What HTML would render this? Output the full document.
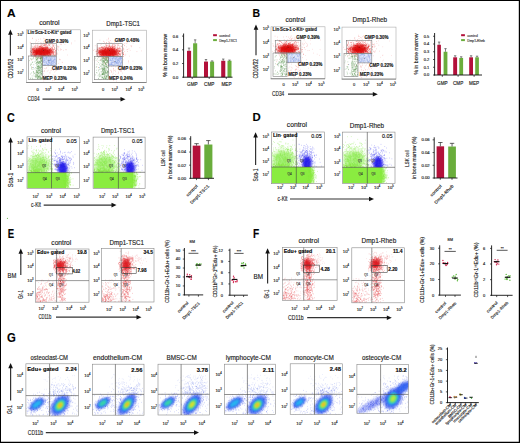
<!DOCTYPE html><html><head><meta charset="utf-8"><style>html,body{margin:0;padding:0;background:#fff;width:520px;height:443px;overflow:hidden}svg{display:block;font-family:"Liberation Sans",sans-serif}svg text{stroke:#222;stroke-width:.14px}</style></head><body><svg width="520" height="443" viewBox="0 0 520 443"><defs><filter id="b8" x="-50%" y="-50%" width="200%" height="200%"><feGaussianBlur stdDeviation="0.8"/></filter><filter id="b10" x="-50%" y="-50%" width="200%" height="200%"><feGaussianBlur stdDeviation="1.0"/></filter><filter id="b11" x="-50%" y="-50%" width="200%" height="200%"><feGaussianBlur stdDeviation="1.1"/></filter><filter id="b12" x="-50%" y="-50%" width="200%" height="200%"><feGaussianBlur stdDeviation="1.2"/></filter><filter id="b14" x="-50%" y="-50%" width="200%" height="200%"><feGaussianBlur stdDeviation="1.4"/></filter><filter id="b22" x="-50%" y="-50%" width="200%" height="200%"><feGaussianBlur stdDeviation="2.2"/></filter><clipPath id="c0"><rect x="26.5" y="29.8" width="54" height="52.7"/></clipPath><clipPath id="c1"><rect x="92.5" y="30.2" width="54" height="52.3"/></clipPath><clipPath id="c2"><rect x="271" y="26.8" width="54" height="52"/></clipPath><clipPath id="c3"><rect x="342" y="27.1" width="54" height="52"/></clipPath><clipPath id="c4"><rect x="27" y="136.8" width="52.4" height="51.6"/></clipPath><clipPath id="c5"><rect x="51.5" y="136.8" width="27.900000000000006" height="35.79999999999998"/></clipPath><clipPath id="c6"><rect x="93.1" y="137.1" width="52" height="51.5"/></clipPath><clipPath id="c7"><rect x="118.4" y="137.1" width="26.69999999999999" height="35.20000000000002"/></clipPath><clipPath id="c8"><rect x="271.3" y="132" width="53" height="51.7"/></clipPath><clipPath id="c9"><rect x="296.3" y="132" width="28.0" height="35"/></clipPath><clipPath id="c10"><rect x="342.3" y="132.1" width="52.7" height="51.5"/></clipPath><clipPath id="c11"><rect x="367.3" y="132.1" width="27.69999999999999" height="35.20000000000002"/></clipPath><clipPath id="c12"><rect x="35.5" y="249" width="53.5" height="53.2"/></clipPath><clipPath id="c13"><rect x="101.4" y="248.3" width="52.6" height="53.7"/></clipPath><clipPath id="c14"><rect x="282.3" y="247.5" width="54.8" height="52.9"/></clipPath><clipPath id="c15"><rect x="351.8" y="247.8" width="52.6" height="55"/></clipPath><clipPath id="c16"><rect x="25.9" y="363.8" width="52.5" height="52.2"/></clipPath><clipPath id="c17"><rect x="92.3" y="364.2" width="51.7" height="51"/></clipPath><clipPath id="c18"><rect x="158" y="364.2" width="51.5" height="50.8"/></clipPath><clipPath id="c19"><rect x="224.4" y="364.2" width="51.2" height="50.3"/></clipPath><clipPath id="c20"><rect x="290.2" y="363.8" width="52.3" height="50.7"/></clipPath><clipPath id="c21"><rect x="356.9" y="364.4" width="51.5" height="49"/></clipPath></defs><rect x="0" y="0" width="520" height="443" fill="#fff"/><text x="7" y="16.8" font-size="11.4" font-weight="bold" fill="#000" textLength="8.6" lengthAdjust="spacingAndGlyphs">A</text>
<text x="252.6" y="16.9" font-size="11.4" font-weight="bold" fill="#000" textLength="7.6" lengthAdjust="spacingAndGlyphs">B</text>
<text x="6.9" y="121.6" font-size="12.6" font-weight="bold" fill="#000" textLength="7.8" lengthAdjust="spacingAndGlyphs">C</text>
<text x="252.4" y="121.4" font-size="11.4" font-weight="bold" fill="#000" textLength="8.2" lengthAdjust="spacingAndGlyphs">D</text>
<text x="7.7" y="237.5" font-size="11.9" font-weight="bold" fill="#000" textLength="6.4" lengthAdjust="spacingAndGlyphs">E</text>
<text x="253.1" y="237.5" font-size="11.9" font-weight="bold" fill="#000" textLength="6.2" lengthAdjust="spacingAndGlyphs">F</text>
<text x="7" y="341.6" font-size="12.4" font-weight="bold" fill="#000" textLength="8.8" lengthAdjust="spacingAndGlyphs">G</text>
<text x="39.2" y="25.4" font-size="6.4" fill="#222" textLength="20.4" lengthAdjust="spacingAndGlyphs">control</text>
<g clip-path="url(#c0)">
<path transform="scale(.1)" d="M455 526h5M433 455h5M419 449h5M460 588h5M416 471h5M494 529h5M463 452h5M453 550h5M347 481h5M303 431h5M308 494h5M354 524h5M468 497h5M451 515h5M333 479h5M377 459h5M540 460h5M452 561h5M408 501h5M464 512h5M357 513h5M564 415h5M524 515h5M404 628h5M516 436h5M461 543h5M440 549h5M450 548h5M570 467h5M471 480h5M465 437h5M409 496h5M527 577h5M349 460h5M507 388h5M418 502h5M556 549h5M429 486h5M435 599h5M421 490h5M483 501h5M439 441h5M454 481h5M548 547h5M453 548h5M428 571h5M455 543h5M352 529h5M320 386h5M431 454h5M468 643h5M388 471h5M471 538h5M441 496h5M511 539h5M372 503h5M458 445h5M476 457h5M533 520h5M462 473h5M446 388h5M364 530h5M285 559h5M315 553h5M387 555h5M465 416h5M555 595h5M450 492h5M442 449h5M543 475h5M451 460h5M405 431h5M556 499h5M532 509h5M399 488h5M410 508h5M425 490h5M345 460h5M587 468h5M371 528h5M568 421h5M438 470h5M314 552h5M453 512h5M395 535h5M412 499h5M366 435h5M562 478h5M478 506h5M420 478h5M505 490h5M443 509h5M549 549h5M486 474h5M344 565h5M532 500h5M498 555h5M521 563h5M419 599h5M355 560h5M495 560h5M605 597h5M363 407h5M520 447h5M454 558h5M323 381h5M476 511h5M435 510h5M386 417h5M442 450h5M324 538h5M450 532h5M376 469h5M375 455h5M471 461h5M483 528h5M617 424h5M526 503h5M454 421h5M418 553h5M448 513h5M432 577h5M400 390h5M562 511h5M361 452h5M545 517h5M459 505h5M458 556h5M499 521h5M372 539h5M400 574h5M353 500h5M454 429h5M593 596h5M418 554h5M475 504h5M462 443h5M433 497h5M550 528h5M455 600h5M411 485h5M310 602h5M532 563h5M509 515h5M472 493h5M439 511h5M576 541h5M450 473h5M404 604h5M496 512h5M427 441h5M450 560h5M424 494h5M437 515h5M328 494h5M387 561h5M393 543h5M577 489h5M407 519h5M455 448h5M492 629h5M434 496h5M371 527h5M355 442h5M557 454h5M542 599h5M476 541h5M611 496h5M408 427h5M458 597h5M532 451h5M387 478h5M478 496h5M472 526h5M431 506h5M472 503h5M495 620h5M502 511h5M320 531h5M299 423h5M523 550h5M443 405h5M425 467h5M506 643h5M472 461h5M361 505h5M441 439h5M464 439h5M544 572h5M542 480h5M496 500h5M424 488h5M351 421h5M519 497h5M472 568h5M316 461h5M469 532h5M425 570h5M472 435h5M381 556h5M492 394h5M563 544h5M562 485h5M431 440h5M658 497h5M582 469h5M468 408h5M424 567h5M355 572h5M482 445h5M415 480h5M451 476h5M389 490h5M373 431h5M451 561h5M333 508h5M403 449h5M523 477h5M575 461h5M486 494h5M395 543h5M443 544h5M451 443h5M447 511h5M532 454h5M452 405h5M507 443h5M310 504h5M543 417h5M368 463h5M365 531h5M390 465h5M502 463h5M490 450h5M358 398h5M604 489h5M475 506h5M468 511h5M608 446h5M330 447h5M348 553h5M521 450h5M344 487h5M497 443h5M538 443h5M432 418h5M377 591h5M521 484h5M385 394h5M424 506h5M448 502h5M365 504h5M452 585h5M604 500h5M394 504h5M406 463h5M450 445h5M503 502h5M475 497h5M397 451h5M436 475h5M474 508h5M346 512h5M348 471h5M431 383h5M462 517h5M442 483h5M425 449h5M433 475h5M462 436h5M474 517h5M444 482h5M499 408h5M492 523h5M478 531h5M403 492h5M506 534h5M472 417h5M498 578h5M536 522h5M330 565h5M485 418h5M351 470h5M557 486h5M477 613h5M583 502h5M436 432h5M399 534h5M487 515h5M535 462h5M451 552h5M502 572h5M487 489h5M484 448h5" stroke="#e41a1c" stroke-width="5" stroke-opacity="0.6"/>
<path transform="scale(.1)" d="M544 659h5M481 756h5M425 586h5M535 633h5M459 769h5M445 684h5M537 680h5M521 807h5M455 647h5M462 578h5M556 665h5M463 606h5M523 588h5M443 708h5M539 804h5M441 711h5M497 728h5M430 648h5M502 709h5M544 754h5M437 714h5M463 766h5M532 704h5M510 617h5M469 712h5M513 689h5M489 609h5M546 721h5M466 770h5M531 601h5M514 703h5M529 749h5M478 668h5M526 635h5M523 660h5M479 702h5M429 738h5M560 706h5M525 594h5M454 770h5M527 796h5M464 593h5M491 630h5M545 611h5M488 778h5M465 793h5M468 579h5M436 650h5M456 616h5M463 684h5M449 796h5M434 585h5M490 610h5M455 688h5M528 697h5M554 752h5M463 676h5M505 603h5M496 655h5M436 811h5M442 753h5M549 597h5M491 768h5M538 645h5M434 761h5M508 571h5M546 783h5M546 608h5M426 681h5M498 731h5" stroke="#e41a1c" stroke-width="5" stroke-opacity="0.5"/>
<path transform="scale(.1)" d="M657 497h5M581 634h5M576 479h5M608 443h5M557 538h5M593 591h5M574 697h5M647 445h5M623 626h5M674 550h5M607 440h5M552 709h5M618 621h5M711 439h5M601 688h5M634 431h5M711 428h5M634 504h5M740 698h5M747 409h5" stroke="#e41a1c" stroke-width="5" stroke-opacity="0.45"/>
<ellipse cx="42.5" cy="52.1" rx="10" ry="4.2" fill="#e00c0c" fill-opacity="0.92" filter="url(#b14)"/>
<path transform="scale(.1)" d="M459 562h6M318 543h6M401 500h6M455 492h6M323 501h6M444 529h6M523 514h6M320 497h6M360 483h6M448 501h6M413 531h6M427 539h6M422 557h6M448 532h6M447 476h6M409 512h6M433 479h6M526 523h6M341 469h6M402 517h6M373 523h6M378 537h6M373 519h6M355 506h6M365 544h6M345 505h6M418 491h6M358 506h6M393 524h6M408 467h6M390 544h6M456 518h6M362 539h6M382 485h6M434 555h6M389 548h6M381 515h6M387 517h6M441 556h6M388 468h6M402 520h6M427 560h6M441 544h6M348 546h6M556 543h6M436 525h6M536 492h6M413 534h6M468 507h6M440 512h6M428 516h6M346 519h6M477 491h6M404 540h6M350 525h6M351 554h6M406 542h6M428 523h6M521 480h6M489 519h6M512 526h6M376 528h6M468 521h6M452 504h6M465 524h6M424 551h6M390 499h6M408 556h6M330 556h6M378 487h6M502 517h6M335 509h6M481 556h6M392 532h6M466 501h6M443 519h6M385 505h6M424 521h6M383 507h6M492 526h6M478 556h6M366 544h6M531 461h6M357 540h6M471 542h6M415 534h6M462 518h6M487 452h6M461 489h6M482 513h6M362 531h6M361 493h6M318 519h6M452 551h6M411 551h6M421 517h6M457 552h6M398 513h6M410 522h6M361 551h6M394 534h6M366 531h6M445 507h6M551 531h6M536 549h6M377 509h6M448 522h6M423 511h6M302 513h6M373 499h6M406 528h6M327 468h6M351 459h6M351 540h6M331 529h6M399 518h6M433 524h6M357 538h6M404 545h6M477 509h6M369 512h6M330 524h6M348 494h6M394 550h6M367 499h6M478 546h6M396 486h6M319 499h6M379 534h6M541 555h6M345 546h6M495 498h6M358 517h6M402 513h6M431 528h6M406 554h6M374 524h6M434 493h6M378 544h6M443 500h6M325 529h6M434 514h6M385 514h6M384 542h6M394 507h6M342 519h6M362 515h6M488 531h6M453 531h6M424 516h6M400 543h6M350 560h6M422 498h6M388 500h6M430 498h6M494 497h6M489 539h6M333 497h6M536 530h6M420 552h6M429 531h6M460 502h6M351 522h6M358 518h6M365 516h6M409 533h6M488 505h6M367 471h6M360 536h6M423 490h6M396 521h6M453 502h6M404 465h6M434 509h6M367 518h6M420 518h6M364 504h6M435 539h6M478 505h6M480 555h6M494 562h6M411 515h6M474 479h6M434 504h6M396 468h6M362 519h6M478 550h6M415 514h6M366 532h6M404 538h6M534 519h6M323 494h6M325 484h6M505 527h6M321 540h6M502 509h6M376 510h6M438 539h6M497 556h6M497 561h6M463 474h6M411 529h6M395 547h6M397 492h6M514 540h6M434 548h6M489 530h6M390 490h6M433 556h6M388 486h6M552 506h6M340 527h6M448 499h6M471 505h6M360 525h6M470 501h6M441 517h6M510 518h6M412 542h6M478 558h6M441 502h6M385 535h6M458 562h6M447 552h6M519 525h6M323 485h6M365 557h6M485 517h6M407 523h6M431 504h6M309 528h6M361 526h6M475 518h6M470 472h6M492 502h6M460 525h6M439 528h6M537 521h6M406 471h6M467 558h6M455 490h6M507 483h6M406 528h6M477 532h6M445 497h6M336 522h6M374 481h6M338 505h6M314 525h6M323 500h6M479 513h6M398 485h6M334 530h6M440 479h6M356 536h6M458 501h6M460 537h6M304 511h6M447 503h6M347 549h6M500 549h6M430 485h6M461 499h6M419 484h6M408 454h6M309 523h6M356 515h6M504 519h6M499 497h6M398 547h6M339 512h6M334 524h6M526 497h6M435 493h6M345 483h6M451 499h6M466 510h6M472 529h6M438 538h6M382 508h6M308 507h6M328 516h6M358 523h6M449 477h6M367 492h6M475 510h6M515 475h6M517 500h6M523 489h6M431 514h6M427 476h6M376 534h6M434 556h6M373 528h6M506 492h6M454 518h6M352 510h6M387 505h6M469 540h6M382 493h6M438 517h6M475 519h6M409 494h6M361 490h6M394 507h6M468 508h6M407 483h6M527 535h6M536 544h6M517 513h6M340 555h6M530 533h6M470 558h6M376 533h6M362 499h6M379 516h6M430 534h6M497 542h6M396 517h6M456 533h6M308 543h6M486 531h6M341 525h6M518 514h6M392 524h6M359 547h6M336 541h6M413 440h6M420 487h6M345 487h6M516 524h6M523 530h6M361 518h6M502 549h6M420 522h6M412 502h6M549 520h6M344 505h6M469 540h6M411 499h6M422 468h6M333 545h6M388 532h6M501 540h6M465 509h6M469 533h6M363 522h6M409 459h6M408 511h6M391 469h6M396 519h6M427 485h6M462 483h6M405 560h6M374 504h6M492 508h6M400 527h6M490 452h6M365 489h6M348 494h6M364 529h6M361 524h6M447 498h6M441 500h6M416 492h6M438 546h6M366 514h6M494 505h6M432 489h6M366 504h6M561 508h6M386 503h6M409 540h6M438 538h6M326 516h6M416 513h6M395 507h6M403 513h6M446 482h6M359 529h6M429 509h6M383 495h6M416 555h6M475 506h6M471 476h6M307 481h6M393 510h6M387 523h6M328 500h6M393 485h6M331 490h6M419 538h6M457 490h6M369 492h6M449 459h6M500 505h6M369 530h6M487 530h6M488 524h6M500 557h6M431 523h6M360 511h6M471 481h6M462 530h6M438 454h6M413 539h6M370 523h6M377 546h6M300 541h6M405 544h6M360 501h6M566 495h6M374 512h6M354 556h6M532 499h6M308 555h6M492 545h6M495 494h6M409 478h6M328 549h6M425 501h6M452 483h6M444 561h6M388 497h6M486 524h6M348 509h6M371 529h6M427 555h6M466 473h6M446 547h6M450 551h6M384 491h6M480 488h6M373 511h6M329 480h6M345 509h6M444 451h6M469 485h6M351 540h6M415 474h6M540 494h6M436 526h6M512 506h6M486 498h6M493 497h6M441 523h6M566 531h6M367 542h6M343 554h6M498 503h6M379 525h6M421 491h6M457 459h6M392 508h6M402 529h6M340 538h6M408 500h6M331 485h6M443 491h6M424 552h6M401 487h6M486 529h6M493 520h6M498 545h6M467 535h6M446 527h6M435 550h6M413 550h6M414 513h6M552 511h6M337 499h6M433 548h6M355 531h6M375 538h6M440 489h6M419 512h6M455 507h6M437 551h6M512 504h6M473 513h6M416 517h6M420 553h6M428 515h6M402 530h6M362 505h6M417 503h6M412 502h6M550 560h6M449 518h6M562 530h6M414 529h6M363 541h6M399 518h6M480 558h6M348 510h6M329 524h6M413 510h6M376 508h6M371 536h6M519 462h6M412 507h6M452 491h6M410 489h6M465 523h6M410 531h6M404 473h6M459 529h6M410 550h6M499 487h6M512 498h6M343 501h6M388 472h6M422 482h6M341 547h6M376 518h6M461 544h6M398 521h6M462 487h6M420 541h6M509 504h6M414 482h6M436 525h6M427 482h6M364 509h6M442 515h6M362 544h6M385 505h6M330 496h6M462 471h6M415 542h6M395 527h6M347 559h6M492 527h6M306 489h6M439 557h6M380 514h6M420 533h6M321 548h6M506 486h6M332 531h6M377 449h6M473 525h6M429 497h6M427 489h6M370 532h6M384 506h6M528 546h6M472 536h6M358 512h6M330 510h6M377 520h6M397 498h6M343 522h6M307 523h6M421 500h6M354 478h6M542 480h6" stroke="#dd1111" stroke-width="6" stroke-opacity="0.85"/>
<path transform="scale(.1)" d="M365 742h6M365 573h6M359 677h6M386 704h6M333 579h6M355 634h6M351 772h6M376 792h6M318 759h6M293 606h6M302 740h6M313 669h6M401 606h6M383 676h6M387 776h6M348 765h6M303 656h6M350 582h6M402 771h6M356 790h6M372 683h6M339 619h6M310 690h6M371 725h6M353 676h6M335 647h6M324 624h6M380 635h6M331 579h6M365 625h6M324 782h6M388 570h6M339 732h6M352 746h6M411 659h6M383 702h6M386 618h6M334 718h6M399 727h6M340 733h6M418 679h6M406 786h6M376 763h6M398 697h6M361 722h6M385 630h6M306 780h6M419 713h6M394 769h6M309 633h6M322 789h6M365 592h6M389 687h6M309 593h6M415 611h6M335 740h6M419 583h6M388 654h6M353 611h6M337 759h6M303 587h6M301 644h6M372 761h6M391 723h6M408 726h6M337 791h6M412 573h6M329 718h6M412 736h6M409 736h6M310 729h6M402 584h6M381 587h6M381 742h6M399 706h6M360 627h6M356 570h6M338 688h6M402 588h6M407 736h6M311 645h6M390 750h6M326 590h6M314 679h6M316 590h6M365 744h6M326 694h6M321 621h6M303 785h6M332 721h6M377 710h6M411 738h6M380 573h6M416 593h6M374 728h6M419 780h6M359 709h6M403 773h6M374 581h6M383 769h6M396 765h6M358 709h6M370 665h6M362 727h6M403 623h6M369 718h6M387 724h6M376 689h6M370 627h6M416 568h6M388 612h6M397 756h6M401 616h6M408 585h6M372 623h6M360 685h6M385 700h6M366 765h6M356 760h6M415 786h6M396 767h6M382 669h6M364 600h6M404 783h6M390 619h6M366 708h6M419 628h6M417 752h6M415 613h6M409 663h6M390 617h6M375 762h6M397 707h6M365 710h6M395 639h6M359 608h6M356 761h6M402 740h6M377 733h6M400 792h6M406 694h6M409 608h6M395 705h6M410 633h6M398 683h6M415 671h6M413 695h6M358 775h6M372 750h6M380 661h6M371 752h6M366 762h6M412 742h6M357 692h6M367 770h6M404 679h6M370 592h6M372 629h6M418 716h6M405 653h6M384 663h6M364 658h6M372 611h6M419 589h6M406 579h6M360 719h6M401 641h6M379 671h6M402 778h6M374 709h6M363 750h6M356 740h6M374 783h6M411 583h6M413 654h6M399 782h6M404 672h6M368 781h6M378 610h6M413 582h6M419 769h6M384 661h6M405 682h6M416 779h6M420 617h6M374 786h6M398 657h6M380 624h6M385 621h6M385 685h6M373 673h6M356 767h6M405 579h6M400 578h6M410 602h6M365 704h6M370 744h6M394 676h6M416 706h6M386 713h6M368 572h6M394 623h6M417 792h6M411 642h6M413 781h6M382 679h6M372 618h6M412 569h6M406 617h6M410 640h6M380 667h6M374 669h6M371 691h6M412 675h6M415 575h6M379 628h6M412 784h6M380 574h6M384 733h6M392 675h6M369 727h6M372 643h6M372 651h6M372 684h6M389 773h6M362 642h6M406 587h6M366 577h6M384 766h6M397 639h6M364 595h6M382 702h6M392 758h6M391 703h6M413 602h6M406 659h6M363 628h6M409 572h6M391 785h6M399 671h6M365 598h6M386 767h6M400 790h6M407 752h6M407 625h6M369 611h6M409 686h6M392 699h6M398 766h6M410 786h6M381 773h6M415 645h6M412 700h6M408 596h6M380 685h6M389 584h6M366 593h6M404 595h6M413 636h6M365 638h6M403 727h6M400 585h6M357 593h6M415 716h6M386 719h6M372 728h6M357 730h6M406 717h6M377 692h6M388 735h6M368 586h6M394 616h6M381 735h6M407 611h6M398 687h6M402 627h6M371 665h6M359 756h6M412 717h6M416 668h6M397 630h6M415 749h6M401 716h6M394 667h6M382 764h6M378 724h6M387 789h6M369 717h6M383 770h6M388 692h6M357 728h6M381 758h6M373 588h6M396 675h6M408 704h6M395 581h6M398 746h6M395 729h6M372 779h6M379 652h6M410 674h6M416 773h6M367 661h6M356 756h6M417 663h6M411 644h6M394 630h6M408 616h6M394 665h6M414 604h6M371 754h6M384 787h6M399 590h6M369 580h6M401 569h6M372 778h6M401 585h6M407 721h6M383 636h6M419 613h6" stroke="#4d8c43" stroke-width="6" stroke-opacity="0.75"/>
<rect x="42.5" y="56" width="13.8" height="9.6" fill="#dfe6f8"/>
<path transform="scale(.1)" d="M461 631h6M519 653h6M430 576h6M542 654h6M503 607h6M459 583h6M456 598h6M514 597h6M511 645h6M470 612h6M472 571h6M489 629h6M548 609h6M499 637h6M539 569h6M513 642h6M502 644h6M493 566h6M518 607h6M493 576h6M524 612h6M452 573h6M471 644h6M543 581h6M480 624h6M539 623h6M552 594h6M504 584h6M441 646h6M528 569h6M516 588h6M466 594h6M542 617h6M492 598h6M436 575h6M437 616h6M458 629h6M508 628h6M536 609h6M441 592h6M431 566h6M510 612h6M482 621h6M486 604h6M536 650h6M549 583h6M556 637h6M531 629h6M428 645h6M448 647h6M506 586h6M554 647h6M439 601h6M496 625h6M480 650h6M482 618h6M463 617h6M464 571h6M459 618h6M442 586h6M501 600h6M487 599h6M522 652h6M512 622h6M554 630h6M473 580h6M544 592h6M479 643h6M515 576h6M534 650h6M480 603h6M487 600h6M511 611h6M443 604h6M498 607h6M441 603h6M458 627h6M510 590h6M556 580h6M560 604h6M462 573h6M447 605h6M496 609h6M486 635h6M478 575h6M529 600h6M522 634h6M502 595h6M510 639h6M505 629h6M517 569h6M550 599h6M553 633h6M557 612h6M541 625h6M442 653h6M488 625h6M531 614h6M467 640h6M508 603h6M435 566h6M455 589h6M481 618h6M437 649h6M484 619h6M458 590h6M542 653h6M470 601h6M478 585h6M534 614h6M502 596h6M435 575h6M457 628h6M509 627h6M454 652h6M461 577h6M510 646h6M493 636h6M464 588h6M502 608h6M512 621h6M433 593h6M464 575h6M469 640h6M544 580h6M435 609h6M474 604h6M454 645h6M520 615h6M535 603h6M436 652h6M542 596h6M520 630h6M457 586h6M549 632h6M467 632h6M532 639h6M438 608h6M488 585h6M495 621h6M546 646h6M538 593h6M500 567h6M435 581h6M485 648h6M478 566h6M559 570h6M518 574h6M481 644h6M476 599h6M529 627h6M441 628h6M536 604h6M517 630h6M485 606h6M522 613h6M481 592h6M447 565h6M483 618h6M435 589h6M439 589h6M486 643h6M537 597h6M455 574h6M494 621h6M557 613h6M537 570h6M547 596h6M517 619h6M506 590h6M505 653h6M507 636h6M489 610h6M476 646h6M460 568h6M437 585h6M477 646h6M530 610h6M501 580h6M450 616h6M535 630h6M433 619h6M551 569h6M514 568h6M501 601h6M482 566h6M537 572h6M429 622h6M430 604h6M497 573h6M467 643h6M481 598h6M499 644h6M434 619h6M558 620h6M517 603h6M441 625h6M525 587h6M498 588h6M519 643h6" stroke="#7c98e4" stroke-width="6" stroke-opacity="0.7"/>
<g fill="none" stroke="#808080" stroke-width="0.6">
<rect x="31.1" y="43.3" width="25.2" height="12.7" fill="none"/>
<rect x="28.5" y="56" width="14" height="23.3" fill="none"/>
<rect x="42.5" y="56" width="13.8" height="9.6" fill="none"/>
</g>
<text x="42.7" y="50.6" font-size="2.5" fill="#222">•</text>
<text x="48.5" y="61.3" font-size="2.5" fill="#222">•</text>
<text x="32.5" y="67.8" font-size="2.5" fill="#222">•</text>
</g>
<rect x="26.5" y="29.8" width="54" height="52.7" fill="none" stroke="#aaa" stroke-width="0.6"/>
<line x1="26.2" y1="82.5" x2="80.5" y2="82.5" stroke="#666" stroke-width="0.7"/>
<text x="27.6" y="33.6" font-size="4.9" font-weight="bold" fill="#151515" textLength="43.9" lengthAdjust="spacingAndGlyphs">Lin<tspan dy="-1.5" font-size="3">-</tspan><tspan dy="1.5">Sca-1</tspan><tspan dy="-1.5" font-size="3">-</tspan><tspan dy="1.5">c-Kit</tspan><tspan dy="-1.5" font-size="3">+</tspan><tspan dy="1.5"> gated</tspan></text>
<text x="45" y="42.5" font-size="4.9" font-weight="bold" fill="#151515" textLength="23.4" lengthAdjust="spacingAndGlyphs">GMP 0.39%</text>
<text x="52" y="70.4" font-size="4.9" font-weight="bold" fill="#151515" textLength="24.5" lengthAdjust="spacingAndGlyphs">CMP 0.22%</text>
<text x="42.7" y="79.5" font-size="4.9" font-weight="bold" fill="#151515" textLength="24.3" lengthAdjust="spacingAndGlyphs">MEP 0.23%</text>
<text x="17.3" y="36.4" font-size="4.3" fill="#222">10<tspan font-size="2.67" dy="-1.94">5</tspan></text>
<text x="17.3" y="48.9" font-size="4.3" fill="#222">10<tspan font-size="2.67" dy="-1.94">4</tspan></text>
<text x="17.3" y="61.4" font-size="4.3" fill="#222">10<tspan font-size="2.67" dy="-1.94">3</tspan></text>
<text x="17.3" y="74.4" font-size="4.3" fill="#222">10<tspan font-size="2.67" dy="-1.94">2</tspan></text>
<text x="37.5" y="90.8" font-size="4" text-anchor="middle" fill="#333">0</text>
<text x="45" y="90.8" font-size="4.3" fill="#222">10<tspan font-size="2.67" dy="-1.94">3</tspan></text>
<text x="58" y="90.8" font-size="4.3" fill="#222">10<tspan font-size="2.67" dy="-1.94">4</tspan></text>
<text x="71.5" y="90.8" font-size="4.3" fill="#222">10<tspan font-size="2.67" dy="-1.94">5</tspan></text>
<text x="106.3" y="25.7" font-size="6.4" fill="#222" textLength="33.7" lengthAdjust="spacingAndGlyphs">Dmp1-TSC1</text>
<g clip-path="url(#c1)">
<path transform="scale(.1)" d="M1153 523h5M1269 429h5M1267 497h5M1126 491h5M1170 517h5M1024 569h5M1171 548h5M1196 578h5M1113 431h5M1004 593h5M1172 518h5M1080 514h5M1117 492h5M1059 642h5M1133 476h5M1011 468h5M1173 558h5M1098 515h5M1091 446h5M1219 534h5M1313 467h5M1104 565h5M1095 429h5M1039 518h5M1142 506h5M1195 572h5M1141 514h5M1095 545h5M1189 516h5M1151 493h5M1002 452h5M1176 539h5M1242 515h5M1184 591h5M1195 475h5M1100 520h5M1036 540h5M1197 483h5M1273 495h5M1099 498h5M1058 537h5M1117 612h5M1164 544h5M1097 427h5M1108 461h5M1191 510h5M1248 556h5M1182 526h5M1132 551h5M1189 469h5M1154 669h5M1108 497h5M1060 425h5M1210 516h5M1139 623h5M1316 459h5M1199 549h5M1147 541h5M1113 607h5M1164 533h5M1215 566h5M1152 532h5M1256 543h5M1108 461h5M1088 449h5M1124 528h5M951 513h5M1167 522h5M1039 588h5M1060 438h5M1029 511h5M1194 582h5M1132 441h5M1063 458h5M1101 406h5M1124 551h5M1103 540h5M1040 425h5M1064 581h5M1197 485h5M1211 493h5M1236 541h5M1079 560h5M1053 456h5M999 528h5M1111 507h5M1082 598h5M1081 469h5M1215 597h5M1142 408h5M1067 549h5M1116 605h5M1006 553h5M1065 591h5M1109 574h5M1063 427h5M1026 476h5M1033 584h5M1222 528h5M1032 505h5M1060 599h5M1140 541h5M1083 391h5M1053 445h5M1145 518h5M1051 489h5M1240 454h5M1042 498h5M1059 486h5M1158 616h5M973 511h5M1118 507h5M1100 492h5M1195 484h5M1105 512h5M1124 502h5M1195 511h5M1129 509h5M1035 462h5M1031 524h5M1058 448h5M1134 544h5M974 613h5M1118 506h5M1200 516h5M1067 644h5M1029 506h5M1183 448h5M1107 535h5M1307 458h5M1111 552h5M1121 440h5M1148 518h5M1151 580h5M1196 536h5M1140 446h5M1104 525h5M1083 518h5M1049 604h5M1287 489h5M1147 498h5M1216 538h5M1121 499h5M1125 452h5M1169 469h5M1158 520h5M1203 511h5M1197 457h5M1164 499h5M1131 516h5M1190 391h5M1141 422h5M1212 394h5M1035 412h5M1246 435h5M1124 480h5M971 492h5M1168 501h5M1190 490h5M1116 489h5M1142 626h5M1144 524h5M1066 467h5M1232 445h5M1042 506h5M1081 629h5M1172 445h5M1063 538h5M1245 457h5M989 570h5M1237 492h5M938 599h5M1099 579h5M1112 489h5M1079 600h5M1230 384h5M1040 619h5M1086 430h5M1115 505h5M1107 483h5M1090 485h5M1142 463h5M1092 503h5M1219 534h5M1106 544h5M1147 577h5M1156 620h5M1223 510h5M1082 565h5M1156 506h5M997 402h5M1143 558h5M1179 435h5M1198 480h5M1146 537h5M1051 477h5M949 457h5M971 538h5M1120 567h5M1144 474h5M1143 489h5M1164 531h5M1036 512h5M1119 494h5M1187 615h5M1086 491h5M935 504h5M1080 382h5M1138 547h5M1056 490h5M1038 558h5M994 493h5M1271 515h5M1152 503h5M1021 510h5M1148 451h5M1142 587h5M1201 417h5M1037 415h5M1201 549h5M1171 459h5M1022 517h5M1123 461h5M1126 551h5M1133 450h5M946 496h5M1128 496h5M1081 471h5M1172 509h5M1125 454h5M1065 522h5M1035 436h5M1089 584h5M1130 600h5M1104 493h5M1004 477h5M1230 532h5M1174 554h5M1114 500h5M1125 552h5M1152 542h5M1127 466h5M1094 456h5M1195 386h5M1098 655h5M1088 444h5M1114 589h5M1102 549h5M1123 490h5M1367 516h5M1072 483h5M1145 537h5M1177 520h5M1000 544h5M1090 495h5M996 478h5M1057 510h5M999 515h5M1125 445h5M1065 461h5M1088 412h5M1080 563h5M1065 520h5M1047 628h5M1188 580h5M1009 446h5M1201 500h5M1094 532h5M1015 558h5M1116 541h5M1061 543h5M1059 569h5M1205 567h5M1156 550h5M1093 518h5M1092 429h5M1072 552h5M1228 475h5M1043 599h5M1044 636h5M1119 459h5M1194 614h5M1000 606h5M1092 601h5M1085 417h5M1155 568h5M1283 615h5M1171 498h5M1073 494h5M1049 496h5M1113 666h5M1176 483h5M1160 438h5M1067 400h5M1230 548h5" stroke="#e41a1c" stroke-width="5" stroke-opacity="0.6"/>
<path transform="scale(.1)" d="M1129 667h5M1156 607h5M1183 720h5M1212 623h5M1217 661h5M1200 704h5M1134 806h5M1209 608h5M1184 590h5M1109 703h5M1218 801h5M1120 583h5M1180 728h5M1182 579h5M1212 706h5M1178 601h5M1223 732h5M1093 660h5M1090 731h5M1112 635h5M1166 590h5M1144 616h5M1097 639h5M1113 612h5M1166 620h5M1141 704h5M1192 678h5M1150 773h5M1208 693h5M1191 703h5M1154 745h5M1135 779h5M1115 714h5M1126 581h5M1135 684h5M1136 580h5M1110 719h5M1151 588h5M1101 703h5M1207 608h5M1162 780h5M1098 595h5M1131 732h5M1121 743h5M1107 639h5M1152 716h5M1111 652h5M1106 635h5M1183 635h5M1145 576h5M1179 736h5M1151 589h5M1156 620h5M1128 593h5M1145 767h5M1152 701h5M1133 686h5M1201 714h5M1119 768h5M1116 724h5M1133 697h5M1195 648h5M1204 698h5M1164 812h5M1135 710h5M1176 688h5M1201 788h5M1119 585h5M1178 587h5M1184 764h5" stroke="#e41a1c" stroke-width="5" stroke-opacity="0.5"/>
<path transform="scale(.1)" d="M1412 509h5M1216 626h5M1210 717h5M1207 465h5M1332 679h5M1235 599h5M1328 434h5M1351 407h5M1208 685h5M1396 477h5M1261 436h5M1327 612h5M1283 628h5M1281 688h5M1294 562h5M1206 502h5M1299 504h5M1263 468h5M1284 605h5M1241 704h5" stroke="#e41a1c" stroke-width="5" stroke-opacity="0.45"/>
<ellipse cx="108.5" cy="52.5" rx="10" ry="4.2" fill="#e00c0c" fill-opacity="0.92" filter="url(#b14)"/>
<path transform="scale(.1)" d="M1056 520h6M1130 562h6M1054 515h6M1101 515h6M1067 495h6M1085 561h6M1052 509h6M1035 520h6M1199 489h6M1186 494h6M1065 549h6M1121 532h6M973 535h6M1066 530h6M1005 510h6M996 553h6M1063 541h6M1036 509h6M1164 495h6M963 536h6M1006 511h6M1139 499h6M1137 504h6M1177 564h6M1049 518h6M1026 530h6M1155 481h6M1140 484h6M1024 470h6M1217 526h6M1096 504h6M1149 461h6M1055 525h6M1124 500h6M1081 553h6M1093 535h6M1057 533h6M1127 517h6M1129 496h6M1140 492h6M1050 531h6M1160 523h6M1073 508h6M1186 556h6M1074 482h6M1029 541h6M1033 551h6M1103 533h6M1122 539h6M1024 514h6M1232 488h6M1049 556h6M1070 500h6M994 540h6M1146 566h6M1083 555h6M1013 529h6M1036 529h6M1129 556h6M1016 562h6M1049 493h6M1069 480h6M1080 533h6M1067 540h6M1060 524h6M986 525h6M1025 511h6M1074 530h6M973 477h6M1060 538h6M1103 551h6M1165 539h6M1079 493h6M1019 510h6M1097 531h6M1080 519h6M1121 530h6M1099 533h6M1044 493h6M1112 537h6M1066 512h6M1228 501h6M1066 532h6M1005 528h6M1197 552h6M1121 542h6M1087 553h6M1070 511h6M1087 551h6M1101 544h6M1232 564h6M1059 499h6M1098 494h6M1127 508h6M1142 565h6M1035 482h6M1040 517h6M1147 478h6M1119 540h6M1079 489h6M1115 536h6M1127 537h6M1182 484h6M1006 513h6M1037 545h6M1179 547h6M1055 543h6M1133 492h6M1103 545h6M1159 499h6M1088 499h6M1118 498h6M1140 536h6M1143 520h6M1069 565h6M1108 544h6M1199 534h6M1171 479h6M1137 517h6M1071 524h6M1033 559h6M1052 538h6M1054 544h6M1146 512h6M1083 481h6M1100 550h6M1044 558h6M990 509h6M1081 522h6M1076 546h6M1049 486h6M1175 539h6M1026 524h6M1136 560h6M1022 547h6M1096 557h6M1170 514h6M986 536h6M1195 545h6M1012 551h6M1043 525h6M1019 508h6M976 539h6M1050 537h6M1010 513h6M1148 519h6M1121 540h6M1057 477h6M1144 529h6M1144 464h6M972 460h6M1023 555h6M1117 523h6M1089 547h6M1060 536h6M1089 458h6M1055 565h6M1054 520h6M1041 509h6M1153 516h6M1043 465h6M961 548h6M1126 466h6M1135 538h6M1029 546h6M974 488h6M986 491h6M1137 484h6M1005 495h6M1093 514h6M1136 503h6M996 509h6M1082 496h6M1042 525h6M1167 504h6M1024 491h6M1105 539h6M1069 525h6M1162 549h6M988 523h6M1085 545h6M1064 504h6M1049 470h6M1077 505h6M1108 492h6M1050 494h6M1009 544h6M1048 536h6M1005 526h6M968 509h6M1045 540h6M1089 518h6M1132 528h6M1112 546h6M1073 514h6M1098 510h6M1102 556h6M1133 511h6M994 521h6M1069 556h6M1052 516h6M1125 508h6M1174 541h6M1094 494h6M1113 524h6M1091 507h6M1076 517h6M1097 565h6M1100 473h6M1014 475h6M1025 539h6M1103 505h6M1094 500h6M985 480h6M1021 565h6M990 560h6M1163 517h6M1074 504h6M1075 542h6M1077 552h6M1154 533h6M1098 521h6M1099 489h6M1103 529h6M1014 496h6M1095 464h6M1025 477h6M1014 518h6M1097 555h6M1129 558h6M1115 508h6M1149 508h6M1128 529h6M1125 549h6M988 520h6M1000 526h6M1033 563h6M1110 498h6M1075 486h6M1079 539h6M1093 464h6M1055 538h6M1096 557h6M993 538h6M1034 528h6M1103 543h6M1039 528h6M1000 480h6M1112 521h6M971 497h6M1144 546h6M960 519h6M1107 534h6M1103 515h6M1070 493h6M1210 506h6M1015 531h6M1054 538h6M1115 522h6M1149 514h6M1023 508h6M1079 491h6M1025 506h6M1052 493h6M1006 527h6M1232 544h6M1125 477h6M1075 487h6M1126 515h6M1079 520h6M1038 477h6M1114 481h6M999 513h6M1030 530h6M1142 530h6M1089 523h6M1132 467h6M1100 494h6M996 522h6M1051 540h6M1148 452h6M1133 566h6M1083 479h6M1003 544h6M1138 500h6M1059 530h6M962 512h6M1042 498h6M1098 528h6M1053 517h6M1141 504h6M1082 534h6M1139 525h6M1188 515h6M1037 508h6M1142 530h6M1023 533h6M1111 543h6M1026 550h6M1198 510h6M1125 476h6M1079 528h6M1039 514h6M1063 473h6M1159 541h6M1121 528h6M1228 525h6M1110 467h6M1039 502h6M1075 533h6M1007 509h6M1092 485h6M1114 541h6M1082 531h6M1014 472h6M1036 513h6M1047 546h6M1040 507h6M1005 549h6M1050 529h6M1102 539h6M1157 517h6M1066 544h6M1105 515h6M1080 507h6M1123 551h6M977 516h6M1188 510h6M973 564h6M1112 487h6M1127 492h6M990 518h6M1046 490h6M1053 492h6M1081 522h6M1125 509h6M990 483h6M1132 503h6M1138 488h6M1143 511h6M1127 541h6M1059 532h6M1007 520h6M1123 525h6M1011 554h6M969 498h6M1100 486h6M1177 555h6M1040 506h6M991 480h6M1106 541h6M1100 531h6M1040 533h6M981 523h6M1173 562h6M1047 513h6M979 510h6M1092 559h6M1022 542h6M1105 519h6M1055 554h6M1121 490h6M1091 482h6M1028 484h6M991 502h6M1013 539h6M1129 515h6M1004 547h6M1125 542h6M1141 516h6M995 507h6M1114 500h6M1031 481h6M1001 548h6M1107 488h6M1007 506h6M1113 487h6M1066 458h6M995 535h6M1136 488h6M1027 547h6M1052 506h6M1111 529h6M1150 547h6M1040 519h6M1073 482h6M1014 552h6M974 553h6M1096 519h6M1112 537h6M1156 511h6M1062 515h6M1200 551h6M1017 513h6M1031 523h6M1106 502h6M1068 508h6M1081 553h6M978 562h6M1104 560h6M1114 556h6M1081 498h6M1121 544h6M1214 463h6M1065 555h6M996 516h6M1216 566h6M1020 566h6M1155 546h6M1103 530h6M1021 508h6M1126 527h6M1198 513h6M1096 535h6M1083 498h6M1175 503h6M1124 515h6M1000 566h6M1106 513h6M1127 520h6M1064 519h6M1008 501h6M1121 540h6M1079 502h6M1123 472h6M1056 516h6M1024 528h6M1035 499h6M1196 546h6M1157 525h6M1142 547h6M1064 531h6M989 524h6M1121 506h6M1153 562h6M1193 538h6M1069 513h6M1087 508h6M1150 547h6M1159 541h6M1028 519h6M1137 512h6M1042 558h6M1129 523h6M1065 537h6M1134 547h6M1060 537h6M1135 547h6M1030 517h6M1092 552h6M1120 520h6M1040 533h6M1182 534h6M1055 521h6M1148 538h6M1063 551h6M1108 527h6M1100 532h6M1058 510h6M1082 495h6M998 563h6M1064 523h6M1071 525h6M1081 526h6M1028 552h6M1035 555h6M1144 520h6M1036 535h6M1012 526h6M1038 540h6M1137 498h6M1185 506h6M1180 521h6M1038 502h6M1009 565h6M1067 453h6M1135 513h6M1063 559h6M1080 501h6M1113 506h6M1160 553h6M1084 542h6M1117 516h6M1138 517h6M1120 495h6M1087 536h6M1029 512h6M1045 546h6M1033 537h6M1179 535h6M976 528h6M1148 516h6M1153 543h6M1108 516h6M1047 517h6M1085 540h6M1108 515h6M1085 536h6M975 501h6M1029 518h6M1063 517h6M1024 545h6M1099 475h6M1082 491h6M1192 511h6M1055 527h6M1068 523h6M1182 531h6M1135 558h6M1126 553h6M1025 549h6M1108 508h6M1230 542h6M1066 530h6M1140 558h6M1119 561h6M1177 488h6M1050 496h6M1124 493h6M1062 555h6M1047 522h6M1101 470h6M1132 535h6M1118 495h6M1031 507h6M1098 527h6M1166 503h6M1061 566h6M1185 508h6M1064 527h6M1025 495h6M1055 550h6M1052 518h6M1051 484h6M1178 454h6M1039 541h6M991 543h6M1163 499h6M1095 491h6M1114 527h6M1095 566h6M1112 565h6M1122 489h6M1098 539h6M987 565h6M1086 536h6M1023 527h6M1101 515h6M1086 461h6M1170 491h6M1027 541h6M1022 533h6M1015 544h6M1019 542h6M1125 477h6M1007 490h6M983 503h6M1019 481h6M1087 541h6M996 508h6M1081 517h6M1035 549h6M1136 545h6M1194 512h6M1073 560h6M1029 536h6M1084 503h6M1066 477h6" stroke="#dd1111" stroke-width="6" stroke-opacity="0.85"/>
<path transform="scale(.1)" d="M980 625h6M1061 647h6M1027 624h6M994 693h6M1054 587h6M1034 694h6M965 665h6M980 573h6M1055 634h6M1055 790h6M960 702h6M1018 587h6M1043 702h6M992 730h6M958 602h6M1004 663h6M1072 620h6M1045 694h6M978 757h6M1060 626h6M1037 603h6M988 603h6M985 710h6M973 588h6M1003 690h6M997 754h6M987 744h6M1064 723h6M1049 574h6M1014 669h6M1075 627h6M1038 688h6M1074 606h6M1057 602h6M1032 786h6M1040 770h6M1051 594h6M1048 758h6M1064 587h6M994 648h6M997 796h6M982 784h6M1070 677h6M1067 730h6M1007 658h6M1002 763h6M967 643h6M1077 618h6M1037 605h6M1075 714h6M1032 698h6M1017 775h6M1047 605h6M1065 753h6M1060 784h6M995 740h6M1016 598h6M1073 607h6M1016 592h6M1054 647h6M1018 743h6M1058 605h6M959 673h6M950 582h6M962 725h6M1007 594h6M998 750h6M1075 710h6M1080 615h6M967 729h6M1058 651h6M1016 690h6M1059 697h6M998 633h6M1050 666h6M951 749h6M1011 767h6M993 763h6M983 700h6M989 768h6M1004 604h6M1014 793h6M1018 582h6M1045 774h6M1057 750h6M1075 660h6M1037 750h6M983 787h6M1025 609h6M1007 718h6M1015 752h6M1058 770h6M1019 685h6M1058 764h6M1017 638h6M1041 765h6M1071 791h6M1035 723h6M1078 789h6M1046 735h6M1027 728h6M1076 678h6M1025 585h6M1054 600h6M1076 758h6M1076 613h6M1051 726h6M1029 608h6M1048 742h6M1034 787h6M1035 711h6M1036 581h6M1028 738h6M1018 679h6M1064 767h6M1016 606h6M1052 635h6M1039 779h6M1057 760h6M1053 777h6M1046 689h6M1066 724h6M1052 782h6M1073 720h6M1053 592h6M1072 607h6M1071 573h6M1061 597h6M1036 578h6M1047 659h6M1020 711h6M1062 766h6M1057 664h6M1068 608h6M1020 777h6M1023 778h6M1057 792h6M1063 577h6M1020 705h6M1017 714h6M1036 692h6M1037 614h6M1018 779h6M1021 693h6M1028 580h6M1016 650h6M1025 736h6M1017 618h6M1039 747h6M1064 619h6M1058 669h6M1054 638h6M1045 601h6M1027 771h6M1018 649h6M1027 741h6M1077 773h6M1068 636h6M1052 573h6M1055 690h6M1063 625h6M1068 769h6M1031 609h6M1067 734h6M1057 578h6M1033 633h6M1034 616h6M1026 764h6M1051 707h6M1078 720h6M1066 591h6M1026 641h6M1023 773h6M1033 710h6M1026 742h6M1024 685h6M1063 618h6M1035 778h6M1052 631h6M1035 610h6M1079 718h6M1053 591h6M1024 744h6M1066 732h6M1034 658h6M1045 688h6M1034 682h6M1047 589h6M1035 590h6M1036 651h6M1025 573h6M1077 614h6M1028 654h6M1033 713h6M1042 688h6M1023 611h6M1030 743h6M1041 751h6M1053 721h6M1050 727h6M1039 629h6M1059 761h6M1063 704h6M1032 612h6M1031 726h6M1056 713h6M1042 700h6M1069 678h6M1016 745h6M1050 736h6M1038 705h6M1029 587h6M1071 624h6M1029 792h6M1066 663h6M1071 714h6M1078 602h6M1023 701h6M1025 709h6M1020 743h6M1036 790h6M1074 675h6M1057 642h6M1025 608h6M1022 647h6M1064 672h6M1056 789h6M1015 687h6M1053 724h6M1027 737h6M1034 575h6M1022 624h6M1079 694h6M1045 585h6M1055 606h6M1028 741h6M1039 724h6M1057 603h6M1064 599h6M1074 762h6M1031 678h6M1031 643h6M1041 734h6M1035 723h6M1068 796h6M1039 595h6M1039 745h6M1048 676h6M1052 628h6M1038 684h6M1016 577h6M1063 600h6M1022 596h6M1071 728h6M1031 731h6M1032 627h6M1050 641h6M1074 746h6M1040 659h6M1046 650h6M1042 785h6M1022 694h6M1034 693h6M1075 709h6M1076 581h6M1032 662h6M1075 749h6M1016 719h6M1062 772h6M1017 642h6M1043 679h6M1042 625h6M1043 614h6M1076 592h6M1038 617h6M1016 609h6M1022 671h6M1064 664h6M1023 744h6M1019 747h6M1028 694h6M1079 720h6M1044 677h6M1025 642h6M1058 685h6M1040 714h6M1051 787h6M1080 756h6M1060 587h6M1050 716h6M1080 592h6M1048 712h6M1044 763h6M1070 729h6M1077 599h6M1062 667h6M1039 616h6M1041 721h6M1016 732h6M1031 738h6M1065 652h6M1047 707h6M1071 619h6M1059 781h6M1052 783h6M1067 579h6M1047 699h6M1058 734h6M1047 624h6M1038 579h6M1065 572h6M1020 731h6M1079 575h6M1077 659h6M1069 752h6M1045 584h6M1044 731h6M1041 669h6M1045 660h6M1029 681h6" stroke="#4d8c43" stroke-width="6" stroke-opacity="0.75"/>
<rect x="108.5" y="56.4" width="13.8" height="9.6" fill="#dfe6f8"/>
<path transform="scale(.1)" d="M1134 588h6M1202 643h6M1176 615h6M1139 591h6M1104 571h6M1155 588h6M1220 629h6M1206 634h6M1097 601h6M1135 651h6M1150 614h6M1142 615h6M1103 604h6M1113 605h6M1159 601h6M1183 642h6M1183 608h6M1177 590h6M1177 608h6M1089 651h6M1117 626h6M1132 578h6M1122 606h6M1139 611h6M1141 570h6M1133 655h6M1089 651h6M1202 578h6M1214 618h6M1169 597h6M1124 588h6M1147 593h6M1208 574h6M1167 630h6M1180 602h6M1180 631h6M1217 642h6M1174 620h6M1102 600h6M1155 581h6M1210 627h6M1105 629h6M1095 639h6M1095 581h6M1097 573h6M1110 647h6M1190 623h6M1167 577h6M1185 632h6M1161 574h6M1135 625h6M1192 618h6M1110 633h6M1136 577h6M1143 650h6M1178 653h6M1188 657h6M1163 637h6M1168 597h6M1125 656h6M1166 624h6M1199 633h6M1146 628h6M1187 587h6M1155 645h6M1156 627h6M1168 589h6M1106 603h6M1116 582h6M1111 608h6M1159 657h6M1176 603h6M1181 604h6M1116 640h6M1132 576h6M1107 580h6M1174 635h6M1144 581h6M1124 623h6M1118 642h6M1213 619h6M1152 576h6M1219 587h6M1130 617h6M1116 654h6M1182 627h6M1208 631h6M1110 622h6M1202 598h6M1166 623h6M1207 570h6M1213 606h6M1144 641h6M1212 587h6M1112 627h6M1147 633h6M1147 583h6M1120 645h6M1152 591h6M1187 655h6M1102 600h6M1151 623h6M1157 653h6M1114 642h6M1173 612h6M1121 586h6M1163 624h6M1163 621h6M1187 575h6M1211 603h6M1210 651h6M1154 616h6M1123 585h6M1120 626h6M1192 609h6M1188 650h6M1193 613h6M1198 571h6M1163 583h6M1206 585h6M1175 654h6M1171 601h6M1198 600h6M1174 656h6M1189 587h6M1211 624h6M1140 653h6M1187 650h6M1127 583h6M1152 611h6M1203 591h6M1217 631h6M1213 591h6M1188 585h6M1200 593h6M1205 581h6M1169 633h6M1120 594h6M1090 605h6M1188 594h6M1188 603h6M1184 596h6M1165 600h6M1175 632h6M1183 584h6M1158 630h6M1175 600h6M1118 577h6M1159 580h6M1171 649h6M1163 573h6M1122 594h6M1105 646h6M1174 576h6M1103 588h6M1193 593h6M1112 643h6M1190 579h6M1135 653h6M1207 580h6M1118 619h6M1109 638h6M1177 619h6M1190 614h6M1134 608h6M1150 591h6M1175 657h6M1127 605h6M1139 626h6M1163 621h6M1128 655h6M1107 591h6M1208 583h6M1104 649h6M1218 614h6M1199 626h6M1147 625h6M1202 639h6M1096 644h6M1162 631h6M1135 569h6M1128 644h6M1206 573h6M1093 645h6M1202 569h6M1098 638h6M1177 626h6M1126 571h6M1158 636h6M1210 621h6M1193 580h6M1101 647h6M1128 622h6M1152 610h6M1183 653h6M1089 587h6M1202 585h6M1199 648h6M1214 583h6M1115 642h6" stroke="#7c98e4" stroke-width="6" stroke-opacity="0.7"/>
<g fill="none" stroke="#808080" stroke-width="0.6">
<rect x="97.1" y="43.7" width="25.2" height="12.7" fill="none"/>
<rect x="94.5" y="56.4" width="14" height="23.3" fill="none"/>
<rect x="108.5" y="56.4" width="13.8" height="9.6" fill="none"/>
</g>
<text x="108.7" y="51" font-size="2.5" fill="#222">•</text>
<text x="114.5" y="61.7" font-size="2.5" fill="#222">•</text>
<text x="98.5" y="68.2" font-size="2.5" fill="#222">•</text>
</g>
<rect x="92.5" y="30.2" width="54" height="52.3" fill="none" stroke="#aaa" stroke-width="0.6"/>
<line x1="92.2" y1="82.5" x2="146.5" y2="82.5" stroke="#666" stroke-width="0.7"/>
<text x="114.8" y="42.2" font-size="4.9" font-weight="bold" fill="#151515" textLength="24.4" lengthAdjust="spacingAndGlyphs">GMP 0.48%</text>
<text x="118" y="70.2" font-size="4.9" font-weight="bold" fill="#151515" textLength="24.4" lengthAdjust="spacingAndGlyphs">CMP 0.23%</text>
<text x="109" y="80" font-size="4.9" font-weight="bold" fill="#151515" textLength="23.8" lengthAdjust="spacingAndGlyphs">MEP 0.24%</text>
<text x="83.3" y="36.9" font-size="4.3" fill="#222">10<tspan font-size="2.67" dy="-1.94">5</tspan></text>
<text x="83.3" y="49.4" font-size="4.3" fill="#222">10<tspan font-size="2.67" dy="-1.94">4</tspan></text>
<text x="83.3" y="61.9" font-size="4.3" fill="#222">10<tspan font-size="2.67" dy="-1.94">3</tspan></text>
<text x="83.3" y="74.9" font-size="4.3" fill="#222">10<tspan font-size="2.67" dy="-1.94">2</tspan></text>
<text x="103.2" y="90.8" font-size="4" text-anchor="middle" fill="#333">0</text>
<text x="111.5" y="90.8" font-size="4.3" fill="#222">10<tspan font-size="2.67" dy="-1.94">3</tspan></text>
<text x="125.5" y="90.8" font-size="4.3" fill="#222">10<tspan font-size="2.67" dy="-1.94">4</tspan></text>
<text x="138" y="90.8" font-size="4.3" fill="#222">10<tspan font-size="2.67" dy="-1.94">5</tspan></text>
<text x="285.5" y="22" font-size="6.4" fill="#222" textLength="19.8" lengthAdjust="spacingAndGlyphs">control</text>
<g clip-path="url(#c2)">
<path transform="scale(.1)" d="M2777 508h5M2933 526h5M3049 496h5M2924 472h5M2910 458h5M2830 599h5M2753 494h5M2937 488h5M2824 467h5M2864 414h5M2897 454h5M2857 519h5M2816 505h5M2852 504h5M2906 493h5M2822 432h5M2831 488h5M2960 542h5M2860 483h5M2830 438h5M2775 371h5M2942 429h5M2765 616h5M2913 458h5M2953 432h5M3025 385h5M2794 469h5M2837 561h5M2770 433h5M2917 510h5M2978 497h5M3074 448h5M2912 527h5M2872 459h5M2860 437h5M2807 443h5M2774 499h5M2770 599h5M3032 542h5M2880 440h5M2994 486h5M2941 432h5M2981 428h5M2905 372h5M2844 505h5M2860 448h5M2959 471h5M2941 505h5M2773 397h5M2966 411h5M2845 511h5M2869 503h5M2827 493h5M2982 494h5M2721 514h5M2900 421h5M3007 371h5M3045 437h5M3021 472h5M2790 480h5M2922 507h5M2980 421h5M2935 519h5M2874 419h5M2819 520h5M2959 425h5M2789 549h5M2772 484h5M2831 370h5M2905 463h5M3010 610h5M2881 536h5M2979 443h5M2827 571h5M2866 473h5M2872 467h5M2847 519h5M2996 452h5M2786 478h5M2777 436h5M2993 613h5M2925 411h5M2840 566h5M2955 392h5M2763 526h5M2892 439h5M2928 440h5M2743 523h5M2844 415h5M2789 490h5M2831 512h5M2874 539h5M2865 436h5M2739 409h5M2953 657h5M2796 413h5M2922 503h5M2842 479h5M2768 457h5M2967 572h5M2882 459h5M2932 541h5M2934 430h5M2924 532h5M2839 395h5M2936 497h5M2973 480h5M2844 449h5M2814 418h5M2851 446h5M2984 402h5M2892 440h5M3014 491h5M2866 524h5M2901 447h5M3018 517h5M3034 544h5M2958 483h5M2810 517h5M2902 516h5M2896 434h5M2816 517h5M2999 458h5M2933 558h5M2830 455h5M2808 546h5M2917 448h5M2765 465h5M2976 458h5M2863 514h5M2799 479h5M2944 429h5M2831 490h5M2889 462h5M2913 489h5M2823 436h5M2933 543h5M3005 425h5M2984 521h5M2895 505h5M2963 582h5M2813 512h5M2886 464h5M2988 525h5M2817 459h5M2915 392h5M2966 472h5M2910 496h5M3041 478h5M2869 579h5M2858 445h5M2788 540h5M2919 504h5M2911 468h5M2835 430h5M2932 484h5M3027 431h5M2859 416h5M3007 403h5M2959 562h5M2887 519h5M2729 453h5M2767 487h5M2899 431h5M2973 497h5M2856 446h5M2782 465h5M3066 434h5M2931 444h5M2961 503h5M2880 371h5M2857 548h5M2879 514h5M2860 366h5M2932 495h5M2852 455h5M2921 441h5M2925 464h5M2851 427h5M2930 448h5M2941 541h5M2909 385h5M2840 531h5M2878 429h5M2891 507h5M2919 515h5M2833 460h5M2878 475h5M2733 463h5M2792 559h5M3021 576h5M2962 448h5M2974 465h5M2947 423h5M2852 504h5M3039 475h5M3077 640h5M2797 475h5M2823 469h5M2856 473h5M2975 533h5M2919 477h5M2908 485h5M2944 477h5M2939 399h5M2961 581h5M2913 393h5M3006 458h5M2947 500h5M2997 514h5M2909 360h5M2811 488h5M2953 416h5M2851 505h5M2748 362h5M2881 492h5M2901 398h5M2951 471h5M2920 515h5M2857 526h5M2997 501h5M3004 440h5M2972 493h5M2821 473h5M2857 444h5M2906 540h5M2874 485h5M2783 484h5M2990 525h5M2937 446h5M2822 472h5M2793 404h5M2974 423h5M3041 392h5M2933 408h5M2913 416h5M2902 468h5M2863 508h5M3019 442h5M2969 482h5M2897 608h5M2727 437h5M2756 459h5M2881 704h5M2927 584h5M3002 451h5M2937 577h5M2913 490h5M2939 388h5M2835 497h5M2942 423h5M2873 470h5M2887 518h5M2907 487h5M2787 415h5M2924 382h5M2920 438h5M2834 516h5M2845 426h5M2845 480h5M3117 351h5M2897 463h5M2974 455h5M2812 473h5M2790 412h5M2859 528h5M2965 441h5M2938 454h5M2907 486h5M2947 440h5M2888 489h5M2905 429h5M3035 449h5M2958 489h5M3061 464h5M2800 484h5M3077 506h5M2800 449h5M3004 393h5M2883 459h5M3070 459h5M3002 436h5M2834 536h5M2947 373h5M2948 514h5M2849 489h5M2919 447h5M2851 436h5M2876 397h5M2894 387h5M2903 471h5M2815 527h5" stroke="#e41a1c" stroke-width="5" stroke-opacity="0.6"/>
<path transform="scale(.1)" d="M2953 699h5M2919 681h5M2956 698h5M2988 713h5M2942 772h5M2924 581h5M2956 692h5M2941 568h5M2884 587h5M2996 760h5M2887 635h5M2974 674h5M2931 589h5M2980 660h5M2943 544h5M2985 677h5M2936 767h5M2905 703h5M2978 698h5M2986 671h5M2940 615h5M3000 724h5M2969 631h5M3001 619h5M2897 669h5M3002 772h5M2977 714h5M3002 700h5M2919 569h5M2948 732h5M2995 639h5M2964 689h5M2910 673h5M2910 727h5M3002 546h5M2964 561h5M2877 605h5M2906 587h5M2948 702h5M2897 566h5M2935 560h5M2963 665h5M2882 554h5M2906 729h5M2993 617h5M2876 611h5M2886 681h5M2985 772h5M2965 606h5M2936 592h5M2990 626h5M2899 725h5M2871 762h5M2984 575h5M2959 545h5M2917 611h5M2951 615h5M2881 717h5M2914 701h5M2950 717h5M2988 632h5M2914 641h5M2879 764h5M2882 550h5M2913 543h5M2958 542h5M2969 734h5M2967 662h5M2992 705h5M2965 695h5" stroke="#e41a1c" stroke-width="5" stroke-opacity="0.5"/>
<path transform="scale(.1)" d="M3169 542h5M3107 675h5M3062 598h5M3015 378h5M3080 683h5M3033 541h5M3194 554h5M3158 671h5M3053 555h5M3103 439h5M3093 505h5M3123 608h5M3198 495h5M3051 422h5M3125 493h5M3101 401h5M3200 400h5M3038 407h5M3133 531h5M3010 471h5" stroke="#e41a1c" stroke-width="5" stroke-opacity="0.45"/>
<ellipse cx="287.6" cy="49.1" rx="8.5" ry="4.2" fill="#e00c0c" fill-opacity="0.92" filter="url(#b14)"/>
<path transform="scale(.1)" d="M2895 477h6M2814 515h6M2804 473h6M2833 475h6M2822 473h6M2866 476h6M2905 487h6M2886 494h6M2868 491h6M2900 466h6M2932 475h6M2783 476h6M2878 513h6M2860 480h6M2952 469h6M2927 516h6M2797 497h6M2839 461h6M2769 443h6M2892 478h6M2884 458h6M2852 481h6M2786 440h6M2893 493h6M2819 486h6M2821 507h6M2984 491h6M2949 413h6M2948 489h6M2768 512h6M2926 525h6M2934 488h6M2829 476h6M2868 501h6M2843 491h6M2917 499h6M2807 472h6M2798 455h6M2899 460h6M2813 481h6M2913 479h6M2850 516h6M2895 503h6M2921 459h6M2881 470h6M2925 513h6M2813 529h6M2806 524h6M2881 463h6M2809 480h6M2868 468h6M2900 448h6M2869 489h6M2768 498h6M2801 415h6M2836 482h6M2919 475h6M2949 532h6M2929 528h6M2888 473h6M2905 518h6M2882 482h6M2784 509h6M2888 451h6M2875 510h6M2863 512h6M2910 445h6M2853 503h6M2919 531h6M2765 487h6M2908 525h6M2961 461h6M2849 458h6M2914 450h6M2934 517h6M2896 425h6M2832 511h6M2792 482h6M2864 515h6M2885 497h6M2845 489h6M2862 511h6M2860 520h6M2777 525h6M2860 523h6M2874 514h6M2951 473h6M2874 484h6M2881 441h6M2860 482h6M2826 483h6M2785 530h6M2822 454h6M2885 440h6M2882 468h6M2851 497h6M2904 451h6M2923 449h6M2874 452h6M2824 528h6M2839 470h6M2838 480h6M2948 454h6M2801 506h6M2782 478h6M2931 489h6M2843 468h6M2819 471h6M2876 526h6M2921 472h6M2829 509h6M2769 476h6M2851 456h6M2814 499h6M2778 461h6M2833 491h6M2793 521h6M2851 481h6M2848 468h6M2814 522h6M2879 485h6M2922 467h6M2902 489h6M2819 511h6M2786 507h6M2819 500h6M2942 505h6M2834 487h6M2847 453h6M2807 489h6M2896 436h6M2863 503h6M2873 458h6M2923 452h6M2756 495h6M2883 494h6M2825 478h6M2790 491h6M2895 468h6M2816 473h6M2866 489h6M2860 489h6M2795 407h6M2899 529h6M2789 468h6M2882 515h6M2901 525h6M2863 499h6M2888 474h6M2931 505h6M2919 476h6M2921 456h6M2887 410h6M2811 509h6M2841 492h6M2898 486h6M2888 497h6M2942 493h6M2786 480h6M2935 504h6M2843 505h6M2872 505h6M2780 461h6M2902 480h6M2849 494h6M2835 469h6M2861 444h6M2752 527h6M2860 520h6M2872 491h6M2902 508h6M2801 522h6M2813 493h6M3003 489h6M2956 477h6M2899 489h6M2888 462h6M2816 497h6M2781 462h6M2900 469h6M2818 455h6M2873 476h6M2874 482h6M2965 474h6M2760 490h6M2866 492h6M2779 520h6M2864 486h6M2780 501h6M2862 527h6M2843 451h6M2873 460h6M2888 455h6M2859 480h6M2864 472h6M2822 485h6M2834 492h6M2851 422h6M2862 528h6M2882 505h6M2890 473h6M2794 511h6M2922 504h6M2888 499h6M2864 495h6M2866 497h6M2815 469h6M2896 477h6M2904 507h6M2830 454h6M2854 488h6M2825 492h6M2902 504h6M2811 425h6M2866 468h6M2953 496h6M2868 495h6M2911 486h6M2840 466h6M2867 470h6M2908 478h6M2944 522h6M2801 519h6M2845 527h6M2894 486h6M2902 472h6M2884 499h6M2859 499h6M2814 504h6M2803 506h6M2892 508h6M2855 492h6M2828 529h6M2843 516h6M2818 497h6M2848 515h6M2852 464h6M2891 454h6M2818 510h6M2770 510h6M2847 462h6M2881 506h6M2838 483h6M2910 510h6M2866 467h6M2819 472h6M2904 505h6M2885 528h6M2853 478h6M2761 497h6M2892 491h6M2991 522h6M2909 464h6M2895 479h6M2872 495h6M2844 507h6M2954 519h6M2881 435h6M2926 520h6M2860 476h6M2904 467h6M2911 459h6M2822 490h6M2794 490h6M2898 452h6M2918 474h6M2899 496h6M2847 475h6M2782 470h6M2923 451h6M2912 496h6M2851 503h6M2912 474h6M2856 494h6M2820 495h6M2866 471h6M2827 498h6M2916 499h6M2826 511h6M2880 507h6M2931 465h6M2864 473h6M2919 440h6M2893 474h6M2930 492h6M2862 494h6M2891 491h6M2860 486h6M2897 458h6M2871 487h6M2846 511h6M2804 480h6M2827 505h6M2847 491h6M2891 445h6M2894 469h6M2858 487h6M2913 511h6M2962 495h6M2846 476h6M2889 474h6M2885 497h6M2873 469h6M2925 496h6M2757 490h6M2881 456h6M2912 468h6M2900 491h6M2810 509h6M2802 528h6M2874 461h6M2946 455h6M2956 495h6M2860 488h6M2857 530h6M2879 438h6M2979 515h6M2815 480h6M2824 491h6M2891 497h6M2840 468h6M2915 487h6M2987 467h6M2912 491h6M2832 528h6M2877 465h6M2855 519h6M2808 529h6M2906 482h6M2902 495h6M2966 532h6M2823 484h6M2860 478h6M2794 515h6M2875 493h6M2944 474h6M2868 498h6M2849 487h6M2911 490h6M2940 469h6M2881 450h6M2865 470h6M2942 511h6M2946 510h6M2835 449h6M2869 480h6M2837 482h6M2812 471h6M2901 444h6M2919 517h6M2855 460h6M2846 438h6M2943 492h6M2833 464h6M2805 474h6M2779 509h6M2865 478h6M2834 514h6M2786 511h6M2884 476h6M2824 520h6M2968 477h6M2839 483h6M2807 486h6M2867 478h6M2832 445h6M2800 462h6M2905 475h6M2826 509h6M2901 468h6M2838 509h6M2890 466h6M2884 489h6M2930 465h6M2917 502h6M2818 520h6M2919 452h6M2975 457h6M2823 481h6M2912 507h6M2866 529h6M2892 530h6M3020 496h6M2814 493h6M2876 455h6M2810 482h6M2861 415h6M2923 491h6M2870 499h6M2817 489h6M2926 521h6M2896 482h6M2827 528h6M2899 478h6M2755 465h6M2768 526h6M2881 468h6M2936 451h6M2864 454h6M2778 495h6M2873 479h6M2882 520h6M2792 435h6M2973 498h6M2958 497h6M2951 472h6M2927 476h6M2920 470h6M2793 505h6M2947 515h6M2802 516h6M2908 476h6M2919 505h6M2776 446h6M2926 514h6M2898 483h6M2893 474h6M2854 464h6M2885 478h6M2923 511h6M2809 503h6M2931 528h6M2750 520h6M2749 470h6M2866 477h6M2945 470h6M2939 507h6M2791 460h6M2845 493h6M2926 485h6M2921 443h6M2896 479h6M2815 503h6M2978 487h6M2831 465h6M2980 489h6M2905 527h6M2931 462h6M2924 515h6M2898 520h6M2840 488h6M2842 513h6M2835 502h6M2811 486h6M2851 487h6M2878 484h6M2859 428h6M2932 471h6M2857 465h6M2926 463h6M2899 525h6M2962 526h6M2905 454h6M2942 526h6M2917 514h6M2875 475h6M2931 528h6M2814 518h6M2885 517h6M2887 524h6M2928 517h6M2796 515h6M2874 457h6M2911 450h6M2844 518h6M2897 510h6M2798 509h6M2879 513h6M2873 523h6M2887 511h6M2947 496h6M2927 498h6M2901 475h6M2915 527h6M2868 514h6M2896 458h6M2892 530h6M2846 438h6M2884 472h6M2976 490h6M2873 472h6M2886 474h6M2824 489h6M2829 530h6M2810 489h6M2836 450h6M2963 429h6M2952 449h6M2758 451h6M2944 496h6M2843 490h6M2821 495h6M2954 480h6M2880 526h6M2981 474h6M2889 475h6M2838 479h6M2839 440h6M2765 470h6M2880 527h6M2844 486h6M2909 513h6M2867 489h6M2974 481h6M2846 443h6M2896 483h6M2976 481h6M2917 518h6M2962 453h6M2958 491h6M2867 482h6M2852 481h6M2747 506h6M2876 463h6M2893 480h6M2965 468h6M2865 475h6M2860 512h6M2904 470h6M2866 494h6M2851 490h6M2834 469h6M2875 461h6M2895 485h6M2823 473h6M2847 486h6M2879 485h6M2921 494h6M2924 500h6M2859 493h6M3016 520h6M2929 479h6M2896 522h6M2940 510h6M2957 498h6M2899 473h6M3014 500h6M2879 531h6M2846 491h6M2831 492h6M2852 507h6M2866 473h6M2857 487h6M2845 518h6M2908 495h6M2809 506h6M2804 496h6M2875 474h6M2828 471h6M2982 483h6M2861 519h6M2895 521h6M2807 459h6M2857 495h6M2925 456h6M2888 490h6M2908 496h6M2844 466h6M2794 479h6M2961 479h6M2905 485h6M2910 492h6M2845 530h6M2858 452h6M2855 506h6M2813 513h6M2838 510h6M2784 479h6M2878 503h6M2870 488h6M2840 478h6M2889 507h6M2906 519h6M2935 439h6M2845 486h6M2838 521h6M2912 488h6M2879 527h6M2854 482h6M2920 504h6M2948 501h6M2912 475h6M2823 491h6M2924 493h6M2861 522h6M2870 519h6M2988 512h6M2922 505h6M2886 499h6M2876 522h6M2787 483h6M2907 467h6M2867 471h6M2896 516h6M2949 505h6M2834 498h6M2903 531h6M2759 501h6M2776 511h6M2896 505h6M2919 502h6M2838 501h6M2936 487h6M2874 456h6" stroke="#dd1111" stroke-width="6" stroke-opacity="0.85"/>
<path transform="scale(.1)" d="M2793 628h6M2744 602h6M2841 547h6M2852 587h6M2860 624h6M2819 749h6M2811 756h6M2760 556h6M2860 664h6M2831 545h6M2822 561h6M2825 677h6M2844 657h6M2780 741h6M2750 741h6M2864 574h6M2739 681h6M2770 719h6M2799 712h6M2740 666h6M2775 653h6M2848 666h6M2816 631h6M2811 665h6M2737 739h6M2791 616h6M2751 637h6M2785 637h6M2786 733h6M2790 593h6M2776 637h6M2837 707h6M2795 626h6M2853 730h6M2780 659h6M2754 560h6M2781 621h6M2848 571h6M2782 637h6M2842 620h6M2825 614h6M2769 725h6M2760 740h6M2750 708h6M2793 710h6M2825 739h6M2773 744h6M2859 577h6M2737 740h6M2837 574h6M2757 599h6M2865 716h6M2748 570h6M2855 755h6M2861 738h6M2800 689h6M2841 741h6M2860 585h6M2835 650h6M2835 705h6M2838 544h6M2836 727h6M2838 697h6M2844 715h6M2862 575h6M2805 713h6M2815 666h6M2800 572h6M2804 568h6M2813 731h6M2859 628h6M2820 599h6M2839 621h6M2820 692h6M2864 569h6M2813 574h6M2826 684h6M2824 739h6M2814 689h6M2805 751h6M2825 602h6M2813 618h6M2802 622h6M2858 619h6M2822 598h6M2801 716h6M2840 602h6M2831 632h6M2845 644h6M2823 762h6M2809 612h6M2842 693h6M2826 612h6M2857 718h6M2821 625h6M2814 543h6M2812 656h6M2817 614h6M2816 598h6M2834 604h6M2824 538h6M2863 702h6M2813 661h6M2861 681h6M2822 666h6M2831 624h6M2862 641h6M2851 645h6M2862 744h6M2835 616h6M2821 572h6M2844 557h6M2845 614h6M2803 667h6M2807 669h6M2862 702h6M2847 686h6M2853 557h6M2812 626h6M2863 621h6M2820 563h6M2809 670h6M2823 712h6M2823 548h6M2804 657h6M2855 565h6M2857 713h6M2813 664h6M2836 553h6M2857 654h6M2825 592h6M2833 585h6M2816 688h6M2830 629h6M2820 747h6M2854 744h6M2810 730h6M2802 630h6M2859 742h6M2811 554h6M2836 713h6M2846 619h6M2821 733h6M2860 545h6M2822 667h6M2813 554h6M2804 604h6M2858 665h6M2814 569h6M2858 694h6M2830 653h6M2861 588h6M2806 659h6M2856 638h6M2864 546h6M2846 698h6M2809 699h6M2865 743h6M2852 750h6M2814 621h6M2863 683h6M2806 675h6M2808 550h6M2801 701h6M2839 599h6M2826 634h6M2806 678h6M2832 651h6M2857 601h6M2806 734h6M2842 559h6M2811 674h6M2833 580h6M2822 746h6M2818 749h6M2801 699h6M2838 737h6M2829 710h6M2845 685h6M2812 706h6M2864 743h6M2801 587h6M2813 702h6M2842 578h6M2809 642h6M2817 614h6M2833 681h6M2849 682h6M2856 741h6M2821 727h6M2843 553h6M2802 577h6" stroke="#4d8c43" stroke-width="6" stroke-opacity="0.75"/>
<rect x="287" y="53" width="13.8" height="9.6" fill="#dfe6f8"/>
<path transform="scale(.1)" d="M2879 540h6M2967 604h6M2919 546h6M3002 580h6M2901 612h6M2999 563h6M2973 545h6M2974 559h6M2953 619h6M2990 543h6M2904 612h6M2988 546h6M2989 550h6M2953 604h6M2960 592h6M2903 564h6M2938 597h6M2950 548h6M2915 613h6M2879 586h6M2998 619h6M2979 588h6M2921 586h6M2943 611h6M2951 587h6M2999 543h6M2947 589h6M2969 561h6M2979 592h6M2886 624h6M2950 589h6M2996 609h6M2982 567h6M2995 536h6M2894 539h6M2976 537h6M2910 554h6M2989 559h6M2977 564h6M2923 593h6M2949 602h6M2935 603h6M2997 602h6M2946 611h6M2883 599h6M2944 576h6M2876 572h6M2891 542h6M2938 536h6M2934 611h6M2882 548h6M2918 612h6M2911 571h6M2911 540h6M2931 609h6M2878 599h6M2877 624h6M2904 583h6M2968 618h6M2997 580h6M2973 558h6M2883 571h6M2982 594h6M2981 614h6M2984 608h6M2969 618h6M2907 583h6M2938 576h6M2931 582h6M2878 618h6M2944 568h6M2908 540h6M2999 570h6M2961 593h6M2980 609h6M2877 619h6M2967 596h6M2979 607h6M2934 607h6M2906 607h6M2937 588h6M2946 619h6M2930 614h6M2915 536h6M2961 546h6M2991 623h6M2908 594h6M2989 547h6M2880 616h6M2964 543h6M2918 583h6M2942 569h6M2920 561h6M2884 556h6M2895 543h6M3003 569h6M2928 544h6M2998 591h6M2942 564h6M2992 603h6M2932 618h6M3004 614h6M2936 601h6M2907 604h6M2896 543h6M2882 622h6M2888 586h6M2963 583h6M2921 595h6M2988 552h6M2899 577h6M2996 546h6M2898 617h6M2909 579h6M2918 547h6M2908 621h6M2928 587h6M2979 602h6M2882 606h6M2905 597h6" stroke="#7c98e4" stroke-width="6" stroke-opacity="0.7"/>
<g fill="none" stroke="#808080" stroke-width="0.6">
<rect x="275.6" y="40.3" width="25.2" height="12.7" fill="none"/>
<rect x="273" y="53" width="14" height="23.3" fill="none"/>
<rect x="287" y="53" width="13.8" height="9.6" fill="none"/>
</g>
<text x="287.2" y="47.6" font-size="2.5" fill="#222">•</text>
<text x="293" y="58.3" font-size="2.5" fill="#222">•</text>
<text x="277" y="64.8" font-size="2.5" fill="#222">•</text>
</g>
<rect x="271" y="26.8" width="54" height="52" fill="none" stroke="#aaa" stroke-width="0.6"/>
<line x1="270.7" y1="78.8" x2="325" y2="78.8" stroke="#666" stroke-width="0.7"/>
<text x="272.5" y="31.2" font-size="4.9" font-weight="bold" fill="#151515" textLength="44.5" lengthAdjust="spacingAndGlyphs">Lin<tspan dy="-1.5" font-size="3">-</tspan><tspan dy="1.5">Sca-1</tspan><tspan dy="-1.5" font-size="3">-</tspan><tspan dy="1.5">c-Kit</tspan><tspan dy="-1.5" font-size="3">+</tspan><tspan dy="1.5"> gated</tspan></text>
<text x="296.3" y="39.4" font-size="4.9" font-weight="bold" fill="#151515" textLength="23.4" lengthAdjust="spacingAndGlyphs">GMP 0.39%</text>
<text x="298" y="66.4" font-size="4.9" font-weight="bold" fill="#151515" textLength="24.4" lengthAdjust="spacingAndGlyphs">CMP 0.23%</text>
<text x="288.2" y="76" font-size="4.9" font-weight="bold" fill="#151515" textLength="23.4" lengthAdjust="spacingAndGlyphs">MEP 0.23%</text>
<text x="262.8" y="30.2" font-size="4.3" fill="#222">10<tspan font-size="2.67" dy="-1.94">5</tspan></text>
<text x="262.8" y="44.4" font-size="4.3" fill="#222">10<tspan font-size="2.67" dy="-1.94">4</tspan></text>
<text x="262.8" y="57.9" font-size="4.3" fill="#222">10<tspan font-size="2.67" dy="-1.94">3</tspan></text>
<text x="262.8" y="70.9" font-size="4.3" fill="#222">10<tspan font-size="2.67" dy="-1.94">2</tspan></text>
<text x="283.6" y="86" font-size="4" text-anchor="middle" fill="#333">0</text>
<text x="292" y="86" font-size="4.3" fill="#222">10<tspan font-size="2.67" dy="-1.94">3</tspan></text>
<text x="305.5" y="86" font-size="4.3" fill="#222">10<tspan font-size="2.67" dy="-1.94">4</tspan></text>
<text x="318.1" y="86" font-size="4.3" fill="#222">10<tspan font-size="2.67" dy="-1.94">5</tspan></text>
<text x="352.6" y="22.4" font-size="6.4" fill="#222" textLength="34.6" lengthAdjust="spacingAndGlyphs">Dmp1-Rheb</text>
<g clip-path="url(#c3)">
<path transform="scale(.1)" d="M3694 489h5M3643 378h5M3592 465h5M3665 568h5M3587 463h5M3643 571h5M3541 516h5M3587 459h5M3672 431h5M3521 519h5M3605 463h5M3596 509h5M3577 525h5M3640 568h5M3708 530h5M3591 486h5M3560 650h5M3589 512h5M3716 397h5M3541 455h5M3528 403h5M3566 557h5M3665 481h5M3610 379h5M3663 505h5M3521 491h5M3592 448h5M3528 439h5M3532 507h5M3637 498h5M3593 455h5M3771 367h5M3703 500h5M3613 449h5M3590 408h5M3497 472h5M3475 530h5M3483 496h5M3625 486h5M3641 524h5M3677 587h5M3610 531h5M3478 471h5M3510 563h5M3795 512h5M3504 473h5M3610 491h5M3695 537h5M3568 446h5M3721 464h5M3498 400h5M3613 534h5M3728 469h5M3571 577h5M3572 567h5M3627 494h5M3589 497h5M3571 439h5M3597 441h5M3633 485h5M3587 468h5M3590 584h5M3607 444h5M3585 519h5M3592 471h5M3588 489h5M3639 506h5M3477 416h5M3697 558h5M3620 548h5M3605 472h5M3485 433h5M3561 535h5M3741 451h5M3638 496h5M3546 376h5M3548 393h5M3583 471h5M3594 469h5M3647 424h5M3679 379h5M3613 503h5M3545 384h5M3659 439h5M3670 525h5M3607 479h5M3687 502h5M3533 489h5M3652 491h5M3623 471h5M3598 423h5M3494 547h5M3557 493h5M3488 489h5M3542 657h5M3527 422h5M3683 547h5M3440 495h5M3678 406h5M3662 448h5M3528 458h5M3571 396h5M3786 452h5M3548 530h5M3602 559h5M3586 500h5M3615 489h5M3591 473h5M3741 439h5M3564 459h5M3653 503h5M3682 399h5M3628 469h5M3585 489h5M3451 496h5M3619 394h5M3600 571h5M3577 515h5M3590 431h5M3535 456h5M3711 528h5M3552 539h5M3598 438h5M3642 425h5M3483 556h5M3463 511h5M3487 478h5M3592 453h5M3435 473h5M3605 426h5M3602 538h5M3551 495h5M3517 502h5M3658 626h5M3679 505h5M3719 421h5M3693 447h5M3559 544h5M3627 558h5M3494 496h5M3567 464h5M3458 535h5M3625 421h5M3502 428h5M3718 474h5M3582 509h5M3609 494h5M3667 500h5M3678 410h5M3614 459h5M3617 478h5M3559 460h5M3683 448h5M3511 515h5M3686 465h5M3619 431h5M3593 546h5M3672 489h5M3588 385h5M3634 508h5M3692 599h5M3639 537h5M3522 552h5M3678 561h5M3663 508h5M3726 442h5M3660 545h5M3549 414h5M3644 489h5M3658 519h5M3551 501h5M3699 461h5M3588 416h5M3674 596h5M3504 526h5M3681 449h5M3582 421h5M3550 491h5M3662 489h5M3678 494h5M3520 567h5M3704 440h5M3750 509h5M3622 594h5M3667 468h5M3538 570h5M3650 408h5M3560 532h5M3751 365h5M3631 460h5M3476 473h5M3487 451h5M3738 513h5M3673 518h5M3640 540h5M3521 462h5M3679 440h5M3578 554h5M3732 448h5M3549 517h5M3634 444h5M3659 516h5M3619 655h5M3719 531h5M3693 657h5M3699 441h5M3638 488h5M3569 499h5M3633 480h5M3575 532h5M3489 532h5M3614 500h5M3478 433h5M3664 448h5M3582 353h5M3579 496h5M3667 467h5M3631 509h5M3561 440h5M3767 434h5M3710 488h5M3729 446h5M3654 503h5M3596 502h5M3553 479h5M3582 528h5M3606 402h5M3584 478h5M3543 562h5M3645 533h5M3554 460h5M3693 399h5M3642 489h5M3574 489h5M3529 497h5M3518 409h5M3723 442h5M3448 541h5M3609 538h5M3641 585h5M3604 519h5M3534 493h5M3734 513h5M3626 367h5M3584 408h5M3675 440h5M3642 425h5M3762 415h5M3625 639h5M3631 432h5M3662 542h5M3682 367h5M3631 358h5M3763 488h5M3577 524h5M3652 414h5M3742 470h5M3475 567h5M3735 558h5M3657 431h5M3688 594h5M3678 579h5M3553 544h5M3688 396h5M3485 441h5M3620 511h5M3596 480h5M3605 489h5M3660 514h5M3610 500h5M3578 531h5M3574 582h5M3612 500h5M3554 464h5M3627 485h5M3565 415h5M3617 493h5M3658 558h5M3589 365h5M3603 374h5M3512 546h5M3659 446h5M3564 479h5M3475 513h5M3587 594h5M3530 544h5M3560 545h5M3537 528h5M3579 435h5M3602 513h5M3647 579h5M3583 365h5" stroke="#e41a1c" stroke-width="5" stroke-opacity="0.6"/>
<path transform="scale(.1)" d="M3655 658h5M3693 756h5M3665 555h5M3702 676h5M3582 609h5M3671 634h5M3664 762h5M3689 692h5M3611 609h5M3662 649h5M3617 777h5M3686 749h5M3591 643h5M3602 668h5M3712 651h5M3683 577h5M3615 773h5M3624 596h5M3641 594h5M3613 567h5M3600 767h5M3716 761h5M3610 694h5M3685 668h5M3681 680h5M3683 630h5M3622 755h5M3611 675h5M3666 746h5M3719 708h5M3634 704h5M3611 702h5M3651 727h5M3607 736h5M3629 705h5M3683 618h5M3614 604h5M3643 588h5M3670 746h5M3602 658h5M3600 541h5M3715 685h5M3701 748h5M3704 761h5M3660 766h5M3651 749h5M3595 583h5M3614 665h5M3596 711h5M3655 695h5M3641 627h5M3604 550h5M3594 755h5M3660 728h5M3600 749h5M3582 634h5M3612 601h5M3692 744h5M3672 698h5M3652 701h5M3612 549h5M3645 567h5M3581 726h5M3626 753h5M3647 626h5M3593 750h5M3661 584h5M3642 680h5M3588 625h5M3601 669h5" stroke="#e41a1c" stroke-width="5" stroke-opacity="0.5"/>
<path transform="scale(.1)" d="M3743 467h5M3784 408h5M3802 573h5M3827 551h5M3745 523h5M3833 601h5M3747 520h5M3915 620h5M3753 463h5M3724 476h5M3760 663h5M3825 556h5M3798 677h5M3845 391h5M3724 667h5M3791 389h5M3822 610h5M3914 556h5M3895 410h5M3826 468h5" stroke="#e41a1c" stroke-width="5" stroke-opacity="0.45"/>
<ellipse cx="358.8" cy="49.4" rx="8" ry="4.2" fill="#e00c0c" fill-opacity="0.92" filter="url(#b14)"/>
<path transform="scale(.1)" d="M3634 476h6M3678 486h6M3682 528h6M3541 482h6M3685 526h6M3580 502h6M3598 473h6M3578 476h6M3566 510h6M3538 518h6M3594 519h6M3634 533h6M3621 517h6M3579 513h6M3541 488h6M3627 494h6M3611 464h6M3659 479h6M3609 495h6M3637 484h6M3536 439h6M3572 460h6M3472 457h6M3604 533h6M3604 506h6M3614 513h6M3674 514h6M3523 482h6M3599 471h6M3574 480h6M3551 517h6M3568 463h6M3551 497h6M3698 504h6M3665 511h6M3476 507h6M3543 455h6M3505 477h6M3648 516h6M3498 492h6M3561 490h6M3627 478h6M3491 485h6M3612 458h6M3555 456h6M3596 477h6M3629 527h6M3590 484h6M3601 497h6M3524 528h6M3600 520h6M3516 522h6M3698 514h6M3512 497h6M3585 502h6M3575 511h6M3563 503h6M3552 499h6M3640 481h6M3623 469h6M3568 488h6M3653 472h6M3651 451h6M3579 523h6M3624 465h6M3523 522h6M3521 513h6M3560 495h6M3632 454h6M3604 497h6M3497 505h6M3594 473h6M3678 457h6M3589 498h6M3472 452h6M3536 519h6M3637 513h6M3600 429h6M3599 480h6M3705 517h6M3630 464h6M3591 458h6M3634 459h6M3576 470h6M3562 509h6M3557 502h6M3553 526h6M3700 421h6M3535 489h6M3649 481h6M3607 473h6M3617 458h6M3596 468h6M3703 527h6M3646 482h6M3620 511h6M3499 513h6M3577 534h6M3656 476h6M3555 501h6M3621 483h6M3581 514h6M3609 531h6M3599 468h6M3493 520h6M3569 484h6M3571 447h6M3566 415h6M3565 468h6M3684 509h6M3575 500h6M3625 472h6M3574 484h6M3719 497h6M3482 519h6M3724 466h6M3640 478h6M3572 457h6M3530 429h6M3647 460h6M3606 505h6M3552 496h6M3581 480h6M3589 496h6M3532 455h6M3541 499h6M3603 524h6M3593 529h6M3593 507h6M3571 495h6M3688 458h6M3586 476h6M3569 409h6M3619 514h6M3496 487h6M3582 423h6M3622 508h6M3599 462h6M3548 475h6M3612 464h6M3665 506h6M3594 477h6M3591 438h6M3596 418h6M3654 484h6M3533 524h6M3583 501h6M3619 461h6M3628 428h6M3665 445h6M3551 474h6M3625 518h6M3605 511h6M3611 492h6M3482 422h6M3461 493h6M3573 490h6M3597 487h6M3531 447h6M3482 532h6M3634 452h6M3570 508h6M3671 475h6M3594 530h6M3491 471h6M3583 471h6M3700 521h6M3595 464h6M3632 514h6M3557 480h6M3505 492h6M3632 525h6M3616 520h6M3553 479h6M3650 508h6M3541 510h6M3630 516h6M3590 478h6M3592 473h6M3603 455h6M3597 484h6M3636 497h6M3573 468h6M3609 491h6M3592 475h6M3614 496h6M3467 486h6M3602 531h6M3553 469h6M3646 475h6M3590 508h6M3624 494h6M3524 525h6M3561 477h6M3693 521h6M3527 479h6M3571 470h6M3480 519h6M3626 501h6M3562 500h6M3619 461h6M3566 476h6M3622 502h6M3514 474h6M3679 463h6M3592 474h6M3651 492h6M3560 457h6M3571 519h6M3620 452h6M3668 486h6M3527 497h6M3550 475h6M3550 491h6M3557 440h6M3612 477h6M3648 510h6M3617 499h6M3653 483h6M3530 504h6M3595 480h6M3651 515h6M3590 481h6M3642 472h6M3561 516h6M3572 435h6M3619 532h6M3679 473h6M3558 454h6M3613 515h6M3616 455h6M3542 449h6M3497 451h6M3498 488h6M3606 512h6M3582 472h6M3583 511h6M3567 495h6M3567 477h6M3585 459h6M3639 445h6M3608 451h6M3664 520h6M3540 479h6M3523 491h6M3510 531h6M3552 502h6M3630 510h6M3606 487h6M3583 498h6M3647 448h6M3557 455h6M3531 468h6M3655 456h6M3587 458h6M3607 532h6M3614 520h6M3575 432h6M3477 490h6M3614 532h6M3564 495h6M3597 526h6M3579 459h6M3641 506h6M3603 454h6M3583 440h6M3476 486h6M3560 510h6M3660 492h6M3678 475h6M3624 454h6M3590 483h6M3572 511h6M3482 497h6M3540 497h6M3604 482h6M3563 457h6M3612 472h6M3607 449h6M3656 462h6M3645 479h6M3612 489h6M3619 493h6M3651 514h6M3546 533h6M3587 447h6M3608 487h6M3673 478h6M3586 500h6M3481 509h6M3672 493h6M3498 499h6M3592 515h6M3567 456h6M3575 465h6M3677 471h6M3548 492h6M3517 479h6M3576 478h6M3570 531h6M3606 452h6M3560 516h6M3548 496h6M3581 509h6M3573 489h6M3537 504h6M3582 486h6M3625 490h6M3588 491h6M3544 465h6M3546 528h6M3550 481h6M3559 514h6M3689 465h6M3612 497h6M3567 509h6M3515 519h6M3595 462h6M3668 519h6M3645 448h6M3569 477h6M3616 535h6M3482 494h6M3576 524h6M3581 454h6M3573 461h6M3542 494h6M3557 502h6M3650 515h6M3514 427h6M3537 486h6M3702 533h6M3555 530h6M3648 493h6M3648 503h6M3548 457h6M3576 524h6M3511 444h6M3612 410h6M3680 480h6M3506 461h6M3702 484h6M3576 500h6M3639 534h6M3589 483h6M3581 502h6M3653 497h6M3680 467h6M3651 503h6M3536 471h6M3575 503h6M3570 448h6M3544 509h6M3627 450h6M3564 442h6M3586 482h6M3552 456h6M3484 492h6M3496 506h6M3654 433h6M3618 444h6M3583 502h6M3546 502h6M3643 487h6M3576 505h6M3627 443h6M3586 472h6M3609 525h6M3600 533h6M3530 480h6M3530 495h6M3588 487h6M3519 491h6M3560 512h6M3569 529h6M3595 436h6M3574 449h6M3582 507h6M3506 424h6M3554 485h6M3503 496h6M3600 513h6M3666 518h6M3564 496h6M3615 461h6M3654 521h6M3571 473h6M3635 500h6M3621 465h6M3621 446h6M3606 510h6M3522 525h6M3555 503h6M3625 515h6M3592 486h6M3616 498h6M3576 451h6M3568 512h6M3559 504h6M3576 462h6M3536 471h6M3569 486h6M3644 460h6M3475 515h6M3560 490h6M3616 523h6M3591 523h6M3552 472h6M3667 475h6M3646 489h6M3642 484h6M3636 490h6M3569 493h6M3593 476h6M3564 438h6M3464 408h6M3498 484h6M3487 528h6M3604 504h6M3640 476h6M3514 462h6M3575 498h6M3555 531h6M3601 490h6M3482 523h6M3545 480h6M3597 497h6M3645 474h6M3594 503h6M3587 515h6M3572 531h6M3547 450h6M3583 531h6M3558 475h6M3567 499h6M3576 504h6M3616 468h6M3659 508h6M3664 458h6M3674 496h6M3475 518h6M3569 463h6M3574 434h6M3616 488h6M3587 474h6M3534 492h6M3642 476h6M3530 523h6M3588 493h6M3697 457h6M3596 439h6M3569 512h6M3645 455h6M3630 518h6M3585 467h6M3608 437h6M3669 525h6M3564 513h6M3552 454h6M3476 485h6M3501 489h6M3607 481h6M3535 531h6M3574 501h6M3636 454h6M3577 462h6M3572 477h6M3519 482h6M3584 494h6M3614 441h6M3505 519h6M3561 532h6M3601 451h6M3614 463h6M3599 532h6M3698 492h6M3622 504h6M3627 415h6M3564 503h6M3610 471h6M3629 528h6M3589 487h6M3566 499h6M3560 466h6M3543 525h6M3597 503h6M3611 506h6M3579 462h6M3552 498h6M3606 483h6M3560 501h6M3568 468h6M3504 478h6M3541 520h6M3524 482h6M3620 491h6M3612 520h6M3497 482h6M3579 509h6M3676 483h6M3589 507h6M3571 533h6M3629 525h6M3588 484h6M3566 483h6M3498 505h6M3628 494h6M3559 495h6M3597 504h6M3680 468h6M3604 515h6M3589 487h6M3531 476h6M3550 509h6M3613 525h6M3598 508h6M3632 459h6M3587 440h6M3481 469h6M3504 510h6M3637 485h6M3578 487h6M3571 498h6M3603 480h6M3544 478h6M3627 481h6M3661 487h6M3657 458h6M3548 509h6M3611 489h6M3692 496h6M3600 477h6M3672 520h6M3606 445h6M3604 480h6M3605 522h6M3546 501h6M3631 499h6M3568 462h6M3550 456h6M3636 497h6M3521 494h6M3648 529h6M3508 472h6M3595 482h6M3540 478h6M3572 477h6M3596 487h6M3545 495h6M3494 491h6M3602 506h6M3598 532h6M3526 492h6M3592 479h6M3554 533h6M3547 479h6M3570 487h6M3593 488h6M3604 498h6M3609 535h6M3561 514h6M3593 485h6M3545 470h6M3639 496h6M3621 501h6M3624 454h6M3593 498h6M3560 501h6M3508 521h6M3651 455h6M3606 463h6M3533 519h6M3679 461h6M3586 470h6M3569 503h6M3582 473h6M3693 489h6M3575 527h6M3585 488h6M3633 463h6M3623 524h6M3618 488h6M3584 442h6M3577 502h6M3629 498h6M3564 469h6M3582 498h6M3646 494h6M3558 490h6M3559 487h6M3470 446h6M3522 507h6" stroke="#dd1111" stroke-width="6" stroke-opacity="0.85"/>
<path transform="scale(.1)" d="M3560 658h6M3467 720h6M3459 687h6M3519 695h6M3507 744h6M3513 567h6M3492 550h6M3572 661h6M3524 641h6M3524 745h6M3449 610h6M3481 693h6M3482 697h6M3574 595h6M3463 543h6M3511 635h6M3540 586h6M3526 584h6M3544 645h6M3492 581h6M3466 667h6M3475 680h6M3516 647h6M3513 668h6M3498 585h6M3564 670h6M3497 733h6M3473 732h6M3523 566h6M3521 614h6M3547 702h6M3518 674h6M3446 628h6M3508 728h6M3469 742h6M3476 668h6M3545 597h6M3570 758h6M3558 649h6M3476 619h6M3500 570h6M3557 753h6M3554 696h6M3453 557h6M3481 582h6M3522 749h6M3470 558h6M3448 693h6M3474 669h6M3515 654h6M3538 697h6M3541 617h6M3519 682h6M3523 738h6M3547 569h6M3544 708h6M3550 554h6M3522 718h6M3532 630h6M3557 695h6M3547 680h6M3518 565h6M3566 711h6M3537 738h6M3526 566h6M3520 759h6M3570 722h6M3557 677h6M3530 698h6M3523 551h6M3565 592h6M3520 745h6M3544 735h6M3553 590h6M3571 664h6M3555 618h6M3517 583h6M3544 717h6M3569 693h6M3528 556h6M3516 691h6M3514 544h6M3564 563h6M3571 634h6M3540 549h6M3530 658h6M3536 695h6M3522 599h6M3538 698h6M3541 557h6M3545 561h6M3517 653h6M3573 547h6M3551 712h6M3547 742h6M3564 543h6M3513 721h6M3548 669h6M3534 760h6M3552 721h6M3571 744h6M3515 733h6M3521 733h6M3533 711h6M3545 745h6M3564 560h6M3558 722h6M3546 694h6M3523 623h6M3543 639h6M3539 566h6M3517 611h6M3569 702h6M3565 665h6M3550 750h6M3526 598h6M3547 593h6M3531 707h6M3552 756h6M3512 624h6M3549 630h6M3546 553h6M3570 594h6M3547 746h6M3561 761h6M3524 651h6M3546 733h6M3531 590h6M3574 687h6M3572 747h6M3526 620h6M3551 685h6M3515 708h6M3546 573h6M3574 599h6M3519 674h6M3557 599h6M3544 577h6M3575 577h6M3537 717h6M3564 645h6M3549 666h6M3562 684h6M3565 614h6M3552 689h6M3533 643h6M3549 562h6M3561 659h6M3563 653h6M3551 696h6M3540 757h6M3515 552h6M3518 680h6M3552 699h6M3536 649h6M3554 638h6M3544 701h6M3536 663h6M3523 635h6M3565 688h6M3528 678h6M3551 561h6M3517 622h6M3573 742h6M3520 577h6M3543 658h6M3563 684h6M3525 568h6M3552 586h6M3537 614h6M3573 676h6M3519 569h6M3522 714h6M3545 694h6M3554 722h6M3547 595h6M3522 663h6M3542 734h6M3514 639h6M3554 669h6M3531 633h6M3572 707h6M3536 682h6M3513 710h6M3511 759h6M3531 716h6M3527 670h6M3572 598h6M3561 656h6M3534 754h6M3527 763h6M3514 569h6" stroke="#4d8c43" stroke-width="6" stroke-opacity="0.75"/>
<rect x="358" y="53.3" width="13.8" height="9.6" fill="#dfe6f8"/>
<path transform="scale(.1)" d="M3672 622h6M3586 561h6M3597 623h6M3632 587h6M3596 583h6M3669 607h6M3649 619h6M3634 561h6M3695 549h6M3630 613h6M3616 577h6M3620 587h6M3586 581h6M3678 616h6M3668 589h6M3638 601h6M3691 606h6M3627 538h6M3611 588h6M3587 592h6M3606 547h6M3642 553h6M3627 544h6M3642 575h6M3590 607h6M3586 560h6M3672 616h6M3638 544h6M3687 569h6M3695 559h6M3631 623h6M3643 553h6M3684 614h6M3601 584h6M3689 562h6M3631 575h6M3616 550h6M3645 592h6M3668 597h6M3694 577h6M3692 608h6M3588 606h6M3605 598h6M3628 605h6M3591 576h6M3642 552h6M3643 585h6M3652 579h6M3629 551h6M3615 600h6M3661 578h6M3590 598h6M3588 555h6M3681 559h6M3608 546h6M3604 619h6M3616 599h6M3659 565h6M3615 543h6M3671 568h6M3667 607h6M3636 618h6M3705 553h6M3683 620h6M3601 556h6M3613 541h6M3597 550h6M3677 540h6M3608 559h6M3643 607h6M3595 581h6M3699 609h6M3681 546h6M3671 605h6M3675 550h6M3631 567h6M3608 621h6M3585 603h6M3637 603h6M3703 595h6M3587 571h6M3609 594h6M3653 576h6M3593 608h6M3622 598h6M3682 617h6M3611 612h6M3623 613h6M3620 546h6M3610 540h6M3689 572h6M3708 622h6M3661 592h6M3617 589h6M3615 611h6M3674 594h6M3678 548h6M3691 580h6M3601 615h6M3609 610h6M3628 543h6M3640 627h6M3690 584h6M3595 564h6M3622 576h6M3598 622h6M3689 618h6M3677 570h6M3690 595h6M3625 544h6M3652 609h6M3700 545h6M3586 602h6M3689 566h6M3684 552h6M3640 551h6M3685 625h6M3683 558h6M3607 580h6M3711 552h6" stroke="#7c98e4" stroke-width="6" stroke-opacity="0.7"/>
<g fill="none" stroke="#808080" stroke-width="0.6">
<rect x="346.6" y="40.6" width="25.2" height="12.7" fill="none"/>
<rect x="344" y="53.3" width="14" height="23.3" fill="none"/>
<rect x="358" y="53.3" width="13.8" height="9.6" fill="none"/>
</g>
<text x="358.2" y="47.9" font-size="2.5" fill="#222">•</text>
<text x="364" y="58.6" font-size="2.5" fill="#222">•</text>
<text x="348" y="65.1" font-size="2.5" fill="#222">•</text>
</g>
<rect x="342" y="27.1" width="54" height="52" fill="none" stroke="#aaa" stroke-width="0.6"/>
<line x1="341.7" y1="79.1" x2="396" y2="79.1" stroke="#666" stroke-width="0.7"/>
<text x="364.5" y="39.2" font-size="4.9" font-weight="bold" fill="#151515" textLength="24" lengthAdjust="spacingAndGlyphs">GMP 0.30%</text>
<text x="369.3" y="66.6" font-size="4.9" font-weight="bold" fill="#151515" textLength="24" lengthAdjust="spacingAndGlyphs">CMP 0.22%</text>
<text x="359.7" y="76.2" font-size="4.9" font-weight="bold" fill="#151515" textLength="23.6" lengthAdjust="spacingAndGlyphs">MEP 0.23%</text>
<text x="333.6" y="30.6" font-size="4.3" fill="#222">10<tspan font-size="2.67" dy="-1.94">5</tspan></text>
<text x="333.6" y="45.4" font-size="4.3" fill="#222">10<tspan font-size="2.67" dy="-1.94">4</tspan></text>
<text x="333.6" y="58.4" font-size="4.3" fill="#222">10<tspan font-size="2.67" dy="-1.94">3</tspan></text>
<text x="333.6" y="71.8" font-size="4.3" fill="#222">10<tspan font-size="2.67" dy="-1.94">2</tspan></text>
<text x="354" y="86" font-size="4" text-anchor="middle" fill="#333">0</text>
<text x="363" y="86" font-size="4.3" fill="#222">10<tspan font-size="2.67" dy="-1.94">3</tspan></text>
<text x="376.4" y="86" font-size="4.3" fill="#222">10<tspan font-size="2.67" dy="-1.94">4</tspan></text>
<text x="389.8" y="86" font-size="4.3" fill="#222">10<tspan font-size="2.67" dy="-1.94">5</tspan></text>
<line x1="10.4" y1="34.2" x2="10.4" y2="55.4" stroke="#333" stroke-width="1.2"/>
<path d="M10.4 29.5L8.1 34.7L12.7 34.7Z" fill="#111"/>
<text x="13.2" y="68.6" font-size="6.5" text-anchor="middle" fill="#222" textLength="20" lengthAdjust="spacingAndGlyphs" transform="rotate(-90 13.2 68.6)">CD16/32</text>
<text x="27.5" y="101.2" font-size="6.5" fill="#222" textLength="12" lengthAdjust="spacingAndGlyphs">CD34</text>
<line x1="42.5" y1="99.2" x2="121" y2="99.2" stroke="#333" stroke-width="1.2"/>
<path d="M125.5 99.2L120.5 96.9L120.5 101.5Z" fill="#111"/>
<line x1="256" y1="29.3" x2="256" y2="55.3" stroke="#333" stroke-width="1.2"/>
<path d="M256 24.6L253.7 29.8L258.3 29.8Z" fill="#111"/>
<text x="258" y="68.8" font-size="6.5" text-anchor="middle" fill="#222" textLength="19.6" lengthAdjust="spacingAndGlyphs" transform="rotate(-90 258 68.8)">CD16/32</text>
<text x="272" y="96.3" font-size="6.5" fill="#222" textLength="12.3" lengthAdjust="spacingAndGlyphs">CD34</text>
<line x1="288" y1="94.2" x2="373.3" y2="94.2" stroke="#333" stroke-width="1.2"/>
<path d="M377.8 94.2L372.8 91.9L372.8 96.5Z" fill="#111"/>
<line x1="182" y1="77.2" x2="183.6" y2="77.2" stroke="#111" stroke-width="0.7"/>
<text x="178.3" y="78.6" font-size="4" text-anchor="end" fill="#222">0.0</text>
<line x1="182" y1="63.5" x2="183.6" y2="63.5" stroke="#111" stroke-width="0.7"/>
<text x="178.3" y="64.9" font-size="4" text-anchor="end" fill="#222">0.2</text>
<line x1="182" y1="49.8" x2="183.6" y2="49.8" stroke="#111" stroke-width="0.7"/>
<text x="178.3" y="51.2" font-size="4" text-anchor="end" fill="#222">0.4</text>
<line x1="182" y1="36.1" x2="183.6" y2="36.1" stroke="#111" stroke-width="0.7"/>
<text x="178.3" y="37.5" font-size="4" text-anchor="end" fill="#222">0.6</text>
<rect x="187" y="50.83" width="4.1" height="26.37" fill="#b3113a"/>
<line x1="189.05" y1="48.09" x2="189.05" y2="50.83" stroke="#333" stroke-width="0.6"/>
<line x1="187.85" y1="48.09" x2="190.25" y2="48.09" stroke="#333" stroke-width="0.6"/>
<rect x="193.1" y="43.29" width="4.1" height="33.91" fill="#6aad3c"/>
<line x1="195.15" y1="39.87" x2="195.15" y2="43.29" stroke="#333" stroke-width="0.6"/>
<line x1="193.95" y1="39.87" x2="196.35" y2="39.87" stroke="#333" stroke-width="0.6"/>
<rect x="204" y="61.58" width="4" height="15.62" fill="#b3113a"/>
<line x1="206" y1="59.53" x2="206" y2="61.58" stroke="#333" stroke-width="0.6"/>
<line x1="204.8" y1="59.53" x2="207.2" y2="59.53" stroke="#333" stroke-width="0.6"/>
<rect x="210.1" y="61.58" width="4" height="15.62" fill="#6aad3c"/>
<line x1="212.1" y1="60.9" x2="212.1" y2="61.58" stroke="#333" stroke-width="0.6"/>
<line x1="210.9" y1="60.9" x2="213.3" y2="60.9" stroke="#333" stroke-width="0.6"/>
<rect x="221.2" y="60.76" width="4.1" height="16.44" fill="#b3113a"/>
<line x1="223.25" y1="59.05" x2="223.25" y2="60.76" stroke="#333" stroke-width="0.6"/>
<line x1="222.05" y1="59.05" x2="224.45" y2="59.05" stroke="#333" stroke-width="0.6"/>
<rect x="227.5" y="60.76" width="4" height="16.44" fill="#6aad3c"/>
<line x1="229.5" y1="60.08" x2="229.5" y2="60.76" stroke="#333" stroke-width="0.6"/>
<line x1="228.3" y1="60.08" x2="230.7" y2="60.08" stroke="#333" stroke-width="0.6"/>
<line x1="183.6" y1="33.5" x2="183.6" y2="77.7" stroke="#111" stroke-width="0.9"/>
<line x1="183.2" y1="77.2" x2="232.5" y2="77.2" stroke="#111" stroke-width="0.9"/>
<line x1="192.2" y1="77.2" x2="192.2" y2="79" stroke="#111" stroke-width="0.7"/>
<line x1="209.2" y1="77.2" x2="209.2" y2="79" stroke="#111" stroke-width="0.7"/>
<line x1="226.3" y1="77.2" x2="226.3" y2="79" stroke="#111" stroke-width="0.7"/>
<text x="192.3" y="85.5" font-size="4.6" text-anchor="middle" fill="#222">GMP</text>
<text x="209.2" y="85.5" font-size="4.6" text-anchor="middle" fill="#222">CMP</text>
<text x="226.5" y="85.5" font-size="4.6" text-anchor="middle" fill="#222">MEP</text>
<text x="166.6" y="55.35" font-size="5" text-anchor="middle" fill="#222" textLength="42.7" lengthAdjust="spacingAndGlyphs" transform="rotate(-90 166.6 55.35)">% in bone marrow</text>
<rect x="213.1" y="34.2" width="3.8" height="2" fill="#b3113a"/>
<text x="219.3" y="36.8" font-size="3.4" fill="#555" textLength="10.8" lengthAdjust="spacingAndGlyphs" stroke="none">control</text>
<rect x="213.1" y="39.1" width="3.8" height="2" fill="#6aad3c"/>
<text x="219.3" y="41.7" font-size="3.4" fill="#555" textLength="17.7" lengthAdjust="spacingAndGlyphs" stroke="none">Dmp1-TSC1</text>
<line x1="433" y1="75" x2="434.6" y2="75" stroke="#111" stroke-width="0.7"/>
<text x="429.3" y="76.4" font-size="4" text-anchor="end" fill="#222">0.0</text>
<line x1="433" y1="67.25" x2="434.6" y2="67.25" stroke="#111" stroke-width="0.7"/>
<text x="429.3" y="68.65" font-size="4" text-anchor="end" fill="#222">0.1</text>
<line x1="433" y1="59.5" x2="434.6" y2="59.5" stroke="#111" stroke-width="0.7"/>
<text x="429.3" y="60.9" font-size="4" text-anchor="end" fill="#222">0.2</text>
<line x1="433" y1="51.75" x2="434.6" y2="51.75" stroke="#111" stroke-width="0.7"/>
<text x="429.3" y="53.15" font-size="4" text-anchor="end" fill="#222">0.3</text>
<line x1="433" y1="44" x2="434.6" y2="44" stroke="#111" stroke-width="0.7"/>
<text x="429.3" y="45.4" font-size="4" text-anchor="end" fill="#222">0.4</text>
<line x1="433" y1="36.25" x2="434.6" y2="36.25" stroke="#111" stroke-width="0.7"/>
<text x="429.3" y="37.65" font-size="4" text-anchor="end" fill="#222">0.5</text>
<rect x="437.3" y="44.77" width="3.6" height="30.23" fill="#b3113a"/>
<line x1="439.1" y1="42.06" x2="439.1" y2="44.77" stroke="#333" stroke-width="0.6"/>
<line x1="437.9" y1="42.06" x2="440.3" y2="42.06" stroke="#333" stroke-width="0.6"/>
<rect x="443.6" y="51.75" width="3.8" height="23.25" fill="#6aad3c"/>
<line x1="445.5" y1="48.65" x2="445.5" y2="51.75" stroke="#333" stroke-width="0.6"/>
<line x1="444.3" y1="48.65" x2="446.7" y2="48.65" stroke="#333" stroke-width="0.6"/>
<rect x="453.2" y="57.33" width="3.9" height="17.67" fill="#b3113a"/>
<line x1="455.15" y1="55.78" x2="455.15" y2="57.33" stroke="#333" stroke-width="0.6"/>
<line x1="453.95" y1="55.78" x2="456.35" y2="55.78" stroke="#333" stroke-width="0.6"/>
<rect x="459.3" y="57.95" width="3.8" height="17.05" fill="#6aad3c"/>
<line x1="461.2" y1="56.79" x2="461.2" y2="57.95" stroke="#333" stroke-width="0.6"/>
<line x1="460" y1="56.79" x2="462.4" y2="56.79" stroke="#333" stroke-width="0.6"/>
<rect x="469.2" y="57.33" width="3.8" height="17.67" fill="#b3113a"/>
<line x1="471.1" y1="55.78" x2="471.1" y2="57.33" stroke="#333" stroke-width="0.6"/>
<line x1="469.9" y1="55.78" x2="472.3" y2="55.78" stroke="#333" stroke-width="0.6"/>
<rect x="475.2" y="57.33" width="3.7" height="17.67" fill="#6aad3c"/>
<line x1="477.05" y1="56.17" x2="477.05" y2="57.33" stroke="#333" stroke-width="0.6"/>
<line x1="475.85" y1="56.17" x2="478.25" y2="56.17" stroke="#333" stroke-width="0.6"/>
<line x1="434.6" y1="33" x2="434.6" y2="75.5" stroke="#111" stroke-width="0.9"/>
<line x1="434.2" y1="75" x2="482" y2="75" stroke="#111" stroke-width="0.9"/>
<line x1="442.3" y1="75" x2="442.3" y2="76.8" stroke="#111" stroke-width="0.7"/>
<line x1="458.1" y1="75" x2="458.1" y2="76.8" stroke="#111" stroke-width="0.7"/>
<line x1="474.1" y1="75" x2="474.1" y2="76.8" stroke="#111" stroke-width="0.7"/>
<text x="442.3" y="85" font-size="4.6" text-anchor="middle" fill="#222">GMP</text>
<text x="458.1" y="85" font-size="4.6" text-anchor="middle" fill="#222">CMP</text>
<text x="474.1" y="85" font-size="4.6" text-anchor="middle" fill="#222">MEP</text>
<text x="417.6" y="54" font-size="5" text-anchor="middle" fill="#222" textLength="41" lengthAdjust="spacingAndGlyphs" transform="rotate(-90 417.6 54)">% in bone marrow</text>
<rect x="461.1" y="34.2" width="3.8" height="2" fill="#b3113a"/>
<text x="467.3" y="36.8" font-size="3.4" fill="#555" textLength="10.6" lengthAdjust="spacingAndGlyphs" stroke="none">control</text>
<rect x="461.1" y="39.1" width="3.8" height="2" fill="#6aad3c"/>
<text x="467.3" y="41.7" font-size="3.4" fill="#555" textLength="17.6" lengthAdjust="spacingAndGlyphs" stroke="none">Dmp1-Rheb</text>
<text x="41" y="132.5" font-size="6.4" fill="#222" textLength="20" lengthAdjust="spacingAndGlyphs">control</text>
<g clip-path="url(#c4)">
<ellipse cx="39" cy="165.1" rx="10.5" ry="9" fill="#a8f27a" fill-opacity="0.9" filter="url(#b22)"/>
<path transform="scale(.1)" d="M466 1586h6M401 1539h6M419 1678h6M363 1718h6M293 1598h6M408 1651h6M310 1663h6M328 1711h6M368 1699h6M375 1664h6M345 1677h6M337 1674h6M351 1624h6M412 1622h6M354 1548h6M320 1566h6M510 1552h6M309 1681h6M484 1521h6M408 1544h6M436 1661h6M436 1656h6M382 1717h6M375 1685h6M320 1613h6M417 1644h6M331 1720h6M422 1664h6M318 1557h6M436 1623h6M459 1612h6M359 1564h6M351 1638h6M386 1681h6M442 1669h6M411 1536h6M362 1511h6M296 1663h6M410 1585h6M363 1687h6M372 1648h6M438 1685h6M279 1640h6M401 1580h6M430 1595h6M359 1654h6M343 1724h6M349 1679h6M381 1553h6M477 1643h6M369 1551h6M443 1609h6M308 1677h6M395 1626h6M502 1618h6M433 1642h6M410 1675h6M407 1649h6M445 1685h6M368 1712h6M359 1717h6M357 1706h6M415 1634h6M448 1655h6M353 1663h6M288 1685h6M328 1670h6M471 1684h6M353 1588h6M390 1564h6M332 1563h6M365 1675h6M281 1598h6M463 1705h6M407 1692h6M398 1506h6M367 1609h6M351 1695h6M303 1585h6M460 1630h6M354 1555h6M350 1647h6M339 1650h6M500 1644h6M398 1644h6M443 1701h6M481 1640h6M311 1714h6M344 1675h6M295 1595h6M397 1608h6M351 1646h6M398 1617h6M327 1508h6M500 1506h6M409 1712h6M385 1598h6M508 1595h6M282 1578h6M338 1668h6M407 1533h6M333 1653h6M336 1581h6M447 1478h6M277 1699h6M440 1675h6M467 1587h6M284 1667h6M450 1524h6M348 1679h6M364 1671h6M441 1595h6M448 1494h6M342 1604h6M329 1548h6M363 1602h6M337 1705h6M287 1714h6M448 1664h6M436 1655h6M465 1616h6M407 1690h6M462 1712h6M420 1491h6M445 1634h6M373 1669h6M355 1709h6M507 1485h6M361 1498h6M362 1465h6M390 1650h6M439 1533h6M305 1641h6M383 1559h6M352 1652h6M512 1683h6M419 1607h6M288 1614h6M367 1699h6M310 1557h6M332 1685h6M337 1494h6M419 1651h6M365 1612h6M350 1712h6M399 1667h6M426 1627h6M417 1699h6M435 1684h6M483 1683h6M449 1670h6M344 1583h6M373 1713h6M476 1658h6M348 1622h6M478 1675h6M290 1676h6M382 1654h6M506 1550h6M394 1722h6M317 1666h6M285 1711h6M388 1685h6M327 1626h6M322 1670h6M430 1529h6M276 1482h6M423 1651h6M393 1703h6M383 1589h6M400 1696h6M332 1672h6M425 1627h6M299 1617h6M461 1643h6M429 1602h6M417 1607h6M325 1676h6M357 1607h6M349 1692h6M399 1696h6M428 1573h6M304 1559h6M289 1657h6M423 1667h6M487 1602h6M441 1701h6M360 1558h6M374 1614h6M434 1654h6M425 1526h6M455 1592h6M436 1564h6M391 1657h6M318 1597h6M360 1687h6M434 1618h6M306 1598h6M351 1666h6M459 1624h6M447 1416h6M484 1702h6M413 1519h6M371 1592h6M432 1578h6M438 1678h6M466 1561h6M474 1692h6M441 1603h6M425 1724h6M326 1565h6M406 1676h6M401 1630h6M472 1681h6M401 1546h6M407 1607h6M307 1649h6M348 1694h6M405 1568h6M428 1675h6M289 1610h6M356 1635h6M329 1678h6M330 1611h6M322 1646h6M345 1696h6M400 1588h6M486 1695h6M392 1618h6M476 1603h6M461 1618h6M423 1572h6M357 1586h6M334 1682h6M373 1682h6M477 1656h6M369 1722h6M416 1710h6M358 1671h6M337 1715h6M382 1658h6M399 1669h6M377 1570h6M306 1617h6M364 1563h6M302 1641h6M438 1649h6M440 1629h6M356 1504h6M336 1707h6M487 1634h6M451 1543h6M310 1634h6M386 1650h6M406 1691h6M434 1681h6M368 1618h6M319 1522h6M327 1527h6M426 1716h6M333 1659h6M342 1670h6M440 1657h6M448 1660h6M295 1704h6M460 1500h6M425 1509h6M392 1708h6M362 1665h6M363 1633h6M359 1556h6M479 1659h6M329 1606h6M337 1613h6M360 1696h6M443 1697h6M339 1562h6M328 1611h6M347 1559h6M503 1689h6M290 1687h6M461 1581h6M429 1642h6M385 1634h6M302 1694h6M380 1633h6M380 1650h6M311 1620h6M466 1646h6M484 1567h6M289 1677h6M440 1609h6M461 1656h6M381 1524h6M387 1690h6M485 1557h6M325 1580h6M449 1448h6M432 1552h6M424 1647h6M413 1626h6M487 1623h6M415 1612h6M369 1645h6M338 1686h6M487 1651h6M488 1702h6M490 1615h6M467 1626h6M449 1642h6M368 1668h6M333 1648h6M401 1596h6M278 1692h6M348 1721h6M322 1689h6M391 1705h6M319 1656h6M325 1652h6M482 1520h6M406 1673h6M353 1603h6M394 1513h6M410 1638h6M386 1627h6M466 1710h6M487 1617h6M373 1577h6M422 1661h6M381 1699h6M449 1661h6M347 1697h6M444 1610h6M353 1698h6M342 1681h6M507 1681h6M318 1696h6M289 1589h6M380 1534h6M465 1494h6M327 1541h6M428 1493h6M407 1509h6M350 1633h6M347 1709h6M312 1706h6M386 1648h6M408 1603h6M313 1513h6M345 1647h6M431 1650h6M325 1581h6M406 1654h6M387 1619h6M383 1663h6M482 1580h6M368 1681h6M463 1718h6M370 1709h6M458 1700h6M312 1600h6M376 1649h6M429 1697h6M490 1602h6M356 1725h6M392 1720h6M403 1614h6M277 1615h6M388 1725h6M381 1551h6M444 1650h6M470 1693h6M448 1624h6M458 1685h6M299 1634h6M363 1707h6M434 1573h6M437 1662h6M333 1567h6M457 1624h6M402 1466h6M431 1616h6M418 1523h6M428 1698h6M329 1686h6M383 1700h6M455 1554h6M466 1606h6M395 1718h6M443 1720h6M350 1589h6M413 1654h6M448 1668h6M293 1694h6M326 1607h6M412 1632h6M390 1664h6M481 1628h6M357 1693h6M416 1553h6M408 1646h6M388 1688h6M425 1657h6M382 1685h6M362 1556h6M436 1615h6M343 1528h6M475 1683h6M394 1708h6M409 1683h6M428 1651h6M422 1677h6M503 1557h6M421 1536h6M308 1722h6M390 1702h6M326 1686h6M369 1591h6M398 1589h6M505 1623h6M368 1576h6M325 1676h6M339 1565h6M440 1655h6M387 1559h6M446 1664h6M281 1605h6M300 1605h6M365 1719h6M390 1717h6M334 1650h6M420 1600h6M314 1481h6M397 1586h6M404 1636h6M448 1644h6M310 1464h6M398 1616h6M349 1538h6M433 1505h6M436 1595h6M426 1691h6M334 1587h6M357 1604h6M433 1659h6M387 1703h6M421 1602h6M363 1504h6M481 1649h6M423 1596h6M357 1607h6M426 1558h6M376 1670h6M421 1486h6M369 1677h6M430 1715h6M432 1722h6M376 1718h6M490 1598h6M435 1645h6M352 1562h6M351 1707h6M342 1632h6M405 1629h6M393 1661h6M310 1671h6M319 1644h6M375 1708h6M372 1550h6M463 1630h6M394 1690h6M337 1695h6M466 1682h6M392 1636h6M387 1721h6M366 1523h6M395 1651h6M416 1667h6M492 1563h6M316 1719h6M312 1691h6M382 1499h6M397 1546h6M437 1577h6M375 1698h6M329 1522h6M373 1660h6M324 1598h6M434 1656h6M351 1614h6M394 1671h6M371 1548h6M357 1611h6M448 1717h6M390 1636h6M406 1624h6M359 1593h6M379 1657h6M508 1709h6M309 1657h6M375 1688h6M431 1583h6M333 1688h6M448 1571h6M317 1647h6M398 1699h6M375 1659h6M451 1627h6M346 1628h6M348 1674h6M368 1627h6M479 1688h6M345 1663h6M376 1616h6M357 1670h6M286 1631h6M399 1686h6M427 1651h6M374 1663h6M412 1639h6M484 1573h6M425 1704h6M306 1714h6M420 1611h6M361 1624h6M333 1684h6M387 1549h6M313 1605h6M356 1634h6M338 1715h6M446 1669h6M420 1656h6M401 1671h6M283 1458h6M424 1621h6M410 1638h6M303 1662h6M310 1668h6M414 1715h6M392 1551h6M420 1580h6M348 1670h6M452 1571h6M443 1715h6M325 1712h6M332 1662h6M362 1682h6M304 1705h6M418 1623h6M323 1666h6M384 1423h6M334 1537h6M445 1706h6M383 1699h6M395 1617h6M370 1544h6M341 1664h6M371 1624h6M379 1572h6M383 1538h6M325 1603h6M440 1702h6M387 1570h6M466 1544h6M354 1672h6M406 1664h6M427 1546h6M486 1571h6M386 1705h6M373 1724h6M485 1602h6M290 1582h6M359 1683h6M366 1690h6M388 1638h6M403 1456h6M443 1611h6M505 1670h6M301 1677h6M298 1649h6M402 1627h6M454 1572h6M301 1636h6M439 1640h6M399 1622h6M392 1645h6M425 1676h6M330 1626h6M356 1695h6M409 1597h6M371 1690h6M457 1685h6M433 1638h6M317 1673h6M416 1691h6M393 1637h6M329 1640h6M409 1719h6M354 1657h6M419 1575h6M331 1680h6M294 1669h6M284 1680h6M386 1619h6M321 1623h6M350 1650h6M463 1706h6" stroke="#8fec55" stroke-width="6" stroke-opacity="0.9"/>
<path transform="scale(.1)" d="M506 1641h6M501 1591h6M520 1692h6M505 1691h6M505 1637h6M492 1663h6M516 1637h6M503 1665h6M515 1709h6M520 1722h6M522 1723h6M523 1690h6M495 1638h6M495 1661h6M501 1655h6M509 1663h6M503 1684h6M494 1724h6M516 1608h6M510 1691h6M522 1681h6M522 1587h6M524 1644h6M495 1686h6M522 1641h6M522 1596h6M508 1696h6M510 1716h6M519 1690h6M521 1704h6M522 1661h6M519 1693h6M517 1689h6M506 1645h6M482 1641h6M515 1716h6M523 1615h6M499 1725h6M518 1681h6M523 1721h6M491 1670h6M482 1726h6M522 1690h6M525 1706h6M477 1712h6M509 1712h6" stroke="#9fe86f" stroke-width="6" stroke-opacity="0.8"/>
<rect x="27.4" y="172.6" width="38.7" height="15.5" fill="#8aec40"/>
<ellipse cx="66.5" cy="180.5" rx="2.5" ry="7.9" fill="#8aec40" fill-opacity="0.8" filter="url(#b10)"/>
<path transform="scale(.1)" d="M636 1746h6M660 1817h6M704 1827h6M691 1736h6M637 1778h6M708 1728h6M627 1802h6M659 1727h6M701 1846h6M672 1803h6M660 1814h6M650 1754h6M638 1807h6M646 1857h6M614 1839h6M678 1877h6M643 1872h6M658 1782h6M651 1802h6M651 1864h6M701 1799h6M661 1737h6M662 1846h6M703 1777h6M678 1786h6M693 1821h6M672 1748h6M657 1787h6M578 1856h6M665 1793h6M656 1807h6M671 1729h6M668 1812h6M662 1731h6M686 1786h6M652 1772h6M674 1767h6M645 1760h6M652 1876h6M632 1728h6M680 1748h6M661 1816h6M666 1760h6M641 1790h6M688 1793h6M641 1780h6M685 1747h6M671 1828h6M649 1838h6M681 1864h6M687 1839h6M689 1756h6M687 1827h6M646 1746h6M675 1770h6M674 1791h6M672 1853h6M664 1856h6M686 1757h6M686 1841h6M668 1871h6M705 1850h6M630 1831h6M662 1790h6M674 1787h6M705 1822h6M666 1851h6M685 1875h6M681 1804h6M630 1866h6M709 1733h6M646 1829h6M660 1792h6M659 1805h6M684 1759h6M678 1765h6M678 1824h6M647 1814h6M648 1757h6M679 1847h6M651 1869h6M687 1731h6M678 1833h6M648 1840h6M684 1764h6M617 1829h6M596 1833h6M643 1782h6M643 1843h6M665 1760h6M634 1781h6M693 1735h6M676 1826h6M617 1870h6M708 1791h6M662 1747h6M632 1853h6M659 1783h6M661 1846h6M688 1806h6M661 1812h6M637 1834h6M669 1878h6M646 1842h6M660 1863h6M670 1858h6M647 1816h6M653 1791h6M654 1746h6M693 1824h6M692 1748h6M618 1768h6M662 1853h6M691 1878h6M703 1849h6M668 1762h6M682 1777h6M646 1841h6M671 1857h6M648 1875h6M674 1797h6M647 1743h6M631 1844h6M660 1773h6M654 1801h6M688 1840h6M684 1861h6M672 1863h6M631 1734h6M661 1806h6M664 1834h6M676 1793h6M668 1841h6M644 1860h6M674 1821h6M688 1740h6M679 1833h6M656 1781h6M668 1764h6M651 1783h6M645 1759h6M670 1809h6M677 1808h6M636 1850h6M672 1772h6M659 1825h6M667 1799h6M684 1869h6M658 1805h6M638 1796h6M677 1857h6M670 1801h6M648 1819h6M639 1814h6M666 1753h6M674 1794h6M680 1778h6M670 1853h6M650 1785h6M619 1797h6M638 1813h6M615 1755h6M667 1829h6M625 1782h6M728 1852h6M643 1837h6M671 1833h6M689 1812h6M727 1788h6M680 1863h6M650 1822h6M683 1739h6M660 1791h6M658 1765h6M634 1831h6M671 1874h6M664 1766h6M630 1811h6M660 1753h6M700 1812h6M655 1805h6M696 1750h6M677 1728h6" stroke="#8aec40" stroke-width="6" stroke-opacity="0.9"/>
<path transform="scale(.1)" d="M338 1706h6M369 1718h6M315 1697h6M303 1710h6M337 1705h6M335 1709h6M337 1715h6M349 1692h6M325 1689h6M288 1719h6M314 1706h6M379 1710h6M374 1713h6M377 1703h6M346 1710h6M398 1704h6M301 1707h6M354 1722h6M292 1701h6M331 1706h6M332 1707h6M373 1714h6M320 1717h6M323 1716h6M410 1703h6M333 1724h6M446 1724h6M354 1724h6M437 1702h6M409 1690h6M359 1700h6M344 1706h6M354 1707h6M330 1699h6M426 1711h6M379 1719h6M363 1710h6M340 1712h6M417 1711h6M389 1722h6M362 1699h6M288 1697h6M312 1716h6M316 1723h6M399 1722h6M348 1712h6M358 1720h6M348 1715h6M310 1688h6M384 1724h6M365 1721h6M352 1700h6M277 1719h6M348 1721h6M367 1705h6M370 1713h6M335 1704h6M344 1702h6M452 1726h6M362 1702h6M290 1722h6M360 1707h6M410 1717h6M372 1720h6M349 1721h6M298 1723h6M377 1715h6M433 1707h6M467 1717h6M303 1710h6M369 1695h6M385 1690h6M360 1723h6M354 1699h6M344 1713h6M312 1705h6M352 1723h6M458 1697h6M306 1705h6M379 1715h6M331 1693h6M387 1716h6M310 1716h6M397 1694h6M320 1704h6M373 1698h6M328 1691h6M355 1716h6M448 1721h6M310 1715h6M337 1722h6M288 1704h6M386 1696h6M392 1720h6M362 1723h6M348 1716h6M413 1701h6M278 1705h6M412 1711h6M307 1709h6M339 1701h6M368 1703h6M321 1720h6M352 1712h6M280 1720h6M310 1717h6M315 1719h6M395 1720h6M389 1695h6M378 1720h6M312 1714h6M380 1706h6M367 1712h6M379 1717h6M332 1723h6M351 1707h6M407 1700h6M312 1711h6M418 1709h6" stroke="#8aec40" stroke-width="6" stroke-opacity="0.9"/>
<g clip-path="url(#c5)">
<path transform="scale(.1)" d="M641 1723h6M526 1591h6M619 1636h6M572 1579h6M605 1649h6M539 1641h6M629 1639h6M641 1590h6M626 1703h6M638 1669h6M604 1580h6M637 1619h6M562 1694h6M529 1608h6M648 1706h6M591 1649h6M637 1640h6M571 1673h6M618 1651h6M665 1664h6M587 1655h6M707 1598h6M596 1592h6M627 1562h6M632 1694h6M571 1589h6M535 1647h6M554 1604h6M589 1600h6M622 1576h6M583 1658h6M679 1721h6M595 1653h6M591 1633h6M551 1530h6M591 1708h6M648 1523h6M600 1604h6M624 1573h6M655 1631h6M639 1702h6M685 1646h6M662 1672h6M585 1663h6M682 1573h6M651 1555h6M603 1631h6M641 1665h6M672 1605h6M652 1670h6M610 1567h6M638 1665h6M649 1642h6M597 1670h6M633 1689h6M704 1605h6M658 1592h6M710 1587h6M663 1581h6M553 1697h6M653 1599h6M730 1624h6M688 1579h6M562 1651h6M559 1674h6M582 1583h6M620 1630h6M587 1697h6M625 1669h6M676 1640h6M652 1618h6M640 1679h6M583 1547h6M546 1584h6M638 1636h6M595 1676h6M580 1680h6M645 1583h6M616 1586h6M599 1672h6M525 1588h6M570 1651h6M573 1669h6M567 1611h6M640 1665h6M617 1642h6M591 1598h6M565 1559h6M623 1713h6M548 1637h6M539 1600h6M691 1656h6M597 1649h6M624 1638h6M551 1569h6M710 1595h6M669 1598h6M675 1690h6M563 1630h6M567 1595h6M592 1583h6M524 1564h6M563 1615h6M660 1691h6M634 1658h6M729 1572h6M553 1643h6M620 1630h6M568 1560h6M596 1599h6M586 1575h6M676 1674h6M702 1612h6M613 1629h6M611 1628h6M602 1518h6M596 1690h6M606 1674h6M588 1606h6M661 1659h6M583 1630h6M626 1632h6M597 1630h6M603 1653h6M639 1698h6M560 1640h6M637 1643h6M679 1640h6M574 1633h6M592 1648h6M652 1637h6M607 1710h6M624 1706h6M617 1561h6M554 1538h6M666 1672h6M586 1581h6M628 1636h6M626 1591h6M563 1643h6M676 1527h6M645 1649h6M603 1662h6M551 1502h6M704 1627h6M654 1716h6M624 1674h6M596 1618h6M614 1671h6M652 1649h6M708 1666h6M628 1677h6M594 1575h6M617 1625h6M567 1653h6M600 1607h6M522 1634h6M697 1702h6M664 1644h6M662 1602h6M588 1678h6M540 1649h6M576 1672h6M578 1610h6M667 1679h6M637 1566h6M600 1642h6M690 1587h6M631 1708h6M570 1651h6M695 1672h6M613 1655h6M717 1681h6M662 1617h6M589 1578h6M602 1600h6M659 1687h6M604 1610h6M625 1688h6M618 1579h6M600 1615h6M639 1526h6M582 1706h6M620 1592h6M633 1664h6M566 1690h6M644 1637h6M657 1570h6M648 1633h6M564 1607h6M668 1610h6M593 1603h6M571 1707h6M635 1694h6M593 1614h6M594 1599h6M579 1658h6M583 1647h6M549 1664h6M576 1618h6M690 1686h6M591 1677h6M609 1717h6M586 1677h6M600 1646h6M603 1606h6M616 1709h6M580 1621h6M629 1597h6M653 1691h6M557 1699h6M657 1569h6M577 1640h6M592 1692h6M659 1684h6M664 1706h6M607 1618h6M574 1698h6M654 1711h6M594 1621h6M628 1660h6M570 1674h6M637 1585h6M697 1587h6M656 1633h6M619 1595h6M583 1691h6M601 1624h6M654 1692h6M619 1661h6M695 1635h6M630 1673h6M542 1522h6M617 1701h6M621 1612h6M578 1698h6M596 1543h6M644 1661h6M629 1713h6M676 1682h6M602 1511h6M625 1636h6M607 1643h6M569 1626h6M621 1714h6M575 1697h6M726 1560h6M598 1647h6M671 1644h6M569 1642h6M609 1661h6M575 1689h6M621 1576h6M614 1647h6M601 1697h6M666 1587h6M623 1651h6M562 1553h6M690 1610h6M703 1527h6M645 1691h6M568 1616h6M559 1648h6M675 1709h6M631 1717h6M608 1561h6M591 1604h6M615 1666h6M696 1579h6M541 1692h6M562 1566h6M666 1685h6M612 1654h6M575 1609h6M581 1640h6M611 1562h6M625 1563h6M595 1629h6M692 1715h6M689 1627h6M680 1642h6M621 1663h6M543 1606h6M602 1669h6M604 1590h6M552 1646h6M551 1569h6M605 1657h6M569 1529h6M624 1698h6M590 1621h6M555 1692h6M581 1636h6M601 1528h6M747 1543h6M616 1592h6M635 1653h6M630 1596h6M528 1560h6M590 1693h6M615 1658h6M620 1532h6M639 1573h6M548 1653h6M625 1653h6M610 1609h6M710 1515h6M637 1595h6M565 1629h6M742 1677h6M558 1660h6M631 1663h6M559 1618h6M630 1613h6M734 1644h6M572 1709h6M584 1671h6M605 1598h6M679 1651h6M664 1623h6M539 1564h6M584 1633h6M613 1678h6M548 1660h6M549 1601h6M681 1703h6M683 1629h6M604 1589h6M639 1564h6M585 1675h6M585 1668h6M701 1581h6M680 1601h6M563 1660h6M661 1599h6M574 1616h6M574 1657h6M574 1628h6M628 1618h6M668 1601h6M685 1650h6M652 1667h6M584 1689h6M618 1600h6M589 1619h6M544 1608h6M649 1546h6M591 1491h6M581 1670h6M607 1648h6M554 1682h6M565 1704h6M621 1620h6M684 1619h6M661 1652h6M610 1710h6M632 1645h6M604 1659h6M614 1624h6M604 1629h6M671 1674h6M605 1590h6M651 1606h6M638 1716h6M543 1647h6M666 1562h6M620 1671h6M574 1636h6M694 1529h6M633 1616h6M612 1592h6M678 1572h6M628 1680h6M606 1627h6M597 1712h6M633 1640h6M556 1656h6M637 1643h6M682 1521h6M735 1633h6M553 1532h6M654 1682h6" stroke="#3030f0" stroke-width="6" stroke-opacity="0.6"/>
<ellipse cx="62.7" cy="169" rx="4.6" ry="7" fill="#1a10e8" fill-opacity="0.88" filter="url(#b11)"/>
</g>
</g>
<rect x="27" y="136.8" width="52.4" height="51.6" fill="none" stroke="#888" stroke-width="0.6"/>
<line x1="51.5" y1="136.8" x2="51.5" y2="188.4" stroke="#444" stroke-width="0.6"/>
<line x1="27" y1="172.6" x2="79.4" y2="172.6" stroke="#444" stroke-width="0.6"/>
<text x="44.2" y="167.1" font-size="3" text-anchor="middle" fill="#555" stroke="none">Q1</text>
<text x="57.5" y="167.1" font-size="3" text-anchor="middle" fill="#555" stroke="none">Q2</text>
<text x="44.8" y="180.4" font-size="3" text-anchor="middle" fill="#555" stroke="none">Q4</text>
<text x="57.7" y="180.4" font-size="3" text-anchor="middle" fill="#555" stroke="none">Q3</text>
<text x="28.6" y="142.2" font-size="5.6" font-weight="bold" textLength="23.8" lengthAdjust="spacingAndGlyphs">Lin<tspan dy="-1.6" font-size="3.2">-</tspan><tspan dy="1.6"> gated</tspan></text>
<text x="76.8" y="142.9" font-size="5.4" text-anchor="end" textLength="10.4" lengthAdjust="spacingAndGlyphs">0.05</text>
<text x="17.3" y="144.4" font-size="4.3" fill="#222">10<tspan font-size="2.67" dy="-1.94">5</tspan></text>
<text x="17.3" y="155.2" font-size="4.3" fill="#222">10<tspan font-size="2.67" dy="-1.94">4</tspan></text>
<text x="17.3" y="168.4" font-size="4.3" fill="#222">10<tspan font-size="2.67" dy="-1.94">3</tspan></text>
<text x="17.3" y="181.9" font-size="4.3" fill="#222">10<tspan font-size="2.67" dy="-1.94">2</tspan></text>
<text x="32.5" y="197.6" font-size="4.3" fill="#222">10<tspan font-size="2.67" dy="-1.94">2</tspan></text>
<text x="46" y="197.6" font-size="4.3" fill="#222">10<tspan font-size="2.67" dy="-1.94">3</tspan></text>
<text x="59.5" y="197.6" font-size="4.3" fill="#222">10<tspan font-size="2.67" dy="-1.94">4</tspan></text>
<text x="73.5" y="197.6" font-size="4.3" fill="#222">10<tspan font-size="2.67" dy="-1.94">5</tspan></text>
<text x="100.9" y="133" font-size="6.4" fill="#222" textLength="33.7" lengthAdjust="spacingAndGlyphs">Dmp1-TSC1</text>
<g clip-path="url(#c6)">
<ellipse cx="105.1" cy="164.8" rx="10.5" ry="9" fill="#a8f27a" fill-opacity="0.9" filter="url(#b22)"/>
<path transform="scale(.1)" d="M1031 1659h6M1058 1627h6M1127 1717h6M1038 1524h6M1142 1623h6M1081 1492h6M958 1650h6M1109 1653h6M1034 1702h6M1096 1595h6M1165 1670h6M1062 1627h6M1008 1714h6M1016 1559h6M1024 1716h6M999 1638h6M1052 1717h6M1039 1583h6M1122 1607h6M1151 1659h6M1013 1598h6M1089 1673h6M1128 1577h6M1074 1708h6M1110 1649h6M1048 1654h6M974 1651h6M1031 1682h6M1017 1713h6M1041 1530h6M1012 1588h6M958 1643h6M1111 1569h6M1066 1629h6M971 1682h6M958 1681h6M1004 1685h6M969 1684h6M1055 1616h6M991 1564h6M1020 1699h6M1038 1678h6M1137 1637h6M1084 1698h6M1042 1632h6M1147 1668h6M1106 1708h6M1053 1721h6M1091 1677h6M1169 1633h6M1035 1529h6M938 1533h6M1107 1718h6M1072 1536h6M1115 1552h6M1127 1683h6M999 1528h6M1024 1657h6M1039 1614h6M984 1647h6M1080 1663h6M1023 1683h6M1095 1569h6M1141 1504h6M1142 1621h6M976 1623h6M1029 1578h6M950 1620h6M1114 1699h6M1142 1613h6M1022 1636h6M1057 1704h6M992 1552h6M1094 1679h6M1024 1655h6M1074 1720h6M1116 1674h6M1066 1458h6M1133 1530h6M1024 1529h6M1160 1617h6M1035 1650h6M983 1721h6M1000 1626h6M1150 1568h6M964 1713h6M1028 1627h6M974 1641h6M1058 1584h6M1044 1705h6M966 1651h6M1123 1682h6M946 1697h6M984 1671h6M1136 1707h6M1022 1643h6M1042 1662h6M995 1623h6M1089 1611h6M990 1616h6M1021 1678h6M1012 1647h6M1052 1636h6M1066 1659h6M1162 1706h6M1128 1606h6M942 1604h6M1141 1578h6M1028 1646h6M1073 1670h6M1025 1685h6M996 1659h6M1092 1573h6M1031 1566h6M1098 1715h6M1066 1713h6M1128 1530h6M1007 1623h6M1119 1641h6M1142 1455h6M1087 1627h6M992 1648h6M1127 1662h6M1084 1574h6M1045 1627h6M942 1701h6M966 1599h6M1132 1567h6M1115 1703h6M1029 1543h6M1056 1700h6M1010 1579h6M1106 1573h6M1076 1621h6M1088 1708h6M946 1651h6M1065 1598h6M1161 1490h6M1094 1501h6M1085 1600h6M997 1583h6M940 1584h6M975 1633h6M1017 1455h6M1010 1652h6M992 1600h6M1037 1543h6M1030 1515h6M1064 1523h6M1003 1631h6M1046 1613h6M994 1494h6M1000 1638h6M994 1658h6M1098 1685h6M1034 1678h6M1092 1707h6M984 1604h6M1096 1673h6M1098 1533h6M1023 1709h6M1035 1620h6M1058 1581h6M1085 1657h6M1123 1585h6M1106 1577h6M1061 1713h6M1033 1708h6M1003 1594h6M1030 1649h6M980 1722h6M1030 1705h6M1020 1570h6M1029 1702h6M1094 1594h6M1077 1609h6M1076 1564h6M1133 1689h6M1019 1538h6M1058 1609h6M1056 1594h6M1001 1707h6M1142 1547h6M1025 1687h6M1028 1617h6M1064 1613h6M1032 1460h6M1101 1636h6M1019 1602h6M1041 1628h6M946 1578h6M1063 1653h6M986 1465h6M1093 1614h6M946 1702h6M1023 1572h6M947 1644h6M1045 1503h6M1108 1547h6M1137 1683h6M1026 1683h6M997 1649h6M1154 1606h6M1096 1578h6M955 1683h6M1089 1577h6M1030 1670h6M998 1620h6M973 1612h6M1021 1712h6M1045 1576h6M996 1633h6M1032 1515h6M1048 1712h6M1175 1671h6M1019 1642h6M1082 1722h6M979 1671h6M1085 1484h6M1135 1637h6M1100 1651h6M1022 1648h6M1021 1560h6M990 1572h6M1093 1574h6M1146 1666h6M1014 1630h6M1094 1718h6M1080 1549h6M1181 1714h6M1086 1584h6M991 1642h6M1103 1603h6M999 1665h6M1006 1651h6M1097 1681h6M1111 1600h6M982 1540h6M1048 1643h6M967 1637h6M1009 1583h6M1138 1657h6M1131 1564h6M983 1660h6M1035 1708h6M953 1700h6M1095 1610h6M1001 1563h6M1088 1693h6M1096 1665h6M1118 1705h6M1099 1664h6M1147 1623h6M1093 1557h6M1045 1615h6M975 1550h6M1060 1698h6M1000 1556h6M1015 1597h6M1036 1623h6M1016 1683h6M1008 1655h6M1023 1655h6M1098 1681h6M944 1656h6M1038 1694h6M1048 1655h6M1117 1570h6M1148 1703h6M1050 1695h6M1045 1616h6M1046 1643h6M1011 1520h6M998 1619h6M1044 1578h6M1167 1482h6M964 1541h6M1048 1643h6M1151 1719h6M1042 1636h6M1108 1644h6M1157 1720h6M981 1642h6M1024 1675h6M1050 1635h6M1009 1541h6M1075 1667h6M1078 1608h6M1069 1589h6M984 1447h6M1016 1623h6M1064 1670h6M1011 1637h6M1081 1511h6M1106 1616h6M950 1597h6M1138 1706h6M1001 1717h6M1106 1705h6M1045 1622h6M984 1538h6M1099 1702h6M983 1694h6M1036 1674h6M998 1702h6M1059 1513h6M985 1627h6M1177 1689h6M1160 1697h6M1125 1659h6M1102 1625h6M1029 1593h6M1097 1718h6M1005 1589h6M966 1624h6M966 1704h6M1040 1650h6M986 1699h6M978 1693h6M992 1678h6M1099 1593h6M1092 1694h6M994 1712h6M1138 1618h6M1092 1704h6M1047 1542h6M1055 1565h6M1061 1476h6M1086 1602h6M1101 1615h6M1092 1644h6M1054 1613h6M1068 1618h6M1136 1677h6M1069 1701h6M1077 1553h6M1143 1681h6M1016 1592h6M1007 1622h6M1055 1601h6M1062 1685h6M1046 1701h6M1062 1659h6M1049 1600h6M1092 1491h6M1064 1656h6M1076 1545h6M1023 1585h6M1016 1721h6M1039 1621h6M1134 1672h6M1080 1707h6M1067 1692h6M989 1661h6M969 1599h6M988 1598h6M1027 1649h6M1119 1565h6M1110 1549h6M1149 1694h6M980 1482h6M1020 1552h6M1123 1560h6M1031 1706h6M1048 1686h6M982 1711h6M963 1678h6M968 1646h6M986 1722h6M1010 1542h6M1053 1567h6M1137 1577h6M1162 1575h6M1068 1550h6M1036 1678h6M1088 1593h6M1043 1584h6M1072 1718h6M1097 1693h6M1125 1558h6M1043 1513h6M1044 1622h6M1102 1625h6M1001 1654h6M1036 1705h6M985 1536h6M958 1623h6M996 1687h6M963 1631h6M1040 1508h6M1095 1695h6M1081 1545h6M1058 1699h6M1117 1618h6M1015 1628h6M1023 1537h6M981 1646h6M1128 1710h6M1062 1635h6M1038 1664h6M1093 1669h6M1111 1506h6M1103 1618h6M1047 1627h6M1090 1653h6M1089 1595h6M1123 1633h6M1056 1632h6M1038 1665h6M1130 1712h6M959 1689h6M1015 1528h6M972 1621h6M1162 1671h6M1033 1661h6M994 1678h6M1040 1527h6M1090 1655h6M1092 1582h6M1019 1640h6M1011 1686h6M1117 1692h6M1005 1686h6M1021 1718h6M1022 1648h6M1163 1649h6M940 1674h6M1067 1622h6M1011 1648h6M998 1691h6M1038 1587h6M1070 1549h6M1180 1540h6M958 1621h6M1086 1689h6M1136 1513h6M974 1691h6M974 1602h6M1101 1676h6M984 1641h6M1102 1591h6M1037 1718h6M1123 1692h6M1094 1606h6M1007 1715h6M1070 1573h6M1042 1599h6M983 1611h6M1086 1671h6M1059 1546h6M1046 1635h6M993 1619h6M1176 1675h6M1149 1675h6M948 1671h6M998 1606h6M1002 1552h6M1100 1602h6M1124 1652h6M1041 1546h6M1012 1676h6M1063 1620h6M994 1700h6M946 1701h6M984 1654h6M1061 1647h6M1120 1603h6M1018 1694h6M1047 1688h6M1035 1601h6M1094 1674h6M1026 1607h6M1019 1614h6M1012 1716h6M1068 1662h6M1116 1668h6M1045 1681h6M1092 1652h6M1161 1651h6M955 1719h6M1130 1676h6M1153 1716h6M1163 1692h6M1114 1692h6M1058 1563h6M1123 1652h6M983 1617h6M1035 1677h6M989 1593h6M1078 1662h6M1071 1673h6M1158 1587h6M1010 1523h6M1043 1629h6M1161 1667h6M1089 1678h6M1098 1678h6M969 1691h6M1082 1700h6M1001 1678h6M1064 1580h6M970 1722h6M1096 1680h6M942 1644h6M1066 1719h6M1130 1705h6M1021 1707h6M1064 1585h6M989 1703h6M999 1713h6M1125 1561h6M985 1701h6M972 1633h6M1147 1623h6M1034 1526h6M1037 1538h6M1071 1681h6M1023 1712h6M975 1630h6M1012 1554h6M1132 1648h6M964 1565h6M1124 1722h6M1103 1662h6M1094 1536h6M1067 1544h6M976 1669h6M989 1561h6M1113 1706h6M1145 1662h6M1035 1522h6M1031 1616h6M1117 1719h6M1127 1707h6M1056 1633h6M1046 1586h6M1073 1657h6M997 1625h6M1004 1559h6M1157 1580h6M1029 1628h6M1147 1720h6M1047 1722h6M1022 1646h6M1043 1622h6M1029 1691h6M1103 1656h6M1012 1631h6M957 1631h6M1053 1610h6M1035 1654h6M998 1591h6M1036 1683h6M975 1495h6M981 1702h6M1005 1671h6M992 1708h6M1047 1691h6M1078 1645h6M1077 1674h6M1050 1595h6M1008 1588h6M1057 1599h6M1074 1576h6M987 1703h6M1170 1631h6M1035 1716h6M1115 1581h6M1020 1615h6M1079 1712h6M1011 1705h6M1066 1660h6M948 1652h6M1024 1643h6M1036 1703h6M1048 1703h6M1011 1720h6M1039 1542h6M968 1642h6M1135 1626h6M1006 1684h6M1062 1612h6M1112 1633h6M1025 1602h6M953 1646h6M1041 1555h6M1007 1659h6M1080 1705h6M1007 1589h6M1019 1596h6M1070 1717h6M1127 1652h6M1004 1637h6M966 1601h6M1175 1598h6M1013 1710h6M1060 1721h6M986 1575h6M1130 1606h6M1037 1677h6M1001 1702h6M1023 1480h6M1095 1456h6M1016 1604h6M1003 1659h6M1106 1590h6M1003 1719h6M1077 1717h6M1065 1640h6M1011 1622h6M1174 1577h6M1028 1660h6M1032 1570h6M1033 1623h6M1043 1563h6M1021 1722h6M1129 1575h6M1056 1653h6M1154 1583h6M980 1600h6M1044 1694h6M977 1716h6M1049 1642h6M990 1604h6M966 1606h6M1042 1707h6M940 1576h6M1003 1528h6M1024 1638h6M1031 1693h6M1062 1708h6M990 1584h6M1086 1705h6" stroke="#8fec55" stroke-width="6" stroke-opacity="0.9"/>
<path transform="scale(.1)" d="M1175 1707h6M1190 1640h6M1187 1690h6M1170 1671h6M1158 1715h6M1190 1695h6M1192 1709h6M1193 1670h6M1175 1720h6M1174 1711h6M1189 1688h6M1186 1638h6M1189 1658h6M1189 1696h6M1192 1709h6M1191 1625h6M1189 1685h6M1160 1681h6M1189 1664h6M1182 1637h6M1188 1666h6M1192 1635h6M1190 1590h6M1173 1690h6M1182 1637h6M1178 1608h6M1164 1688h6M1190 1699h6M1184 1714h6M1178 1643h6M1194 1603h6M1187 1707h6M1182 1654h6M1167 1701h6M1182 1663h6M1168 1649h6M1158 1705h6M1166 1668h6M1159 1602h6M1178 1677h6M1183 1710h6M1185 1662h6M1192 1609h6M1168 1585h6M1156 1580h6M1192 1655h6M1187 1708h6M1181 1634h6M1173 1723h6M1188 1680h6M1163 1651h6M1147 1638h6M1190 1665h6" stroke="#9fe86f" stroke-width="6" stroke-opacity="0.8"/>
<rect x="93.5" y="172.3" width="39.5" height="16" fill="#8aec40"/>
<ellipse cx="133.4" cy="180.45" rx="2.5" ry="8.15" fill="#8aec40" fill-opacity="0.8" filter="url(#b10)"/>
<path transform="scale(.1)" d="M1361 1737h6M1325 1839h6M1300 1730h6M1361 1750h6M1337 1812h6M1342 1761h6M1370 1781h6M1344 1813h6M1348 1853h6M1386 1857h6M1345 1878h6M1349 1763h6M1308 1875h6M1349 1764h6M1291 1750h6M1351 1854h6M1305 1744h6M1360 1803h6M1322 1735h6M1364 1820h6M1344 1825h6M1345 1855h6M1377 1740h6M1332 1777h6M1376 1787h6M1294 1803h6M1316 1760h6M1323 1726h6M1331 1748h6M1290 1777h6M1341 1754h6M1345 1730h6M1317 1797h6M1345 1807h6M1317 1782h6M1324 1786h6M1340 1838h6M1342 1763h6M1292 1794h6M1314 1771h6M1334 1819h6M1366 1795h6M1291 1839h6M1349 1815h6M1320 1814h6M1344 1840h6M1363 1803h6M1307 1787h6M1325 1850h6M1362 1725h6M1365 1733h6M1399 1764h6M1361 1788h6M1352 1759h6M1337 1805h6M1336 1852h6M1323 1785h6M1301 1796h6M1322 1857h6M1351 1761h6M1329 1734h6M1395 1837h6M1314 1822h6M1286 1834h6M1344 1757h6M1313 1794h6M1328 1795h6M1306 1819h6M1359 1724h6M1334 1822h6M1372 1770h6M1347 1758h6M1343 1725h6M1299 1741h6M1318 1766h6M1326 1830h6M1320 1860h6M1317 1844h6M1333 1825h6M1310 1860h6M1351 1771h6M1318 1856h6M1360 1850h6M1324 1804h6M1357 1854h6M1362 1813h6M1316 1821h6M1345 1772h6M1345 1754h6M1340 1768h6M1387 1876h6M1340 1725h6M1303 1846h6M1330 1823h6M1337 1792h6M1301 1756h6M1353 1778h6M1342 1812h6M1319 1877h6M1298 1738h6M1358 1767h6M1347 1786h6M1328 1805h6M1285 1739h6M1354 1848h6M1308 1858h6M1365 1849h6M1399 1723h6M1307 1788h6M1309 1807h6M1347 1803h6M1336 1828h6M1353 1764h6M1317 1876h6M1325 1754h6M1341 1783h6M1337 1800h6M1350 1859h6M1313 1731h6M1374 1763h6M1333 1765h6M1288 1747h6M1307 1864h6M1340 1803h6M1302 1793h6M1350 1813h6M1360 1808h6M1351 1831h6M1343 1853h6M1307 1738h6M1329 1755h6M1349 1828h6M1364 1839h6M1305 1860h6M1317 1760h6M1335 1803h6M1328 1824h6M1321 1778h6M1367 1831h6M1345 1756h6M1376 1793h6M1317 1802h6M1350 1848h6M1370 1740h6M1390 1766h6M1313 1751h6M1331 1732h6M1357 1800h6M1327 1859h6M1327 1729h6M1336 1835h6M1329 1791h6M1303 1768h6M1395 1841h6M1344 1845h6M1371 1745h6M1321 1813h6M1353 1854h6M1277 1834h6M1339 1767h6M1346 1738h6M1298 1734h6M1308 1871h6M1341 1802h6M1355 1805h6M1334 1753h6M1318 1805h6M1337 1771h6M1358 1740h6M1360 1809h6M1381 1771h6M1324 1753h6M1303 1819h6M1307 1823h6M1318 1867h6M1270 1828h6M1335 1804h6" stroke="#8aec40" stroke-width="6" stroke-opacity="0.9"/>
<path transform="scale(.1)" d="M985 1719h6M994 1707h6M1015 1723h6M943 1706h6M959 1702h6M1049 1713h6M1034 1711h6M1034 1714h6M943 1716h6M989 1709h6M1027 1704h6M1120 1708h6M1078 1718h6M971 1700h6M993 1706h6M990 1711h6M942 1697h6M1097 1715h6M1004 1711h6M959 1719h6M1158 1709h6M983 1696h6M1006 1706h6M968 1722h6M1071 1713h6M1092 1717h6M1003 1710h6M1069 1721h6M978 1718h6M1081 1697h6M1065 1717h6M992 1703h6M1020 1716h6M1094 1711h6M1029 1720h6M1107 1714h6M1003 1696h6M971 1691h6M979 1709h6M963 1721h6M1057 1687h6M1061 1715h6M944 1702h6M1040 1711h6M1075 1701h6M1011 1702h6M987 1715h6M988 1704h6M940 1689h6M998 1716h6M1047 1700h6M976 1702h6M942 1687h6M1011 1716h6M1017 1712h6M1000 1692h6M1109 1710h6M1082 1689h6M1042 1695h6M1089 1709h6M1057 1704h6M977 1716h6M1078 1695h6M1007 1723h6M962 1702h6M1064 1706h6M1065 1702h6M960 1717h6M1059 1719h6M987 1699h6M1086 1711h6M1122 1696h6M990 1703h6M981 1684h6M1079 1715h6M943 1690h6M1034 1710h6M1019 1719h6M988 1709h6M1050 1711h6M994 1722h6M1037 1701h6M1044 1686h6M950 1716h6M999 1722h6M1012 1708h6M1071 1721h6M985 1700h6M939 1717h6M1020 1716h6M968 1701h6M1067 1709h6M955 1716h6M1026 1706h6M981 1701h6M998 1711h6M1093 1715h6M1041 1697h6M1085 1709h6M940 1714h6M1079 1711h6M1066 1712h6M938 1700h6M1046 1709h6M1028 1716h6M985 1711h6M992 1721h6M968 1697h6M1016 1722h6M1002 1693h6M1118 1706h6M1055 1720h6M1051 1713h6M986 1699h6M985 1706h6M1041 1708h6M1050 1704h6M971 1722h6M1041 1713h6M946 1694h6M1062 1700h6M937 1706h6M1005 1688h6M1001 1714h6M1079 1708h6M951 1716h6M1020 1720h6M991 1716h6M977 1721h6M972 1704h6M1080 1702h6M1011 1721h6" stroke="#8aec40" stroke-width="6" stroke-opacity="0.9"/>
<g clip-path="url(#c7)">
<path transform="scale(.1)" d="M1364 1585h6M1283 1608h6M1299 1606h6M1251 1628h6M1307 1609h6M1423 1653h6M1229 1645h6M1341 1667h6M1269 1597h6M1246 1564h6M1260 1657h6M1303 1612h6M1201 1655h6M1417 1704h6M1240 1648h6M1252 1622h6M1269 1549h6M1310 1612h6M1309 1688h6M1319 1531h6M1359 1695h6M1324 1640h6M1285 1605h6M1306 1699h6M1257 1692h6M1262 1678h6M1278 1695h6M1380 1654h6M1261 1613h6M1316 1608h6M1333 1659h6M1330 1605h6M1238 1592h6M1305 1590h6M1319 1508h6M1252 1629h6M1195 1601h6M1211 1636h6M1273 1688h6M1244 1536h6M1258 1648h6M1290 1651h6M1345 1617h6M1275 1586h6M1256 1707h6M1345 1513h6M1265 1703h6M1292 1676h6M1328 1659h6M1223 1664h6M1271 1676h6M1291 1641h6M1371 1658h6M1330 1661h6M1366 1617h6M1267 1708h6M1219 1661h6M1322 1587h6M1197 1644h6M1269 1653h6M1300 1694h6M1363 1669h6M1210 1684h6M1305 1650h6M1364 1658h6M1268 1671h6M1207 1703h6M1320 1666h6M1295 1566h6M1282 1661h6M1335 1669h6M1321 1686h6M1261 1661h6M1276 1562h6M1212 1695h6M1364 1594h6M1291 1718h6M1256 1621h6M1330 1632h6M1293 1648h6M1280 1622h6M1265 1647h6M1241 1698h6M1270 1693h6M1244 1577h6M1242 1657h6M1222 1696h6M1271 1700h6M1268 1694h6M1236 1572h6M1316 1607h6M1339 1598h6M1312 1590h6M1276 1704h6M1295 1532h6M1306 1711h6M1306 1635h6M1290 1567h6M1323 1688h6M1304 1592h6M1318 1606h6M1348 1603h6M1260 1621h6M1235 1584h6M1385 1665h6M1300 1585h6M1295 1641h6M1291 1546h6M1280 1520h6M1276 1584h6M1256 1620h6M1327 1719h6M1287 1572h6M1359 1551h6M1258 1627h6M1306 1710h6M1271 1697h6M1278 1631h6M1300 1666h6M1314 1627h6M1211 1620h6M1245 1693h6M1268 1538h6M1306 1672h6M1244 1659h6M1293 1596h6M1243 1669h6M1335 1682h6M1206 1658h6M1266 1719h6M1224 1672h6M1363 1581h6M1322 1637h6M1205 1573h6M1290 1673h6M1266 1659h6M1301 1659h6M1226 1649h6M1311 1544h6M1245 1579h6M1254 1594h6M1377 1643h6M1282 1664h6M1364 1651h6M1266 1658h6M1348 1627h6M1355 1660h6M1276 1672h6M1383 1625h6M1353 1677h6M1293 1644h6M1326 1680h6M1304 1683h6M1243 1598h6M1236 1618h6M1275 1617h6M1312 1579h6M1273 1696h6M1368 1644h6M1235 1656h6M1234 1615h6M1305 1559h6M1312 1631h6M1273 1675h6M1245 1532h6M1287 1594h6M1275 1570h6M1239 1574h6M1222 1588h6M1246 1642h6M1207 1677h6M1224 1583h6M1268 1642h6M1288 1655h6M1279 1710h6M1326 1605h6M1274 1553h6M1317 1626h6M1378 1596h6M1359 1581h6M1202 1585h6M1301 1704h6M1241 1701h6M1259 1606h6M1293 1658h6M1210 1650h6M1242 1594h6M1239 1597h6M1317 1588h6M1347 1641h6M1239 1597h6M1217 1546h6M1340 1695h6M1236 1610h6M1362 1592h6M1295 1671h6M1274 1626h6M1267 1646h6M1207 1641h6M1292 1554h6M1306 1579h6M1288 1674h6M1262 1545h6M1275 1696h6M1281 1544h6M1306 1625h6M1275 1641h6M1311 1631h6M1236 1630h6M1290 1713h6M1223 1629h6M1240 1655h6M1330 1595h6M1229 1541h6M1231 1555h6M1276 1646h6M1279 1660h6M1242 1676h6M1278 1665h6M1313 1614h6M1344 1688h6M1364 1540h6M1306 1697h6M1316 1637h6M1330 1683h6M1262 1649h6M1335 1597h6M1253 1585h6M1355 1681h6M1325 1614h6M1282 1715h6M1270 1713h6M1283 1637h6M1311 1693h6M1369 1616h6M1366 1590h6M1242 1497h6M1225 1618h6M1271 1540h6M1287 1658h6M1259 1574h6M1290 1676h6M1215 1632h6M1270 1677h6M1276 1566h6M1219 1622h6M1354 1658h6M1293 1511h6M1254 1554h6M1197 1662h6M1325 1590h6M1252 1666h6M1327 1572h6M1341 1699h6M1284 1568h6M1312 1683h6M1370 1601h6M1362 1617h6M1310 1632h6M1251 1692h6M1271 1637h6M1249 1652h6M1334 1693h6M1205 1568h6M1263 1639h6M1272 1659h6M1240 1656h6M1308 1706h6M1241 1697h6M1379 1690h6M1345 1672h6M1250 1614h6M1339 1656h6M1302 1580h6M1303 1655h6M1196 1673h6M1229 1555h6M1288 1658h6M1219 1592h6M1352 1655h6M1336 1638h6M1336 1606h6M1259 1578h6M1190 1614h6M1217 1609h6M1292 1651h6M1304 1614h6M1282 1714h6M1277 1641h6M1339 1583h6M1231 1702h6M1223 1703h6M1279 1599h6M1194 1559h6M1323 1559h6M1309 1636h6M1271 1570h6M1251 1657h6M1235 1680h6M1296 1674h6M1295 1675h6M1303 1692h6M1303 1660h6M1238 1527h6M1286 1701h6M1238 1536h6M1257 1662h6M1326 1618h6M1225 1635h6M1318 1635h6M1334 1606h6M1234 1582h6M1309 1637h6M1349 1631h6M1203 1577h6M1351 1530h6M1213 1692h6M1291 1717h6M1231 1591h6M1267 1559h6M1272 1628h6M1327 1633h6M1264 1671h6M1339 1706h6M1298 1614h6M1260 1554h6M1287 1637h6M1366 1653h6M1191 1597h6M1272 1646h6M1227 1694h6M1329 1671h6M1318 1568h6M1341 1599h6M1190 1647h6M1305 1594h6M1201 1564h6M1335 1703h6M1275 1707h6M1276 1565h6M1315 1675h6M1238 1547h6M1235 1714h6M1251 1678h6M1300 1624h6M1326 1583h6M1281 1562h6M1227 1554h6M1313 1628h6M1293 1668h6M1224 1693h6M1326 1571h6M1317 1659h6M1273 1644h6M1405 1597h6M1267 1645h6M1275 1520h6M1316 1699h6M1370 1602h6M1221 1681h6M1233 1639h6M1264 1651h6M1262 1684h6M1323 1598h6M1236 1627h6M1261 1585h6M1354 1702h6M1230 1675h6M1285 1689h6M1275 1570h6M1231 1598h6M1315 1664h6M1290 1708h6M1366 1574h6M1254 1603h6M1305 1654h6M1258 1635h6M1365 1699h6M1244 1528h6M1229 1651h6M1245 1585h6M1321 1621h6M1266 1654h6M1357 1660h6M1319 1645h6M1362 1560h6M1229 1607h6" stroke="#3030f0" stroke-width="6" stroke-opacity="0.6"/>
<ellipse cx="130.2" cy="168.5" rx="4.6" ry="7" fill="#1a10e8" fill-opacity="0.88" filter="url(#b11)"/>
</g>
</g>
<rect x="93.1" y="137.1" width="52" height="51.5" fill="none" stroke="#888" stroke-width="0.6"/>
<line x1="118.4" y1="137.1" x2="118.4" y2="188.6" stroke="#444" stroke-width="0.6"/>
<line x1="93.1" y1="172.3" x2="145.1" y2="172.3" stroke="#444" stroke-width="0.6"/>
<text x="111.1" y="166.8" font-size="3" text-anchor="middle" fill="#555" stroke="none">Q1</text>
<text x="124.4" y="166.8" font-size="3" text-anchor="middle" fill="#555" stroke="none">Q2</text>
<text x="111.7" y="180.1" font-size="3" text-anchor="middle" fill="#555" stroke="none">Q4</text>
<text x="124.6" y="180.1" font-size="3" text-anchor="middle" fill="#555" stroke="none">Q3</text>
<text x="142.5" y="143.2" font-size="5.4" text-anchor="end" textLength="10.4" lengthAdjust="spacingAndGlyphs">0.05</text>
<text x="83.3" y="144.4" font-size="4.3" fill="#222">10<tspan font-size="2.67" dy="-1.94">5</tspan></text>
<text x="83.3" y="155.2" font-size="4.3" fill="#222">10<tspan font-size="2.67" dy="-1.94">4</tspan></text>
<text x="83.3" y="168.4" font-size="4.3" fill="#222">10<tspan font-size="2.67" dy="-1.94">3</tspan></text>
<text x="83.3" y="181.9" font-size="4.3" fill="#222">10<tspan font-size="2.67" dy="-1.94">2</tspan></text>
<text x="99" y="197.6" font-size="4.3" fill="#222">10<tspan font-size="2.67" dy="-1.94">2</tspan></text>
<text x="112" y="197.6" font-size="4.3" fill="#222">10<tspan font-size="2.67" dy="-1.94">3</tspan></text>
<text x="125.5" y="197.6" font-size="4.3" fill="#222">10<tspan font-size="2.67" dy="-1.94">4</tspan></text>
<text x="139" y="197.6" font-size="4.3" fill="#222">10<tspan font-size="2.67" dy="-1.94">5</tspan></text>
<text x="286.8" y="127" font-size="6.4" fill="#222" textLength="20.2" lengthAdjust="spacingAndGlyphs">control</text>
<g clip-path="url(#c8)">
<ellipse cx="283.3" cy="159.5" rx="10.5" ry="9" fill="#a8f27a" fill-opacity="0.9" filter="url(#b22)"/>
<path transform="scale(.1)" d="M2751 1571h6M2866 1616h6M2890 1568h6M2915 1479h6M2804 1621h6M2874 1593h6M2785 1565h6M2856 1645h6M2863 1485h6M2766 1639h6M2854 1602h6M2919 1595h6M2852 1594h6M2880 1648h6M2872 1537h6M2808 1622h6M2864 1591h6M2854 1668h6M2912 1625h6M2868 1558h6M2807 1649h6M2800 1610h6M2897 1504h6M2777 1652h6M2832 1586h6M2851 1494h6M2784 1648h6M2852 1646h6M2910 1639h6M2813 1478h6M2788 1497h6M2837 1520h6M2862 1593h6M2790 1666h6M2860 1622h6M2804 1607h6M2782 1623h6M2951 1645h6M2761 1570h6M2742 1608h6M2823 1608h6M2876 1514h6M2887 1526h6M2855 1619h6M2945 1603h6M2822 1588h6M2888 1637h6M2933 1567h6M2823 1625h6M2730 1645h6M2744 1622h6M2886 1656h6M2770 1558h6M2894 1607h6M2877 1551h6M2786 1552h6M2819 1578h6M2740 1559h6M2860 1568h6M2830 1641h6M2739 1517h6M2804 1571h6M2781 1503h6M2740 1565h6M2836 1547h6M2830 1588h6M2814 1575h6M2849 1613h6M2836 1561h6M2841 1553h6M2838 1538h6M2876 1640h6M2730 1553h6M2877 1645h6M2839 1517h6M2782 1625h6M2849 1610h6M2772 1592h6M2795 1514h6M2753 1544h6M2726 1650h6M2775 1548h6M2846 1572h6M2807 1585h6M2730 1480h6M2884 1519h6M2902 1639h6M2853 1579h6M2732 1512h6M2835 1601h6M2746 1516h6M2769 1605h6M2768 1658h6M2902 1463h6M2891 1644h6M2891 1624h6M2906 1575h6M2793 1670h6M2877 1499h6M2898 1550h6M2914 1653h6M2891 1606h6M2799 1552h6M2776 1559h6M2850 1588h6M2873 1528h6M2753 1573h6M2843 1546h6M2858 1494h6M2845 1647h6M2835 1605h6M2847 1619h6M2785 1570h6M2900 1524h6M2897 1499h6M2791 1572h6M2909 1660h6M2865 1644h6M2808 1658h6M2793 1639h6M2728 1663h6M2769 1566h6M2790 1551h6M2809 1618h6M2942 1586h6M2798 1540h6M2934 1623h6M2829 1575h6M2776 1567h6M2793 1569h6M2725 1559h6M2818 1394h6M2867 1587h6M2736 1587h6M2857 1609h6M2830 1610h6M2871 1497h6M2787 1640h6M2829 1522h6M2808 1551h6M2828 1472h6M2851 1614h6M2900 1509h6M2839 1589h6M2815 1640h6M2804 1532h6M2807 1532h6M2817 1459h6M2793 1614h6M2852 1576h6M2909 1469h6M2812 1568h6M2826 1586h6M2920 1608h6M2829 1595h6M2886 1559h6M2746 1570h6M2821 1599h6M2900 1486h6M2779 1542h6M2917 1536h6M2737 1636h6M2827 1660h6M2874 1629h6M2801 1666h6M2739 1645h6M2720 1558h6M2849 1475h6M2808 1630h6M2913 1663h6M2807 1503h6M2829 1598h6M2731 1416h6M2799 1631h6M2760 1566h6M2908 1670h6M2838 1592h6M2866 1657h6M2777 1567h6M2869 1654h6M2845 1572h6M2832 1508h6M2878 1649h6M2840 1538h6M2809 1561h6M2848 1585h6M2914 1524h6M2805 1518h6M2913 1539h6M2920 1568h6M2898 1564h6M2812 1620h6M2834 1597h6M2887 1570h6M2870 1508h6M2868 1555h6M2915 1546h6M2771 1555h6M2844 1523h6M2948 1586h6M2806 1551h6M2776 1646h6M2910 1619h6M2767 1628h6M2774 1387h6M2836 1464h6M2784 1614h6M2800 1588h6M2932 1628h6M2785 1637h6M2837 1634h6M2869 1620h6M2883 1539h6M2862 1523h6M2813 1567h6M2826 1655h6M2724 1526h6M2892 1591h6M2740 1425h6M2797 1463h6M2836 1602h6M2952 1505h6M2870 1509h6M2756 1591h6M2823 1546h6M2800 1590h6M2773 1657h6M2907 1500h6M2792 1576h6M2730 1498h6M2800 1532h6M2837 1630h6M2762 1556h6M2851 1653h6M2819 1651h6M2807 1510h6M2845 1571h6M2850 1665h6M2780 1580h6M2911 1603h6M2903 1624h6M2953 1484h6M2820 1561h6M2792 1618h6M2888 1649h6M2956 1616h6M2751 1598h6M2823 1576h6M2872 1666h6M2886 1646h6M2843 1523h6M2802 1537h6M2847 1597h6M2823 1650h6M2895 1530h6M2913 1580h6M2777 1581h6M2741 1634h6M2906 1484h6M2854 1654h6M2869 1659h6M2854 1569h6M2885 1634h6M2879 1632h6M2808 1603h6M2781 1623h6M2784 1549h6M2770 1582h6M2836 1567h6M2764 1496h6M2837 1562h6M2760 1585h6M2933 1534h6M2795 1448h6M2885 1594h6M2727 1552h6M2791 1552h6M2922 1450h6M2794 1626h6M2856 1430h6M2837 1504h6M2786 1477h6M2892 1582h6M2904 1517h6M2887 1461h6M2740 1618h6M2732 1667h6M2920 1611h6M2921 1522h6M2848 1627h6M2760 1576h6M2859 1642h6M2891 1576h6M2881 1490h6M2812 1516h6M2811 1651h6M2836 1628h6M2874 1607h6M2831 1651h6M2867 1579h6M2789 1591h6M2859 1574h6M2756 1583h6M2795 1659h6M2794 1577h6M2953 1646h6M2804 1545h6M2871 1496h6M2824 1655h6M2878 1568h6M2795 1603h6M2909 1465h6M2883 1634h6M2919 1520h6M2905 1540h6M2848 1579h6M2787 1516h6M2875 1582h6M2813 1597h6M2781 1447h6M2828 1669h6M2899 1609h6M2952 1569h6M2827 1567h6M2799 1589h6M2783 1577h6M2848 1620h6M2759 1652h6M2775 1648h6M2834 1456h6M2786 1558h6M2800 1620h6M2867 1587h6M2941 1565h6M2798 1596h6M2818 1663h6M2768 1668h6M2872 1535h6M2846 1543h6M2751 1489h6M2814 1526h6M2845 1544h6M2722 1536h6M2738 1580h6M2919 1530h6M2882 1374h6M2876 1494h6M2772 1433h6M2778 1497h6M2846 1548h6M2868 1601h6M2907 1501h6M2918 1647h6M2831 1628h6M2878 1535h6M2903 1628h6M2762 1562h6M2811 1660h6M2925 1584h6M2841 1580h6M2874 1635h6M2774 1567h6M2729 1665h6M2726 1622h6M2853 1561h6M2920 1547h6M2864 1533h6M2912 1546h6M2789 1603h6M2818 1508h6M2818 1480h6M2823 1577h6M2936 1636h6M2871 1562h6M2903 1582h6M2888 1663h6M2827 1521h6M2807 1552h6M2933 1572h6M2884 1533h6M2877 1499h6M2845 1596h6M2849 1645h6M2793 1620h6M2926 1532h6M2915 1552h6M2785 1656h6M2782 1616h6M2733 1663h6M2876 1553h6M2850 1614h6M2859 1604h6M2788 1594h6M2893 1661h6M2871 1467h6M2774 1551h6M2790 1520h6M2954 1565h6M2821 1617h6M2827 1538h6M2883 1438h6M2794 1448h6M2872 1491h6M2747 1608h6M2755 1631h6M2742 1540h6M2868 1620h6M2859 1585h6M2894 1639h6M2920 1494h6M2846 1591h6M2856 1530h6M2885 1496h6M2890 1656h6M2809 1471h6M2853 1617h6M2866 1546h6M2815 1513h6M2864 1539h6M2911 1668h6M2868 1637h6M2936 1560h6M2853 1623h6M2900 1503h6M2945 1654h6M2833 1488h6M2929 1651h6M2807 1608h6M2905 1656h6M2903 1587h6M2953 1498h6M2739 1662h6M2814 1637h6M2839 1607h6M2762 1646h6M2928 1549h6M2760 1610h6M2760 1575h6M2763 1545h6M2826 1524h6M2804 1548h6M2727 1545h6M2800 1647h6M2813 1644h6M2807 1469h6M2823 1626h6M2905 1631h6M2882 1541h6M2765 1593h6M2894 1608h6M2870 1606h6M2960 1558h6M2765 1613h6M2771 1576h6M2959 1611h6M2788 1636h6M2779 1633h6M2746 1557h6M2798 1656h6M2751 1669h6M2849 1614h6M2795 1533h6M2818 1617h6M2877 1476h6M2804 1554h6M2839 1620h6M2837 1595h6M2816 1560h6M2794 1578h6M2819 1456h6M2836 1611h6M2861 1520h6M2781 1655h6M2784 1513h6M2730 1563h6M2799 1511h6M2930 1616h6M2889 1550h6M2760 1598h6M2882 1496h6M2911 1582h6M2889 1602h6M2865 1668h6M2921 1555h6M2720 1611h6M2901 1616h6M2756 1628h6M2845 1532h6M2924 1570h6M2761 1624h6M2787 1599h6M2849 1580h6M2873 1640h6M2916 1532h6M2837 1637h6M2852 1439h6M2759 1643h6M2872 1618h6M2808 1552h6M2936 1667h6M2821 1556h6M2944 1593h6M2731 1603h6M2876 1592h6M2797 1653h6M2749 1598h6M2883 1524h6M2929 1598h6M2828 1576h6M2873 1576h6M2919 1489h6M2926 1575h6M2854 1625h6M2852 1566h6M2793 1614h6M2856 1638h6M2866 1588h6M2856 1593h6M2809 1419h6M2884 1653h6M2840 1590h6M2871 1582h6M2737 1565h6M2815 1455h6M2867 1603h6M2922 1532h6M2868 1631h6M2823 1463h6M2898 1548h6M2837 1483h6M2728 1609h6M2914 1547h6M2760 1588h6M2830 1612h6M2891 1649h6M2800 1418h6M2865 1643h6M2795 1607h6M2762 1594h6M2773 1544h6M2900 1361h6M2917 1609h6M2783 1637h6M2812 1605h6M2927 1626h6M2854 1589h6M2817 1535h6M2821 1546h6M2908 1592h6M2899 1554h6M2944 1452h6M2927 1400h6M2766 1604h6M2779 1434h6M2725 1632h6M2846 1606h6M2911 1663h6M2789 1417h6M2904 1546h6M2858 1548h6M2851 1643h6M2784 1650h6M2758 1641h6M2866 1488h6M2850 1536h6M2914 1641h6M2886 1579h6M2889 1635h6M2922 1527h6M2803 1549h6M2841 1521h6M2818 1632h6M2895 1584h6M2820 1621h6M2794 1583h6M2803 1618h6M2805 1566h6M2836 1609h6M2901 1564h6M2731 1654h6M2725 1531h6M2869 1440h6M2791 1596h6M2846 1542h6M2763 1646h6M2870 1643h6M2839 1621h6M2733 1609h6M2882 1517h6M2812 1510h6M2754 1475h6M2829 1637h6M2719 1441h6M2907 1499h6M2836 1626h6M2761 1558h6M2892 1639h6M2838 1654h6M2846 1658h6M2824 1556h6M2827 1585h6M2823 1553h6M2729 1664h6M2870 1546h6M2836 1542h6M2929 1623h6M2850 1589h6M2786 1560h6M2838 1590h6M2822 1642h6M2800 1482h6M2821 1639h6M2842 1602h6M2803 1544h6M2925 1572h6M2859 1577h6M2949 1507h6M2851 1592h6M2890 1538h6M2798 1588h6" stroke="#8fec55" stroke-width="6" stroke-opacity="0.9"/>
<path transform="scale(.1)" d="M2970 1632h6M2969 1668h6M2957 1579h6M2973 1593h6M2953 1568h6M2965 1669h6M2928 1660h6M2925 1660h6M2964 1556h6M2930 1600h6M2971 1645h6M2962 1610h6M2965 1625h6M2965 1656h6M2945 1573h6M2944 1583h6M2965 1642h6M2934 1586h6M2952 1498h6M2954 1612h6M2946 1568h6M2953 1622h6M2945 1665h6M2951 1632h6M2968 1668h6M2968 1580h6M2968 1616h6M2954 1631h6M2960 1627h6M2962 1630h6M2969 1639h6M2970 1642h6M2931 1629h6M2963 1642h6M2944 1577h6M2970 1634h6M2956 1623h6M2958 1611h6M2948 1644h6M2968 1580h6M2956 1646h6M2946 1635h6M2939 1551h6" stroke="#9fe86f" stroke-width="6" stroke-opacity="0.8"/>
<rect x="271.7" y="167" width="39.2" height="16.4" fill="#8aec40"/>
<ellipse cx="311.3" cy="175.35" rx="2.5" ry="8.35" fill="#8aec40" fill-opacity="0.8" filter="url(#b10)"/>
<path transform="scale(.1)" d="M3081 1774h6M3084 1756h6M3107 1822h6M3135 1807h6M3102 1825h6M3111 1760h6M3124 1769h6M3081 1791h6M3075 1781h6M3111 1758h6M3087 1811h6M3110 1802h6M3096 1713h6M3115 1812h6M3082 1721h6M3101 1738h6M3102 1815h6M3130 1755h6M3133 1812h6M3098 1712h6M3057 1718h6M3132 1708h6M3134 1767h6M3083 1727h6M3122 1703h6M3127 1772h6M3106 1776h6M3105 1766h6M3107 1820h6M3113 1763h6M3112 1772h6M3121 1756h6M3081 1701h6M3132 1821h6M3116 1757h6M3096 1786h6M3121 1703h6M3112 1762h6M3129 1810h6M3134 1703h6M3091 1722h6M3049 1678h6M3108 1716h6M3093 1804h6M3121 1801h6M3109 1730h6M3092 1768h6M3070 1704h6M3127 1802h6M3112 1688h6M3127 1712h6M3110 1698h6M3093 1687h6M3112 1790h6M3143 1750h6M3083 1771h6M3107 1737h6M3090 1766h6M3138 1812h6M3092 1720h6M3130 1735h6M3052 1716h6M3093 1751h6M3154 1745h6M3106 1763h6M3106 1775h6M3174 1714h6M3108 1749h6M3063 1788h6M3107 1763h6M3092 1816h6M3132 1746h6M3080 1696h6M3109 1746h6M3116 1748h6M3158 1757h6M3137 1726h6M3111 1738h6M3096 1775h6M3093 1747h6M3068 1758h6M3129 1734h6M3134 1784h6M3125 1729h6M3108 1740h6M3089 1764h6M3088 1700h6M3080 1817h6M3100 1703h6M3132 1730h6M3121 1743h6M3122 1764h6M3137 1670h6M3134 1740h6M3116 1827h6M3137 1809h6M3161 1816h6M3099 1680h6M3105 1733h6M3096 1831h6M3121 1741h6M3134 1730h6M3110 1744h6M3083 1695h6M3075 1753h6M3120 1752h6M3112 1806h6M3138 1824h6M3110 1754h6M3148 1777h6M3144 1726h6M3112 1717h6M3112 1778h6M3078 1803h6M3087 1770h6M3095 1757h6M3115 1708h6M3084 1713h6M3113 1800h6M3124 1726h6M3113 1771h6M3132 1776h6M3120 1753h6M3140 1688h6M3132 1822h6M3094 1679h6M3112 1773h6M3099 1701h6M3125 1783h6M3075 1689h6M3105 1717h6M3118 1782h6M3157 1773h6M3096 1813h6M3078 1829h6M3126 1760h6M3110 1686h6M3087 1722h6M3102 1822h6M3088 1717h6M3071 1762h6M3112 1814h6M3158 1783h6M3092 1765h6M3119 1749h6M3087 1772h6M3084 1747h6M3104 1717h6M3134 1678h6M3113 1766h6M3099 1748h6M3092 1719h6M3128 1703h6M3099 1713h6M3124 1731h6M3092 1771h6M3101 1771h6M3080 1759h6M3117 1785h6M3087 1797h6M3133 1712h6M3087 1719h6M3091 1796h6M3117 1791h6M3133 1731h6M3129 1822h6M3157 1762h6M3106 1700h6M3103 1753h6M3119 1676h6M3103 1741h6M3099 1718h6M3121 1698h6M3124 1692h6M3118 1690h6M3141 1795h6M3145 1705h6M3082 1678h6M3107 1813h6M3130 1791h6M3084 1815h6M3130 1722h6M3052 1708h6M3118 1749h6M3122 1788h6" stroke="#8aec40" stroke-width="6" stroke-opacity="0.9"/>
<path transform="scale(.1)" d="M2864 1650h6M2816 1654h6M2737 1667h6M2782 1638h6M2756 1666h6M2862 1657h6M2892 1669h6M2887 1657h6M2838 1657h6M2903 1662h6M2810 1647h6M2781 1667h6M2722 1654h6M2729 1663h6M2844 1665h6M2777 1646h6M2880 1656h6M2790 1654h6M2834 1639h6M2743 1659h6M2734 1665h6M2748 1651h6M2942 1663h6M2832 1668h6M2794 1659h6M2723 1648h6M2834 1640h6M2886 1656h6M2791 1662h6M2760 1668h6M2833 1647h6M2821 1649h6M2765 1634h6M2753 1660h6M2833 1651h6M2837 1660h6M2735 1634h6M2851 1637h6M2796 1648h6M2757 1650h6M2750 1655h6M2850 1648h6M2776 1663h6M2802 1640h6M2806 1661h6M2739 1666h6M2748 1669h6M2886 1638h6M2789 1645h6M2776 1664h6M2869 1663h6M2786 1636h6M2806 1660h6M2839 1649h6M2874 1654h6M2852 1652h6M2809 1655h6M2891 1645h6M2840 1660h6M2778 1642h6M2778 1665h6M2877 1666h6M2752 1655h6M2882 1662h6M2875 1637h6M2765 1649h6M2809 1649h6M2818 1643h6M2790 1647h6M2773 1664h6M2821 1666h6M2813 1651h6M2871 1654h6M2788 1653h6M2745 1649h6M2805 1659h6M2819 1656h6M2721 1639h6M2877 1656h6M2773 1658h6M2799 1660h6M2883 1659h6M2847 1662h6M2758 1663h6M2775 1653h6M2781 1633h6M2821 1635h6M2764 1664h6M2737 1651h6M2833 1654h6M2738 1644h6M2798 1652h6M2791 1640h6M2817 1646h6M2763 1665h6M2741 1639h6M2855 1634h6M2750 1658h6M2846 1659h6M2806 1652h6M2858 1665h6M2767 1633h6M2746 1664h6M2781 1642h6M2753 1655h6M2833 1646h6M2788 1657h6M2764 1654h6M2798 1656h6M2751 1666h6M2883 1670h6M2923 1652h6M2863 1662h6M2813 1664h6M2797 1666h6M2787 1665h6M2837 1665h6M2793 1650h6M2736 1643h6M2820 1638h6M2923 1650h6M2821 1651h6M2930 1667h6M2821 1666h6M2754 1660h6M2878 1665h6M2734 1644h6M2842 1657h6M2781 1644h6M2812 1664h6M2846 1647h6M2795 1639h6M2811 1661h6" stroke="#8aec40" stroke-width="6" stroke-opacity="0.9"/>
<g clip-path="url(#c9)">
<path transform="scale(.1)" d="M3040 1654h6M3080 1633h6M3073 1549h6M3030 1658h6M3058 1616h6M3041 1651h6M3092 1510h6M3159 1664h6M3101 1617h6M3057 1652h6M3191 1590h6M3004 1594h6M3063 1659h6M2997 1566h6M3043 1660h6M3115 1609h6M3113 1602h6M3064 1444h6M3013 1521h6M3081 1599h6M3004 1597h6M3052 1619h6M3030 1546h6M3119 1576h6M3109 1535h6M3046 1572h6M3008 1640h6M2989 1608h6M3059 1667h6M3159 1548h6M3057 1508h6M3034 1596h6M3059 1644h6M3082 1656h6M3022 1602h6M3004 1581h6M3059 1561h6M3036 1480h6M3023 1552h6M3067 1621h6M3034 1582h6M3074 1533h6M3075 1560h6M3120 1504h6M3072 1544h6M3034 1609h6M3083 1573h6M3013 1578h6M2978 1630h6M3061 1592h6M3004 1559h6M3039 1556h6M3043 1598h6M3033 1619h6M3092 1556h6M3092 1594h6M3027 1621h6M3111 1570h6M3105 1518h6M3048 1620h6M3091 1642h6M3129 1522h6M3090 1543h6M3063 1542h6M3066 1648h6M3104 1616h6M2992 1569h6M3062 1624h6M3052 1587h6M2996 1549h6M3104 1521h6M3020 1552h6M3024 1553h6M3087 1629h6M3058 1617h6M3035 1458h6M3059 1589h6M2987 1441h6M3110 1520h6M3042 1541h6M3137 1490h6M3099 1554h6M3049 1481h6M3070 1584h6M3076 1495h6M3014 1523h6M3058 1552h6M3025 1658h6M3094 1539h6M3086 1663h6M3072 1615h6M3020 1539h6M3214 1661h6M2985 1606h6M3075 1470h6M3038 1624h6M3035 1566h6M3029 1602h6M3096 1519h6M3044 1548h6M3014 1553h6M3127 1478h6M3074 1541h6M3083 1570h6M3033 1604h6M3077 1576h6M3052 1520h6M3051 1634h6M3058 1576h6M2980 1661h6M2994 1632h6M3035 1640h6M3106 1567h6M3004 1527h6M3087 1579h6M3121 1575h6M3097 1612h6M3142 1565h6M3092 1622h6M3040 1563h6M3104 1546h6M3026 1644h6M3024 1501h6M3109 1487h6M3033 1574h6M3140 1590h6M2993 1587h6M3121 1470h6M2987 1656h6M3060 1522h6M3043 1593h6M2996 1551h6M3127 1609h6M3110 1586h6M3026 1609h6M3008 1612h6M3038 1569h6M3040 1526h6M3123 1490h6M3065 1506h6M3099 1574h6M3063 1619h6M3072 1601h6M3072 1611h6M3031 1569h6M3042 1542h6M3027 1629h6M3054 1577h6M3048 1586h6M3113 1662h6M3056 1465h6M3078 1472h6M3023 1652h6M3025 1544h6M3075 1557h6M3072 1484h6M3007 1601h6M3098 1587h6M2992 1557h6M3110 1550h6M3066 1617h6M3026 1590h6M3055 1630h6M3119 1557h6M3077 1580h6M3014 1538h6M3051 1589h6M3052 1631h6M3063 1665h6M3051 1524h6M3132 1631h6M3041 1572h6M3041 1598h6M3023 1619h6M3070 1520h6M3121 1637h6M3008 1519h6M3019 1610h6M3116 1529h6M3014 1621h6M3051 1584h6M3047 1567h6M3140 1651h6M3147 1618h6M3068 1556h6M3059 1602h6M3118 1526h6M2972 1555h6M3071 1458h6M3043 1535h6M2997 1596h6M3111 1499h6M3064 1576h6M3085 1587h6M3021 1644h6M3074 1521h6M3063 1637h6M3024 1562h6M3058 1549h6M3047 1523h6M3007 1604h6M2975 1587h6M3111 1549h6M3027 1532h6M2987 1548h6M2989 1571h6M3024 1512h6M3053 1650h6M3090 1567h6M3050 1517h6M3039 1627h6M3051 1663h6M3049 1516h6M3066 1551h6M3048 1617h6M3089 1626h6M3098 1484h6M3108 1530h6M3055 1557h6M2993 1641h6M3000 1548h6M3030 1634h6M3050 1553h6M3085 1538h6M3023 1599h6M2996 1491h6M2968 1644h6M3146 1660h6M3019 1550h6M3001 1584h6M3102 1579h6M3066 1507h6M3038 1607h6M3056 1632h6M3075 1538h6M3038 1586h6M3104 1564h6M3051 1499h6M3125 1615h6M3028 1499h6M3051 1643h6M3033 1559h6M3003 1616h6M3014 1624h6M3069 1614h6M3004 1662h6M3043 1508h6M3051 1599h6M3056 1649h6M3048 1666h6M3041 1623h6M3085 1548h6M3081 1578h6M3071 1603h6M3039 1652h6M3029 1508h6M3045 1456h6M3076 1519h6M3043 1531h6M3198 1624h6M3076 1521h6M3023 1584h6M3140 1554h6M3016 1651h6M3022 1520h6M3047 1642h6M3061 1564h6M2973 1513h6M3007 1574h6M3062 1583h6M3057 1618h6M2989 1446h6M3063 1561h6M3082 1567h6M2988 1564h6M3092 1610h6M3088 1556h6M3038 1557h6M3116 1595h6M2996 1562h6M3120 1613h6M3148 1631h6M3067 1658h6M3024 1659h6M3050 1573h6M3074 1559h6M2998 1531h6M3081 1609h6M3059 1637h6M3010 1563h6M3136 1528h6M3119 1572h6M3081 1605h6M3042 1597h6M3103 1545h6M3008 1646h6M3035 1579h6M3046 1563h6M3032 1503h6M3027 1605h6M3141 1555h6M3122 1561h6M3078 1574h6M3092 1599h6M3036 1490h6M3104 1493h6M3067 1596h6M3062 1606h6M3038 1612h6M3047 1569h6M3079 1631h6M3073 1652h6M3061 1520h6M3113 1598h6M3094 1568h6M3098 1519h6M3064 1505h6M3156 1575h6M3001 1616h6M3122 1580h6M3076 1578h6M3019 1595h6M3085 1595h6M3099 1465h6M3113 1517h6M3047 1571h6M3080 1581h6M3036 1637h6M3159 1554h6M3024 1555h6M2997 1515h6M3034 1638h6M3032 1540h6M3051 1541h6M3058 1484h6M3029 1534h6M3013 1453h6M3031 1554h6M3023 1509h6M3074 1537h6M3000 1580h6M3083 1649h6M3033 1609h6M3034 1475h6M3100 1586h6M3076 1577h6M3012 1559h6M3072 1509h6M3034 1629h6M3065 1579h6M3100 1597h6M3128 1611h6M2985 1580h6M3056 1554h6M3052 1589h6M2976 1627h6M3050 1661h6M3139 1550h6M3021 1665h6M3109 1611h6M3092 1572h6M3055 1591h6M3094 1533h6M3030 1611h6M3091 1592h6M3034 1618h6M3062 1528h6M3040 1568h6M3089 1508h6M3017 1567h6M3048 1658h6M3141 1628h6M3009 1569h6" stroke="#3030f0" stroke-width="6" stroke-opacity="0.6"/>
<ellipse cx="307.2" cy="163.5" rx="4.6" ry="7" fill="#1a10e8" fill-opacity="0.88" filter="url(#b11)"/>
</g>
</g>
<rect x="271.3" y="132" width="53" height="51.7" fill="none" stroke="#888" stroke-width="0.6"/>
<line x1="296.3" y1="132" x2="296.3" y2="183.7" stroke="#444" stroke-width="0.6"/>
<line x1="271.3" y1="167" x2="324.3" y2="167" stroke="#444" stroke-width="0.6"/>
<text x="289" y="161.5" font-size="3" text-anchor="middle" fill="#555" stroke="none">Q1</text>
<text x="302.3" y="161.5" font-size="3" text-anchor="middle" fill="#555" stroke="none">Q2</text>
<text x="289.6" y="174.8" font-size="3" text-anchor="middle" fill="#555" stroke="none">Q4</text>
<text x="302.5" y="174.8" font-size="3" text-anchor="middle" fill="#555" stroke="none">Q3</text>
<text x="272.9" y="137.4" font-size="5.6" font-weight="bold" textLength="24.5" lengthAdjust="spacingAndGlyphs">Lin<tspan dy="-1.6" font-size="3.2">-</tspan><tspan dy="1.6"> gated</tspan></text>
<text x="321.7" y="138.1" font-size="5.4" text-anchor="end" textLength="10.4" lengthAdjust="spacingAndGlyphs">0.05</text>
<text x="262.6" y="138.4" font-size="4.3" fill="#222">10<tspan font-size="2.67" dy="-1.94">5</tspan></text>
<text x="262.6" y="150.9" font-size="4.3" fill="#222">10<tspan font-size="2.67" dy="-1.94">4</tspan></text>
<text x="262.6" y="163.4" font-size="4.3" fill="#222">10<tspan font-size="2.67" dy="-1.94">3</tspan></text>
<text x="262.6" y="175.9" font-size="4.3" fill="#222">10<tspan font-size="2.67" dy="-1.94">2</tspan></text>
<text x="277" y="189.3" font-size="4.3" fill="#222">10<tspan font-size="2.67" dy="-1.94">2</tspan></text>
<text x="290" y="189.3" font-size="4.3" fill="#222">10<tspan font-size="2.67" dy="-1.94">3</tspan></text>
<text x="302.5" y="189.3" font-size="4.3" fill="#222">10<tspan font-size="2.67" dy="-1.94">4</tspan></text>
<text x="316" y="189.3" font-size="4.3" fill="#222">10<tspan font-size="2.67" dy="-1.94">5</tspan></text>
<text x="349.8" y="127.6" font-size="6.4" fill="#222" textLength="34.3" lengthAdjust="spacingAndGlyphs">Dmp1-Rheb</text>
<g clip-path="url(#c10)">
<ellipse cx="354.3" cy="159.8" rx="10.5" ry="9" fill="#a8f27a" fill-opacity="0.9" filter="url(#b22)"/>
<path transform="scale(.1)" d="M3587 1546h6M3547 1640h6M3501 1638h6M3575 1570h6M3508 1517h6M3478 1615h6M3466 1578h6M3479 1515h6M3476 1657h6M3540 1656h6M3521 1631h6M3492 1604h6M3632 1630h6M3543 1642h6M3636 1557h6M3437 1521h6M3492 1621h6M3595 1552h6M3612 1549h6M3591 1598h6M3504 1602h6M3479 1470h6M3440 1549h6M3558 1646h6M3597 1546h6M3536 1491h6M3585 1573h6M3489 1438h6M3560 1524h6M3535 1488h6M3469 1591h6M3475 1516h6M3581 1508h6M3475 1605h6M3545 1522h6M3631 1666h6M3552 1588h6M3456 1655h6M3669 1649h6M3574 1600h6M3551 1586h6M3571 1598h6M3431 1560h6M3566 1630h6M3629 1608h6M3613 1552h6M3555 1545h6M3481 1453h6M3498 1517h6M3545 1551h6M3537 1535h6M3465 1463h6M3535 1577h6M3559 1580h6M3605 1586h6M3493 1659h6M3480 1659h6M3454 1565h6M3550 1552h6M3606 1604h6M3552 1444h6M3576 1619h6M3560 1551h6M3460 1491h6M3538 1614h6M3535 1625h6M3602 1535h6M3547 1579h6M3509 1366h6M3597 1424h6M3624 1516h6M3468 1592h6M3448 1595h6M3482 1618h6M3668 1643h6M3486 1614h6M3464 1667h6M3458 1640h6M3431 1538h6M3554 1662h6M3469 1482h6M3576 1526h6M3582 1481h6M3495 1575h6M3637 1639h6M3635 1626h6M3546 1587h6M3624 1511h6M3601 1563h6M3569 1638h6M3516 1612h6M3635 1610h6M3540 1639h6M3603 1634h6M3507 1594h6M3559 1602h6M3542 1593h6M3492 1561h6M3507 1625h6M3574 1636h6M3534 1548h6M3483 1646h6M3651 1489h6M3656 1547h6M3508 1668h6M3544 1494h6M3526 1649h6M3608 1436h6M3501 1542h6M3530 1510h6M3451 1635h6M3669 1511h6M3435 1548h6M3444 1454h6M3570 1642h6M3590 1610h6M3596 1631h6M3647 1605h6M3624 1471h6M3592 1593h6M3605 1649h6M3471 1666h6M3657 1609h6M3584 1633h6M3494 1629h6M3510 1666h6M3467 1535h6M3603 1663h6M3582 1666h6M3615 1658h6M3607 1552h6M3578 1555h6M3455 1599h6M3588 1620h6M3572 1628h6M3448 1623h6M3487 1608h6M3492 1631h6M3543 1634h6M3576 1617h6M3662 1647h6M3453 1655h6M3501 1523h6M3542 1587h6M3490 1650h6M3587 1581h6M3573 1560h6M3429 1657h6M3459 1566h6M3599 1550h6M3549 1670h6M3664 1609h6M3592 1661h6M3545 1587h6M3447 1584h6M3565 1642h6M3615 1508h6M3653 1555h6M3517 1470h6M3585 1655h6M3579 1494h6M3598 1562h6M3605 1508h6M3471 1445h6M3557 1566h6M3638 1633h6M3595 1645h6M3533 1627h6M3460 1452h6M3562 1628h6M3571 1528h6M3550 1523h6M3546 1608h6M3527 1642h6M3504 1613h6M3589 1641h6M3653 1402h6M3493 1464h6M3638 1639h6M3587 1651h6M3560 1651h6M3510 1438h6M3563 1610h6M3499 1562h6M3633 1550h6M3464 1672h6M3644 1502h6M3468 1523h6M3567 1663h6M3640 1610h6M3521 1562h6M3620 1562h6M3480 1594h6M3537 1649h6M3549 1527h6M3519 1507h6M3519 1637h6M3551 1497h6M3626 1598h6M3467 1650h6M3490 1630h6M3533 1623h6M3436 1592h6M3602 1606h6M3600 1671h6M3556 1582h6M3544 1533h6M3586 1642h6M3599 1663h6M3637 1589h6M3448 1495h6M3610 1654h6M3577 1468h6M3498 1478h6M3457 1564h6M3448 1560h6M3485 1620h6M3591 1544h6M3567 1519h6M3608 1525h6M3492 1574h6M3564 1525h6M3458 1552h6M3549 1552h6M3576 1662h6M3566 1552h6M3575 1599h6M3601 1635h6M3594 1642h6M3464 1672h6M3507 1582h6M3558 1568h6M3465 1533h6M3458 1616h6M3561 1606h6M3606 1515h6M3514 1489h6M3536 1609h6M3559 1540h6M3458 1633h6M3538 1558h6M3546 1485h6M3434 1528h6M3561 1542h6M3471 1520h6M3484 1449h6M3569 1551h6M3617 1631h6M3585 1598h6M3503 1614h6M3605 1673h6M3496 1600h6M3550 1578h6M3532 1530h6M3481 1638h6M3555 1587h6M3588 1638h6M3505 1672h6M3616 1615h6M3476 1596h6M3579 1614h6M3481 1573h6M3523 1591h6M3555 1582h6M3588 1670h6M3464 1562h6M3462 1643h6M3600 1596h6M3626 1566h6M3517 1609h6M3461 1663h6M3446 1516h6M3615 1604h6M3614 1616h6M3463 1603h6M3521 1526h6M3499 1556h6M3465 1663h6M3596 1650h6M3473 1367h6M3550 1544h6M3602 1489h6M3578 1578h6M3446 1576h6M3592 1575h6M3508 1628h6M3515 1474h6M3549 1656h6M3575 1574h6M3532 1594h6M3545 1633h6M3509 1565h6M3538 1463h6M3567 1646h6M3537 1422h6M3588 1603h6M3545 1472h6M3611 1544h6M3431 1445h6M3619 1643h6M3499 1584h6M3616 1492h6M3578 1578h6M3629 1566h6M3559 1562h6M3585 1572h6M3582 1621h6M3591 1532h6M3560 1597h6M3474 1568h6M3554 1510h6M3535 1591h6M3624 1576h6M3523 1635h6M3495 1464h6M3540 1575h6M3545 1549h6M3594 1461h6M3580 1570h6M3588 1540h6M3536 1667h6M3529 1648h6M3640 1556h6M3438 1572h6M3599 1630h6M3534 1628h6M3434 1609h6M3530 1559h6M3593 1557h6M3493 1672h6M3582 1619h6M3554 1646h6M3561 1529h6M3565 1590h6M3620 1666h6M3485 1605h6M3490 1638h6M3507 1646h6M3620 1667h6M3452 1591h6M3502 1579h6M3484 1608h6M3584 1528h6M3595 1666h6M3452 1640h6M3526 1533h6M3471 1595h6M3557 1655h6M3580 1619h6M3540 1665h6M3493 1499h6M3597 1435h6M3450 1422h6M3478 1639h6M3583 1528h6M3592 1490h6M3506 1632h6M3644 1489h6M3451 1516h6M3506 1564h6M3546 1585h6M3455 1632h6M3438 1553h6M3560 1536h6M3536 1669h6M3600 1655h6M3449 1539h6M3476 1566h6M3528 1530h6M3506 1446h6M3517 1600h6M3555 1604h6M3478 1630h6M3484 1559h6M3588 1539h6M3576 1625h6M3528 1530h6M3534 1438h6M3471 1601h6M3494 1535h6M3527 1562h6M3471 1590h6M3538 1638h6M3619 1487h6M3545 1568h6M3554 1567h6M3476 1613h6M3557 1621h6M3527 1636h6M3483 1621h6M3662 1667h6M3550 1616h6M3577 1572h6M3441 1551h6M3481 1473h6M3553 1476h6M3532 1547h6M3570 1650h6M3456 1653h6M3458 1550h6M3619 1521h6M3572 1477h6M3533 1596h6M3544 1621h6M3612 1630h6M3449 1617h6M3571 1631h6M3577 1604h6M3573 1560h6M3542 1670h6M3446 1633h6M3583 1544h6M3557 1547h6M3433 1471h6M3611 1602h6M3536 1601h6M3460 1670h6M3588 1524h6M3483 1551h6M3614 1638h6M3498 1630h6M3538 1548h6M3609 1624h6M3647 1432h6M3606 1639h6M3459 1618h6M3465 1491h6M3570 1643h6M3545 1487h6M3618 1557h6M3478 1648h6M3551 1653h6M3617 1506h6M3504 1655h6M3612 1561h6M3544 1645h6M3475 1662h6M3488 1655h6M3479 1595h6M3607 1539h6M3548 1673h6M3535 1596h6M3544 1545h6M3662 1643h6M3618 1578h6M3576 1543h6M3560 1593h6M3609 1450h6M3532 1594h6M3589 1560h6M3500 1587h6M3621 1444h6M3571 1648h6M3561 1471h6M3446 1550h6M3541 1670h6M3498 1570h6M3459 1590h6M3587 1613h6M3504 1673h6M3608 1586h6M3595 1584h6M3505 1579h6M3595 1538h6M3479 1598h6M3530 1565h6M3456 1592h6M3433 1472h6M3432 1631h6M3567 1565h6M3606 1593h6M3458 1662h6M3647 1643h6M3580 1516h6M3488 1569h6M3561 1465h6M3507 1628h6M3532 1593h6M3572 1658h6M3459 1506h6M3446 1603h6M3629 1481h6M3541 1599h6M3477 1561h6M3465 1653h6M3524 1547h6M3643 1565h6M3595 1464h6M3468 1550h6M3598 1550h6M3593 1634h6M3551 1614h6M3477 1473h6M3636 1517h6M3547 1583h6M3528 1586h6M3463 1513h6M3553 1554h6M3658 1620h6M3635 1573h6M3593 1563h6M3473 1593h6M3446 1558h6M3587 1599h6M3528 1552h6M3443 1607h6M3575 1630h6M3618 1577h6M3557 1542h6M3505 1666h6M3494 1482h6M3474 1586h6M3489 1588h6M3575 1610h6M3569 1598h6M3489 1528h6M3613 1527h6M3470 1539h6M3560 1619h6M3520 1606h6M3523 1651h6M3486 1566h6M3472 1615h6M3545 1628h6M3491 1632h6M3521 1437h6M3556 1541h6M3539 1622h6M3611 1458h6M3593 1566h6M3521 1671h6M3561 1628h6M3451 1551h6M3544 1605h6M3541 1672h6M3543 1644h6M3501 1486h6M3582 1544h6M3614 1620h6M3549 1556h6M3503 1559h6M3563 1554h6M3535 1566h6M3448 1617h6M3546 1618h6M3537 1531h6M3670 1614h6M3588 1623h6M3528 1540h6M3467 1615h6M3461 1672h6M3500 1574h6M3492 1643h6M3525 1549h6M3467 1665h6M3495 1544h6M3495 1556h6M3591 1636h6M3611 1587h6M3468 1613h6M3497 1654h6M3556 1570h6M3508 1515h6M3668 1596h6M3584 1546h6M3504 1605h6M3638 1593h6M3487 1656h6M3494 1524h6M3541 1537h6M3506 1640h6M3575 1394h6M3531 1589h6M3513 1662h6M3561 1614h6M3611 1434h6M3462 1631h6M3503 1443h6M3485 1476h6M3483 1594h6M3574 1559h6M3502 1589h6M3558 1594h6M3591 1617h6M3547 1561h6M3562 1560h6M3529 1516h6M3627 1635h6M3510 1487h6M3533 1622h6M3575 1613h6M3490 1462h6M3504 1592h6M3454 1634h6M3590 1570h6M3507 1608h6M3655 1652h6M3622 1580h6M3541 1655h6M3534 1605h6M3633 1597h6M3626 1560h6M3514 1671h6M3538 1608h6M3504 1479h6M3531 1627h6M3621 1534h6M3560 1564h6M3613 1489h6M3512 1568h6M3513 1564h6M3664 1592h6M3526 1491h6M3446 1548h6M3453 1653h6M3496 1573h6M3526 1535h6M3450 1555h6M3550 1602h6M3561 1666h6M3640 1535h6M3601 1632h6M3556 1485h6M3481 1611h6M3511 1631h6" stroke="#8fec55" stroke-width="6" stroke-opacity="0.9"/>
<path transform="scale(.1)" d="M3682 1647h6M3677 1589h6M3661 1636h6M3671 1666h6M3669 1635h6M3683 1543h6M3656 1635h6M3679 1643h6M3675 1573h6M3678 1650h6M3667 1582h6M3653 1617h6M3665 1644h6M3675 1647h6M3675 1646h6M3683 1626h6M3661 1508h6M3680 1603h6M3646 1631h6M3656 1603h6M3678 1617h6M3677 1595h6M3668 1635h6M3673 1642h6M3653 1649h6M3673 1611h6M3660 1651h6M3657 1529h6M3660 1585h6M3681 1655h6M3679 1581h6M3647 1639h6M3651 1661h6M3682 1659h6M3678 1660h6M3669 1605h6M3677 1611h6M3677 1607h6M3672 1609h6M3675 1655h6M3676 1601h6M3663 1623h6M3662 1623h6M3680 1665h6M3642 1635h6" stroke="#9fe86f" stroke-width="6" stroke-opacity="0.8"/>
<rect x="342.7" y="167.3" width="39.2" height="16" fill="#8aec40"/>
<ellipse cx="382.3" cy="175.45" rx="2.5" ry="8.15" fill="#8aec40" fill-opacity="0.8" filter="url(#b10)"/>
<path transform="scale(.1)" d="M3827 1785h6M3824 1782h6M3867 1728h6M3752 1742h6M3857 1775h6M3844 1745h6M3828 1686h6M3837 1765h6M3800 1736h6M3787 1786h6M3816 1726h6M3837 1699h6M3825 1783h6M3851 1752h6M3827 1770h6M3858 1775h6M3824 1692h6M3835 1758h6M3834 1794h6M3717 1766h6M3843 1703h6M3771 1762h6M3877 1778h6M3880 1777h6M3818 1710h6M3859 1677h6M3809 1732h6M3831 1759h6M3787 1687h6M3866 1762h6M3824 1736h6M3831 1712h6M3851 1807h6M3824 1811h6M3820 1732h6M3848 1751h6M3819 1784h6M3861 1681h6M3816 1814h6M3817 1730h6M3820 1739h6M3816 1781h6M3821 1830h6M3805 1730h6M3834 1700h6M3860 1747h6M3837 1818h6M3839 1714h6M3802 1713h6M3805 1784h6M3801 1750h6M3823 1822h6M3845 1731h6M3847 1761h6M3791 1683h6M3827 1764h6M3831 1749h6M3840 1782h6M3812 1797h6M3811 1751h6M3820 1721h6M3808 1760h6M3821 1683h6M3864 1826h6M3821 1700h6M3826 1771h6M3810 1724h6M3822 1789h6M3801 1719h6M3811 1743h6M3829 1787h6M3778 1771h6M3824 1674h6M3788 1761h6M3851 1778h6M3821 1735h6M3811 1730h6M3838 1817h6M3836 1713h6M3837 1814h6M3778 1772h6M3809 1760h6M3791 1691h6M3820 1721h6M3810 1702h6M3833 1816h6M3799 1768h6M3812 1768h6M3849 1768h6M3819 1692h6M3776 1787h6M3818 1678h6M3864 1783h6M3873 1707h6M3814 1819h6M3835 1809h6M3825 1797h6M3819 1679h6M3834 1749h6M3803 1688h6M3802 1773h6M3837 1766h6M3785 1816h6M3848 1747h6M3818 1715h6M3829 1761h6M3803 1777h6M3828 1690h6M3841 1764h6M3818 1773h6M3802 1706h6M3819 1697h6M3859 1767h6M3812 1741h6M3828 1758h6M3822 1772h6M3787 1678h6M3830 1761h6M3871 1751h6M3827 1774h6M3838 1746h6M3860 1756h6M3809 1718h6M3795 1683h6M3816 1712h6M3830 1725h6M3801 1732h6M3762 1776h6M3812 1746h6M3830 1826h6M3815 1789h6M3800 1718h6M3816 1702h6M3841 1803h6M3852 1701h6M3809 1751h6M3839 1680h6M3816 1814h6M3825 1747h6M3795 1734h6M3839 1813h6M3782 1776h6M3813 1698h6M3867 1791h6M3796 1693h6M3817 1781h6M3790 1762h6M3832 1714h6M3831 1790h6M3832 1713h6M3842 1732h6M3827 1755h6M3847 1779h6M3825 1787h6M3812 1743h6M3804 1717h6M3814 1720h6M3803 1765h6M3841 1777h6M3846 1781h6M3810 1704h6M3807 1731h6M3839 1781h6M3827 1712h6M3812 1740h6M3828 1780h6M3840 1792h6M3783 1797h6M3825 1763h6M3814 1673h6M3853 1686h6" stroke="#8aec40" stroke-width="6" stroke-opacity="0.9"/>
<path transform="scale(.1)" d="M3543 1667h6M3665 1663h6M3587 1656h6M3433 1667h6M3575 1654h6M3561 1671h6M3501 1665h6M3508 1654h6M3509 1669h6M3538 1652h6M3533 1650h6M3523 1659h6M3482 1662h6M3522 1637h6M3520 1639h6M3550 1662h6M3597 1656h6M3445 1666h6M3557 1643h6M3547 1668h6M3507 1646h6M3519 1651h6M3434 1646h6M3553 1638h6M3568 1660h6M3491 1668h6M3510 1663h6M3508 1648h6M3520 1643h6M3568 1657h6M3433 1672h6M3542 1664h6M3517 1667h6M3536 1650h6M3567 1654h6M3504 1651h6M3431 1651h6M3447 1657h6M3593 1667h6M3469 1669h6M3549 1658h6M3500 1664h6M3443 1646h6M3494 1650h6M3490 1671h6M3606 1657h6M3587 1651h6M3436 1666h6M3493 1641h6M3446 1660h6M3498 1645h6M3522 1643h6M3466 1652h6M3490 1652h6M3629 1670h6M3549 1666h6M3540 1638h6M3518 1661h6M3541 1665h6M3542 1669h6M3501 1651h6M3558 1662h6M3503 1663h6M3456 1669h6M3429 1644h6M3500 1646h6M3568 1647h6M3509 1672h6M3533 1654h6M3526 1658h6M3499 1654h6M3485 1662h6M3600 1662h6M3556 1642h6M3498 1643h6M3451 1650h6M3554 1648h6M3432 1654h6M3463 1666h6M3501 1655h6M3473 1654h6M3485 1672h6M3503 1653h6M3458 1655h6M3446 1655h6M3509 1669h6M3440 1660h6M3609 1666h6M3530 1659h6M3534 1660h6M3640 1673h6M3505 1671h6M3606 1657h6M3550 1666h6M3540 1669h6M3499 1645h6M3521 1666h6M3447 1646h6M3536 1662h6M3557 1652h6M3474 1664h6M3581 1664h6M3536 1642h6M3516 1665h6M3578 1667h6M3461 1662h6M3512 1652h6M3532 1659h6M3487 1654h6M3503 1640h6M3562 1671h6M3525 1660h6M3588 1659h6M3475 1664h6M3547 1672h6M3565 1656h6M3473 1667h6M3459 1658h6M3510 1634h6M3476 1648h6M3542 1660h6M3527 1653h6M3457 1659h6M3458 1661h6M3444 1669h6M3551 1670h6M3464 1656h6M3443 1659h6M3572 1653h6M3508 1667h6M3464 1641h6M3524 1666h6M3471 1662h6M3504 1658h6M3614 1657h6" stroke="#8aec40" stroke-width="6" stroke-opacity="0.9"/>
<g clip-path="url(#c11)">
<path transform="scale(.1)" d="M3741 1455h6M3696 1508h6M3761 1558h6M3757 1608h6M3741 1666h6M3738 1559h6M3742 1601h6M3782 1656h6M3769 1654h6M3851 1648h6M3747 1587h6M3780 1579h6M3710 1536h6M3738 1469h6M3912 1652h6M3738 1548h6M3828 1505h6M3715 1664h6M3762 1647h6M3772 1597h6M3734 1628h6M3778 1612h6M3770 1636h6M3708 1489h6M3803 1554h6M3724 1620h6M3833 1579h6M3752 1626h6M3794 1601h6M3732 1611h6M3764 1610h6M3892 1580h6M3818 1597h6M3749 1647h6M3784 1585h6M3718 1625h6M3798 1559h6M3737 1475h6M3801 1607h6M3788 1597h6M3721 1604h6M3847 1620h6M3847 1521h6M3728 1529h6M3735 1547h6M3794 1543h6M3703 1548h6M3789 1653h6M3782 1520h6M3712 1546h6M3727 1556h6M3798 1610h6M3762 1559h6M3734 1510h6M3754 1539h6M3760 1620h6M3788 1566h6M3861 1520h6M3801 1597h6M3779 1551h6M3726 1637h6M3678 1604h6M3691 1475h6M3768 1558h6M3862 1480h6M3772 1602h6M3773 1564h6M3683 1643h6M3802 1620h6M3814 1640h6M3733 1661h6M3721 1620h6M3715 1584h6M3805 1575h6M3813 1564h6M3849 1585h6M3896 1642h6M3763 1522h6M3702 1493h6M3746 1539h6M3754 1581h6M3758 1541h6M3705 1482h6M3761 1493h6M3801 1579h6M3770 1612h6M3764 1520h6M3759 1575h6M3785 1581h6M3716 1567h6M3743 1541h6M3729 1510h6M3826 1623h6M3710 1580h6M3771 1611h6M3790 1608h6M3763 1537h6M3768 1607h6M3696 1598h6M3700 1483h6M3760 1627h6M3811 1556h6M3689 1534h6M3750 1585h6M3787 1581h6M3816 1551h6M3787 1635h6M3783 1628h6M3708 1651h6M3737 1581h6M3712 1617h6M3741 1548h6M3798 1543h6M3782 1605h6M3790 1596h6M3702 1603h6M3858 1651h6M3737 1522h6M3795 1629h6M3792 1632h6M3783 1587h6M3735 1641h6M3765 1664h6M3742 1576h6M3725 1637h6M3724 1549h6M3764 1571h6M3828 1615h6M3818 1655h6M3741 1624h6M3760 1646h6M3736 1638h6M3740 1644h6M3679 1607h6M3694 1597h6M3706 1593h6M3875 1653h6M3818 1627h6M3762 1582h6M3707 1545h6M3806 1570h6M3786 1538h6M3793 1669h6M3759 1568h6M3839 1646h6M3809 1664h6M3774 1568h6M3786 1483h6M3750 1530h6M3797 1587h6M3798 1556h6M3795 1605h6M3780 1660h6M3729 1587h6M3803 1525h6M3777 1572h6M3751 1497h6M3808 1503h6M3749 1601h6M3738 1630h6M3747 1507h6M3746 1626h6M3721 1646h6M3819 1637h6M3795 1591h6M3794 1549h6M3839 1664h6M3713 1582h6M3730 1519h6M3749 1647h6M3768 1580h6M3707 1597h6M3806 1607h6M3807 1444h6M3721 1551h6M3698 1492h6M3809 1512h6M3820 1653h6M3748 1505h6M3735 1548h6M3732 1544h6M3767 1576h6M3762 1593h6M3766 1589h6M3757 1657h6M3799 1602h6M3758 1632h6M3817 1567h6M3786 1477h6M3732 1626h6M3686 1497h6M3777 1467h6M3843 1546h6M3755 1619h6M3804 1617h6M3713 1663h6M3736 1659h6M3832 1501h6M3866 1583h6M3819 1657h6M3847 1650h6M3726 1584h6M3800 1658h6M3773 1549h6M3703 1602h6M3916 1588h6M3741 1635h6M3802 1604h6M3734 1637h6M3734 1581h6M3710 1560h6M3876 1650h6M3787 1541h6M3705 1663h6M3765 1635h6M3781 1604h6M3854 1601h6M3758 1611h6M3753 1478h6M3748 1596h6M3819 1533h6M3751 1598h6M3798 1640h6M3810 1604h6M3714 1632h6M3751 1652h6M3709 1533h6M3775 1580h6M3717 1582h6M3794 1616h6M3796 1617h6M3714 1630h6M3778 1565h6M3781 1582h6M3731 1663h6M3778 1569h6M3787 1535h6M3790 1586h6M3758 1656h6M3812 1575h6M3825 1595h6M3764 1646h6M3729 1495h6M3759 1654h6M3751 1654h6M3827 1574h6M3767 1588h6M3799 1629h6M3786 1616h6M3730 1602h6M3834 1643h6M3773 1591h6M3720 1550h6M3818 1599h6M3746 1567h6M3838 1639h6M3688 1597h6M3728 1565h6M3756 1492h6M3757 1567h6M3815 1510h6M3768 1620h6M3757 1621h6M3803 1588h6M3773 1615h6M3858 1652h6M3780 1575h6M3842 1554h6M3844 1554h6M3736 1590h6M3800 1585h6M3818 1619h6M3847 1510h6M3774 1643h6M3845 1465h6M3757 1472h6M3790 1564h6M3785 1665h6M3812 1587h6M3745 1637h6M3745 1655h6M3730 1640h6M3696 1613h6M3894 1528h6M3741 1661h6M3715 1451h6M3688 1614h6M3824 1607h6M3844 1581h6M3833 1647h6M3764 1600h6M3824 1521h6M3867 1619h6M3821 1495h6M3704 1565h6M3752 1611h6M3746 1596h6M3760 1640h6M3823 1658h6M3839 1588h6M3746 1479h6M3685 1652h6M3793 1603h6M3753 1520h6M3834 1555h6M3843 1579h6M3817 1658h6M3771 1620h6M3724 1616h6M3735 1585h6M3773 1661h6M3756 1581h6M3747 1630h6M3692 1602h6M3708 1562h6M3777 1639h6M3777 1570h6M3772 1663h6M3778 1574h6M3744 1630h6M3751 1659h6M3697 1649h6M3727 1594h6M3875 1667h6M3742 1574h6M3813 1661h6M3767 1648h6M3823 1567h6M3798 1588h6M3754 1541h6M3807 1654h6M3832 1645h6M3790 1565h6M3771 1627h6M3759 1653h6M3730 1604h6M3742 1546h6M3750 1606h6M3809 1502h6M3761 1533h6M3744 1552h6M3799 1661h6M3718 1570h6M3781 1529h6M3843 1601h6M3771 1522h6M3829 1510h6M3731 1559h6M3760 1504h6M3728 1636h6M3765 1606h6M3816 1627h6M3818 1599h6M3681 1507h6M3771 1668h6M3688 1525h6M3783 1567h6M3773 1637h6M3772 1603h6M3778 1584h6M3783 1661h6M3720 1616h6M3812 1585h6" stroke="#3030f0" stroke-width="6" stroke-opacity="0.6"/>
<ellipse cx="378.2" cy="164" rx="4.6" ry="7" fill="#1a10e8" fill-opacity="0.88" filter="url(#b11)"/>
</g>
</g>
<rect x="342.3" y="132.1" width="52.7" height="51.5" fill="none" stroke="#888" stroke-width="0.6"/>
<line x1="367.3" y1="132.1" x2="367.3" y2="183.6" stroke="#444" stroke-width="0.6"/>
<line x1="342.3" y1="167.3" x2="395" y2="167.3" stroke="#444" stroke-width="0.6"/>
<text x="360" y="161.8" font-size="3" text-anchor="middle" fill="#555" stroke="none">Q1</text>
<text x="373.3" y="161.8" font-size="3" text-anchor="middle" fill="#555" stroke="none">Q2</text>
<text x="360.6" y="175.1" font-size="3" text-anchor="middle" fill="#555" stroke="none">Q4</text>
<text x="373.5" y="175.1" font-size="3" text-anchor="middle" fill="#555" stroke="none">Q3</text>
<text x="392.4" y="138.2" font-size="5.4" text-anchor="end" textLength="10.4" lengthAdjust="spacingAndGlyphs">0.05</text>
<text x="334" y="138.4" font-size="4.3" fill="#222">10<tspan font-size="2.67" dy="-1.94">5</tspan></text>
<text x="334" y="151.4" font-size="4.3" fill="#222">10<tspan font-size="2.67" dy="-1.94">4</tspan></text>
<text x="334" y="163.9" font-size="4.3" fill="#222">10<tspan font-size="2.67" dy="-1.94">3</tspan></text>
<text x="334" y="176.4" font-size="4.3" fill="#222">10<tspan font-size="2.67" dy="-1.94">2</tspan></text>
<text x="348" y="189.3" font-size="4.3" fill="#222">10<tspan font-size="2.67" dy="-1.94">2</tspan></text>
<text x="361" y="189.3" font-size="4.3" fill="#222">10<tspan font-size="2.67" dy="-1.94">3</tspan></text>
<text x="374" y="189.3" font-size="4.3" fill="#222">10<tspan font-size="2.67" dy="-1.94">4</tspan></text>
<text x="387.5" y="189.3" font-size="4.3" fill="#222">10<tspan font-size="2.67" dy="-1.94">5</tspan></text>
<line x1="10.6" y1="142" x2="10.6" y2="170" stroke="#333" stroke-width="1.2"/>
<path d="M10.6 137.3L8.3 142.5L12.9 142.5Z" fill="#111"/>
<text x="12.6" y="180" font-size="6.5" text-anchor="middle" fill="#222" textLength="14.5" lengthAdjust="spacingAndGlyphs" transform="rotate(-90 12.6 180)">Sca-1</text>
<text x="31" y="207" font-size="6.5" fill="#222" textLength="10" lengthAdjust="spacingAndGlyphs">c-Kit</text>
<line x1="43.7" y1="205.1" x2="112" y2="205.1" stroke="#333" stroke-width="1.2"/>
<path d="M116.5 205.1L111.5 202.8L111.5 207.4Z" fill="#111"/>
<line x1="255.6" y1="137" x2="255.6" y2="165" stroke="#333" stroke-width="1.2"/>
<path d="M255.6 132.3L253.3 137.5L257.9 137.5Z" fill="#111"/>
<text x="257.6" y="175" font-size="6.5" text-anchor="middle" fill="#222" textLength="13" lengthAdjust="spacingAndGlyphs" transform="rotate(-90 257.6 175)">Sca-1</text>
<text x="277.5" y="201" font-size="6.5" fill="#222" textLength="10" lengthAdjust="spacingAndGlyphs">c-Kit</text>
<line x1="290" y1="199" x2="369.5" y2="199" stroke="#333" stroke-width="1.2"/>
<path d="M374 199L369 196.7L369 201.3Z" fill="#111"/>
<line x1="189.1" y1="178.3" x2="190.7" y2="178.3" stroke="#111" stroke-width="0.7"/>
<text x="186" y="179.7" font-size="4" text-anchor="end" fill="#222" textLength="8.2" lengthAdjust="spacingAndGlyphs">0.00</text>
<line x1="189.1" y1="165.18" x2="190.7" y2="165.18" stroke="#111" stroke-width="0.7"/>
<text x="186" y="166.58" font-size="4" text-anchor="end" fill="#222" textLength="8.2" lengthAdjust="spacingAndGlyphs">0.02</text>
<line x1="189.1" y1="152.06" x2="190.7" y2="152.06" stroke="#111" stroke-width="0.7"/>
<text x="186" y="153.46" font-size="4" text-anchor="end" fill="#222" textLength="8.2" lengthAdjust="spacingAndGlyphs">0.04</text>
<line x1="189.1" y1="138.94" x2="190.7" y2="138.94" stroke="#111" stroke-width="0.7"/>
<text x="186" y="140.34" font-size="4" text-anchor="end" fill="#222" textLength="8.2" lengthAdjust="spacingAndGlyphs">0.06</text>
<rect x="192.7" y="145.63" width="7.7" height="32.67" fill="#b3113a"/>
<line x1="196.55" y1="143.66" x2="196.55" y2="145.63" stroke="#222" stroke-width="0.7"/>
<line x1="194.35" y1="143.66" x2="198.75" y2="143.66" stroke="#222" stroke-width="0.7"/>
<rect x="204.3" y="144.52" width="8.1" height="33.78" fill="#6aad3c"/>
<line x1="208.35" y1="140.58" x2="208.35" y2="144.52" stroke="#222" stroke-width="0.7"/>
<line x1="206.15" y1="140.58" x2="210.55" y2="140.58" stroke="#222" stroke-width="0.7"/>
<line x1="190.7" y1="136.2" x2="190.7" y2="178.8" stroke="#111" stroke-width="0.9"/>
<line x1="190.3" y1="178.3" x2="214" y2="178.3" stroke="#111" stroke-width="0.9"/>
<line x1="196.5" y1="178.3" x2="196.5" y2="180.1" stroke="#111" stroke-width="0.7"/>
<line x1="208.4" y1="178.3" x2="208.4" y2="180.1" stroke="#111" stroke-width="0.7"/>
<text x="165.4" y="158.05" font-size="5" text-anchor="middle" fill="#222" textLength="16.5" lengthAdjust="spacingAndGlyphs" transform="rotate(-90 165.4 158.05)">LSK cell</text>
<text x="171.8" y="157.25" font-size="5" text-anchor="middle" fill="#222" textLength="43.6" lengthAdjust="spacingAndGlyphs" transform="rotate(-90 171.8 157.25)">in bone marrow (%)</text>
<text x="198" y="186.5" font-size="4.2" text-anchor="end" fill="#222" textLength="14.5" lengthAdjust="spacingAndGlyphs" transform="rotate(-45 198 186.5)">control</text>
<text x="209.5" y="186.5" font-size="4.2" text-anchor="end" fill="#222" textLength="25" lengthAdjust="spacingAndGlyphs" transform="rotate(-45 209.5 186.5)">Dmp1-TSC1</text>
<line x1="432.6" y1="178" x2="434.2" y2="178" stroke="#111" stroke-width="0.7"/>
<text x="429.6" y="179.4" font-size="4" text-anchor="end" fill="#222" textLength="8.2" lengthAdjust="spacingAndGlyphs">0.00</text>
<line x1="432.6" y1="165.28" x2="434.2" y2="165.28" stroke="#111" stroke-width="0.7"/>
<text x="429.6" y="166.68" font-size="4" text-anchor="end" fill="#222" textLength="8.2" lengthAdjust="spacingAndGlyphs">0.02</text>
<line x1="432.6" y1="152.56" x2="434.2" y2="152.56" stroke="#111" stroke-width="0.7"/>
<text x="429.6" y="153.96" font-size="4" text-anchor="end" fill="#222" textLength="8.2" lengthAdjust="spacingAndGlyphs">0.04</text>
<line x1="432.6" y1="139.84" x2="434.2" y2="139.84" stroke="#111" stroke-width="0.7"/>
<text x="429.6" y="141.24" font-size="4" text-anchor="end" fill="#222" textLength="8.2" lengthAdjust="spacingAndGlyphs">0.06</text>
<rect x="436.6" y="146.33" width="7.5" height="31.67" fill="#b3113a"/>
<line x1="440.35" y1="142.51" x2="440.35" y2="146.33" stroke="#222" stroke-width="0.7"/>
<line x1="438.15" y1="142.51" x2="442.55" y2="142.51" stroke="#222" stroke-width="0.7"/>
<rect x="448.2" y="146.52" width="7.7" height="31.48" fill="#6aad3c"/>
<line x1="452.05" y1="143.34" x2="452.05" y2="146.52" stroke="#222" stroke-width="0.7"/>
<line x1="449.85" y1="143.34" x2="454.25" y2="143.34" stroke="#222" stroke-width="0.7"/>
<line x1="434.2" y1="137.3" x2="434.2" y2="178.5" stroke="#111" stroke-width="0.9"/>
<line x1="433.8" y1="178" x2="457.5" y2="178" stroke="#111" stroke-width="0.9"/>
<line x1="440.3" y1="178" x2="440.3" y2="179.8" stroke="#111" stroke-width="0.7"/>
<line x1="452" y1="178" x2="452" y2="179.8" stroke="#111" stroke-width="0.7"/>
<text x="408.8" y="158.45" font-size="5" text-anchor="middle" fill="#222" textLength="16.5" lengthAdjust="spacingAndGlyphs" transform="rotate(-90 408.8 158.45)">LSK cell</text>
<text x="416.4" y="157.65" font-size="5" text-anchor="middle" fill="#222" textLength="42.2" lengthAdjust="spacingAndGlyphs" transform="rotate(-90 416.4 157.65)">in bone marrow (%)</text>
<text x="442" y="186.5" font-size="4.2" text-anchor="end" fill="#222" textLength="14.5" lengthAdjust="spacingAndGlyphs" transform="rotate(-45 442 186.5)">control</text>
<text x="453.8" y="186.5" font-size="4.2" text-anchor="end" fill="#222" textLength="25" lengthAdjust="spacingAndGlyphs" transform="rotate(-45 453.8 186.5)">Dmp1-Rheb</text>
<circle cx="7.4" cy="218.4" r=".55" fill="#6cba50"/>
<text x="51.3" y="244.5" font-size="6.4" fill="#222" textLength="20" lengthAdjust="spacingAndGlyphs">control</text>
<g clip-path="url(#c12)">
<path transform="scale(.1)" d="M510 2999h6M441 3004h6M402 3019h6M515 2982h6M383 2874h6M529 2985h6M398 3017h6M423 2920h6M402 2925h6M391 2891h6M386 2943h6M415 2808h6M481 2930h6M375 2964h6M420 3022h6M446 2897h6M498 3001h6M362 2985h6M476 2928h6M440 2962h6M512 2999h6M494 2952h6M460 2998h6M461 3021h6M493 2923h6M460 2894h6M420 2953h6M367 2979h6M458 2826h6M388 2922h6M432 2998h6M434 3008h6M363 2970h6M363 2962h6M416 2969h6M409 2969h6M396 2965h6M402 3011h6M380 2988h6M371 3008h6M361 2952h6M408 2913h6M419 3009h6M428 2901h6M391 3002h6M523 2913h6M360 2948h6M426 2867h6M490 2981h6M440 2895h6M422 2881h6M494 2991h6M456 2995h6M408 3013h6M397 2929h6M361 2941h6M401 3012h6M395 2992h6M482 2931h6M473 2913h6M376 2953h6M444 3008h6M455 2891h6M422 2974h6M414 2931h6M455 3004h6M374 2896h6M443 2995h6M383 2990h6M366 2996h6M416 2905h6M449 2893h6M379 2991h6M361 3021h6M374 2944h6M424 3016h6M455 3018h6M415 2907h6M366 3001h6M496 3021h6M367 2925h6M403 2944h6M371 2966h6M512 2979h6M389 2926h6M478 3020h6M409 2841h6M460 2987h6M412 2967h6M424 3002h6M388 2926h6M460 2889h6M410 2833h6M466 2983h6M366 2962h6M377 2931h6M373 2967h6M426 2875h6M457 3014h6M441 2923h6M445 3009h6M385 3018h6M407 3003h6M471 2897h6M376 3022h6M433 2989h6M489 2960h6M364 2980h6M373 2926h6M374 2885h6M380 2948h6M381 3022h6M382 2922h6M415 2969h6M423 2991h6M434 3001h6M420 2898h6M393 2983h6M358 2954h6M395 2949h6M360 3013h6M402 2970h6M522 3003h6M397 3013h6M434 2998h6M447 2834h6M405 3007h6M460 2975h6M452 2956h6M454 2946h6M413 2951h6M364 2935h6M371 2976h6M415 2892h6M471 2973h6M440 2937h6M466 2892h6M378 2890h6M420 2969h6M400 2913h6M392 2955h6M396 2980h6M404 2901h6M369 3015h6M384 3007h6M430 2984h6" stroke="#e3242b" stroke-width="6" stroke-opacity="0.6"/>
<path transform="scale(.1)" d="M516 2963h5M488 3003h5M501 2990h5M427 2879h5M403 2845h5M538 2955h5M440 2903h5M421 2923h5M387 2891h5M547 2974h5M394 2911h5M432 2809h5M403 2891h5M539 2938h5M427 3004h5M465 2862h5M514 2942h5M389 2868h5M472 2898h5M547 3003h5M537 2909h5M545 2863h5M423 2885h5M428 2893h5M386 2923h5M549 3011h5M368 2993h5M367 2815h5M390 2921h5M436 3012h5M532 2963h5M481 2793h5M484 2811h5M376 2935h5M504 3000h5M539 2980h5M373 2965h5M524 2966h5M457 2890h5M428 2884h5M517 2868h5M393 3013h5M454 2855h5M495 2811h5M461 2934h5M460 3009h5M449 2905h5M425 2921h5M547 2928h5M397 2944h5M529 2834h5M418 2797h5M379 2895h5M523 2819h5M466 2924h5M500 2972h5M463 2919h5M530 2821h5M539 2837h5M456 2847h5M534 2991h5M533 2947h5M471 2819h5M556 2802h5M376 2978h5M461 2920h5M470 2820h5M398 2888h5M385 2825h5M487 2957h5M370 2959h5M550 3008h5M566 2933h5M389 2866h5M399 2913h5M534 2967h5M538 3010h5M488 2886h5M480 3004h5M523 2927h5M432 2858h5M513 2946h5M407 3019h5M454 2994h5M545 2990h5M444 2954h5M473 2949h5M444 2867h5M435 2938h5M371 2927h5" stroke="#e3242b" stroke-width="5" stroke-opacity="0.45"/>
<path transform="scale(.1)" d="M630 2707h6M624 2744h6M580 2826h6M577 2850h6M605 2815h6M649 2936h6M604 2937h6M620 2802h6M576 2755h6M660 2847h6M591 2968h6M610 2754h6M620 2903h6M587 2748h6M615 2803h6M605 2806h6M565 2884h6M615 2906h6M600 2865h6M645 2797h6M639 2783h6M598 2713h6M657 2852h6M623 2978h6M583 2793h6M590 2767h6M601 2815h6M597 2895h6M625 2818h6M608 2847h6M646 2826h6M623 2860h6M662 2798h6M586 2779h6M620 3007h6M646 2788h6M590 2783h6M586 2711h6M611 2746h6M623 2754h6M652 2720h6M624 2763h6M604 2861h6M647 2855h6M625 2706h6M611 2987h6M602 2780h6M599 2975h6M622 2885h6M636 2786h6M631 2899h6M594 2706h6M588 2859h6M583 2815h6M632 2835h6M588 2949h6M565 2954h6M608 2836h6M591 2806h6M636 2866h6M638 2905h6M599 2803h6M610 2782h6M645 2698h6M653 2752h6M586 2832h6M651 3006h6M654 2985h6M561 2915h6M590 2938h6M602 2782h6M585 2904h6M637 2706h6M618 2889h6M606 2812h6M639 2993h6M628 2920h6M628 2767h6M607 2840h6M585 2931h6M603 2780h6M588 2917h6M607 2974h6M581 2855h6M593 2867h6M630 2843h6M613 2826h6M584 2840h6M614 2773h6M639 2812h6M603 2835h6M625 2693h6M612 2830h6M569 2833h6M614 2862h6M600 2733h6M573 2766h6M619 2803h6M659 2657h6M618 2873h6M612 2914h6M603 2899h6M603 2782h6M586 2790h6M628 2783h6M628 2819h6M610 2994h6M580 2832h6M633 2909h6M620 3008h6M599 2858h6M656 2708h6M625 2916h6M619 2897h6M590 2865h6M608 2891h6M637 2900h6M631 3005h6M592 2676h6M576 2939h6M603 2816h6M615 2943h6M602 2755h6M599 2939h6M607 2920h6M638 2819h6M591 2706h6M598 2728h6M616 2696h6M616 2799h6M631 2719h6M614 2929h6M571 2886h6M597 2737h6M573 2851h6M595 2800h6M608 2796h6M607 2947h6M672 2746h6M608 2823h6M618 2757h6M617 2784h6M645 2831h6M619 3022h6M623 2869h6M632 2710h6M571 2886h6M605 3010h6M576 2832h6M626 2893h6M578 2672h6M589 2786h6M632 2893h6M645 2760h6M593 2936h6M604 2838h6M584 2749h6M590 2766h6M592 2802h6M601 2966h6M655 2801h6M649 2897h6M573 2968h6M646 2783h6M585 2966h6M588 2831h6M635 2826h6M619 2923h6M614 2844h6M624 2847h6M595 2772h6M612 2737h6M575 2872h6M609 2908h6M596 2825h6M587 2796h6M603 2894h6M592 2671h6M596 2814h6M602 2748h6M615 2974h6M597 2889h6M625 2958h6M627 2958h6M612 2694h6M583 2791h6M586 2754h6M605 2839h6M600 2883h6M659 2729h6M597 2708h6M639 2945h6M577 2899h6M575 2888h6M611 2851h6M566 2866h6M615 2997h6M614 2839h6M593 2907h6M631 2932h6M634 2827h6M576 2855h6M647 2990h6M646 2944h6M586 2926h6M600 2816h6M641 2981h6M634 2789h6M595 2879h6M623 2954h6M593 2665h6M639 2838h6M608 2960h6M575 2846h6M603 2902h6M610 2927h6M579 2799h6M590 2974h6M644 2859h6M629 2824h6M596 3008h6M609 3007h6M672 2714h6M627 2812h6M627 2751h6M619 2901h6M633 2852h6M620 2817h6M574 2779h6M600 2812h6M616 2878h6M586 2868h6M623 2822h6M629 2827h6M565 2821h6M661 2838h6M620 2816h6M658 2893h6M566 2827h6M614 2912h6M597 2871h6M636 2859h6M591 2946h6M617 2739h6M608 2917h6M601 2836h6M612 2795h6M632 2979h6M634 2807h6M640 2817h6M582 2719h6M633 2820h6M632 2876h6M637 2884h6M616 2763h6M600 2757h6M622 2914h6M645 2898h6M579 2973h6M643 2910h6M626 2790h6M602 2920h6M593 2681h6M639 2993h6M592 2866h6M612 2760h6M615 2664h6M622 2971h6M590 2931h6M632 2919h6M650 2852h6M593 2946h6M614 2761h6M602 2862h6M652 2900h6M594 2783h6M617 2899h6M682 2737h6M597 2966h6M603 2872h6M570 2655h6M630 2729h6M632 2793h6M620 2992h6M591 2756h6M642 2852h6M608 2957h6M586 2846h6M579 2691h6M629 2994h6M617 2675h6M608 2888h6M611 2988h6M590 2887h6M603 2839h6M603 2908h6M580 2813h6M621 2952h6M639 2871h6M641 3001h6M651 2815h6M609 2793h6M609 2891h6M619 2802h6M624 2993h6M635 2928h6M603 2813h6M655 2855h6M592 2957h6M654 2671h6M654 2733h6M634 2858h6M596 2736h6M585 2701h6M602 2969h6M605 2766h6M593 2848h6M637 2789h6M625 2828h6M606 2833h6M605 2937h6M571 2696h6M599 2666h6M587 2703h6M608 2645h6M603 2767h6M637 2655h6M568 2657h6M581 2734h6M625 2744h6M604 2824h6M624 2673h6M588 2836h6M644 2758h6M590 2924h6M611 2838h6M656 2752h6M628 2880h6M647 2868h6M606 2671h6M629 2778h6M656 2692h6M658 2723h6M584 2886h6M602 2922h6M611 2757h6M604 2795h6M615 2829h6M633 2813h6M614 2885h6M627 2985h6M631 2844h6M606 2801h6M611 2668h6M580 2712h6" stroke="#e3242b" stroke-width="6" stroke-opacity="0.6"/>
<path transform="scale(.1)" d="M659 2668h6M644 2650h6M616 2628h6M584 2635h6M549 2680h6M634 2678h6M645 2627h6M626 2656h6M584 2659h6M566 2646h6M602 2592h6M662 2694h6M634 2722h6M629 2680h6M668 2640h6M551 2693h6M594 2696h6M629 2632h6M601 2617h6M605 2652h6M635 2728h6M614 2648h6M608 2655h6M586 2667h6M560 2627h6M613 2694h6M624 2648h6M647 2670h6M671 2677h6M603 2614h6M653 2695h6M657 2638h6M561 2709h6M603 2568h6M629 2611h6M659 2699h6M603 2681h6M556 2605h6M639 2585h6M599 2675h6M632 2671h6M693 2703h6M597 2653h6M575 2666h6M686 2685h6M600 2614h6M573 2672h6M559 2686h6M594 2635h6M615 2640h6M602 2630h6M621 2595h6M599 2679h6M637 2678h6M654 2667h6M705 2639h6M535 2603h6M630 2591h6M605 2690h6M649 2666h6M547 2620h6M659 2717h6M586 2690h6M632 2645h6M644 2624h6M626 2680h6M597 2636h6M664 2628h6M567 2605h6M594 2651h6M570 2700h6M608 2680h6M548 2646h6M665 2698h6M622 2702h6M633 2670h6M620 2677h6M588 2725h6M700 2666h6M603 2748h6M623 2682h6M624 2664h6M592 2690h6M548 2700h6M666 2652h6M591 2735h6M599 2640h6M643 2620h6M586 2631h6M577 2638h6M594 2575h6M637 2648h6M591 2649h6M638 2672h6M694 2579h6M638 2697h6M601 2655h6M605 2675h6M590 2633h6M644 2660h6M638 2761h6M551 2626h6M576 2656h6M672 2677h6M648 2732h6M577 2676h6M563 2721h6M584 2630h6M563 2609h6M603 2637h6M617 2641h6M622 2667h6M648 2687h6M583 2706h6M581 2625h6M639 2611h6M577 2601h6M544 2670h6M567 2722h6M661 2672h6M577 2658h6M593 2701h6M606 2673h6M631 2643h6M628 2613h6M648 2672h6M598 2700h6M575 2594h6M623 2661h6M589 2632h6M621 2691h6M566 2605h6M630 2617h6M654 2712h6M580 2746h6M593 2655h6M599 2675h6M636 2671h6M575 2646h6M541 2620h6M610 2658h6M581 2667h6M573 2657h6M605 2696h6M644 2620h6M587 2591h6M682 2578h6M600 2599h6M605 2666h6M627 2634h6M631 2631h6M565 2627h6M572 2721h6M638 2681h6M628 2591h6M641 2616h6M602 2667h6M598 2657h6M621 2702h6M663 2709h6M608 2582h6M558 2639h6M628 2702h6M587 2632h6M606 2665h6M630 2687h6M594 2564h6M586 2545h6M596 2760h6M652 2672h6M692 2618h6M619 2678h6M575 2636h6M631 2668h6M580 2653h6M630 2650h6M574 2673h6M598 2663h6M556 2656h6M588 2603h6M665 2664h6M613 2691h6M659 2697h6M576 2667h6M579 2650h6M619 2704h6M561 2688h6M619 2619h6M720 2654h6M652 2656h6M618 2692h6M606 2659h6M654 2701h6M703 2670h6M533 2604h6M625 2621h6M546 2703h6M539 2597h6M611 2704h6M636 2615h6M634 2620h6M616 2542h6M553 2672h6M597 2674h6M638 2738h6M581 2694h6M628 2651h6M624 2662h6M631 2652h6M607 2630h6M587 2667h6M617 2674h6M640 2631h6M573 2595h6M656 2733h6M619 2683h6M573 2664h6M661 2671h6M547 2671h6M604 2693h6M671 2661h6M625 2697h6M570 2651h6M538 2669h6M634 2673h6M623 2631h6M571 2709h6M632 2646h6M629 2631h6M565 2673h6M601 2671h6M701 2676h6M612 2739h6M573 2655h6M586 2657h6M697 2586h6M656 2609h6M541 2654h6M601 2648h6M560 2686h6M553 2684h6M719 2610h6M616 2665h6M543 2661h6M645 2697h6M633 2638h6M601 2627h6M653 2632h6M562 2638h6M675 2599h6M642 2690h6M584 2669h6M546 2676h6M625 2632h6M613 2662h6M629 2688h6M650 2657h6M630 2696h6M674 2666h6M588 2636h6M603 2595h6M563 2688h6M689 2714h6M582 2709h6M621 2642h6M661 2697h6M644 2684h6M647 2651h6M595 2639h6M644 2681h6M647 2650h6M596 2662h6M608 2653h6M665 2670h6M618 2669h6M610 2654h6M669 2632h6M639 2699h6M648 2747h6M573 2638h6M624 2684h6M632 2637h6M593 2724h6M636 2689h6M643 2733h6M603 2676h6M545 2650h6M622 2688h6M580 2611h6M575 2583h6M565 2658h6M627 2719h6M615 2633h6M616 2648h6M650 2704h6M541 2652h6M691 2709h6M599 2544h6M635 2677h6M601 2693h6M619 2684h6M597 2655h6M623 2649h6M559 2614h6M618 2629h6M571 2635h6M634 2580h6M597 2717h6M593 2604h6M616 2672h6M619 2673h6M692 2646h6M620 2658h6M535 2613h6M567 2647h6M555 2713h6M600 2621h6M574 2660h6M578 2617h6M553 2657h6M673 2552h6M587 2659h6M569 2742h6M609 2592h6M612 2612h6M634 2657h6M650 2620h6M617 2719h6M592 2618h6M587 2665h6M587 2674h6M647 2625h6M539 2622h6M537 2627h6M591 2591h6M602 2653h6M536 2638h6M533 2677h6M587 2671h6M654 2678h6M597 2664h6M578 2651h6M667 2630h6M592 2661h6M611 2680h6M551 2633h6M593 2662h6M621 2667h6M599 2617h6M551 2607h6M629 2710h6M563 2599h6M581 2659h6M574 2642h6M622 2665h6M578 2602h6M590 2691h6M602 2708h6M570 2621h6M543 2660h6M601 2643h6M599 2668h6M564 2686h6M533 2633h6M609 2641h6M602 2592h6M583 2649h6M540 2672h6M546 2619h6M544 2658h6M564 2673h6M628 2637h6M616 2716h6M665 2617h6M708 2683h6M590 2655h6M629 2629h6M583 2657h6M606 2653h6M602 2652h6M635 2658h6M628 2670h6M627 2683h6M555 2662h6M610 2615h6M575 2648h6M675 2693h6M599 2656h6M535 2655h6M638 2638h6M620 2706h6M586 2596h6M595 2648h6M705 2650h6M594 2692h6M569 2641h6M593 2647h6M613 2660h6M581 2680h6M602 2677h6M651 2647h6M581 2669h6M595 2721h6M590 2632h6M678 2629h6M630 2632h6M626 2715h6M655 2640h6M622 2700h6M605 2726h6M663 2720h6M602 2671h6M553 2623h6M624 2629h6M603 2616h6M574 2611h6M614 2629h6M607 2679h6M587 2657h6M693 2678h6M665 2713h6M637 2677h6M537 2675h6M562 2606h6M599 2700h6M626 2684h6M633 2686h6M560 2616h6M605 2696h6M600 2629h6M580 2639h6M576 2616h6M666 2664h6M536 2664h6M623 2689h6M561 2586h6M693 2608h6M545 2664h6M646 2695h6M569 2658h6M572 2657h6M575 2752h6M649 2650h6M596 2709h6M574 2647h6M583 2658h6M670 2632h6M552 2614h6M577 2604h6M552 2624h6M621 2666h6M587 2671h6M603 2652h6M566 2687h6M600 2649h6M587 2662h6M598 2610h6M577 2611h6M704 2589h6M597 2685h6M594 2652h6M560 2629h6M572 2612h6M595 2680h6M638 2722h6M625 2782h6M609 2615h6M544 2667h6M636 2693h6M604 2709h6M605 2643h6M596 2661h6M628 2611h6M561 2703h6M588 2703h6M629 2670h6M652 2652h6M630 2690h6M646 2622h6M602 2716h6M633 2711h6M666 2636h6M603 2715h6M626 2625h6M622 2674h6M583 2644h6M641 2686h6M560 2624h6M591 2659h6M601 2627h6M617 2581h6M569 2659h6M603 2654h6M618 2665h6M590 2719h6M599 2758h6M536 2692h6M552 2593h6M564 2547h6M582 2654h6M562 2640h6M621 2633h6M640 2630h6M678 2657h6M549 2685h6M612 2600h6M682 2641h6M626 2762h6M575 2630h6M622 2567h6M647 2625h6M661 2706h6M558 2608h6M654 2611h6M604 2677h6M639 2660h6M571 2691h6M623 2701h6M561 2719h6M625 2646h6M629 2655h6M618 2669h6M613 2629h6M561 2641h6M611 2654h6M617 2632h6M579 2634h6M591 2635h6M600 2640h6M657 2630h6M564 2674h6M670 2652h6M554 2687h6M560 2655h6M592 2612h6M636 2671h6M596 2668h6M555 2646h6M616 2685h6M559 2576h6M635 2700h6M560 2689h6M605 2688h6M679 2705h6M609 2613h6M573 2645h6M577 2672h6M627 2729h6M650 2608h6M704 2658h6M586 2589h6M609 2747h6M603 2680h6M621 2699h6M574 2627h6M630 2696h6M577 2674h6M645 2673h6M587 2741h6M664 2684h6M598 2610h6M586 2660h6M564 2699h6M553 2723h6M587 2628h6M592 2678h6M647 2616h6M630 2641h6M549 2613h6M653 2605h6M577 2660h6M665 2575h6M609 2664h6M534 2640h6M589 2680h6M589 2636h6M611 2700h6M548 2659h6M593 2655h6M640 2634h6M541 2649h6M549 2721h6M659 2615h6M602 2593h6M595 2639h6M680 2676h6M612 2701h6M586 2684h6M574 2634h6M682 2547h6M628 2628h6M641 2627h6M609 2605h6M648 2628h6M543 2531h6M549 2605h6M603 2650h6M607 2645h6M678 2611h6M573 2646h6M624 2715h6M603 2689h6M619 2774h6M575 2712h6M601 2667h6M631 2707h6M574 2652h6M563 2551h6M690 2663h6M600 2625h6M592 2672h6M653 2669h6M608 2614h6M576 2657h6M603 2720h6M635 2560h6M695 2665h6M639 2680h6M532 2680h6M562 2648h6M602 2666h6M635 2659h6M649 2669h6" stroke="#e3242b" stroke-width="6" stroke-opacity="0.6"/>
<ellipse cx="60.3" cy="265.1" rx="4" ry="3.8" fill="#dd1a22" fill-opacity="0.85" filter="url(#b12)"/>
<path transform="scale(.1)" d="M645 2616h5M651 2627h5M654 2592h5M724 2546h5M698 2587h5M710 2622h5M625 2617h5M757 2590h5M713 2677h5M575 2595h5M770 2597h5M667 2570h5M532 2626h5M707 2642h5M703 2571h5M574 2610h5M749 2615h5M701 2656h5M647 2597h5M723 2589h5M635 2589h5M708 2578h5M656 2611h5M628 2585h5M684 2609h5M633 2585h5M720 2587h5M672 2598h5M639 2624h5M658 2548h5M757 2594h5M680 2611h5M650 2568h5M624 2583h5M707 2591h5M697 2529h5M621 2605h5M614 2624h5M661 2592h5M620 2595h5M596 2629h5M688 2591h5M616 2614h5M628 2632h5M706 2579h5M661 2655h5M704 2631h5M645 2625h5M605 2621h5M721 2594h5M694 2590h5M658 2609h5M694 2606h5M696 2570h5M597 2615h5M549 2550h5M603 2624h5M705 2695h5M656 2591h5M665 2559h5M722 2573h5M631 2607h5M645 2616h5M709 2625h5M670 2575h5M671 2567h5M594 2553h5M722 2558h5M730 2599h5M653 2602h5M753 2557h5M694 2586h5M617 2537h5M622 2571h5M672 2627h5M692 2593h5M759 2582h5M674 2591h5M706 2616h5M671 2620h5" stroke="#e3242b" stroke-width="5" stroke-opacity="0.4"/>
<text x="51.1" y="276.1" font-size="3" text-anchor="middle" fill="#666" stroke="none">Q1</text>
<text x="61.1" y="276.1" font-size="3" text-anchor="middle" fill="#666" stroke="none">Q2</text>
<text x="51.1" y="286.1" font-size="3" text-anchor="middle" fill="#666" stroke="none">Q4</text>
<text x="61.1" y="286.1" font-size="3" text-anchor="middle" fill="#666" stroke="none">Q3</text>
</g>
<rect x="35.5" y="249" width="53.5" height="53.2" fill="none" stroke="#888" stroke-width="0.6"/>
<line x1="56.6" y1="249" x2="56.6" y2="302.2" stroke="#555" stroke-width="0.6"/>
<line x1="35.5" y1="280.6" x2="89" y2="280.6" stroke="#555" stroke-width="0.6"/>
<rect x="56.6" y="267.4" width="15.7" height="6.5" fill="none" stroke="#333" stroke-width="0.55"/>
<text x="72.6" y="272.6" font-size="4.6" font-weight="bold" textLength="7.6" lengthAdjust="spacingAndGlyphs">4.02</text>
<text x="37" y="254.3" font-size="5.4" font-weight="bold" textLength="27.3" lengthAdjust="spacingAndGlyphs">Edu+ gated</text>
<text x="86.8" y="254.3" font-size="5.4" text-anchor="end" font-weight="bold" textLength="9.6" lengthAdjust="spacingAndGlyphs">19.8</text>
<text x="27.3" y="254.7" font-size="4.3" fill="#222">10<tspan font-size="2.67" dy="-1.94">5</tspan></text>
<text x="27.3" y="268.4" font-size="4.3" fill="#222">10<tspan font-size="2.67" dy="-1.94">4</tspan></text>
<text x="27.3" y="282.2" font-size="4.3" fill="#222">10<tspan font-size="2.67" dy="-1.94">3</tspan></text>
<text x="27.3" y="295.9" font-size="4.3" fill="#222">10<tspan font-size="2.67" dy="-1.94">2</tspan></text>
<text x="38.5" y="309.5" font-size="4.3" fill="#222">10<tspan font-size="2.67" dy="-1.94">2</tspan></text>
<text x="52" y="309.5" font-size="4.3" fill="#222">10<tspan font-size="2.67" dy="-1.94">3</tspan></text>
<text x="66" y="309.5" font-size="4.3" fill="#222">10<tspan font-size="2.67" dy="-1.94">4</tspan></text>
<text x="79.8" y="309.5" font-size="4.3" fill="#222">10<tspan font-size="2.67" dy="-1.94">5</tspan></text>
<text x="109.6" y="244.6" font-size="6.4" fill="#222" textLength="34.4" lengthAdjust="spacingAndGlyphs">Dmp1-TSC1</text>
<g clip-path="url(#c13)">
<path transform="scale(.1)" d="M1042 2962h6M1092 2975h6M1056 2982h6M1086 3015h6M1071 2913h6M1079 2986h6M1111 2965h6M1098 2961h6M1053 2969h6M1053 3014h6M1046 3019h6M1061 2885h6M1018 2987h6M1023 3002h6M1105 2941h6M1020 2980h6M1059 2968h6M1080 2876h6M1099 2963h6M1071 2970h6M1109 2945h6M1096 2976h6M1068 2953h6M1049 2967h6M1034 3018h6M1019 2871h6M1049 2982h6M1094 2880h6M1127 2973h6M1135 2987h6M1084 2992h6M1153 3017h6M1101 3017h6M1071 2947h6M1108 2935h6M1129 2966h6M1017 2829h6M1115 2999h6M1056 2960h6M1043 2975h6M1051 2981h6M1134 2879h6M1053 2963h6M1021 2939h6M1038 2938h6M1118 2987h6M1081 2988h6M1026 3006h6M1069 2971h6M1055 2915h6M1099 3005h6M1055 2890h6M1056 2854h6M1070 2979h6M1028 2959h6M1100 2989h6M1108 2894h6M1056 3013h6M1126 2994h6M1073 2936h6M1089 2931h6M1019 2926h6M1099 2871h6M1020 2985h6M1020 3014h6M1105 3016h6M1079 2965h6M1153 2964h6M1081 2975h6M1085 3012h6M1116 2927h6M1038 2974h6M1118 2886h6M1050 2878h6M1050 2998h6M1039 2956h6M1046 3015h6M1090 2971h6M1115 2946h6M1083 2830h6M1036 2999h6M1074 2955h6M1021 2915h6M1138 2994h6M1100 2961h6M1076 2946h6M1070 3014h6M1057 3003h6M1088 2946h6M1052 2947h6M1090 2949h6M1139 3017h6M1049 2993h6M1198 2910h6M1101 2892h6M1110 3009h6M1047 2947h6M1047 2993h6M1094 2968h6M1070 2986h6M1139 2941h6M1089 2922h6M1054 3009h6M1067 2924h6M1057 2994h6M1088 3001h6M1031 3006h6M1017 2863h6M1061 2840h6M1033 2894h6M1023 2908h6M1083 3015h6M1051 2970h6M1063 2949h6M1032 2992h6M1176 2937h6M1031 2988h6M1106 3004h6M1045 3016h6M1034 2959h6M1087 2895h6M1019 2976h6M1033 2940h6M1061 2945h6M1054 3017h6M1075 3012h6M1104 2995h6M1025 3002h6M1119 2952h6M1043 2965h6M1069 2961h6M1059 2960h6M1062 2993h6M1084 2899h6M1189 3011h6M1085 2925h6M1054 2987h6M1061 3004h6M1110 2937h6M1024 2999h6M1114 3006h6M1050 3009h6M1047 2973h6" stroke="#e3242b" stroke-width="6" stroke-opacity="0.6"/>
<path transform="scale(.1)" d="M1145 2887h5M1151 2904h5M1100 2915h5M1024 2854h5M1027 2992h5M1207 2889h5M1083 2903h5M1157 2984h5M1057 2832h5M1093 3014h5M1094 2976h5M1102 2804h5M1043 2898h5M1086 2991h5M1112 2921h5M1104 2946h5M1113 2936h5M1110 2921h5M1078 2911h5M1182 2871h5M1116 2883h5M1053 2797h5M1163 2952h5M1187 2881h5M1149 2991h5M1058 3001h5M1028 2887h5M1071 2858h5M1075 2825h5M1076 2961h5M1078 2896h5M1152 2890h5M1068 2955h5M1111 2796h5M1182 3017h5M1084 2994h5M1029 2996h5M1120 3001h5M1145 2941h5M1108 2826h5M1037 2966h5M1204 2901h5M1050 3012h5M1112 2975h5M1065 2954h5M1132 2844h5M1079 2864h5M1199 2807h5M1082 2979h5M1086 2989h5M1121 2925h5M1078 3019h5M1060 2958h5M1089 2799h5M1135 2996h5M1212 2809h5M1166 2890h5M1193 2873h5M1209 2883h5M1034 2837h5M1133 2882h5M1132 2817h5M1153 2879h5M1197 2897h5M1091 2952h5M1197 2987h5M1052 2844h5M1152 2952h5M1025 2993h5M1167 2989h5M1180 2828h5M1151 2791h5M1182 2842h5M1037 2868h5M1202 2791h5M1085 2965h5M1082 2865h5M1025 2864h5M1183 3011h5M1053 2825h5M1096 2820h5M1101 2937h5M1055 2824h5M1169 2943h5M1138 2835h5M1146 2874h5M1095 2987h5M1121 2800h5M1071 2868h5M1152 2842h5" stroke="#e3242b" stroke-width="5" stroke-opacity="0.45"/>
<path transform="scale(.1)" d="M1290 2974h6M1223 2732h6M1255 2723h6M1265 2886h6M1252 2688h6M1217 2759h6M1255 2991h6M1239 2897h6M1284 2964h6M1265 2850h6M1278 2972h6M1272 2723h6M1245 2735h6M1286 2896h6M1291 2868h6M1230 2833h6M1232 2673h6M1215 2961h6M1249 2716h6M1241 2842h6M1253 2808h6M1242 2939h6M1234 2911h6M1265 2927h6M1243 2984h6M1263 2823h6M1217 2965h6M1280 2700h6M1239 2822h6M1253 2973h6M1289 2689h6M1268 2890h6M1294 3008h6M1289 2719h6M1295 2742h6M1302 2972h6M1274 2946h6M1275 2836h6M1224 2962h6M1274 2927h6M1252 2971h6M1243 2695h6M1288 2823h6M1242 2799h6M1299 2896h6M1247 2731h6M1236 2836h6M1220 2810h6M1250 2704h6M1248 2740h6M1305 2726h6M1254 2918h6M1249 2668h6M1239 2733h6M1228 2868h6M1256 2742h6M1299 2818h6M1302 2806h6M1263 2801h6M1251 2724h6M1223 2728h6M1276 2943h6M1279 2686h6M1295 2896h6M1231 2811h6M1254 2870h6M1204 2660h6M1273 2907h6M1232 2833h6M1280 2848h6M1249 2636h6M1227 2897h6M1257 2891h6M1240 2787h6M1248 3009h6M1291 2881h6M1258 2879h6M1252 2973h6M1214 2939h6M1265 2808h6M1216 2879h6M1227 2697h6M1252 2814h6M1255 2750h6M1256 2728h6M1234 2764h6M1294 2901h6M1294 2889h6M1215 2865h6M1269 2701h6M1246 2783h6M1273 2738h6M1228 2768h6M1234 2853h6M1254 2938h6M1241 2792h6M1235 2914h6M1270 2718h6M1276 2892h6M1236 2656h6M1246 2778h6M1229 2732h6M1268 2745h6M1228 2854h6M1291 2712h6M1225 3001h6M1289 2824h6M1240 2842h6M1273 2752h6M1255 2778h6M1267 2873h6M1238 2827h6M1261 2989h6M1255 2743h6M1290 3008h6M1270 2880h6M1259 2908h6M1205 2963h6M1264 2764h6M1230 2812h6M1296 2841h6M1259 2745h6M1297 2809h6M1239 2884h6M1240 2813h6M1213 2647h6M1270 2744h6M1270 2893h6M1274 2920h6M1284 2823h6M1247 2969h6M1227 2729h6M1223 2745h6M1288 3004h6M1244 2666h6M1236 2864h6M1297 2815h6M1281 2937h6M1219 2980h6M1290 2911h6M1254 2989h6M1271 2865h6M1232 2820h6M1244 2875h6M1261 2799h6M1264 2830h6M1290 2977h6M1256 2856h6M1249 2743h6M1268 2963h6M1208 2725h6M1285 3012h6M1233 2709h6M1219 2969h6M1261 2829h6M1235 2931h6M1245 3008h6M1251 2943h6M1270 2859h6M1290 2726h6M1300 2689h6M1271 2928h6M1257 2724h6M1233 2951h6M1237 2845h6M1262 2766h6M1229 2693h6M1246 2968h6M1254 2811h6M1301 3011h6M1279 2896h6M1272 2964h6M1265 2961h6M1263 2965h6M1222 2717h6M1296 3002h6M1235 2717h6M1284 2816h6M1259 3008h6M1272 2856h6M1291 2645h6M1224 2916h6M1266 2736h6M1278 2842h6M1240 2669h6M1222 2706h6M1229 2840h6M1217 2755h6M1264 2901h6M1313 2878h6M1205 2832h6M1213 2669h6M1283 2819h6M1247 2905h6M1278 2741h6M1296 2739h6M1274 2810h6M1253 2805h6M1284 2949h6M1257 2986h6M1221 2897h6M1214 2943h6M1253 2857h6M1234 2755h6M1225 2827h6M1261 2841h6M1255 2816h6M1259 2924h6M1234 2904h6M1285 2679h6M1236 2799h6M1229 2784h6M1252 2843h6M1253 2817h6M1326 2994h6M1245 2960h6M1265 2810h6M1278 2879h6M1237 2868h6M1276 2936h6M1253 2775h6M1255 2917h6M1265 2983h6M1248 2839h6M1252 2893h6M1228 3000h6M1250 3015h6M1295 2681h6M1264 2915h6M1256 2916h6M1235 2963h6M1264 2819h6M1220 3017h6M1285 2685h6M1218 2897h6M1291 2874h6M1265 2865h6M1301 2910h6M1225 3013h6M1284 2844h6M1274 2821h6M1290 2806h6M1252 2636h6M1215 2687h6M1283 2753h6M1248 2777h6M1286 2917h6M1297 2825h6M1270 2771h6M1228 2723h6M1281 2861h6M1254 2828h6M1290 2845h6M1213 2829h6M1209 2786h6M1211 2842h6M1270 2900h6M1233 2731h6M1260 2960h6M1282 2852h6M1231 2924h6M1265 2777h6M1229 2779h6M1287 3002h6M1248 2867h6M1298 2677h6M1244 2816h6M1266 2642h6M1268 2663h6M1280 2832h6M1244 2946h6M1257 2728h6M1280 2809h6M1264 3001h6M1219 2928h6M1208 2940h6M1314 2888h6M1258 2800h6M1212 3003h6M1277 2967h6M1279 2943h6M1231 2833h6M1247 2736h6M1266 2713h6M1252 3017h6M1253 2821h6M1277 2690h6M1265 2982h6M1272 2749h6M1278 2789h6M1277 2720h6M1251 2817h6M1222 2778h6M1294 2901h6M1277 2891h6M1286 2787h6M1270 2767h6M1275 2795h6M1253 2640h6M1299 2767h6M1208 2673h6M1239 2953h6M1267 2896h6M1237 2937h6M1254 2963h6M1234 2758h6M1232 2757h6M1233 2897h6M1243 2646h6M1243 2751h6M1210 2853h6M1258 2831h6M1293 2648h6M1271 2866h6M1229 2991h6M1223 2855h6M1270 2793h6M1237 2944h6M1285 2773h6M1289 2875h6M1224 2932h6M1252 2783h6M1265 2882h6M1235 2771h6M1272 2929h6M1302 2834h6M1260 2744h6M1308 2870h6M1268 2997h6M1275 2749h6M1248 2981h6M1265 2782h6M1250 2971h6M1225 2823h6M1286 2968h6M1229 2828h6M1266 2873h6M1250 2773h6M1249 2860h6M1266 2932h6M1273 2805h6M1279 2774h6M1284 2923h6M1243 2944h6M1245 2941h6M1230 2869h6M1291 2776h6M1205 2747h6M1269 2831h6M1215 2777h6M1244 2821h6M1244 2782h6M1290 2668h6M1241 2975h6M1260 2672h6M1243 2905h6M1221 2921h6M1257 2835h6M1323 2934h6M1259 2637h6M1215 2790h6M1257 2914h6M1230 2783h6M1269 2657h6M1253 2953h6M1246 2863h6M1259 2895h6M1267 2820h6M1246 2802h6M1271 2733h6M1259 2918h6" stroke="#e3242b" stroke-width="6" stroke-opacity="0.6"/>
<path transform="scale(.1)" d="M1242 2653h6M1245 2634h6M1238 2655h6M1230 2687h6M1265 2681h6M1237 2669h6M1346 2693h6M1283 2691h6M1305 2714h6M1244 2633h6M1272 2721h6M1293 2631h6M1283 2677h6M1249 2623h6M1200 2584h6M1229 2729h6M1268 2699h6M1271 2643h6M1316 2646h6M1290 2664h6M1240 2629h6M1283 2634h6M1305 2635h6M1284 2654h6M1258 2673h6M1251 2621h6M1240 2660h6M1268 2705h6M1273 2689h6M1293 2644h6M1299 2626h6M1199 2513h6M1255 2701h6M1308 2713h6M1234 2669h6M1308 2618h6M1237 2664h6M1289 2648h6M1275 2666h6M1276 2669h6M1230 2562h6M1245 2614h6M1190 2713h6M1236 2692h6M1234 2662h6M1271 2665h6M1254 2637h6M1259 2777h6M1307 2615h6M1255 2595h6M1318 2687h6M1254 2598h6M1227 2631h6M1245 2634h6M1253 2594h6M1267 2646h6M1282 2587h6M1286 2698h6M1272 2611h6M1232 2644h6M1271 2672h6M1262 2573h6M1250 2647h6M1242 2667h6M1298 2595h6M1277 2610h6M1229 2636h6M1324 2676h6M1253 2702h6M1263 2670h6M1225 2602h6M1209 2690h6M1212 2713h6M1213 2647h6M1267 2594h6M1191 2623h6M1314 2713h6M1215 2650h6M1252 2700h6M1272 2607h6M1337 2685h6M1232 2704h6M1289 2706h6M1221 2657h6M1237 2641h6M1253 2668h6M1226 2697h6M1246 2668h6M1257 2663h6M1286 2632h6M1290 2629h6M1274 2644h6M1237 2545h6M1232 2618h6M1243 2708h6M1226 2677h6M1350 2607h6M1275 2683h6M1262 2657h6M1284 2762h6M1237 2673h6M1267 2748h6M1314 2740h6M1281 2669h6M1263 2634h6M1235 2667h6M1288 2665h6M1208 2675h6M1355 2647h6M1225 2710h6M1227 2656h6M1271 2626h6M1230 2664h6M1222 2668h6M1278 2598h6M1286 2592h6M1269 2616h6M1220 2627h6M1266 2683h6M1282 2610h6M1257 2529h6M1289 2650h6M1256 2637h6M1196 2664h6M1266 2646h6M1296 2643h6M1243 2702h6M1253 2610h6M1186 2629h6M1246 2599h6M1276 2574h6M1257 2652h6M1294 2649h6M1251 2696h6M1308 2661h6M1231 2672h6M1222 2709h6M1269 2608h6M1324 2584h6M1296 2634h6M1244 2579h6M1195 2660h6M1227 2697h6M1259 2665h6M1326 2573h6M1265 2630h6M1284 2642h6M1242 2612h6M1253 2583h6M1282 2521h6M1278 2672h6M1263 2634h6M1292 2684h6M1288 2630h6M1275 2645h6M1244 2699h6M1215 2637h6M1216 2564h6M1302 2680h6M1270 2595h6M1260 2682h6M1194 2681h6M1274 2732h6M1229 2734h6M1263 2666h6M1290 2755h6M1295 2735h6M1263 2682h6M1291 2589h6M1269 2660h6M1281 2725h6M1284 2664h6M1265 2654h6M1215 2640h6M1231 2588h6M1295 2607h6M1226 2574h6M1300 2715h6M1274 2635h6M1278 2674h6M1264 2662h6M1204 2656h6M1246 2640h6M1257 2586h6M1269 2678h6M1187 2579h6M1310 2581h6M1285 2689h6M1324 2635h6M1235 2616h6M1235 2573h6M1222 2624h6M1244 2683h6M1285 2651h6M1199 2675h6M1250 2562h6M1242 2612h6M1260 2664h6M1315 2617h6M1265 2600h6M1240 2587h6M1257 2673h6M1248 2712h6M1257 2688h6M1250 2647h6M1318 2605h6M1283 2573h6M1252 2690h6M1334 2687h6M1267 2636h6M1249 2652h6M1263 2707h6M1231 2608h6M1297 2679h6M1246 2640h6M1279 2637h6M1237 2655h6M1285 2606h6M1246 2675h6M1200 2636h6M1291 2609h6M1281 2757h6M1283 2606h6M1338 2685h6M1296 2666h6M1235 2644h6M1253 2732h6M1303 2636h6M1270 2676h6M1304 2691h6M1222 2704h6M1221 2628h6M1210 2633h6M1286 2652h6M1297 2696h6M1254 2625h6M1305 2682h6M1296 2706h6M1251 2619h6M1268 2627h6M1238 2609h6M1257 2635h6M1275 2677h6M1303 2664h6M1268 2672h6M1266 2667h6M1242 2656h6M1217 2699h6M1267 2672h6M1214 2606h6M1240 2557h6M1295 2677h6M1261 2698h6M1199 2602h6M1296 2683h6M1256 2669h6M1264 2628h6M1242 2605h6M1259 2639h6M1290 2575h6M1259 2628h6M1235 2634h6M1311 2730h6M1188 2694h6M1205 2597h6M1227 2587h6M1298 2722h6M1200 2676h6M1273 2626h6M1246 2637h6M1247 2603h6M1253 2653h6M1264 2596h6M1283 2585h6M1235 2592h6M1195 2653h6M1231 2704h6M1249 2686h6M1229 2618h6M1275 2624h6M1227 2648h6M1297 2665h6M1276 2757h6M1285 2625h6M1265 2593h6M1248 2715h6M1276 2595h6M1235 2580h6M1336 2627h6M1218 2719h6M1262 2602h6M1228 2595h6M1252 2639h6M1273 2607h6M1240 2665h6M1302 2739h6M1299 2591h6M1248 2678h6M1229 2588h6M1204 2645h6M1235 2629h6M1217 2664h6M1232 2590h6M1221 2587h6M1276 2680h6M1234 2611h6M1328 2684h6M1308 2672h6M1263 2658h6M1312 2748h6M1273 2655h6M1293 2684h6M1257 2621h6M1237 2722h6M1248 2635h6M1249 2594h6M1278 2648h6M1276 2715h6M1254 2655h6M1237 2691h6M1276 2699h6M1315 2590h6M1315 2593h6M1226 2560h6M1314 2626h6M1281 2620h6M1318 2592h6M1260 2598h6M1251 2714h6M1270 2664h6M1287 2626h6M1218 2598h6M1244 2704h6M1261 2627h6M1263 2616h6M1290 2685h6M1234 2727h6M1219 2670h6M1250 2688h6M1290 2653h6M1270 2585h6M1210 2650h6M1271 2625h6M1282 2699h6M1202 2666h6M1325 2646h6M1260 2651h6M1278 2536h6M1276 2632h6M1282 2622h6M1258 2665h6M1294 2643h6M1273 2603h6M1258 2667h6M1326 2611h6M1265 2626h6M1281 2613h6M1289 2601h6M1318 2653h6M1253 2655h6M1270 2667h6M1297 2652h6M1240 2586h6M1244 2605h6M1293 2598h6M1244 2662h6M1311 2579h6M1257 2694h6M1207 2683h6M1188 2646h6M1229 2630h6M1273 2720h6M1233 2724h6M1318 2583h6M1263 2677h6M1312 2683h6M1248 2629h6M1286 2615h6M1270 2653h6M1233 2756h6M1267 2749h6M1298 2699h6M1240 2625h6M1264 2645h6M1220 2753h6M1342 2678h6M1267 2638h6M1226 2669h6M1260 2677h6M1294 2749h6M1260 2661h6M1253 2666h6M1227 2725h6M1279 2591h6M1262 2705h6M1284 2623h6M1283 2666h6M1241 2666h6M1222 2633h6M1219 2694h6M1296 2630h6M1267 2717h6M1208 2647h6M1280 2677h6M1245 2559h6M1237 2697h6M1240 2659h6M1255 2691h6M1238 2665h6M1269 2601h6M1272 2694h6M1274 2618h6M1240 2588h6M1222 2554h6M1272 2650h6M1259 2764h6M1262 2684h6M1216 2633h6M1239 2656h6M1223 2617h6M1236 2660h6M1217 2656h6M1277 2654h6M1300 2653h6M1267 2660h6M1291 2670h6M1262 2681h6M1234 2687h6M1220 2710h6M1240 2639h6M1252 2673h6M1196 2628h6M1282 2665h6M1221 2706h6M1324 2610h6M1246 2593h6M1239 2639h6M1332 2588h6M1323 2648h6M1248 2627h6M1281 2632h6M1253 2641h6M1262 2661h6M1250 2613h6M1282 2655h6M1261 2559h6M1258 2614h6M1225 2627h6M1228 2559h6M1218 2689h6M1253 2609h6M1258 2557h6M1308 2698h6M1255 2663h6M1237 2626h6M1250 2623h6M1277 2595h6M1277 2604h6M1264 2705h6M1318 2581h6M1281 2714h6M1260 2711h6M1232 2649h6M1336 2683h6M1292 2641h6M1253 2690h6M1263 2725h6M1234 2608h6M1275 2582h6M1281 2714h6M1322 2594h6M1247 2687h6M1246 2670h6M1205 2645h6M1281 2619h6M1276 2653h6M1250 2606h6M1254 2665h6M1252 2679h6M1277 2597h6M1262 2697h6M1281 2636h6M1215 2655h6M1268 2702h6M1258 2651h6M1272 2712h6M1293 2737h6M1244 2697h6M1269 2719h6M1245 2684h6M1284 2610h6M1261 2641h6M1245 2618h6M1214 2668h6M1264 2656h6M1257 2665h6M1239 2608h6M1274 2665h6M1278 2668h6M1220 2597h6M1237 2733h6M1281 2600h6M1294 2684h6M1246 2681h6M1267 2650h6M1271 2704h6M1284 2572h6M1241 2712h6M1335 2601h6M1300 2584h6M1303 2640h6M1300 2678h6M1235 2606h6M1220 2568h6M1264 2634h6M1278 2629h6M1283 2670h6M1247 2595h6M1197 2680h6M1260 2566h6M1234 2633h6M1314 2698h6M1254 2681h6M1210 2629h6M1247 2588h6M1302 2633h6M1305 2577h6M1292 2687h6M1225 2664h6M1270 2681h6M1247 2609h6M1227 2658h6M1241 2649h6M1180 2638h6M1201 2657h6M1306 2665h6M1251 2691h6M1192 2626h6M1297 2627h6M1198 2603h6M1278 2675h6M1267 2693h6M1265 2661h6M1296 2567h6M1354 2669h6M1338 2660h6M1306 2677h6M1277 2657h6M1256 2720h6M1292 2729h6M1213 2567h6M1280 2728h6M1224 2603h6M1232 2645h6M1298 2647h6M1272 2578h6M1198 2664h6M1273 2619h6M1270 2658h6M1284 2625h6M1262 2732h6M1234 2633h6M1243 2686h6M1231 2590h6M1236 2585h6M1271 2736h6M1284 2676h6M1277 2635h6M1209 2603h6M1292 2585h6M1320 2599h6M1247 2610h6M1220 2629h6M1254 2638h6M1275 2657h6M1306 2632h6M1230 2619h6M1257 2703h6M1267 2633h6M1268 2595h6M1247 2619h6M1226 2677h6M1232 2621h6M1223 2664h6M1224 2745h6M1227 2690h6M1279 2691h6M1267 2604h6M1335 2660h6M1225 2710h6M1260 2619h6M1284 2654h6M1282 2650h6M1297 2671h6M1249 2652h6M1298 2651h6M1238 2658h6M1281 2673h6M1217 2600h6M1252 2689h6M1269 2721h6M1315 2687h6M1268 2644h6M1233 2660h6M1224 2691h6M1205 2705h6M1255 2618h6M1266 2657h6M1264 2592h6M1263 2684h6M1181 2634h6M1229 2656h6M1295 2598h6M1278 2674h6M1191 2646h6M1261 2637h6M1278 2707h6M1286 2704h6M1292 2646h6M1241 2596h6M1197 2623h6M1272 2644h6M1259 2688h6M1292 2640h6M1257 2582h6M1298 2642h6M1254 2683h6M1261 2672h6M1242 2689h6M1223 2643h6M1268 2635h6M1291 2668h6M1269 2659h6M1277 2677h6M1229 2649h6M1252 2635h6M1264 2651h6M1218 2639h6M1295 2680h6M1198 2623h6M1273 2590h6M1266 2719h6M1276 2608h6M1273 2570h6M1257 2559h6M1243 2563h6" stroke="#e3242b" stroke-width="6" stroke-opacity="0.6"/>
<ellipse cx="126.1" cy="264.3" rx="3.4" ry="4.6" fill="#dd1a22" fill-opacity="0.85" filter="url(#b12)"/>
<path transform="scale(.1)" d="M1297 2582h5M1383 2606h5M1422 2633h5M1336 2614h5M1284 2595h5M1309 2565h5M1382 2576h5M1350 2586h5M1379 2608h5M1256 2605h5M1465 2616h5M1388 2612h5M1411 2579h5M1301 2582h5M1265 2566h5M1390 2575h5M1298 2633h5M1360 2581h5M1300 2589h5M1338 2627h5M1352 2569h5M1325 2555h5M1306 2645h5M1268 2581h5M1375 2602h5M1320 2573h5M1292 2616h5M1328 2605h5M1366 2552h5M1248 2608h5M1380 2595h5M1372 2550h5M1317 2580h5M1307 2609h5M1202 2580h5M1383 2584h5M1277 2604h5M1267 2620h5M1295 2635h5M1349 2558h5M1325 2591h5M1361 2553h5M1375 2566h5M1241 2588h5M1293 2596h5M1408 2590h5M1415 2655h5M1431 2601h5M1399 2634h5M1396 2595h5M1398 2625h5M1348 2569h5M1365 2608h5M1264 2561h5M1394 2588h5M1372 2586h5M1269 2575h5M1219 2610h5M1262 2658h5M1292 2600h5M1281 2550h5M1330 2573h5M1449 2587h5M1214 2595h5M1288 2580h5M1293 2566h5M1249 2601h5M1333 2592h5M1315 2642h5M1297 2580h5M1414 2604h5M1305 2570h5M1308 2586h5M1327 2639h5M1264 2598h5M1366 2615h5M1320 2572h5M1351 2615h5M1327 2583h5M1400 2587h5" stroke="#e3242b" stroke-width="5" stroke-opacity="0.4"/>
<text x="115.7" y="276" font-size="3" text-anchor="middle" fill="#666" stroke="none">Q1</text>
<text x="125.7" y="276" font-size="3" text-anchor="middle" fill="#666" stroke="none">Q2</text>
<text x="115.7" y="286" font-size="3" text-anchor="middle" fill="#666" stroke="none">Q4</text>
<text x="125.7" y="286" font-size="3" text-anchor="middle" fill="#666" stroke="none">Q3</text>
</g>
<rect x="101.4" y="248.3" width="52.6" height="53.7" fill="none" stroke="#888" stroke-width="0.6"/>
<line x1="121.2" y1="248.3" x2="121.2" y2="302" stroke="#555" stroke-width="0.6"/>
<line x1="101.4" y1="280.5" x2="154" y2="280.5" stroke="#555" stroke-width="0.6"/>
<rect x="121.8" y="267.6" width="14.4" height="6" fill="none" stroke="#333" stroke-width="0.55"/>
<text x="137.5" y="272.3" font-size="4.6" font-weight="bold" textLength="9" lengthAdjust="spacingAndGlyphs">7.98</text>
<text x="153" y="253.6" font-size="5.4" text-anchor="end" font-weight="bold" textLength="9.6" lengthAdjust="spacingAndGlyphs">34.5</text>
<text x="93.2" y="254.7" font-size="4.3" fill="#222">10<tspan font-size="2.67" dy="-1.94">5</tspan></text>
<text x="93.2" y="268.4" font-size="4.3" fill="#222">10<tspan font-size="2.67" dy="-1.94">4</tspan></text>
<text x="93.2" y="282.2" font-size="4.3" fill="#222">10<tspan font-size="2.67" dy="-1.94">3</tspan></text>
<text x="93.2" y="295.9" font-size="4.3" fill="#222">10<tspan font-size="2.67" dy="-1.94">2</tspan></text>
<text x="106" y="310.5" font-size="4.3" fill="#222">10<tspan font-size="2.67" dy="-1.94">2</tspan></text>
<text x="119.5" y="310.5" font-size="4.3" fill="#222">10<tspan font-size="2.67" dy="-1.94">3</tspan></text>
<text x="132.5" y="310.5" font-size="4.3" fill="#222">10<tspan font-size="2.67" dy="-1.94">4</tspan></text>
<text x="145.5" y="310.5" font-size="4.3" fill="#222">10<tspan font-size="2.67" dy="-1.94">5</tspan></text>
<text x="298.4" y="243.4" font-size="6.4" fill="#222" textLength="20.6" lengthAdjust="spacingAndGlyphs">control</text>
<g clip-path="url(#c14)">
<path transform="scale(.1)" d="M2907 2958h6M2979 2944h6M2943 2915h6M2847 2988h6M2866 2940h6M2953 2891h6M2835 2955h6M2860 2943h6M2871 2876h6M2904 3000h6M2833 2941h6M2850 2987h6M2858 2973h6M2939 2920h6M2936 2981h6M2831 2841h6M2960 2824h6M2951 2984h6M2843 2911h6M2892 2983h6M2837 2985h6M2827 2983h6M2898 2892h6M2917 2966h6M2912 2964h6M2860 2959h6M2904 2884h6M2865 2954h6M2938 2982h6M2915 2973h6M2914 2966h6M2863 2970h6M2918 2981h6M2850 2995h6M2850 2917h6M2916 2970h6M2879 2936h6M2971 2986h6M2867 2972h6M2912 2930h6M2929 3000h6M2917 2912h6M2848 2893h6M2830 2929h6M2886 2840h6M2894 2880h6M2905 2952h6M2855 2925h6M2909 2991h6M2936 2948h6M2926 2944h6M2858 2855h6M2958 2908h6M2965 2949h6M2857 2952h6M2886 2899h6M2910 2929h6M2891 2956h6M2887 2937h6M2888 2990h6M2915 2901h6M2837 2965h6M2985 2955h6M2852 2929h6M2904 2974h6M2872 2907h6M2989 2993h6M2891 2986h6M2867 2985h6M2911 2921h6M2843 2973h6M2892 2960h6M2845 2974h6M2919 2952h6M2826 2983h6M2900 2853h6M2835 2877h6M2844 2941h6M2943 2953h6M2834 2980h6M2851 2927h6M2849 2933h6M2843 2919h6M2867 3000h6M2827 2868h6M2851 2896h6M2875 2845h6M2887 2930h6M2857 2925h6M2899 3002h6M2837 2983h6M2900 2934h6M2835 2992h6M2888 2944h6M2906 2968h6M2875 2951h6M2900 2910h6M2967 2964h6M2844 2954h6M2840 2931h6M2911 2960h6M2882 2973h6M2950 2950h6M2929 2875h6M2881 2869h6M2917 2988h6M2914 2883h6M2895 2805h6M2968 2959h6M2841 2981h6M2846 2867h6M2848 2989h6M2916 2984h6M2877 3001h6M2863 2887h6M2877 2899h6M2843 2831h6M2923 2888h6M2883 2968h6M2835 2950h6M2849 2898h6M2920 2895h6M2940 2961h6M2831 2954h6M2865 2930h6M2864 2953h6M2946 2924h6M2942 2981h6M2837 2962h6M2866 2924h6M2874 2931h6M2929 2926h6M2861 2977h6M2850 2974h6M2838 2999h6M2873 2975h6M2828 2955h6M2870 2874h6M2854 2947h6M2983 2844h6M2892 2955h6M2930 2850h6M2849 2888h6M2998 2955h6M2883 2987h6M2915 2988h6M2913 2863h6M2909 2935h6M2955 2884h6" stroke="#e3242b" stroke-width="6" stroke-opacity="0.6"/>
<path transform="scale(.1)" d="M2835 2797h5M2862 2896h5M2904 2992h5M2900 2884h5M3036 2904h5M2855 2830h5M2871 2810h5M3006 2981h5M2989 2822h5M2974 2993h5M2837 2980h5M2863 2800h5M2996 2962h5M2846 2785h5M2956 2986h5M2902 2965h5M2910 2779h5M2936 2944h5M2997 2872h5M3037 2816h5M2999 2872h5M2967 2873h5M3005 2983h5M2857 2900h5M2927 2982h5M3033 2911h5M2909 2870h5M2854 2822h5M2967 2947h5M2880 2912h5M3022 2784h5M2887 2828h5M2976 2872h5M3007 2830h5M2849 2781h5M3032 3002h5M2924 2949h5M2943 2934h5M2913 2909h5M2836 2921h5M3022 2821h5M2866 2855h5M2927 2887h5M2911 2974h5M2932 2848h5M2939 2947h5M3036 2795h5M2864 2932h5M2913 2790h5M3009 2879h5M2986 2800h5M3001 2851h5M2929 2982h5M2918 2949h5M2899 2990h5M2902 2944h5M2851 2886h5M2993 2831h5M2896 2966h5M2909 2821h5M2883 2838h5M2977 2910h5M2894 2826h5M2928 2944h5M2892 2797h5M2996 2799h5M2896 2840h5M2950 2871h5M2938 2827h5M2838 2803h5M3030 2881h5M3008 2999h5M2985 2977h5M2867 2970h5M3007 2934h5M3031 2849h5M3010 2872h5M2962 2954h5M3000 2918h5M2887 2814h5M2988 2840h5M2900 2944h5M2905 2940h5M3001 2851h5M2852 2934h5M2840 2796h5M2969 2869h5M3011 2789h5M2951 2790h5M2956 3002h5" stroke="#e3242b" stroke-width="5" stroke-opacity="0.45"/>
<path transform="scale(.1)" d="M3081 2744h6M3077 2723h6M3101 2809h6M3083 2993h6M3066 2895h6M3068 2921h6M3105 2846h6M3093 2764h6M3069 2804h6M3085 2984h6M3092 2712h6M3078 2818h6M3070 2949h6M3099 2800h6M3095 2734h6M3070 2996h6M3111 2950h6M3124 2845h6M3076 2875h6M3083 2836h6M3113 2909h6M3088 2754h6M3079 2857h6M3089 2845h6M3110 2857h6M3077 2802h6M3092 2905h6M3097 2906h6M3069 2990h6M3101 2924h6M3063 2784h6M3107 2955h6M3067 2763h6M3097 2998h6M3138 2852h6M3093 2736h6M3032 2981h6M3091 2755h6M3111 2819h6M3068 2743h6M3099 2978h6M3083 2687h6M3108 2710h6M3111 2947h6M3079 2739h6M3064 2914h6M3045 2961h6M3093 2729h6M3072 2797h6M3144 2693h6M3057 2834h6M3092 2778h6M3104 2842h6M3066 2763h6M3077 2826h6M3092 2987h6M3076 2934h6M3103 2774h6M3089 2992h6M3028 2913h6M3077 2885h6M3113 2881h6M3098 2878h6M3052 2875h6M3072 2883h6M3036 2927h6M3089 2822h6M3073 2958h6M3091 2929h6M3094 2783h6M3091 2942h6M3071 2898h6M3086 2996h6M3083 2829h6M3064 2772h6M3093 2980h6M3040 2780h6M3090 2902h6M3063 2727h6M3077 2905h6M3095 2784h6M3093 2802h6M3075 2942h6M3082 2922h6M3096 2792h6M3067 2864h6M3093 2856h6M3055 2798h6M3098 2676h6M3049 2909h6M3095 2776h6M3081 2783h6M3080 2955h6M3121 2891h6M3078 2965h6M3092 2880h6M3103 2849h6M3068 2910h6M3075 2768h6M3099 2731h6M3103 2813h6M3091 2848h6M3066 2763h6M3053 2899h6M3089 2980h6M3122 2802h6M3090 2830h6M3069 2870h6M3072 2852h6M3134 2788h6M3080 2947h6M3084 2673h6M3100 2647h6M3047 3003h6M3103 2838h6M3109 2998h6M3095 2702h6M3058 2979h6M3083 2995h6M3061 2925h6M3038 2930h6M3094 2984h6M3035 2699h6M3066 2902h6M3126 2988h6M3049 2789h6M3120 2931h6M3050 2922h6M3100 2950h6M3086 2898h6M3110 2891h6M3112 2953h6M3103 2811h6M3103 2964h6M3071 2746h6M3097 2931h6M3065 2897h6M3095 2881h6M3087 2843h6M3096 2837h6M3073 2942h6M3135 2835h6M3104 2993h6M3057 2807h6M3065 2825h6M3111 2766h6M3065 2875h6M3105 2716h6M3034 2853h6M3061 2854h6M3064 2788h6M3068 2859h6M3107 2862h6M3096 2708h6M3125 2981h6M3126 2845h6M3065 2908h6M3056 2841h6M3078 2822h6M3044 2943h6M3048 2855h6M3101 2843h6M3082 2949h6M3086 2756h6M3077 2864h6M3111 2776h6M3084 2923h6M3074 2854h6M3106 2902h6M3103 2776h6M3046 2735h6M3072 2900h6M3072 2748h6M3071 2877h6M3071 2971h6M3098 2877h6M3092 2956h6M3097 2793h6M3073 2800h6M3104 2899h6M3040 2910h6M3042 2770h6M3116 2843h6M3099 2805h6M3079 2681h6M3056 2828h6M3031 2922h6M3100 2710h6M3058 2847h6M3081 2734h6M3078 2706h6M3040 2927h6M3092 2678h6M3082 2853h6M3122 2991h6M3119 2796h6M3110 2752h6M3057 2997h6M3068 2761h6M3083 2894h6M3061 2707h6M3033 2696h6M3071 2668h6M3101 2721h6M3068 2819h6M3058 2873h6M3043 2813h6M3102 2950h6M3046 2643h6M3133 2939h6M3029 2944h6M3088 2891h6M3121 2814h6M3097 2776h6M3121 2909h6M3114 2889h6M3046 2828h6M3079 2869h6M3059 2761h6M3065 2685h6M3087 2745h6M3116 2763h6M3033 2843h6M3111 2972h6M3060 2778h6M3071 2884h6M3107 2898h6M3050 2805h6M3067 2707h6M3085 2686h6M3075 2906h6M3083 2894h6M3095 2755h6M3029 2706h6M3032 2838h6M3120 2913h6M3140 2872h6M3069 2692h6M3100 2928h6M3084 2767h6M3099 2928h6M3070 2996h6M3093 2675h6M3071 2848h6M3100 2905h6M3101 2870h6M3063 2882h6M3073 2913h6M3079 2849h6M3038 2877h6M3068 2865h6M3067 2898h6M3078 2751h6M3096 2749h6M3142 2822h6M3101 2790h6M3078 2788h6M3118 2971h6M3095 2773h6M3085 2914h6M3060 2890h6M3036 2767h6M3069 2804h6M3128 2666h6M3087 2778h6M3054 2757h6M3044 2873h6M3092 2691h6M3087 2831h6M3062 2714h6M3096 2707h6M3101 2785h6M3085 2753h6M3069 2842h6M3070 2893h6M3048 2734h6M3120 2833h6M3090 2782h6M3089 2829h6M3071 2882h6M3097 2765h6M3075 2915h6M3084 2776h6M3087 2843h6M3076 2776h6M3091 2773h6M3051 2736h6M3078 2741h6M3048 2949h6M3042 2733h6M3107 2748h6M3069 2651h6M3100 2771h6M3095 2769h6M3046 2742h6M3115 2856h6M3075 2976h6M3037 2786h6M3105 2720h6M3090 2785h6M3116 2903h6M3087 2800h6M3065 2667h6M3075 2872h6M3135 2876h6M3121 2707h6M3063 2878h6M3062 2933h6M3104 2814h6M3069 2801h6M3070 2820h6M3097 2966h6M3120 2850h6M3078 2696h6M3048 2786h6M3102 2812h6M3069 2909h6M3036 2790h6M3042 2998h6M3069 2712h6M3084 2740h6M3067 2837h6M3065 2756h6M3122 2835h6M3094 2995h6M3065 2815h6M3093 2917h6M3052 2904h6M3075 2804h6M3110 2873h6M3093 2920h6M3130 2745h6M3073 2928h6M3074 2861h6M3048 2766h6M3143 2978h6M3058 2842h6M3058 2901h6M3074 2895h6M3068 2852h6M3059 2769h6M3061 2804h6M3093 2968h6M3059 2931h6M3081 2732h6M3077 2931h6M3082 2895h6M3108 2870h6M3091 2864h6M3057 2955h6M3066 2816h6M3141 2735h6M3109 2781h6M3043 2756h6M3065 2819h6M3072 2782h6M3075 2965h6" stroke="#e3242b" stroke-width="6" stroke-opacity="0.6"/>
<path transform="scale(.1)" d="M3103 2612h6M3076 2626h6M3115 2585h6M3095 2672h6M3062 2625h6M3087 2583h6M3049 2586h6M3091 2603h6M3062 2560h6M3053 2684h6M3089 2696h6M3137 2660h6M3025 2678h6M3092 2660h6M3094 2679h6M3098 2656h6M3094 2655h6M3079 2646h6M3066 2652h6M3101 2640h6M3072 2713h6M3141 2650h6M3050 2703h6M3020 2707h6M3122 2625h6M3071 2603h6M3082 2600h6M3025 2651h6M3052 2639h6M3064 2613h6M3082 2606h6M3091 2621h6M3118 2624h6M3098 2678h6M3071 2593h6M3100 2591h6M3088 2582h6M3059 2637h6M3052 2651h6M3094 2647h6M3081 2696h6M3100 2658h6M3054 2597h6M3051 2679h6M3078 2671h6M3024 2568h6M3078 2541h6M3062 2577h6M3076 2659h6M3027 2685h6M3084 2634h6M3037 2604h6M3061 2677h6M3069 2574h6M3011 2651h6M3062 2675h6M3091 2676h6M3115 2677h6M3085 2563h6M3099 2678h6M3094 2594h6M3091 2685h6M3090 2629h6M3140 2646h6M3110 2636h6M3033 2696h6M3093 2692h6M3078 2597h6M3128 2631h6M3087 2657h6M3107 2663h6M3125 2639h6M3114 2708h6M3066 2600h6M3072 2696h6M3087 2685h6M3075 2569h6M3043 2588h6M3006 2633h6M3114 2667h6M3090 2664h6M3063 2709h6M3104 2669h6M3117 2641h6M3014 2681h6M3059 2632h6M3062 2633h6M3037 2658h6M3121 2641h6M3033 2629h6M3067 2634h6M3086 2639h6M3074 2645h6M3031 2659h6M3109 2656h6M3080 2756h6M3088 2728h6M3047 2609h6M3022 2601h6M3040 2640h6M3082 2629h6M3075 2614h6M3041 2601h6M3059 2694h6M3099 2626h6M3095 2700h6M3048 2654h6M3056 2632h6M3072 2641h6M3051 2623h6M3116 2705h6M3087 2678h6M3063 2625h6M3083 2689h6M3083 2590h6M3109 2731h6M3089 2577h6M3083 2723h6M3066 2660h6M3065 2662h6M3061 2663h6M3079 2610h6M3063 2595h6M3042 2621h6M3086 2712h6M3063 2622h6M3077 2551h6M3099 2682h6M3041 2621h6M3138 2646h6M3057 2616h6M3134 2639h6M3046 2658h6M3140 2603h6M3009 2707h6M3076 2690h6M3105 2593h6M3018 2694h6M3053 2658h6M3036 2675h6M3046 2603h6M3114 2671h6M3070 2687h6M3028 2685h6M3127 2671h6M3065 2608h6M3079 2600h6M3082 2632h6M3068 2654h6M3040 2644h6M3079 2581h6M3130 2634h6M3068 2683h6M3103 2566h6M3143 2709h6M3057 2666h6M3094 2604h6M3082 2656h6M3131 2555h6M3062 2602h6M3124 2604h6M3038 2609h6M3079 2655h6M3089 2629h6M3071 2611h6M3048 2617h6M3035 2726h6M3075 2644h6M3061 2633h6M3133 2716h6M3058 2640h6M3143 2598h6M3078 2673h6M3052 2683h6M3023 2673h6M3130 2598h6M3094 2708h6M3059 2646h6M3072 2589h6M3074 2713h6M3071 2698h6M3084 2701h6M3059 2704h6M3072 2634h6M3021 2594h6M3049 2639h6M3138 2714h6M3115 2648h6M3092 2696h6M3024 2639h6M3105 2602h6M3134 2663h6M3088 2655h6M3060 2663h6M3060 2622h6M3072 2697h6M3038 2676h6M3113 2638h6M3061 2666h6M3052 2577h6M3128 2588h6M3053 2614h6M3069 2679h6M3057 2631h6M3085 2618h6M3093 2694h6M3092 2719h6M3098 2669h6M3110 2594h6M3067 2677h6M3115 2651h6M3075 2660h6M3043 2631h6M3023 2565h6M3066 2662h6M3088 2586h6M3045 2601h6M3088 2680h6M3093 2664h6M3134 2639h6M3070 2682h6M3025 2594h6M3076 2719h6M3041 2647h6M3048 2672h6M3090 2647h6M3053 2628h6M3013 2600h6M3094 2538h6M3128 2604h6M3091 2706h6M3043 2643h6M3115 2719h6M3059 2699h6M3067 2630h6M3110 2608h6M3027 2691h6M3086 2645h6M3084 2562h6M3096 2719h6M3075 2668h6M3084 2694h6M3099 2556h6M3105 2685h6M3004 2635h6M3109 2702h6M3053 2748h6M3095 2650h6M3094 2668h6M3108 2606h6M3100 2666h6M3185 2664h6M3070 2620h6M3084 2637h6M3026 2595h6M3068 2630h6M3132 2684h6M3079 2686h6M3067 2602h6M3014 2649h6M3095 2687h6M3076 2636h6M3061 2682h6M3035 2708h6M3037 2713h6M3075 2682h6M3066 2597h6M3123 2629h6M3115 2609h6M3043 2640h6M3124 2625h6M3160 2648h6M3134 2588h6M3065 2684h6M3123 2632h6M3160 2607h6M3088 2708h6M3113 2661h6M3119 2621h6M3112 2592h6M3043 2690h6M3111 2640h6M3040 2639h6M3055 2710h6M3165 2613h6M3092 2665h6M3099 2663h6M3111 2559h6M3060 2622h6M3064 2596h6M3058 2630h6M3095 2660h6M3038 2598h6M3018 2623h6M3055 2623h6M3104 2653h6M3108 2658h6M3092 2686h6M3114 2748h6M3076 2626h6M3013 2688h6M3140 2649h6M3066 2609h6M3077 2546h6M3105 2614h6M3095 2717h6M3015 2631h6M3042 2605h6M3111 2683h6M3098 2666h6M3063 2655h6M3107 2681h6M3064 2665h6M3054 2588h6M3146 2649h6M3077 2617h6M3081 2626h6M3104 2705h6M3058 2613h6M3075 2652h6M3062 2589h6M3089 2651h6M3075 2622h6M3078 2638h6M3046 2650h6M3070 2661h6M3069 2664h6M3021 2645h6M3019 2710h6M3074 2666h6M3066 2656h6M3085 2633h6M3021 2612h6M3086 2671h6M3062 2616h6M3073 2620h6M3093 2564h6M3032 2681h6M3082 2738h6M3039 2696h6M3085 2714h6M3132 2607h6M3051 2626h6M3166 2672h6M3035 2577h6M3094 2658h6M3061 2657h6M3016 2652h6M3091 2662h6M3053 2654h6M3062 2553h6M3038 2674h6M3046 2666h6M3127 2739h6M3069 2715h6M3093 2518h6M3123 2636h6M3074 2617h6M3049 2693h6M3069 2621h6M3098 2620h6M3088 2628h6M3090 2637h6M3014 2686h6M3106 2648h6M3059 2696h6M3043 2660h6M3096 2671h6M3069 2630h6M3145 2612h6M3011 2584h6M3077 2612h6M3104 2689h6M3010 2573h6M3065 2652h6M3029 2624h6M3007 2670h6M3125 2653h6M3090 2669h6M3121 2688h6M3102 2682h6M3029 2668h6M3052 2667h6M3081 2651h6M3100 2657h6M3068 2725h6M3084 2668h6M3070 2626h6M3052 2652h6M3080 2674h6M3064 2698h6M3113 2553h6M3025 2628h6M3081 2667h6M3091 2634h6M3136 2595h6M3060 2618h6M3081 2660h6M3077 2664h6M3076 2696h6M3056 2625h6M3096 2659h6M3092 2646h6M3028 2657h6M3050 2674h6M3089 2648h6M3060 2683h6M3075 2588h6M3112 2720h6M3110 2659h6M3048 2634h6M3104 2680h6M3081 2687h6M3143 2650h6M3101 2668h6M3101 2699h6M3057 2605h6M3062 2624h6M3053 2676h6M3109 2611h6M3073 2641h6M3035 2647h6M3109 2645h6M3096 2565h6M3094 2622h6M3079 2583h6M3049 2610h6M3039 2649h6M3067 2640h6M3116 2664h6M3089 2670h6M3083 2688h6M3095 2631h6M3067 2671h6M3049 2646h6M3076 2636h6M3072 2663h6M3113 2717h6M3093 2673h6M3110 2584h6M3032 2676h6M3091 2626h6M3103 2619h6M3036 2659h6M3090 2673h6M3174 2628h6M3106 2623h6M3073 2645h6M3132 2637h6M3017 2534h6M3122 2650h6M3116 2633h6M3035 2614h6M3117 2612h6M3096 2690h6M3015 2701h6M3087 2656h6M3078 2684h6M3062 2682h6M3084 2666h6M3059 2696h6M3101 2621h6M3079 2636h6M3092 2678h6M3014 2665h6M3114 2665h6M3074 2676h6M3044 2625h6M3053 2603h6M3088 2657h6M3091 2680h6M3062 2647h6M3035 2607h6M3026 2683h6M3088 2605h6M3061 2602h6M3005 2683h6M3089 2706h6M3073 2641h6M3055 2617h6M3059 2614h6M3063 2655h6M3057 2715h6M3064 2690h6M3138 2628h6M3122 2667h6M3040 2631h6M3088 2619h6M3074 2633h6M3062 2640h6M3061 2632h6M3098 2730h6M3054 2646h6M3064 2623h6M3089 2650h6M3125 2690h6M3057 2587h6M3087 2679h6M3099 2650h6M3074 2644h6M3068 2652h6M3094 2632h6M3031 2659h6M3052 2654h6M3062 2578h6M3068 2643h6M3103 2667h6M3087 2657h6M3119 2608h6M3135 2708h6M3085 2617h6M3128 2635h6M3085 2647h6M3087 2631h6M3095 2656h6M3067 2675h6M3095 2631h6M3067 2672h6M3027 2657h6M3084 2596h6M3062 2704h6M3103 2611h6M3069 2633h6M3055 2619h6M3074 2632h6M3133 2718h6M3086 2640h6M3028 2622h6M3055 2655h6M3140 2631h6M3130 2656h6M3090 2646h6M3069 2667h6M3046 2632h6M3038 2636h6M3051 2677h6M3047 2608h6M3073 2691h6M3078 2643h6M3099 2648h6M3104 2677h6M3079 2582h6M3088 2672h6M3117 2619h6M3047 2656h6M3076 2651h6M3058 2644h6M3075 2555h6M3114 2627h6M3014 2581h6M3074 2580h6M3062 2601h6M3061 2624h6M3138 2659h6M3122 2593h6M3066 2602h6M3095 2703h6M3078 2578h6M3069 2684h6M3128 2629h6M3073 2602h6M3015 2627h6M3120 2614h6M3092 2653h6M3058 2616h6M3016 2631h6M3092 2672h6M3080 2647h6M3019 2593h6M3051 2626h6M3024 2617h6M3064 2648h6M3075 2591h6M3042 2680h6M3040 2653h6M3125 2703h6M3025 2641h6M3058 2612h6M3104 2649h6M3120 2593h6M3073 2694h6M3061 2662h6M3117 2542h6M3069 2621h6M3034 2620h6M3066 2725h6M3039 2626h6M3110 2741h6M3026 2666h6M3049 2704h6M3101 2657h6M3115 2651h6M3073 2661h6M3018 2642h6M3112 2537h6M3011 2668h6M3096 2645h6M3097 2636h6M3122 2600h6M3130 2639h6M3047 2672h6M3060 2714h6M3059 2594h6M3002 2652h6M3154 2675h6M3074 2549h6M3026 2661h6M3056 2643h6M3074 2667h6M3052 2669h6M3115 2638h6M3096 2637h6M3055 2652h6M3064 2613h6M3068 2633h6M3107 2693h6M3014 2569h6M3047 2687h6M3030 2596h6M3004 2610h6M3063 2682h6M3141 2645h6M3090 2666h6M3080 2661h6M3014 2667h6M3104 2581h6M3039 2654h6M3090 2667h6M3130 2673h6M3159 2629h6M3042 2588h6M3103 2698h6" stroke="#e3242b" stroke-width="6" stroke-opacity="0.6"/>
<ellipse cx="307.6" cy="263.8" rx="3.6" ry="4" fill="#dd1a22" fill-opacity="0.85" filter="url(#b12)"/>
<path transform="scale(.1)" d="M3108 2589h5M3081 2637h5M3158 2618h5M3102 2597h5M3209 2598h5M3069 2565h5M3131 2606h5M3164 2619h5M3142 2551h5M3200 2602h5M3068 2586h5M3087 2661h5M3137 2591h5M3198 2551h5M3182 2586h5M3170 2547h5M3173 2545h5M3152 2602h5M3177 2617h5M3065 2643h5M3140 2594h5M3199 2645h5M3108 2591h5M3159 2632h5M3168 2657h5M3188 2573h5M3118 2586h5M3148 2571h5M3162 2619h5M3133 2622h5M3185 2603h5M3224 2634h5M3092 2599h5M3178 2558h5M3073 2587h5M3101 2585h5M3087 2611h5M3092 2548h5M3134 2593h5M3096 2601h5M3090 2643h5M3170 2605h5M3154 2593h5M3071 2600h5M3183 2564h5M3158 2557h5M3194 2592h5M3228 2617h5M3123 2598h5M3244 2631h5M3125 2561h5M3119 2565h5M3124 2679h5M3172 2636h5M3099 2605h5M3194 2538h5M3113 2542h5M3078 2565h5M3186 2620h5M3123 2560h5M3225 2590h5M3136 2645h5M3137 2551h5M3201 2575h5M3072 2620h5M3103 2572h5M3180 2626h5M3046 2601h5M3197 2631h5M3145 2566h5M3171 2545h5M3219 2576h5M3077 2600h5M3206 2608h5M3088 2636h5M3171 2590h5M3142 2623h5M3172 2592h5M3159 2597h5M3153 2589h5" stroke="#e3242b" stroke-width="5" stroke-opacity="0.4"/>
<text x="298.2" y="275.3" font-size="3" text-anchor="middle" fill="#666" stroke="none">Q1</text>
<text x="308.2" y="275.3" font-size="3" text-anchor="middle" fill="#666" stroke="none">Q2</text>
<text x="298.2" y="285.3" font-size="3" text-anchor="middle" fill="#666" stroke="none">Q4</text>
<text x="308.2" y="285.3" font-size="3" text-anchor="middle" fill="#666" stroke="none">Q3</text>
</g>
<rect x="282.3" y="247.5" width="54.8" height="52.9" fill="none" stroke="#888" stroke-width="0.6"/>
<line x1="303.7" y1="247.5" x2="303.7" y2="300.4" stroke="#555" stroke-width="0.6"/>
<line x1="282.3" y1="279.8" x2="337.1" y2="279.8" stroke="#555" stroke-width="0.6"/>
<rect x="303.7" y="265.1" width="15.8" height="7.4" fill="none" stroke="#333" stroke-width="0.55"/>
<text x="320.4" y="271.2" font-size="4.6" font-weight="bold" textLength="9.4" lengthAdjust="spacingAndGlyphs">4.28</text>
<text x="283.8" y="252.8" font-size="5.4" font-weight="bold" textLength="28.5" lengthAdjust="spacingAndGlyphs">Edu+ gated</text>
<text x="335.5" y="252.8" font-size="5.4" text-anchor="end" font-weight="bold" textLength="9.6" lengthAdjust="spacingAndGlyphs">20.1</text>
<text x="273.3" y="255.1" font-size="4.3" fill="#222">10<tspan font-size="2.67" dy="-1.94">5</tspan></text>
<text x="273.3" y="268.9" font-size="4.3" fill="#222">10<tspan font-size="2.67" dy="-1.94">4</tspan></text>
<text x="273.3" y="282.1" font-size="4.3" fill="#222">10<tspan font-size="2.67" dy="-1.94">3</tspan></text>
<text x="273.3" y="295.3" font-size="4.3" fill="#222">10<tspan font-size="2.67" dy="-1.94">2</tspan></text>
<text x="291.3" y="310" font-size="4.3" fill="#222">10<tspan font-size="2.67" dy="-1.94">2</tspan></text>
<text x="303" y="310" font-size="4.3" fill="#222">10<tspan font-size="2.67" dy="-1.94">3</tspan></text>
<text x="315.8" y="310" font-size="4.3" fill="#222">10<tspan font-size="2.67" dy="-1.94">4</tspan></text>
<text x="328.5" y="310" font-size="4.3" fill="#222">10<tspan font-size="2.67" dy="-1.94">5</tspan></text>
<text x="361.5" y="243.3" font-size="6.4" fill="#222" textLength="34.8" lengthAdjust="spacingAndGlyphs">Dmp1-Rheb</text>
<g clip-path="url(#c15)">
<path transform="scale(.1)" d="M3567 2992h6M3622 2907h6M3600 2994h6M3545 3013h6M3591 3023h6M3572 2996h6M3544 2952h6M3611 2936h6M3587 3012h6M3584 3003h6M3562 2980h6M3553 2949h6M3643 2949h6M3569 2864h6M3527 3011h6M3536 3026h6M3555 3019h6M3618 2894h6M3528 2953h6M3555 2986h6M3570 2956h6M3535 2960h6M3610 3022h6M3542 2966h6M3660 3017h6M3582 2839h6M3565 2931h6M3592 3028h6M3561 2948h6M3543 2867h6M3579 2936h6M3629 3005h6M3539 2929h6M3681 3002h6M3582 2974h6M3564 3008h6M3591 2977h6M3522 2975h6M3549 3028h6M3576 3008h6M3679 2986h6M3647 2990h6M3564 3009h6M3620 3018h6M3649 2916h6M3526 2885h6M3572 2912h6M3706 2991h6M3536 2986h6M3568 3017h6M3540 2965h6M3587 3023h6M3525 3006h6M3568 3012h6M3688 2975h6M3595 2896h6M3590 2888h6M3533 2999h6M3554 2961h6M3524 2903h6M3590 2900h6M3647 2951h6M3573 2986h6M3531 2941h6M3548 3025h6M3586 2939h6M3577 2872h6M3641 3004h6M3617 2958h6M3547 3010h6M3562 2905h6M3568 2949h6M3681 2943h6M3713 2975h6M3574 2860h6M3646 2893h6M3594 2979h6M3541 2976h6M3606 2992h6M3549 2935h6M3550 3014h6M3527 2924h6M3663 2993h6M3554 3013h6M3560 3006h6M3601 3023h6M3571 3016h6M3615 2934h6M3555 2938h6M3539 3027h6M3628 3004h6M3572 2995h6M3564 3018h6M3580 2994h6M3559 3023h6M3607 2969h6M3561 2981h6M3581 2973h6M3565 3003h6M3526 2937h6M3655 3022h6M3648 2883h6M3586 2955h6M3616 3011h6M3587 2929h6M3594 3008h6M3546 2932h6M3565 2985h6M3642 3020h6M3547 3012h6M3523 3020h6M3537 3026h6M3549 2933h6M3638 2987h6M3573 2901h6M3622 3020h6M3648 3023h6M3541 2944h6M3537 2969h6M3631 2993h6M3530 3020h6M3538 2934h6M3584 2959h6M3562 2933h6M3564 3023h6M3534 2971h6M3566 2960h6M3572 2971h6M3634 2822h6M3607 2950h6M3548 2952h6M3575 2879h6M3605 2992h6M3551 2937h6M3533 2919h6M3588 3013h6M3568 3026h6M3604 3022h6M3545 3014h6M3604 2986h6M3605 2994h6M3563 2941h6M3671 2939h6M3672 2857h6M3529 2909h6" stroke="#e3242b" stroke-width="6" stroke-opacity="0.6"/>
<path transform="scale(.1)" d="M3588 2809h5M3649 2993h5M3536 2792h5M3554 2928h5M3558 2884h5M3662 2997h5M3545 2904h5M3603 2970h5M3572 2898h5M3534 2880h5M3717 2995h5M3532 2989h5M3718 2790h5M3684 2889h5M3595 2870h5M3640 2861h5M3705 2845h5M3561 2894h5M3623 2837h5M3630 2908h5M3666 2947h5M3588 2849h5M3540 2921h5M3623 2855h5M3654 2950h5M3645 2980h5M3556 2827h5M3627 2912h5M3621 2888h5M3693 2948h5M3552 2890h5M3668 2926h5M3673 2806h5M3703 2908h5M3633 2984h5M3665 2918h5M3549 2927h5M3595 2924h5M3577 2829h5M3565 2999h5M3613 3004h5M3663 2881h5M3701 3003h5M3688 2945h5M3642 2788h5M3565 2821h5M3713 2840h5M3610 2808h5M3589 2792h5M3561 2909h5M3702 2795h5M3572 2885h5M3570 2988h5M3566 2895h5M3633 2932h5M3615 2832h5M3576 2907h5M3686 2853h5M3642 2834h5M3622 2951h5M3557 2787h5M3619 3003h5M3531 2916h5M3660 2937h5M3569 2953h5M3549 2826h5M3656 2787h5M3544 2861h5M3625 2874h5M3639 2889h5M3647 2997h5M3642 2860h5M3584 2791h5M3649 2831h5M3564 2786h5M3718 2885h5M3715 2870h5M3712 2866h5M3549 2880h5M3536 3014h5M3658 2992h5M3684 2904h5M3610 2961h5M3658 2855h5M3658 2912h5M3570 2964h5M3606 2903h5M3592 2907h5M3671 2985h5M3626 2855h5" stroke="#e3242b" stroke-width="5" stroke-opacity="0.45"/>
<path transform="scale(.1)" d="M3759 2942h6M3759 2758h6M3764 2820h6M3751 2927h6M3767 2697h6M3773 2847h6M3790 2940h6M3758 2910h6M3800 3018h6M3774 2847h6M3743 2891h6M3780 2864h6M3710 2795h6M3747 2853h6M3757 2829h6M3756 2933h6M3739 2863h6M3741 2919h6M3771 2862h6M3785 2910h6M3793 2678h6M3763 2756h6M3798 2900h6M3755 2951h6M3759 2860h6M3755 2974h6M3764 2999h6M3742 2856h6M3739 2947h6M3759 2722h6M3783 2949h6M3762 2764h6M3739 2643h6M3762 2683h6M3720 2875h6M3774 2941h6M3772 2920h6M3765 3023h6M3754 2766h6M3802 2924h6M3761 2862h6M3749 2748h6M3717 2638h6M3775 2792h6M3744 2780h6M3778 3012h6M3762 2732h6M3748 2813h6M3780 2858h6M3782 2688h6M3773 2809h6M3771 2961h6M3771 2970h6M3723 2880h6M3770 2892h6M3762 2831h6M3772 2701h6M3749 2816h6M3772 2839h6M3745 2950h6M3770 2858h6M3775 2865h6M3795 2828h6M3738 2893h6M3776 2942h6M3778 2833h6M3803 2775h6M3746 2927h6M3746 2986h6M3741 2869h6M3768 2791h6M3718 2878h6M3770 2844h6M3751 2695h6M3746 2635h6M3807 2806h6M3794 2830h6M3801 2777h6M3745 2753h6M3766 2742h6M3727 3021h6M3797 2769h6M3814 2937h6M3792 2877h6M3802 2804h6M3767 2853h6M3780 2928h6M3730 2865h6M3746 2816h6M3793 2841h6M3749 2863h6M3760 2857h6M3786 2852h6M3754 2825h6M3738 3016h6M3780 2632h6M3761 2995h6M3723 2805h6M3809 2896h6M3784 2736h6M3804 2915h6M3799 2737h6M3750 2741h6M3774 2739h6M3766 3027h6M3785 2777h6M3777 2738h6M3785 2714h6M3783 2967h6M3731 2963h6M3801 2934h6M3783 2782h6M3814 2870h6M3791 2934h6M3767 2729h6M3783 2878h6M3776 2809h6M3753 3017h6M3756 2818h6M3717 2833h6M3751 2971h6M3801 2989h6M3728 2899h6M3804 2834h6M3762 2856h6M3730 2816h6M3762 2888h6M3769 2866h6M3800 2953h6M3747 2959h6M3787 2851h6M3723 2685h6M3800 2733h6M3785 2843h6M3756 2902h6M3801 2955h6M3800 2743h6M3752 3005h6M3767 2828h6M3729 2811h6M3754 2925h6M3764 2657h6M3717 2989h6M3731 2683h6M3733 2790h6M3774 2853h6M3749 2803h6M3745 2825h6M3748 2867h6M3739 2807h6M3771 2745h6M3753 2915h6M3759 2816h6M3759 2865h6M3725 2995h6M3760 2809h6M3767 2845h6M3731 2890h6M3777 2721h6M3782 2862h6M3779 2908h6M3763 2674h6M3784 2653h6M3764 2810h6M3817 2752h6M3750 2940h6M3720 2832h6M3759 2803h6M3787 2808h6M3741 2801h6M3760 2855h6M3793 2936h6M3721 2749h6M3739 2801h6M3729 2907h6M3764 2943h6M3760 3026h6M3734 2924h6M3778 2830h6M3772 2802h6M3727 2814h6M3804 2673h6M3780 2697h6M3779 2748h6M3767 2852h6M3763 2891h6M3759 2802h6M3795 2792h6M3760 2908h6M3742 2795h6M3765 2846h6M3758 2787h6M3769 2913h6M3726 2746h6M3760 2863h6M3782 2894h6M3749 2723h6M3771 2757h6M3736 2936h6M3745 2790h6M3828 3006h6M3811 2827h6M3765 2953h6M3765 2877h6M3751 2736h6M3794 2908h6M3766 2772h6M3819 2797h6M3711 2897h6M3747 2839h6M3763 2806h6M3727 2900h6M3769 2742h6M3781 2916h6M3737 2841h6M3784 2840h6M3793 2864h6M3770 2888h6M3777 2917h6M3734 2893h6M3708 2876h6M3802 2765h6M3779 2738h6M3788 2822h6M3747 2888h6M3790 2668h6M3756 2871h6M3770 2749h6M3761 2762h6M3786 2887h6M3803 2763h6M3743 2873h6M3793 2876h6M3756 2644h6M3753 2876h6M3792 2678h6M3777 2888h6M3819 2984h6M3723 2780h6M3758 2765h6M3750 2679h6M3751 2742h6M3756 2784h6M3767 2850h6M3763 2820h6M3728 2819h6M3795 2840h6M3764 2900h6M3764 2772h6M3755 2730h6M3736 2841h6M3750 2713h6M3767 2914h6M3759 2776h6M3810 2859h6M3749 2956h6M3801 2691h6M3734 2809h6M3779 2705h6M3796 2872h6M3807 2857h6M3776 2945h6M3752 2707h6M3755 2657h6M3729 2833h6M3773 2949h6M3798 2760h6M3726 3014h6M3766 2856h6M3725 2713h6M3781 2760h6M3794 2723h6M3797 2689h6M3723 2809h6M3745 2752h6M3777 2934h6M3731 2943h6M3798 2993h6M3759 2790h6M3762 2882h6M3740 2664h6M3768 2878h6M3765 2691h6M3719 2796h6M3773 2956h6M3749 2664h6M3733 2776h6M3779 2633h6M3747 2752h6M3760 2803h6M3737 2943h6M3794 2951h6M3776 2938h6M3775 2860h6M3720 2865h6M3776 2781h6M3786 2849h6M3734 2969h6M3741 2892h6M3735 2696h6M3775 2768h6M3752 2802h6M3755 2870h6M3768 2749h6M3740 2937h6M3758 2852h6M3769 2952h6M3760 2899h6M3748 2791h6M3779 2948h6M3744 2697h6M3792 2903h6M3722 2771h6M3784 3009h6M3806 2796h6M3766 2915h6M3788 2805h6M3763 2663h6M3794 2747h6M3780 2888h6M3774 2821h6M3783 2933h6M3740 2848h6M3771 2743h6M3774 2990h6M3798 2822h6M3785 2848h6M3768 2792h6M3743 2946h6M3799 2880h6M3740 2668h6M3783 2935h6M3799 2823h6M3751 2785h6M3744 2806h6M3758 2943h6M3746 2967h6M3779 2886h6M3791 2751h6M3764 2777h6M3758 2739h6M3788 2767h6M3788 2954h6M3768 2911h6M3789 2776h6M3735 2904h6M3746 2716h6M3741 2963h6M3815 2865h6M3765 2903h6M3787 2866h6M3753 2953h6M3754 2772h6M3746 2784h6M3760 2848h6M3781 2800h6M3765 2809h6M3767 2999h6M3755 2663h6M3789 2913h6M3738 2899h6M3761 2823h6M3793 2727h6M3752 2885h6M3743 2768h6M3760 2774h6M3759 2983h6M3732 2779h6M3748 2816h6M3725 2772h6M3830 2881h6M3774 2840h6M3770 2792h6M3769 2862h6M3783 2930h6M3776 2846h6M3775 2853h6M3739 2876h6M3729 2869h6M3782 2825h6M3758 2976h6" stroke="#e3242b" stroke-width="6" stroke-opacity="0.6"/>
<path transform="scale(.1)" d="M3732 2706h6M3811 2674h6M3751 2674h6M3755 2576h6M3733 2693h6M3759 2627h6M3810 2669h6M3789 2662h6M3721 2644h6M3712 2690h6M3735 2733h6M3719 2601h6M3796 2570h6M3756 2652h6M3851 2657h6M3775 2640h6M3755 2614h6M3776 2628h6M3751 2573h6M3782 2645h6M3752 2648h6M3807 2538h6M3791 2626h6M3747 2664h6M3787 2589h6M3803 2615h6M3810 2637h6M3863 2594h6M3768 2704h6M3736 2659h6M3711 2628h6M3706 2654h6M3746 2524h6M3778 2686h6M3783 2671h6M3742 2624h6M3760 2647h6M3786 2717h6M3799 2629h6M3766 2591h6M3823 2621h6M3747 2654h6M3735 2631h6M3802 2687h6M3820 2701h6M3804 2570h6M3754 2609h6M3754 2654h6M3778 2664h6M3797 2671h6M3806 2588h6M3724 2648h6M3781 2577h6M3690 2676h6M3747 2666h6M3787 2658h6M3730 2675h6M3745 2673h6M3708 2659h6M3756 2626h6M3780 2654h6M3762 2654h6M3728 2653h6M3722 2594h6M3760 2651h6M3730 2597h6M3718 2619h6M3734 2705h6M3714 2630h6M3793 2649h6M3757 2698h6M3798 2688h6M3742 2669h6M3781 2614h6M3789 2651h6M3740 2647h6M3768 2644h6M3754 2567h6M3750 2637h6M3691 2664h6M3753 2666h6M3768 2628h6M3694 2624h6M3714 2607h6M3737 2618h6M3773 2661h6M3761 2596h6M3737 2656h6M3816 2612h6M3733 2612h6M3752 2665h6M3733 2617h6M3739 2701h6M3757 2684h6M3795 2637h6M3768 2630h6M3747 2585h6M3730 2616h6M3781 2622h6M3724 2653h6M3736 2623h6M3725 2671h6M3742 2650h6M3720 2616h6M3829 2562h6M3814 2689h6M3789 2627h6M3743 2690h6M3742 2588h6M3735 2649h6M3753 2631h6M3760 2718h6M3771 2658h6M3723 2620h6M3794 2659h6M3778 2631h6M3709 2629h6M3745 2709h6M3722 2614h6M3821 2629h6M3739 2674h6M3735 2637h6M3747 2665h6M3747 2649h6M3721 2622h6M3760 2611h6M3778 2637h6M3685 2710h6M3743 2674h6M3778 2642h6M3773 2659h6M3728 2672h6M3722 2687h6M3736 2654h6M3753 2665h6M3746 2625h6M3748 2651h6M3798 2598h6M3741 2649h6M3759 2621h6M3749 2634h6M3727 2595h6M3721 2581h6M3753 2674h6M3798 2613h6M3770 2597h6M3754 2626h6M3813 2620h6M3736 2598h6M3720 2670h6M3806 2610h6M3714 2610h6M3705 2628h6M3804 2598h6M3754 2651h6M3706 2629h6M3711 2655h6M3762 2631h6M3759 2610h6M3776 2648h6M3773 2638h6M3780 2618h6M3742 2663h6M3717 2570h6M3777 2678h6M3777 2724h6M3759 2567h6M3738 2554h6M3747 2644h6M3807 2709h6M3762 2693h6M3783 2616h6M3736 2571h6M3746 2627h6M3727 2636h6M3735 2714h6M3706 2678h6M3735 2623h6M3768 2554h6M3737 2663h6M3706 2578h6M3702 2621h6M3732 2649h6M3799 2571h6M3728 2603h6M3808 2621h6M3721 2567h6M3765 2583h6M3726 2664h6M3758 2642h6M3770 2603h6M3714 2617h6M3721 2671h6M3772 2636h6M3765 2620h6M3746 2672h6M3702 2647h6M3794 2601h6M3752 2638h6M3746 2669h6M3766 2640h6M3745 2592h6M3777 2628h6M3732 2625h6M3817 2609h6M3787 2594h6M3721 2700h6M3718 2640h6M3809 2565h6M3748 2644h6M3735 2663h6M3765 2628h6M3771 2626h6M3695 2653h6M3814 2670h6M3764 2582h6M3731 2666h6M3764 2685h6M3743 2570h6M3705 2650h6M3780 2632h6M3768 2647h6M3783 2603h6M3725 2604h6M3758 2642h6M3707 2642h6M3774 2608h6M3765 2595h6M3763 2592h6M3760 2579h6M3701 2670h6M3756 2608h6M3789 2552h6M3781 2651h6M3740 2643h6M3795 2661h6M3758 2652h6M3798 2606h6M3779 2583h6M3807 2662h6M3736 2660h6M3741 2649h6M3720 2666h6M3767 2643h6M3771 2621h6M3764 2658h6M3732 2615h6M3817 2615h6M3761 2600h6M3710 2686h6M3793 2594h6M3833 2659h6M3759 2627h6M3758 2633h6M3792 2650h6M3797 2626h6M3811 2648h6M3743 2599h6M3732 2656h6M3786 2613h6M3735 2715h6M3760 2670h6M3755 2597h6M3741 2576h6M3736 2605h6M3735 2600h6M3703 2641h6M3769 2643h6M3801 2684h6M3751 2653h6M3770 2676h6M3740 2713h6M3760 2690h6M3729 2627h6M3718 2639h6M3742 2615h6M3784 2621h6M3767 2597h6M3708 2722h6M3779 2657h6M3726 2657h6M3759 2641h6M3796 2702h6M3782 2607h6M3733 2646h6M3717 2616h6M3727 2660h6M3795 2648h6M3791 2631h6M3762 2656h6M3742 2663h6M3738 2595h6M3770 2673h6M3809 2571h6M3777 2700h6M3781 2626h6M3694 2668h6M3700 2677h6M3718 2634h6M3702 2641h6M3806 2648h6M3757 2632h6M3732 2676h6M3703 2602h6M3752 2580h6M3697 2631h6M3699 2704h6M3786 2698h6M3805 2678h6M3728 2667h6M3780 2651h6M3735 2538h6M3777 2633h6M3785 2580h6M3723 2584h6M3755 2662h6M3754 2701h6M3797 2665h6M3796 2616h6M3766 2696h6M3735 2678h6M3817 2677h6M3842 2625h6M3759 2608h6M3801 2652h6M3761 2698h6M3735 2656h6M3797 2569h6M3777 2674h6M3710 2703h6M3773 2622h6M3761 2626h6M3786 2694h6M3768 2620h6M3744 2643h6M3762 2618h6M3809 2558h6M3776 2705h6M3738 2718h6M3746 2671h6M3774 2603h6M3772 2648h6M3797 2662h6M3751 2674h6M3835 2672h6M3756 2650h6M3764 2623h6M3707 2614h6M3816 2692h6M3778 2661h6M3821 2698h6M3755 2647h6M3785 2619h6M3775 2661h6M3771 2656h6M3774 2652h6M3766 2648h6M3754 2655h6M3747 2642h6M3755 2654h6M3765 2610h6M3803 2588h6M3753 2650h6M3757 2676h6M3773 2700h6M3705 2657h6M3786 2651h6M3702 2679h6M3784 2592h6M3780 2573h6M3781 2644h6M3756 2639h6M3738 2618h6M3781 2569h6M3780 2647h6M3804 2663h6M3831 2715h6M3751 2672h6M3736 2663h6M3773 2631h6M3798 2624h6M3772 2679h6M3750 2615h6M3758 2613h6M3808 2660h6M3788 2630h6M3728 2662h6M3736 2650h6M3730 2597h6M3785 2634h6M3747 2682h6M3685 2683h6M3758 2587h6M3713 2614h6M3769 2579h6M3785 2636h6M3765 2618h6M3747 2664h6M3779 2602h6M3728 2620h6M3814 2620h6M3801 2638h6M3817 2676h6M3771 2640h6M3789 2692h6M3742 2658h6M3714 2596h6M3741 2698h6M3772 2628h6M3821 2604h6M3740 2628h6M3751 2643h6M3745 2665h6M3755 2639h6M3736 2615h6M3778 2633h6M3760 2621h6M3702 2623h6M3792 2599h6M3712 2602h6M3765 2634h6M3753 2567h6M3761 2628h6M3759 2661h6M3782 2641h6M3720 2664h6M3773 2643h6M3794 2593h6M3758 2671h6M3737 2643h6M3754 2655h6M3730 2712h6M3711 2643h6M3735 2678h6M3708 2595h6M3770 2589h6M3731 2617h6M3768 2661h6M3695 2643h6M3812 2691h6M3775 2587h6M3789 2611h6M3764 2658h6M3753 2673h6M3762 2629h6M3737 2626h6M3733 2594h6M3792 2696h6M3761 2591h6M3738 2637h6M3722 2635h6M3768 2588h6M3703 2669h6M3768 2669h6M3740 2621h6M3819 2670h6M3794 2677h6M3735 2648h6M3684 2690h6M3686 2658h6M3744 2680h6M3780 2643h6M3756 2648h6M3770 2649h6M3786 2690h6M3731 2697h6M3720 2670h6M3730 2717h6M3770 2675h6M3828 2688h6M3815 2591h6M3739 2651h6M3748 2624h6M3745 2602h6M3811 2689h6M3763 2692h6M3726 2771h6M3747 2695h6M3742 2662h6M3796 2695h6M3739 2637h6M3752 2711h6M3754 2610h6M3702 2547h6M3703 2664h6M3720 2621h6M3734 2595h6M3730 2659h6M3745 2669h6M3763 2581h6M3746 2677h6M3815 2587h6M3775 2687h6M3838 2632h6M3792 2602h6M3797 2673h6M3708 2616h6M3750 2655h6M3764 2655h6M3775 2598h6M3715 2656h6M3721 2621h6M3755 2708h6M3765 2701h6M3787 2605h6M3818 2625h6M3800 2657h6M3742 2574h6M3777 2637h6M3840 2620h6M3761 2621h6M3737 2694h6M3802 2596h6M3741 2628h6M3730 2679h6M3761 2625h6M3766 2657h6M3751 2635h6M3779 2667h6M3736 2667h6M3699 2633h6M3796 2728h6M3784 2660h6M3844 2704h6M3768 2640h6M3688 2676h6M3734 2656h6M3714 2612h6M3793 2669h6M3860 2679h6M3823 2661h6M3757 2634h6M3763 2671h6M3839 2648h6M3727 2647h6M3702 2661h6M3775 2667h6M3734 2639h6M3775 2664h6M3724 2639h6M3695 2595h6M3735 2640h6M3786 2633h6M3747 2646h6M3752 2624h6M3798 2651h6M3788 2581h6M3728 2623h6M3733 2641h6M3753 2663h6M3814 2619h6M3765 2663h6M3806 2597h6M3765 2634h6M3780 2695h6M3735 2628h6M3774 2665h6M3698 2759h6M3747 2625h6M3762 2665h6M3759 2687h6M3762 2639h6M3743 2656h6M3813 2649h6M3798 2643h6M3812 2633h6M3685 2615h6M3752 2638h6M3779 2627h6M3722 2662h6M3749 2700h6M3767 2662h6M3753 2620h6M3791 2636h6M3722 2663h6M3755 2630h6M3785 2588h6M3777 2648h6M3760 2642h6M3737 2614h6M3766 2644h6M3793 2613h6M3790 2713h6M3712 2696h6M3773 2637h6M3759 2681h6M3704 2680h6M3773 2681h6M3688 2539h6M3777 2586h6M3773 2632h6M3716 2574h6M3791 2640h6M3714 2661h6M3716 2660h6M3717 2640h6M3785 2603h6M3773 2596h6M3787 2609h6M3758 2599h6M3791 2769h6M3742 2628h6M3745 2601h6M3713 2677h6M3703 2699h6M3730 2610h6M3738 2601h6M3755 2623h6M3709 2641h6M3742 2691h6M3798 2581h6M3761 2654h6M3739 2615h6M3762 2638h6M3714 2638h6M3753 2661h6M3745 2580h6M3751 2654h6M3717 2640h6M3771 2614h6M3711 2661h6M3827 2714h6M3739 2611h6M3716 2646h6M3746 2623h6M3788 2632h6M3822 2632h6M3752 2612h6M3807 2648h6M3796 2611h6M3758 2669h6M3702 2656h6M3778 2593h6M3777 2608h6M3741 2620h6M3789 2612h6M3745 2651h6M3737 2673h6M3735 2629h6M3759 2648h6M3765 2706h6" stroke="#e3242b" stroke-width="6" stroke-opacity="0.6"/>
<ellipse cx="375.8" cy="263.3" rx="3.4" ry="4" fill="#dd1a22" fill-opacity="0.85" filter="url(#b12)"/>
<path transform="scale(.1)" d="M3788 2613h5M3953 2600h5M3841 2581h5M3840 2607h5M3864 2565h5M3877 2586h5M3762 2531h5M3865 2583h5M3860 2545h5M3889 2573h5M3753 2558h5M3883 2635h5M3840 2569h5M3903 2623h5M3709 2588h5M3858 2581h5M3927 2568h5M3875 2578h5M3839 2599h5M3874 2561h5M3892 2601h5M3916 2545h5M3797 2600h5M3824 2525h5M3758 2524h5M3822 2596h5M3663 2586h5M3873 2566h5M3799 2618h5M3713 2595h5M3873 2586h5M3866 2628h5M3816 2605h5M3841 2590h5M3877 2644h5M3799 2621h5M3769 2609h5M3891 2566h5M3735 2590h5M3790 2622h5M3915 2612h5M3864 2558h5M3807 2599h5M3782 2617h5M3777 2594h5M3819 2596h5M3723 2592h5M3794 2546h5M3808 2551h5M3862 2518h5M3862 2631h5M3815 2581h5M3816 2597h5M3837 2558h5M3854 2585h5M3785 2593h5M3850 2571h5M3893 2555h5M3762 2647h5M3724 2515h5M3851 2575h5M3825 2534h5M3761 2538h5M3797 2563h5M3866 2581h5M3866 2583h5M3736 2595h5M3732 2602h5M3875 2559h5M3900 2605h5M3825 2586h5M3816 2623h5M3830 2620h5M3876 2567h5M3848 2582h5M3918 2570h5M3822 2585h5M3758 2572h5M3835 2529h5M3877 2552h5" stroke="#e3242b" stroke-width="5" stroke-opacity="0.4"/>
<text x="366.3" y="276" font-size="3" text-anchor="middle" fill="#666" stroke="none">Q1</text>
<text x="376.3" y="276" font-size="3" text-anchor="middle" fill="#666" stroke="none">Q2</text>
<text x="366.3" y="286" font-size="3" text-anchor="middle" fill="#666" stroke="none">Q4</text>
<text x="376.3" y="286" font-size="3" text-anchor="middle" fill="#666" stroke="none">Q3</text>
</g>
<rect x="351.8" y="247.8" width="52.6" height="55" fill="none" stroke="#888" stroke-width="0.6"/>
<line x1="371.8" y1="247.8" x2="371.8" y2="302.8" stroke="#555" stroke-width="0.6"/>
<line x1="351.8" y1="280.5" x2="404.4" y2="280.5" stroke="#555" stroke-width="0.6"/>
<rect x="371.8" y="265.4" width="15.4" height="7.1" fill="none" stroke="#333" stroke-width="0.55"/>
<text x="388.3" y="271.2" font-size="4.6" font-weight="bold" textLength="9.2" lengthAdjust="spacingAndGlyphs">2.20</text>
<text x="402.5" y="253.1" font-size="5.4" text-anchor="end" font-weight="bold" textLength="9.6" lengthAdjust="spacingAndGlyphs">11.4</text>
<text x="342.8" y="252.9" font-size="4.3" fill="#222">10<tspan font-size="2.67" dy="-1.94">5</tspan></text>
<text x="342.8" y="267.9" font-size="4.3" fill="#222">10<tspan font-size="2.67" dy="-1.94">4</tspan></text>
<text x="342.8" y="281.9" font-size="4.3" fill="#222">10<tspan font-size="2.67" dy="-1.94">3</tspan></text>
<text x="342.8" y="295.8" font-size="4.3" fill="#222">10<tspan font-size="2.67" dy="-1.94">2</tspan></text>
<text x="356.7" y="310.5" font-size="4.3" fill="#222">10<tspan font-size="2.67" dy="-1.94">2</tspan></text>
<text x="370" y="310.5" font-size="4.3" fill="#222">10<tspan font-size="2.67" dy="-1.94">3</tspan></text>
<text x="383" y="310.5" font-size="4.3" fill="#222">10<tspan font-size="2.67" dy="-1.94">4</tspan></text>
<text x="396.2" y="310.5" font-size="4.3" fill="#222">10<tspan font-size="2.67" dy="-1.94">5</tspan></text>
<text x="7.5" y="277.5" font-size="6.5" fill="#222" textLength="8.8" lengthAdjust="spacingAndGlyphs">BM</text>
<line x1="20.8" y1="253.3" x2="20.8" y2="275" stroke="#333" stroke-width="1.2"/>
<path d="M20.8 248.6L18.5 253.8L23.1 253.8Z" fill="#111"/>
<text x="22.6" y="294.4" font-size="6.5" text-anchor="middle" fill="#222" textLength="9" lengthAdjust="spacingAndGlyphs" transform="rotate(-90 22.6 294.4)">Gr-1</text>
<text x="38.5" y="319.2" font-size="6.5" fill="#222" textLength="12.8" lengthAdjust="spacingAndGlyphs">CD11b</text>
<line x1="56" y1="317.2" x2="137" y2="317.2" stroke="#333" stroke-width="1.2"/>
<path d="M141.5 317.2L136.5 314.9L136.5 319.5Z" fill="#111"/>
<text x="253.5" y="278.6" font-size="6.5" fill="#222" textLength="9.5" lengthAdjust="spacingAndGlyphs">BM</text>
<line x1="267.6" y1="253" x2="267.6" y2="283.6" stroke="#333" stroke-width="1.2"/>
<path d="M267.6 248.3L265.3 253.5L269.9 253.5Z" fill="#111"/>
<text x="269.4" y="293.9" font-size="6.5" text-anchor="middle" fill="#222" textLength="9" lengthAdjust="spacingAndGlyphs" transform="rotate(-90 269.4 293.9)">Gr-1</text>
<text x="288.1" y="320.4" font-size="6.5" fill="#222" textLength="15.5" lengthAdjust="spacingAndGlyphs">CD11b</text>
<line x1="307.2" y1="317.7" x2="387.3" y2="317.7" stroke="#333" stroke-width="1.2"/>
<path d="M391.8 317.7L386.8 315.4L386.8 320Z" fill="#111"/>
<line x1="182.8" y1="294.9" x2="184.4" y2="294.9" stroke="#111" stroke-width="0.7"/>
<text x="180.2" y="296.3" font-size="4" text-anchor="end" fill="#222">0</text>
<line x1="182.8" y1="285.94" x2="184.4" y2="285.94" stroke="#111" stroke-width="0.7"/>
<text x="180.2" y="287.34" font-size="4" text-anchor="end" fill="#222">10</text>
<line x1="182.8" y1="276.98" x2="184.4" y2="276.98" stroke="#111" stroke-width="0.7"/>
<text x="180.2" y="278.38" font-size="4" text-anchor="end" fill="#222">20</text>
<line x1="182.8" y1="268.02" x2="184.4" y2="268.02" stroke="#111" stroke-width="0.7"/>
<text x="180.2" y="269.42" font-size="4" text-anchor="end" fill="#222">30</text>
<line x1="182.8" y1="259.06" x2="184.4" y2="259.06" stroke="#111" stroke-width="0.7"/>
<text x="180.2" y="260.46" font-size="4" text-anchor="end" fill="#222">40</text>
<line x1="182.8" y1="250.1" x2="184.4" y2="250.1" stroke="#111" stroke-width="0.7"/>
<text x="180.2" y="251.5" font-size="4" text-anchor="end" fill="#222">50</text>
<line x1="184.4" y1="248" x2="184.4" y2="295.4" stroke="#111" stroke-width="0.9"/>
<line x1="184" y1="294.9" x2="203.2" y2="294.9" stroke="#111" stroke-width="0.9"/>
<line x1="188.9" y1="294.9" x2="188.9" y2="296.7" stroke="#111" stroke-width="0.7"/>
<circle cx="187.3" cy="274.3" r=".7" fill="#d0204a"/>
<circle cx="191.4" cy="275.6" r=".7" fill="#d0204a"/>
<circle cx="188.4" cy="276.7" r=".7" fill="#d0204a"/>
<circle cx="186.6" cy="276.4" r=".7" fill="#d0204a"/>
<circle cx="191.3" cy="279.1" r=".7" fill="#d0204a"/>
<circle cx="191.0" cy="279.2" r=".7" fill="#d0204a"/>
<circle cx="189.7" cy="274.7" r=".7" fill="#d0204a"/>
<circle cx="187.6" cy="276.1" r=".7" fill="#d0204a"/>
<circle cx="189.7" cy="277.5" r=".7" fill="#d0204a"/>
<circle cx="191.5" cy="277.2" r=".7" fill="#d0204a"/>
<line x1="186.1" y1="276.71" x2="191.7" y2="276.71" stroke="#111" stroke-width="1.1"/>
<line x1="188.9" y1="275.99" x2="188.9" y2="277.43" stroke="#111" stroke-width="0.6"/>
<line x1="198.4" y1="294.9" x2="198.4" y2="296.7" stroke="#111" stroke-width="0.7"/>
<circle cx="199.5" cy="264.0" r=".7" fill="#5cb83c"/>
<circle cx="196.8" cy="265.7" r=".7" fill="#5cb83c"/>
<circle cx="201.0" cy="264.0" r=".7" fill="#5cb83c"/>
<circle cx="196.7" cy="264.3" r=".7" fill="#5cb83c"/>
<circle cx="197.1" cy="267.9" r=".7" fill="#5cb83c"/>
<circle cx="199.7" cy="265.4" r=".7" fill="#5cb83c"/>
<circle cx="199.4" cy="264.5" r=".7" fill="#5cb83c"/>
<circle cx="197.2" cy="263.9" r=".7" fill="#5cb83c"/>
<circle cx="196.2" cy="265.3" r=".7" fill="#5cb83c"/>
<circle cx="196.9" cy="264.1" r=".7" fill="#5cb83c"/>
<line x1="195.6" y1="265.06" x2="201.2" y2="265.06" stroke="#111" stroke-width="1.1"/>
<line x1="198.4" y1="264.35" x2="198.4" y2="265.78" stroke="#111" stroke-width="0.6"/>
<line x1="188.5" y1="253.3" x2="198.4" y2="253.3" stroke="#111" stroke-width="0.7"/>
<text x="193.45" y="252.7" font-size="3.6" text-anchor="middle" fill="#222">***</text>
<text x="169.2" y="271.5" font-size="4.8" text-anchor="middle" fill="#222" textLength="63" lengthAdjust="spacingAndGlyphs" transform="rotate(-90 169.2 271.5)">CD11b+Gr-1+Edu+ cells (%)</text>
<text x="192.3" y="242.8" font-size="3.6" text-anchor="middle" fill="#222">BM</text>
<text x="188.8" y="303.2" font-size="4" text-anchor="end" fill="#222" textLength="14" lengthAdjust="spacingAndGlyphs" transform="rotate(-45 188.8 303.2)">control</text>
<text x="200.2" y="303.5" font-size="4" text-anchor="end" fill="#222" textLength="23" lengthAdjust="spacingAndGlyphs" transform="rotate(-45 200.2 303.5)">Dmp1-TSC1</text>
<line x1="228.3" y1="295.2" x2="229.9" y2="295.2" stroke="#111" stroke-width="0.7"/>
<text x="223" y="296.6" font-size="4" text-anchor="end" fill="#222">0</text>
<line x1="228.3" y1="283.95" x2="229.9" y2="283.95" stroke="#111" stroke-width="0.7"/>
<text x="223" y="285.35" font-size="4" text-anchor="end" fill="#222">3</text>
<line x1="228.3" y1="272.7" x2="229.9" y2="272.7" stroke="#111" stroke-width="0.7"/>
<text x="223" y="274.1" font-size="4" text-anchor="end" fill="#222">6</text>
<line x1="228.3" y1="261.45" x2="229.9" y2="261.45" stroke="#111" stroke-width="0.7"/>
<text x="223" y="262.85" font-size="4" text-anchor="end" fill="#222">9</text>
<line x1="228.3" y1="250.2" x2="229.9" y2="250.2" stroke="#111" stroke-width="0.7"/>
<text x="223" y="251.6" font-size="4" text-anchor="end" fill="#222">12</text>
<line x1="229.9" y1="248.7" x2="229.9" y2="295.7" stroke="#111" stroke-width="0.9"/>
<line x1="229.5" y1="295.2" x2="247.9" y2="295.2" stroke="#111" stroke-width="0.9"/>
<line x1="234.6" y1="295.2" x2="234.6" y2="297" stroke="#111" stroke-width="0.7"/>
<circle cx="233.4" cy="282.6" r=".7" fill="#d0204a"/>
<circle cx="233.6" cy="281.2" r=".7" fill="#d0204a"/>
<circle cx="233.5" cy="276.2" r=".7" fill="#d0204a"/>
<circle cx="235.6" cy="281.7" r=".7" fill="#d0204a"/>
<circle cx="232.1" cy="280.3" r=".7" fill="#d0204a"/>
<circle cx="233.8" cy="279.0" r=".7" fill="#d0204a"/>
<circle cx="236.9" cy="281.7" r=".7" fill="#d0204a"/>
<circle cx="237.1" cy="280.7" r=".7" fill="#d0204a"/>
<circle cx="232.5" cy="279.8" r=".7" fill="#d0204a"/>
<circle cx="234.1" cy="277.6" r=".7" fill="#d0204a"/>
<line x1="231.8" y1="279.45" x2="237.4" y2="279.45" stroke="#111" stroke-width="1.1"/>
<line x1="234.6" y1="278.79" x2="234.6" y2="280.11" stroke="#111" stroke-width="0.6"/>
<line x1="243.6" y1="295.2" x2="243.6" y2="297" stroke="#111" stroke-width="0.7"/>
<circle cx="243.2" cy="263.1" r=".7" fill="#5cb83c"/>
<circle cx="242.0" cy="263.8" r=".7" fill="#5cb83c"/>
<circle cx="241.2" cy="266.2" r=".7" fill="#5cb83c"/>
<circle cx="245.4" cy="264.2" r=".7" fill="#5cb83c"/>
<circle cx="241.4" cy="265.7" r=".7" fill="#5cb83c"/>
<circle cx="243.5" cy="262.6" r=".7" fill="#5cb83c"/>
<circle cx="244.0" cy="268.0" r=".7" fill="#5cb83c"/>
<circle cx="241.8" cy="263.1" r=".7" fill="#5cb83c"/>
<circle cx="242.4" cy="266.0" r=".7" fill="#5cb83c"/>
<circle cx="245.6" cy="264.3" r=".7" fill="#5cb83c"/>
<line x1="240.8" y1="265.57" x2="246.4" y2="265.57" stroke="#111" stroke-width="1.1"/>
<line x1="243.6" y1="264.64" x2="243.6" y2="266.51" stroke="#111" stroke-width="0.6"/>
<line x1="234.3" y1="253.4" x2="243.6" y2="253.4" stroke="#111" stroke-width="0.7"/>
<text x="238.95" y="252.8" font-size="3.6" text-anchor="middle" fill="#222">***</text>
<text x="216.6" y="271.6" font-size="4.8" text-anchor="middle" fill="#222" textLength="52" lengthAdjust="spacingAndGlyphs" transform="rotate(-90 216.6 271.6)">CD11b<tspan font-size="2.8" dy="-1.6">int</tspan><tspan dy="1.6">Gr-1</tspan><tspan font-size="2.8" dy="-1.6">int</tspan><tspan dy="1.6">Edu+ (%)</tspan></text>
<text x="233.9" y="303" font-size="4" text-anchor="end" fill="#222" textLength="14" lengthAdjust="spacingAndGlyphs" transform="rotate(-45 233.9 303)">control</text>
<text x="243.5" y="303" font-size="4" text-anchor="end" fill="#222" textLength="23" lengthAdjust="spacingAndGlyphs" transform="rotate(-45 243.5 303)">Dmp1-TSC1</text>
<line x1="438.1" y1="295.1" x2="439.7" y2="295.1" stroke="#111" stroke-width="0.7"/>
<text x="434.3" y="296.5" font-size="4" text-anchor="end" fill="#222">0</text>
<line x1="438.1" y1="279.47" x2="439.7" y2="279.47" stroke="#111" stroke-width="0.7"/>
<text x="434.3" y="280.87" font-size="4" text-anchor="end" fill="#222">10</text>
<line x1="438.1" y1="263.84" x2="439.7" y2="263.84" stroke="#111" stroke-width="0.7"/>
<text x="434.3" y="265.24" font-size="4" text-anchor="end" fill="#222">20</text>
<line x1="438.1" y1="248.21" x2="439.7" y2="248.21" stroke="#111" stroke-width="0.7"/>
<text x="434.3" y="249.61" font-size="4" text-anchor="end" fill="#222">30</text>
<line x1="439.7" y1="245.3" x2="439.7" y2="295.6" stroke="#111" stroke-width="0.9"/>
<line x1="439.3" y1="295.1" x2="460.9" y2="295.1" stroke="#111" stroke-width="0.9"/>
<line x1="445.5" y1="295.1" x2="445.5" y2="296.9" stroke="#111" stroke-width="0.7"/>
<circle cx="446.0" cy="265.5" r=".7" fill="#d0204a"/>
<circle cx="442.8" cy="263.1" r=".7" fill="#d0204a"/>
<circle cx="445.0" cy="263.7" r=".7" fill="#d0204a"/>
<circle cx="446.1" cy="265.1" r=".7" fill="#d0204a"/>
<circle cx="447.6" cy="262.5" r=".7" fill="#d0204a"/>
<circle cx="446.4" cy="263.6" r=".7" fill="#d0204a"/>
<circle cx="443.8" cy="262.8" r=".7" fill="#d0204a"/>
<circle cx="442.9" cy="260.5" r=".7" fill="#d0204a"/>
<circle cx="447.2" cy="264.6" r=".7" fill="#d0204a"/>
<circle cx="444.1" cy="263.2" r=".7" fill="#d0204a"/>
<line x1="442.7" y1="263.53" x2="448.3" y2="263.53" stroke="#111" stroke-width="1.1"/>
<line x1="445.5" y1="262.51" x2="445.5" y2="264.54" stroke="#111" stroke-width="0.6"/>
<line x1="455" y1="295.1" x2="455" y2="296.9" stroke="#111" stroke-width="0.7"/>
<circle cx="454.8" cy="278.7" r=".7" fill="#5cb83c"/>
<circle cx="453.5" cy="276.0" r=".7" fill="#5cb83c"/>
<circle cx="456.0" cy="278.2" r=".7" fill="#5cb83c"/>
<circle cx="457.8" cy="279.4" r=".7" fill="#5cb83c"/>
<circle cx="456.2" cy="274.5" r=".7" fill="#5cb83c"/>
<circle cx="457.4" cy="280.8" r=".7" fill="#5cb83c"/>
<circle cx="455.1" cy="276.3" r=".7" fill="#5cb83c"/>
<circle cx="452.2" cy="277.2" r=".7" fill="#5cb83c"/>
<circle cx="455.3" cy="278.2" r=".7" fill="#5cb83c"/>
<circle cx="455.3" cy="278.8" r=".7" fill="#5cb83c"/>
<line x1="452.2" y1="278.06" x2="457.8" y2="278.06" stroke="#111" stroke-width="1.1"/>
<line x1="455" y1="277.13" x2="455" y2="279" stroke="#111" stroke-width="0.6"/>
<line x1="444.5" y1="251.4" x2="455.8" y2="251.4" stroke="#111" stroke-width="0.7"/>
<text x="450.15" y="250.8" font-size="3.6" text-anchor="middle" fill="#222">**</text>
<text x="424" y="270" font-size="4.8" text-anchor="middle" fill="#222" textLength="66" lengthAdjust="spacingAndGlyphs" transform="rotate(-90 424 270)">CD11b+Gr-1+Edu+ cells (%)</text>
<text x="450.3" y="241.2" font-size="3.6" text-anchor="middle" fill="#222">BM</text>
<text x="446.5" y="303.5" font-size="4" text-anchor="end" fill="#222" textLength="14" lengthAdjust="spacingAndGlyphs" transform="rotate(-45 446.5 303.5)">control</text>
<text x="456.6" y="303.5" font-size="4" text-anchor="end" fill="#222" textLength="23" lengthAdjust="spacingAndGlyphs" transform="rotate(-45 456.6 303.5)">Dmp1-Rheb</text>
<line x1="490" y1="295.3" x2="491.6" y2="295.3" stroke="#111" stroke-width="0.7"/>
<text x="485.2" y="296.7" font-size="4" text-anchor="end" fill="#222">0</text>
<line x1="490" y1="279.66" x2="491.6" y2="279.66" stroke="#111" stroke-width="0.7"/>
<text x="485.2" y="281.06" font-size="4" text-anchor="end" fill="#222">2</text>
<line x1="490" y1="264.02" x2="491.6" y2="264.02" stroke="#111" stroke-width="0.7"/>
<text x="485.2" y="265.42" font-size="4" text-anchor="end" fill="#222">4</text>
<line x1="490" y1="248.38" x2="491.6" y2="248.38" stroke="#111" stroke-width="0.7"/>
<text x="485.2" y="249.78" font-size="4" text-anchor="end" fill="#222">6</text>
<line x1="491.6" y1="245.4" x2="491.6" y2="295.8" stroke="#111" stroke-width="0.9"/>
<line x1="491.2" y1="295.3" x2="512.6" y2="295.3" stroke="#111" stroke-width="0.9"/>
<line x1="496.7" y1="295.3" x2="496.7" y2="297.1" stroke="#111" stroke-width="0.7"/>
<circle cx="496.5" cy="264.7" r=".7" fill="#d0204a"/>
<circle cx="496.3" cy="261.6" r=".7" fill="#d0204a"/>
<circle cx="496.1" cy="262.6" r=".7" fill="#d0204a"/>
<circle cx="494.4" cy="261.8" r=".7" fill="#d0204a"/>
<circle cx="497.2" cy="263.7" r=".7" fill="#d0204a"/>
<circle cx="497.9" cy="261.7" r=".7" fill="#d0204a"/>
<circle cx="495.1" cy="259.6" r=".7" fill="#d0204a"/>
<circle cx="495.4" cy="261.7" r=".7" fill="#d0204a"/>
<circle cx="497.9" cy="260.0" r=".7" fill="#d0204a"/>
<circle cx="498.8" cy="264.1" r=".7" fill="#d0204a"/>
<line x1="493.9" y1="261.67" x2="499.5" y2="261.67" stroke="#111" stroke-width="1.1"/>
<line x1="496.7" y1="260.81" x2="496.7" y2="262.53" stroke="#111" stroke-width="0.6"/>
<line x1="507.6" y1="295.3" x2="507.6" y2="297.1" stroke="#111" stroke-width="0.7"/>
<circle cx="506.2" cy="274.4" r=".7" fill="#5cb83c"/>
<circle cx="506.2" cy="277.0" r=".7" fill="#5cb83c"/>
<circle cx="506.6" cy="278.2" r=".7" fill="#5cb83c"/>
<circle cx="508.5" cy="275.9" r=".7" fill="#5cb83c"/>
<circle cx="509.7" cy="276.7" r=".7" fill="#5cb83c"/>
<circle cx="506.9" cy="279.3" r=".7" fill="#5cb83c"/>
<circle cx="509.9" cy="280.3" r=".7" fill="#5cb83c"/>
<circle cx="510.0" cy="275.6" r=".7" fill="#5cb83c"/>
<circle cx="505.1" cy="279.1" r=".7" fill="#5cb83c"/>
<circle cx="507.0" cy="279.5" r=".7" fill="#5cb83c"/>
<line x1="504.8" y1="277.31" x2="510.4" y2="277.31" stroke="#111" stroke-width="1.1"/>
<line x1="507.6" y1="276.14" x2="507.6" y2="278.49" stroke="#111" stroke-width="0.6"/>
<line x1="496.7" y1="250.3" x2="507.6" y2="250.3" stroke="#111" stroke-width="0.7"/>
<text x="502.15" y="249.7" font-size="3.6" text-anchor="middle" fill="#222">**</text>
<text x="478.3" y="270" font-size="4.8" text-anchor="middle" fill="#222" textLength="55" lengthAdjust="spacingAndGlyphs" transform="rotate(-90 478.3 270)">CD11b<tspan font-size="2.8" dy="-1.6">int</tspan><tspan dy="1.6">Gr-1</tspan><tspan font-size="2.8" dy="-1.6">int</tspan><tspan dy="1.6">Edu+ (%)</tspan></text>
<text x="498" y="303" font-size="4" text-anchor="end" fill="#222" textLength="14" lengthAdjust="spacingAndGlyphs" transform="rotate(-45 498 303)">control</text>
<text x="508.6" y="303" font-size="4" text-anchor="end" fill="#222" textLength="23" lengthAdjust="spacingAndGlyphs" transform="rotate(-45 508.6 303)">Dmp1-Rheb</text>
<text x="30.6" y="359.7" font-size="6.4" fill="#222" textLength="37.4" lengthAdjust="spacingAndGlyphs">osteoclast-CM</text>
<g clip-path="url(#c16)">
<path transform="scale(.1)" d="M433 4072h5M748 4033h5M761 4062h5M751 4080h5M727 4123h5M598 4155h5M719 4062h5M597 4113h5M641 4089h5M555 3969h5M775 4060h5M513 4086h5M391 4157h5M455 4025h5M576 4111h5M708 4057h5M652 3982h5M325 4152h5M475 4146h5M554 3975h5M585 3987h5M502 4096h5M564 4022h5M493 4015h5M301 4127h5M748 3992h5M286 4005h5M640 4078h5M684 3989h5M328 4150h5M427 4148h5M427 4101h5M413 3990h5M605 4042h5M491 3990h5M497 4139h5M362 4150h5M644 3997h5M392 4040h5M479 4060h5M762 4143h5M681 3969h5M767 4093h5M335 4126h5M776 4117h5M328 4046h5M585 3984h5M346 4009h5M363 4037h5M540 4128h5M364 4115h5M617 4011h5M704 4011h5M742 4139h5M612 4027h5M353 3977h5M659 4063h5M498 4125h5M676 4035h5M626 4051h5" stroke="#2b46e0" stroke-width="5" stroke-opacity="0.6"/>
<path transform="scale(.1)" d="M720 3852h5M613 3940h5M565 3848h5M562 3856h5M593 3948h5M514 3850h5M682 3844h5M732 3960h5M529 3918h5M738 3884h5M661 3868h5M561 3947h5M535 3875h5M669 3905h5M645 3945h5M528 3892h5M709 3918h5M553 3933h5M731 3903h5M575 3849h5M632 3836h5M568 3873h5M657 3867h5M705 3840h5M533 3896h5M628 3900h5M591 3919h5M630 3858h5M633 3862h5M509 3875h5M669 3879h5M618 3847h5M706 3964h5M632 3917h5M560 3939h5M621 3879h5M604 3856h5M505 3916h5M726 3868h5M715 3952h5M540 3854h5M750 3879h5M729 3885h5M636 3854h5M615 3838h5M539 3945h5M546 3957h5M587 3840h5M616 3915h5M689 3907h5M550 3930h5M515 3843h5M528 3964h5M751 3881h5M560 3953h5M545 3852h5M551 3875h5M526 3846h5M654 3882h5M651 3888h5M731 3895h5M526 3956h5M660 3865h5M518 3848h5M505 3930h5M646 3845h5M733 3866h5M733 3893h5M497 3887h5M498 3940h5" stroke="#2b46e0" stroke-width="5" stroke-opacity="0.5"/>
<path transform="scale(.1)" d="M724 3866h5M722 3848h5M554 3789h5M693 3810h5M594 3800h5M682 3883h5M726 3757h5M714 3894h5M442 3893h5M652 3795h5M578 3836h5M618 3839h5M601 3779h5M675 3774h5M689 3831h5M646 3849h5M525 3795h5M438 3796h5M468 3813h5M482 3771h5M554 3824h5M503 3864h5M455 3798h5M544 3783h5M741 3756h5M734 3882h5M702 3846h5M579 3765h5M561 3873h5M506 3894h5M571 3880h5M529 3786h5M673 3868h5M552 3891h5M521 3823h5M554 3774h5M465 3892h5M681 3798h5M554 3868h5M620 3876h5" stroke="#2b46e0" stroke-width="5" stroke-opacity="0.35"/>
<path transform="scale(.1)" d="M536 3940h5M580 3900h5M575 3912h5M677 3925h5M624 3963h5M676 3904h5M592 3894h5M639 3897h5M555 3897h5M527 3919h5M540 3958h5M625 3966h5M557 3916h5M533 3956h5M643 3947h5M578 3893h5M613 3916h5M627 3891h5M660 3925h5M561 3947h5M696 3902h5M683 3897h5M610 3962h5M691 3909h5M694 3889h5M547 3936h5M598 3889h5M583 3908h5M669 3958h5M652 3904h5M536 3919h5M573 3922h5M622 3965h5M532 3943h5M582 3952h5M695 3901h5M675 3930h5M611 3902h5M535 3922h5M688 3961h5M571 3915h5M626 3934h5M530 3944h5M661 3929h5M651 3889h5M713 3925h5M645 3937h5M690 3890h5M540 3922h5M669 3963h5M562 3961h5M716 3932h5M533 3913h5M575 3960h5M666 3891h5M640 3926h5M538 3937h5M539 3910h5M538 3947h5M586 3955h5M535 3945h5M530 3926h5M539 3905h5M670 3898h5M553 3910h5M673 3953h5M620 3915h5M662 3909h5M529 3938h5M698 3913h5" stroke="#2b46e0" stroke-width="5" stroke-opacity="0.5"/>
<path transform="scale(.1)" d="M352 4049h5M335 4093h5M417 3998h5M398 4061h5M391 4073h5M422 4001h5M340 4044h5M352 4108h5M344 4037h5M312 4064h5M404 4028h5M273 4117h5M401 4040h5M428 4015h5M459 3959h5M406 3994h5M372 4091h5M399 4001h5M367 3994h5M328 4049h5M309 4101h5M313 4077h5M433 4015h5M333 4055h5M366 4004h5M397 4037h5M428 4005h5M351 4004h5M393 4054h5M373 4035h5M341 4043h5M354 4012h5M393 4017h5M386 4023h5M350 4020h5M466 4005h5M363 4016h5M456 3996h5M353 4034h5M383 4071h5M333 4064h5M375 4055h5M416 4012h5M390 4038h5M338 4062h5M323 4081h5M372 4045h5M375 4107h5M411 4005h5M333 4067h5M359 4049h5M369 4010h5M339 4065h5M322 4143h5M410 4023h5M411 4019h5M374 4052h5M390 4060h5M386 4065h5M450 4005h5M359 4014h5M332 4037h5M379 4064h5M307 4097h5M292 4083h5M391 4011h5M426 4008h5M360 4048h5M369 4052h5M315 4076h5M341 4066h5M339 4066h5M474 4028h5M357 4054h5M393 4011h5M364 4029h5M388 4002h5M443 3963h5M391 4071h5M357 3984h5M403 4021h5M369 3992h5M445 3943h5M408 3981h5M333 4094h5M372 4102h5M438 4009h5M345 4048h5M394 4036h5M354 4056h5M394 4056h5M342 4061h5M415 4027h5M269 4133h5M365 4078h5M340 4032h5M481 3936h5M313 4084h5M413 4028h5M364 4015h5M434 3948h5M361 4003h5M381 4035h5M376 4007h5M305 4024h5M320 4044h5M339 4033h5M382 4034h5M416 4038h5M365 4074h5M375 3993h5M415 3983h5M386 4072h5M365 4076h5M337 4049h5M415 4003h5M436 4041h5M407 4034h5M337 4047h5M385 4047h5M307 4074h5M385 4058h5M352 4025h5M364 4022h5M350 4068h5M498 4015h5M350 4128h5M301 4078h5M363 4086h5M365 4075h5M349 4052h5M341 4057h5M374 4104h5M452 4018h5M471 3967h5M328 4048h5M303 4080h5M368 4013h5M382 4038h5M327 4037h5M376 4034h5M313 4035h5M450 4011h5M342 4039h5M393 4010h5M350 3989h5M392 4052h5M425 4019h5M409 4025h5M371 4033h5M279 4076h5M357 3993h5M431 4024h5M330 4095h5M378 4083h5M359 4084h5M300 4057h5M281 4110h5M340 4105h5M314 4102h5M387 4008h5M398 4089h5M365 4076h5M412 4023h5M283 4087h5M397 4054h5M311 4026h5M299 4091h5M342 4081h5M384 4021h5M306 4087h5M384 4032h5M388 4009h5M407 4036h5M364 4043h5M335 4053h5M351 4090h5M357 4013h5M379 4075h5M452 4021h5M326 4094h5M340 4118h5M435 3958h5M362 4008h5M368 4023h5M339 4093h5M389 4057h5M375 4006h5M355 4083h5M410 4001h5M468 3992h5M449 4004h5M420 3991h5M345 4011h5M361 4010h5M376 4023h5M321 4064h5M330 4035h5M422 3976h5M438 4035h5M413 3986h5M286 4028h5M258 4049h5M337 4073h5M389 3958h5M397 3969h5M552 3984h5M502 3969h5M274 4024h5M337 3979h5M426 4038h5M345 4120h5M383 4049h5M385 3985h5M337 4007h5M378 3991h5M475 4023h5M324 4067h5M396 4096h5M405 4030h5M511 3950h5M383 4032h5M366 3984h5M431 3944h5M302 4141h5M448 3991h5M270 3992h5M397 3972h5M377 4007h5M404 3980h5M379 4010h5M326 4022h5M393 3922h5M386 3975h5M369 4097h5M310 4137h5M360 4094h5M446 4044h5M354 4070h5M332 4075h5M366 4088h5M568 3955h5M305 4085h5M322 3996h5M315 4107h5M339 4181h5M259 4110h5M483 3987h5M373 3930h5M305 4006h5M328 4079h5M334 4115h5M306 4090h5M309 4027h5M277 4072h5M417 3936h5M333 3942h5M382 3985h5M349 4074h5M368 4061h5M359 4056h5M265 4086h5M301 4003h5M390 4036h5M290 4086h5M371 4007h5M408 4044h5M311 4123h5M427 3954h5M352 3947h5M216 4142h5M314 4120h5M458 3957h5M335 4093h5M414 4036h5M317 4101h5M332 3983h5M349 4100h5M280 4003h5M415 4047h5M321 4059h5M348 3995h5M403 4084h5M404 4014h5M388 4145h5M244 4114h5M287 4041h5M334 4042h5M485 4043h5M447 4013h5M317 4043h5M471 3996h5M229 4105h5M272 4109h5M452 4048h5M352 4048h5M303 3993h5M319 4060h5M386 4049h5M360 4067h5" stroke="#2a40e8" stroke-width="5" stroke-opacity="0.7"/>
<ellipse cx="37" cy="404.2" rx="9" ry="4.3" fill="#2a44ea" fill-opacity="0.6" filter="url(#b12)" transform="rotate(-35 37 404.2)"/>
<ellipse cx="37" cy="404.2" rx="7.02" ry="3.35" fill="#2a62f2" fill-opacity="0.75" filter="url(#b8)" transform="rotate(-35 37 404.2)"/>
<ellipse cx="37" cy="404.2" rx="5.22" ry="2.49" fill="#26c0f0" fill-opacity="0.9" filter="url(#b8)" transform="rotate(-35 37 404.2)"/>
<path transform="scale(.1)" d="M522 4145h5M645 4111h5M599 4122h5M588 4068h5M631 4064h5M456 4082h5M671 4012h5M632 3984h5M584 3934h5M412 4105h5M646 3999h5M594 4017h5M561 4122h5M535 4107h5M641 4102h5M649 4007h5M542 3991h5M641 4024h5M610 4021h5M606 4084h5M556 4048h5M595 4051h5M514 4047h5M580 3950h5M652 3986h5M580 4050h5M546 4051h5M554 4053h5M566 3970h5M534 4077h5M683 3982h5M645 4076h5M531 4062h5M614 4010h5M707 4067h5M638 4069h5M582 4055h5M658 4085h5M653 4081h5M568 4044h5M582 4091h5M560 4048h5M598 4037h5M622 3976h5M696 4001h5M673 4013h5M678 3971h5M518 4038h5M671 4032h5M614 4029h5M638 4031h5M599 4142h5M589 4052h5M671 4081h5M569 4078h5M548 4051h5M541 4166h5M584 4099h5M676 3972h5M576 4032h5M564 4015h5M500 4112h5M584 4041h5M562 4045h5M576 4117h5M669 4037h5M626 4012h5M472 4189h5M585 3964h5M518 4154h5M549 4068h5M642 4009h5M554 4058h5M592 4113h5M633 4088h5M533 4171h5M594 4055h5M592 3988h5M582 4064h5M624 4024h5M539 4009h5M578 4066h5M556 3984h5M645 4059h5M631 4033h5M597 4033h5M506 4124h5M578 4030h5M642 4039h5M543 4152h5M643 3941h5M648 4054h5M553 4125h5M615 3994h5M626 4039h5M608 3985h5M682 4076h5M550 4152h5M697 3975h5M648 4035h5M516 4052h5M555 4101h5M595 4018h5M674 4035h5M568 4074h5M489 4173h5M670 4105h5M615 4121h5M652 4026h5M666 4037h5M636 4076h5M516 4162h5M660 4085h5M620 4011h5M555 4063h5M625 3982h5M541 4004h5M538 4079h5M673 3971h5M562 4086h5M703 3920h5M617 3975h5M565 4054h5M632 4132h5M599 4098h5M541 4087h5M604 4083h5M558 4022h5M570 4091h5M582 4122h5M500 4081h5M671 4090h5M735 3983h5M592 4104h5M487 4140h5M733 3941h5M613 4040h5M622 4037h5M606 4202h5M593 4042h5M541 4066h5M615 4060h5M546 4113h5M612 4167h5M638 3972h5M616 4056h5M598 4146h5M585 3997h5M574 4074h5M532 4064h5M512 4060h5M654 3995h5M491 4125h5M608 4063h5M651 4008h5M685 4005h5M606 4027h5M715 3953h5M609 4059h5M647 4049h5M552 3995h5M577 3992h5M662 4045h5M622 4036h5M547 4058h5M548 4156h5M622 3991h5M652 4031h5M549 4006h5M621 4026h5M693 3965h5M630 4124h5M590 4041h5M582 4073h5M602 4023h5M563 4040h5M564 4100h5M590 4083h5M549 4041h5M582 4083h5M660 3985h5M554 4112h5M538 4159h5M561 4197h5M639 4044h5M603 4009h5M655 4061h5M593 4020h5M682 4015h5M639 4109h5M650 4007h5M575 4152h5M559 4117h5M493 4095h5M536 3964h5M689 4076h5M607 4022h5M534 4084h5M647 4008h5M635 4100h5M589 4045h5M573 4140h5M550 4121h5M623 4090h5M727 4021h5M571 4027h5M587 4210h5M629 4001h5M626 3975h5M607 4000h5M542 4108h5M634 4082h5M650 4116h5M602 4051h5M546 4119h5M617 3989h5M577 4057h5M691 4052h5M588 4089h5M559 4000h5M630 3997h5M579 4013h5M581 3973h5M687 4044h5M560 4023h5M648 3973h5M647 4145h5M544 4086h5M597 4061h5M610 4163h5M508 4118h5M618 4049h5M532 4067h5M560 4040h5M566 4014h5M613 4105h5M648 4068h5M676 4015h5M600 4054h5M628 4161h5M610 3910h5M637 3956h5M539 4100h5M549 4070h5M610 4172h5M682 4057h5M594 4034h5M509 3964h5M475 4087h5M640 4137h5M641 4056h5M648 4001h5M517 4016h5M550 4067h5M606 4089h5M587 4113h5M643 4050h5M644 4147h5M591 4036h5M714 4003h5M626 4026h5M597 4066h5M627 3996h5M638 3975h5M649 4047h5M618 4081h5M602 4004h5M572 4093h5M724 4026h5M573 4104h5M661 3993h5M648 3975h5M560 4079h5M593 4069h5M446 4164h5M581 4048h5M675 3966h5M598 4090h5M620 3922h5M578 4058h5M633 4087h5M635 4054h5M622 3994h5M537 4112h5M579 4047h5M573 4070h5M621 4055h5M654 4005h5M583 4062h5M600 4053h5M645 4062h5M598 4106h5M555 4146h5M614 3978h5M651 4006h5M611 4050h5M589 3995h5M567 4014h5M590 4097h5M554 4157h5M584 3969h5M521 4072h5M673 4131h5M702 3892h5M519 4073h5M597 4046h5M735 4093h5M540 4142h5M427 4191h5M479 4027h5M602 3953h5M599 4052h5M586 3989h5M568 4249h5M561 4035h5M589 3859h5M508 3943h5M648 4044h5M472 4083h5M605 4065h5M604 4023h5M598 4073h5M766 4106h5M631 4097h5M553 4057h5M705 3902h5M756 3962h5M615 3906h5M621 4251h5M555 4055h5M597 4061h5M583 4247h5M645 4105h5M746 3941h5M582 4156h5M590 4087h5M617 4046h5M431 4046h5M589 3975h5M593 3988h5M642 4135h5M473 4140h5M628 4048h5M542 4092h5M594 4256h5M573 4146h5M487 4117h5M499 4067h5M574 4152h5M486 4016h5M707 4016h5M629 4059h5M552 3993h5M666 4008h5M633 4073h5M559 4002h5M597 3955h5M567 4213h5M550 4106h5M677 3965h5M569 3981h5M466 4070h5M589 4005h5M575 4118h5M542 4173h5M707 4020h5M678 3954h5M544 4113h5M487 4031h5M627 3980h5M696 4057h5M361 4204h5M563 4111h5M561 4138h5M579 4025h5M516 3983h5M549 4158h5M522 4157h5M559 3987h5M557 4203h5M791 4059h5M672 4060h5M481 4114h5M582 3983h5M681 4108h5M561 4071h5M597 4102h5M657 4025h5M480 4068h5M787 4085h5M802 4092h5M582 4121h5M547 4243h5M575 3984h5M490 4103h5M600 4012h5M520 4041h5M608 4044h5M501 3991h5M602 3909h5M613 4057h5M552 4054h5M589 3923h5M569 3885h5M568 4127h5M857 4084h5M431 4143h5M689 4069h5M724 4137h5M588 3985h5M463 4119h5M649 4032h5M404 4267h5M568 4040h5M484 3976h5M491 3920h5M655 4215h5M467 4066h5M651 4049h5M694 3855h5M544 3952h5M644 4037h5M635 4157h5M672 4067h5M618 4051h5M612 4078h5M597 3920h5M619 4050h5M504 4085h5M751 3878h5M592 4084h5M536 3859h5M503 4135h5M657 4011h5M541 4045h5M581 4139h5M380 4055h5M514 4156h5M627 3907h5M496 4020h5M586 4040h5M592 3956h5M577 4125h5M505 4073h5M633 3955h5M573 3921h5M657 4059h5M501 4141h5M566 4277h5M529 4038h5" stroke="#2a40e8" stroke-width="5" stroke-opacity="0.7"/>
<ellipse cx="60" cy="405.3" rx="12" ry="7.5" fill="#2a44ea" fill-opacity="0.6" filter="url(#b12)" transform="rotate(-50 60 405.3)"/>
<ellipse cx="60" cy="405.3" rx="9.36" ry="5.85" fill="#2a62f2" fill-opacity="0.75" filter="url(#b8)" transform="rotate(-50 60 405.3)"/>
<ellipse cx="60" cy="405.3" rx="6.96" ry="4.35" fill="#26c0f0" fill-opacity="0.9" filter="url(#b8)" transform="rotate(-50 60 405.3)"/>
<ellipse cx="60" cy="405.3" rx="5.28" ry="3.3" fill="#40dc90" fill-opacity="0.92" filter="url(#b8)" transform="rotate(-50 60 405.3)"/>
<ellipse cx="60" cy="405.3" rx="3.84" ry="2.4" fill="#c4ec34" fill-opacity="0.92" filter="url(#b8)" transform="rotate(-50 60 405.3)"/>
<ellipse cx="60" cy="405.3" rx="2.52" ry="1.57" fill="#f6d422" fill-opacity="0.92" filter="url(#b8)" transform="rotate(-50 60 405.3)"/>
<ellipse cx="60" cy="405.3" rx="1.44" ry="0.9" fill="#ff7a1c" fill-opacity="0.92" filter="url(#b8)" transform="rotate(-50 60 405.3)"/>
</g>
<rect x="25.9" y="363.8" width="52.5" height="52.2" fill="none" stroke="#888" stroke-width="0.6"/>
<line x1="49.6" y1="363.8" x2="49.6" y2="416" stroke="#444" stroke-width="0.6"/>
<line x1="25.9" y1="395.6" x2="78.4" y2="395.6" stroke="#444" stroke-width="0.6"/>
<text x="27.3" y="371" font-size="5.4" font-weight="bold" textLength="31.1" lengthAdjust="spacingAndGlyphs">Edu+ gated</text>
<text x="76.8" y="371.2" font-size="5.8" text-anchor="end" font-weight="bold" textLength="11.2" lengthAdjust="spacingAndGlyphs">2.24</text>
<text x="16.7" y="377" font-size="4.3" fill="#222">10<tspan font-size="2.67" dy="-1.94">4</tspan></text>
<text x="16.7" y="393.1" font-size="4.3" fill="#222">10<tspan font-size="2.67" dy="-1.94">3</tspan></text>
<text x="16.7" y="408.9" font-size="4.3" fill="#222">10<tspan font-size="2.67" dy="-1.94">2</tspan></text>
<text x="32.2" y="424.8" font-size="4.3" fill="#222">10<tspan font-size="2.67" dy="-1.94">2</tspan></text>
<text x="50.3" y="424.8" font-size="4.3" fill="#222">10<tspan font-size="2.67" dy="-1.94">3</tspan></text>
<text x="66.9" y="424.8" font-size="4.3" fill="#222">10<tspan font-size="2.67" dy="-1.94">4</tspan></text>
<text x="93" y="359.6" font-size="6.4" fill="#222" textLength="49" lengthAdjust="spacingAndGlyphs">endothelium-CM</text>
<g clip-path="url(#c17)">
<path transform="scale(.1)" d="M1237 4151h5M1307 4025h5M1006 4150h5M1159 3964h5M1298 4126h5M1132 3963h5M1214 4126h5M1321 4134h5M1199 3997h5M1117 4027h5M1061 4055h5M1103 3996h5M1330 4133h5M1094 3993h5M953 4142h5M1410 4024h5M1279 4048h5M1373 4129h5M1046 4037h5M1221 4045h5M1234 4081h5M1333 4000h5M1295 4146h5M1202 3963h5M1344 4074h5M1357 3971h5M952 4012h5M981 3997h5M1261 4091h5M1027 4050h5M1397 4141h5M1110 4054h5M1229 3987h5M1036 4118h5M1031 3962h5M1042 3993h5M1106 4065h5M1131 4094h5M1092 3971h5M1277 4129h5M1270 4008h5M1080 4024h5M946 4030h5M1050 4059h5M1428 4122h5M1059 3975h5M1425 4137h5M1310 4143h5M946 4150h5M978 4127h5M1266 4125h5M1047 4109h5M1164 4061h5M943 3957h5M994 3967h5M1257 4032h5M1210 3975h5M1008 4127h5M1287 4096h5M1235 4020h5" stroke="#2b46e0" stroke-width="5" stroke-opacity="0.6"/>
<path transform="scale(.1)" d="M1221 3865h5M1369 3845h5M1399 3898h5M1220 3936h5M1207 3927h5M1227 3920h5M1188 3847h5M1158 3828h5M1285 3858h5M1224 3896h5M1154 3931h5M1263 3857h5M1179 3876h5M1288 3928h5M1235 3944h5M1207 3837h5M1410 3918h5M1376 3932h5M1350 3936h5M1161 3861h5M1244 3892h5M1186 3925h5M1312 3931h5M1409 3914h5M1303 3885h5M1235 3829h5M1182 3829h5M1368 3868h5M1408 3939h5M1185 3915h5M1406 3950h5M1397 3849h5M1349 3866h5M1191 3847h5M1364 3853h5M1265 3935h5M1387 3949h5M1204 3943h5M1311 3880h5M1282 3943h5M1260 3916h5M1180 3911h5M1384 3857h5M1391 3887h5M1295 3873h5M1221 3912h5M1276 3904h5M1382 3841h5M1191 3878h5M1381 3948h5M1371 3862h5M1242 3826h5M1322 3903h5M1362 3887h5M1391 3860h5M1264 3908h5M1176 3951h5M1397 3839h5M1361 3853h5M1236 3943h5M1360 3903h5M1301 3842h5M1305 3952h5M1399 3954h5M1326 3908h5M1241 3846h5M1262 3830h5M1337 3885h5M1259 3900h5M1388 3838h5" stroke="#2b46e0" stroke-width="5" stroke-opacity="0.5"/>
<path transform="scale(.1)" d="M1110 3781h5M1338 3767h5M1156 3808h5M1194 3823h5M1349 3873h5M1131 3745h5M1233 3867h5M1303 3791h5M1123 3883h5M1219 3830h5M1120 3839h5M1306 3773h5M1149 3834h5M1373 3810h5M1109 3840h5M1394 3796h5M1230 3793h5M1228 3815h5M1333 3811h5M1184 3801h5M1371 3790h5M1224 3842h5M1181 3833h5M1374 3883h5M1189 3784h5M1344 3797h5M1142 3748h5M1297 3769h5M1177 3864h5M1094 3869h5M1392 3843h5M1300 3748h5M1120 3771h5M1219 3788h5M1216 3820h5M1284 3763h5M1375 3861h5M1167 3828h5M1293 3801h5M1365 3871h5" stroke="#2b46e0" stroke-width="5" stroke-opacity="0.35"/>
<path transform="scale(.1)" d="M1312 3878h5M1315 3878h5M1297 3949h5M1306 3900h5M1293 3929h5M1291 3902h5M1300 3879h5M1322 3902h5M1255 3933h5M1246 3921h5M1341 3887h5M1348 3903h5M1372 3941h5M1200 3911h5M1270 3905h5M1331 3909h5M1231 3919h5M1310 3878h5M1287 3876h5M1267 3915h5M1316 3932h5M1239 3945h5M1316 3951h5M1335 3887h5M1240 3881h5M1330 3902h5M1359 3885h5M1344 3878h5M1348 3935h5M1209 3901h5M1218 3925h5M1251 3881h5M1227 3929h5M1365 3936h5M1346 3951h5M1270 3874h5M1236 3909h5M1372 3946h5M1279 3935h5M1298 3942h5M1254 3894h5M1236 3896h5M1318 3951h5M1290 3950h5M1185 3884h5M1253 3940h5M1288 3923h5M1336 3883h5M1282 3900h5M1237 3878h5M1271 3900h5M1362 3898h5M1347 3896h5M1254 3908h5M1196 3938h5M1263 3880h5M1221 3890h5M1203 3922h5M1212 3893h5M1307 3883h5M1344 3931h5M1273 3901h5M1329 3879h5M1246 3945h5M1329 3922h5M1215 3887h5M1347 3919h5M1371 3924h5M1360 3905h5M1315 3905h5" stroke="#2b46e0" stroke-width="5" stroke-opacity="0.5"/>
<path transform="scale(.1)" d="M1057 4009h5M1063 3985h5M1056 4009h5M971 4128h5M987 4065h5M1000 4037h5M1004 4069h5M951 4058h5M1014 4029h5M919 4095h5M1020 4038h5M969 4078h5M979 4064h5M1001 3994h5M970 4044h5M960 4106h5M989 4061h5M983 4023h5M1052 4016h5M970 4059h5M1029 3996h5M1046 4012h5M1086 4030h5M990 4077h5M1022 4006h5M1052 3983h5M1028 4024h5M935 4094h5M1035 4034h5M981 4050h5M1058 4027h5M1060 4036h5M985 4048h5M1022 4044h5M1057 4035h5M1038 4026h5M988 4060h5M973 4041h5M1009 4053h5M1065 3976h5M1008 4089h5M1124 3964h5M1073 4025h5M1047 4002h5M1045 4012h5M1023 4069h5M1015 4035h5M1017 4057h5M1010 4040h5M1030 4032h5M1031 4033h5M1014 4011h5M1058 3998h5M1005 4018h5M998 4035h5M1016 4018h5M996 3998h5M1078 4030h5M974 4033h5M1063 4000h5M941 4124h5M980 4085h5M1102 3985h5M1003 4027h5M970 4075h5M994 4024h5M1043 4018h5M1007 4059h5M966 4076h5M993 4043h5M1008 4065h5M1058 3975h5M1053 4023h5M1037 4053h5M1070 3953h5M1036 4039h5M1001 4014h5M997 4011h5M1034 4044h5M1081 3977h5M1041 4025h5M1034 4057h5M1005 4058h5M1086 4004h5M967 4067h5M1052 4013h5M998 4038h5M1007 4070h5M1012 4058h5M1062 4038h5M1091 3974h5M980 4064h5M1095 3999h5M1042 4067h5M1033 4027h5M1101 3961h5M1037 4053h5M1024 4035h5M1027 4017h5M1026 4072h5M1013 3993h5M1022 4011h5M1016 4082h5M1063 4015h5M1013 4010h5M1020 4049h5M1024 3981h5M1002 4037h5M1033 4002h5M999 4004h5M984 4064h5M1040 4025h5M997 4012h5M998 4044h5M1006 4032h5M1044 4004h5M1021 4041h5M1066 4030h5M987 4086h5M1046 4032h5M1042 3999h5M1051 4066h5M1078 3928h5M950 4131h5M994 4043h5M1060 4022h5M990 4074h5M1013 3987h5M1007 4058h5M1053 3992h5M1037 4022h5M990 4071h5M1016 4037h5M955 4047h5M1031 4017h5M1090 4009h5M1052 4018h5M1044 4017h5M1055 4054h5M1125 4013h5M989 4029h5M1028 4052h5M1046 4026h5M1076 3971h5M1058 4007h5M1025 4052h5M997 4056h5M984 4034h5M1068 3993h5M1075 3973h5M1007 4036h5M1021 3989h5M985 4017h5M979 4066h5M1047 4056h5M1098 3991h5M1040 4056h5M1042 4045h5M983 4004h5M1028 4004h5M1046 4027h5M1051 4023h5M1040 4013h5M1067 4007h5M984 4059h5M1086 4004h5M1065 4018h5M1028 4088h5M1076 4046h5M953 4040h5M1035 4063h5M1096 4011h5M1070 4011h5M1014 4052h5M1036 4043h5M1051 3998h5M1031 4077h5M990 4067h5M996 4060h5M1041 3998h5M1042 4030h5M1015 4087h5M1051 4065h5M955 4042h5M1025 4059h5M1046 4027h5M997 4052h5M1066 4030h5M1018 4027h5M1055 4060h5M1071 4005h5M993 4060h5M1010 4029h5M899 4165h5M988 4062h5M1027 4039h5M975 4054h5M1016 4076h5M980 4026h5M985 4082h5M1003 3940h5M973 4057h5M969 4094h5M1081 4078h5M995 4075h5M1185 3953h5M1072 4067h5M1119 3963h5M1128 4058h5M1012 4025h5M1093 4014h5M1075 4007h5M1012 4036h5M997 3967h5M1113 4075h5M975 4013h5M1133 3997h5M1041 3979h5M985 4106h5M1083 3974h5M1099 4026h5M1027 3999h5M984 4011h5M864 4043h5M1062 4041h5M995 4050h5M1138 3970h5M1127 4038h5M992 4105h5M965 4107h5M1000 4101h5M956 4050h5M1075 3980h5M1041 4079h5M1064 3988h5M1087 4032h5M1039 4051h5M1068 4026h5M1118 4047h5M1073 4089h5M1064 3988h5M1053 4068h5M1136 4056h5M1017 4027h5M938 4047h5M1008 4081h5M1011 4078h5M992 4039h5M1122 4005h5M1052 4083h5M983 4078h5M990 4110h5M1059 3998h5M1044 4086h5M1023 4001h5M978 4133h5M1144 4007h5M1079 4008h5M1004 4011h5M1070 4001h5M1070 4009h5M1062 4057h5M1107 4113h5M1105 3969h5M1074 4069h5M1132 3896h5M993 3977h5M1050 4011h5M1072 4054h5M956 4057h5M1038 4004h5M978 4008h5M925 4102h5M1166 4022h5M1201 3964h5M988 3985h5M1043 3997h5M981 4003h5M988 4103h5M999 4045h5M1087 4053h5M1016 4136h5M1023 4021h5M1016 3956h5M1009 4052h5M996 4023h5M1062 4015h5M992 4031h5M1008 4016h5M1117 4004h5M964 4059h5M981 4094h5M1059 4006h5M1047 4043h5M1074 4068h5M1055 4065h5M1112 3917h5M959 4018h5M1003 4049h5M1017 3961h5" stroke="#2a40e8" stroke-width="5" stroke-opacity="0.7"/>
<ellipse cx="102.9" cy="403.1" rx="8.5" ry="4" fill="#2a44ea" fill-opacity="0.6" filter="url(#b12)" transform="rotate(-35 102.9 403.1)"/>
<ellipse cx="102.9" cy="403.1" rx="6.63" ry="3.12" fill="#2a62f2" fill-opacity="0.75" filter="url(#b8)" transform="rotate(-35 102.9 403.1)"/>
<ellipse cx="102.9" cy="403.1" rx="4.93" ry="2.32" fill="#26c0f0" fill-opacity="0.9" filter="url(#b8)" transform="rotate(-35 102.9 403.1)"/>
<ellipse cx="102.9" cy="403.1" rx="3.74" ry="1.76" fill="#40dc90" fill-opacity="0.92" filter="url(#b8)" transform="rotate(-35 102.9 403.1)"/>
<path transform="scale(.1)" d="M1263 4039h5M1294 3963h5M1325 4054h5M1305 4023h5M1195 4090h5M1243 4164h5M1291 4045h5M1334 4051h5M1275 4070h5M1269 4125h5M1227 4038h5M1194 4026h5M1223 4096h5M1249 4067h5M1231 4044h5M1277 3963h5M1218 4078h5M1298 4018h5M1232 4067h5M1354 4015h5M1249 4031h5M1329 4062h5M1258 4083h5M1227 4098h5M1315 4007h5M1229 4082h5M1270 4075h5M1221 4102h5M1350 4008h5M1320 4050h5M1311 4030h5M1330 3927h5M1260 3962h5M1243 4084h5M1313 4068h5M1325 4068h5M1245 4082h5M1195 4029h5M1259 4069h5M1228 4062h5M1218 4061h5M1210 4041h5M1213 3983h5M1183 4140h5M1279 4016h5M1201 4119h5M1218 4131h5M1347 3964h5M1242 4111h5M1297 3954h5M1292 3995h5M1305 4037h5M1196 4068h5M1414 3949h5M1345 3975h5M1300 4041h5M1257 4059h5M1308 4027h5M1252 4045h5M1330 3954h5M1245 4085h5M1206 4034h5M1147 4061h5M1226 4159h5M1176 3995h5M1272 4110h5M1228 4147h5M1205 4098h5M1267 4086h5M1226 4081h5M1249 4117h5M1238 4008h5M1214 4087h5M1246 4060h5M1275 4032h5M1288 3971h5M1313 4057h5M1313 4023h5M1229 4040h5M1178 4123h5M1268 4116h5M1232 4118h5M1324 4075h5M1261 4128h5M1225 4135h5M1314 3956h5M1309 4048h5M1208 4068h5M1203 4126h5M1269 4138h5M1298 4068h5M1327 4087h5M1319 3967h5M1217 4001h5M1255 4009h5M1324 4017h5M1261 4108h5M1196 4090h5M1169 4138h5M1252 4097h5M1295 3993h5M1344 4016h5M1164 4159h5M1303 4095h5M1307 4012h5M1254 4091h5M1321 3972h5M1250 4122h5M1194 4123h5M1284 3976h5M1226 4028h5M1337 3955h5M1277 4004h5M1387 3970h5M1287 4051h5M1204 4142h5M1310 3966h5M1247 4053h5M1294 4025h5M1216 4152h5M1250 4068h5M1235 4056h5M1244 4011h5M1204 4117h5M1307 3976h5M1252 4056h5M1259 4034h5M1339 3971h5M1281 4050h5M1330 4029h5M1267 4056h5M1266 4018h5M1239 4076h5M1284 4023h5M1136 4152h5M1263 4029h5M1255 4037h5M1324 3998h5M1270 3980h5M1298 3973h5M1338 3935h5M1214 4017h5M1255 4015h5M1262 4098h5M1348 3914h5M1159 4069h5M1250 4088h5M1185 4099h5M1356 3993h5M1291 3961h5M1207 4066h5M1246 4058h5M1305 4035h5M1314 4032h5M1302 3987h5M1238 4047h5M1355 3929h5M1211 4076h5M1253 4065h5M1266 4053h5M1322 3942h5M1309 4067h5M1186 4096h5M1288 3963h5M1265 4004h5M1349 4041h5M1217 4063h5M1244 4021h5M1197 4095h5M1300 4092h5M1333 4023h5M1303 3988h5M1241 4120h5M1268 4120h5M1237 4047h5M1299 4026h5M1280 4006h5M1248 3998h5M1251 3989h5M1292 4037h5M1328 3996h5M1222 4091h5M1327 4017h5M1260 4084h5M1314 3951h5M1306 4027h5M1275 4057h5M1347 3973h5M1278 4031h5M1226 4038h5M1189 4070h5M1236 4038h5M1230 4157h5M1287 4076h5M1368 4002h5M1207 3999h5M1289 4018h5M1142 4075h5M1345 4008h5M1364 4003h5M1337 3989h5M1315 4043h5M1300 4017h5M1288 3999h5M1291 4127h5M1402 3947h5M1231 4077h5M1330 3999h5M1315 4086h5M1279 4039h5M1259 4028h5M1272 3956h5M1296 4055h5M1360 3969h5M1247 4123h5M1311 4002h5M1219 4048h5M1266 4065h5M1407 3902h5M1238 3999h5M1209 4095h5M1265 4048h5M1360 4016h5M1311 3960h5M1234 4050h5M1177 4097h5M1270 4004h5M1294 4003h5M1255 4071h5M1353 4096h5M1253 4086h5M1206 4109h5M1352 3975h5M1310 3905h5M1242 4093h5M1211 4087h5M1234 4131h5M1255 4063h5M1208 4105h5M1366 3966h5M1252 4025h5M1264 4060h5M1362 3942h5M1259 4052h5M1234 4107h5M1210 4085h5M1312 4111h5M1342 3944h5M1314 4002h5M1299 4007h5M1352 4036h5M1307 4072h5M1298 4059h5M1246 4113h5M1222 4072h5M1340 4083h5M1322 4047h5M1294 4003h5M1198 4087h5M1210 4149h5M1276 4048h5M1348 4057h5M1269 4066h5M1318 4029h5M1301 4081h5M1252 4076h5M1205 4143h5M1259 4043h5M1259 4092h5M1377 4050h5M1267 4087h5M1337 4037h5M1237 4058h5M1261 4030h5M1259 4025h5M1309 4060h5M1292 4046h5M1332 4015h5M1251 3988h5M1266 4133h5M1239 4081h5M1297 3967h5M1163 4138h5M1335 4018h5M1361 4056h5M1277 3936h5M1191 4140h5M1219 4164h5M1187 4155h5M1243 4113h5M1361 3934h5M1146 4168h5M1238 4090h5M1324 3953h5M1203 4054h5M1167 4106h5M1279 4067h5M1264 4023h5M1267 4011h5M1280 3961h5M1172 4181h5M1295 4147h5M1249 4106h5M1352 4064h5M1290 3891h5M1111 4174h5M1350 4028h5M1326 4164h5M1332 4105h5M1202 3997h5M1285 4119h5M1348 3964h5M1423 3884h5M1350 4010h5M1209 4020h5M1286 4027h5M1273 4086h5M1319 4102h5M1320 3951h5M1379 3919h5M1132 4113h5M1288 4096h5M1307 4127h5M1381 3829h5M1258 3994h5M1285 3868h5M1324 3954h5M1310 4038h5M1210 4055h5M1432 3912h5M1385 4062h5M1290 4126h5M1202 3991h5M1252 4100h5M1187 4072h5M1337 3989h5M1181 4018h5M1379 4033h5M1326 4052h5M1334 4096h5M1369 3966h5M1346 3957h5M1437 3958h5M1341 4094h5M1300 4008h5M1281 4000h5M1324 3987h5M1391 4107h5M1120 4216h5M1335 3903h5M1274 4189h5M1377 3888h5M1289 4001h5M1260 4131h5M1333 3987h5M1232 4127h5M1226 4064h5M1303 4022h5M1238 4176h5M1244 4060h5M1180 4101h5M1186 4152h5M1212 4087h5M1319 3923h5M1295 3938h5M1200 3982h5M1314 4055h5M1042 4255h5M1309 4019h5M1227 4086h5M1325 4012h5M1209 4199h5M1234 4107h5M1269 4021h5M1382 3973h5M1386 4071h5M1244 4073h5M1332 3966h5M1245 4131h5M1257 3941h5M1285 3971h5M1285 4049h5M1379 3943h5M1334 3947h5M1269 3995h5M1362 3939h5M1292 4123h5M1351 3997h5M1317 4026h5M1300 4015h5M1276 4084h5M1325 4126h5M1282 4034h5M1155 4165h5M1189 3985h5M1203 4063h5M1308 4079h5M1190 4197h5M1394 3996h5M1199 3992h5M1321 3999h5M1351 4018h5M1201 4005h5M1165 4044h5M1279 4003h5M1052 4128h5M1236 3952h5M1211 4221h5M1221 4037h5M1332 4099h5M1326 4100h5M1305 3991h5M1270 3941h5M1156 4125h5M1303 3934h5M1208 4036h5M1245 4021h5M1271 3967h5M1307 4081h5M1159 4077h5M1118 4063h5M1332 3972h5M1298 3961h5M1318 4078h5M1353 4069h5M1164 3985h5M1148 4107h5M1215 4030h5M1170 4115h5M1179 4159h5M1285 4076h5M1346 3931h5M1347 3893h5M1206 4072h5M1265 4164h5M1160 4218h5M1297 4025h5M1289 4079h5M1330 3934h5M1330 4077h5M1187 4237h5M1196 4101h5M1360 3995h5M1253 4027h5M1233 4098h5M1361 4029h5M1294 4030h5M1313 3945h5M1275 4061h5M1291 4096h5" stroke="#2a40e8" stroke-width="5" stroke-opacity="0.7"/>
<ellipse cx="127" cy="404.5" rx="12.5" ry="6" fill="#2a44ea" fill-opacity="0.6" filter="url(#b12)" transform="rotate(-52 127 404.5)"/>
<ellipse cx="127" cy="404.5" rx="9.75" ry="4.68" fill="#2a62f2" fill-opacity="0.75" filter="url(#b8)" transform="rotate(-52 127 404.5)"/>
<ellipse cx="127" cy="404.5" rx="7.25" ry="3.48" fill="#26c0f0" fill-opacity="0.9" filter="url(#b8)" transform="rotate(-52 127 404.5)"/>
<ellipse cx="127" cy="404.5" rx="5.5" ry="2.64" fill="#40dc90" fill-opacity="0.92" filter="url(#b8)" transform="rotate(-52 127 404.5)"/>
<ellipse cx="127" cy="404.5" rx="4" ry="1.92" fill="#c4ec34" fill-opacity="0.92" filter="url(#b8)" transform="rotate(-52 127 404.5)"/>
<ellipse cx="127" cy="404.5" rx="2.62" ry="1.26" fill="#f6d422" fill-opacity="0.92" filter="url(#b8)" transform="rotate(-52 127 404.5)"/>
<ellipse cx="127" cy="404.5" rx="1.5" ry="0.72" fill="#ff7a1c" fill-opacity="0.92" filter="url(#b8)" transform="rotate(-52 127 404.5)"/>
</g>
<rect x="92.3" y="364.2" width="51.7" height="51" fill="none" stroke="#888" stroke-width="0.6"/>
<line x1="115.4" y1="364.2" x2="115.4" y2="415.2" stroke="#444" stroke-width="0.6"/>
<line x1="92.3" y1="394.4" x2="144" y2="394.4" stroke="#444" stroke-width="0.6"/>
<text x="142.4" y="371.6" font-size="5.8" text-anchor="end" font-weight="bold" textLength="11.2" lengthAdjust="spacingAndGlyphs">2.56</text>
<text x="84.3" y="376.6" font-size="4.3" fill="#222">10<tspan font-size="2.67" dy="-1.94">4</tspan></text>
<text x="84.3" y="392.7" font-size="4.3" fill="#222">10<tspan font-size="2.67" dy="-1.94">3</tspan></text>
<text x="84.3" y="409.2" font-size="4.3" fill="#222">10<tspan font-size="2.67" dy="-1.94">2</tspan></text>
<text x="99.1" y="425" font-size="4.3" fill="#222">10<tspan font-size="2.67" dy="-1.94">2</tspan></text>
<text x="116.5" y="425" font-size="4.3" fill="#222">10<tspan font-size="2.67" dy="-1.94">3</tspan></text>
<text x="133.7" y="425" font-size="4.3" fill="#222">10<tspan font-size="2.67" dy="-1.94">4</tspan></text>
<text x="166.5" y="359.6" font-size="6.4" fill="#222" textLength="30.3" lengthAdjust="spacingAndGlyphs">BMSC-CM</text>
<g clip-path="url(#c18)">
<path transform="scale(.1)" d="M1602 3979h5M1983 3974h5M1712 3992h5M1833 4058h5M2066 4083h5M2059 3992h5M1684 4085h5M1985 4042h5M1991 4045h5M1701 4082h5M1854 3994h5M1705 4014h5M1945 4049h5M2071 3979h5M1729 4017h5M2061 4115h5M1894 4063h5M1663 4145h5M1763 4023h5M1793 3974h5M1648 4030h5M2001 4026h5M1841 3962h5M2043 4024h5M1977 4113h5M1960 4042h5M1883 4049h5M1651 4045h5M1725 4067h5M1756 3980h5M1615 4092h5M1670 4128h5M1943 3955h5M1619 4061h5M1792 4022h5M1614 4063h5M1601 4071h5M1742 3994h5M1783 4094h5M1993 4015h5M2054 4106h5M1762 4105h5M2092 4036h5M1886 4076h5M1995 4124h5M1934 4128h5M1684 3994h5M1961 3996h5M1711 4005h5M1953 4124h5M2055 4062h5M1910 4034h5M2032 4046h5M1884 4081h5M2023 4141h5M1651 3964h5M1963 4132h5M1930 4036h5M1723 4027h5M2089 4029h5" stroke="#2b46e0" stroke-width="5" stroke-opacity="0.6"/>
<path transform="scale(.1)" d="M2048 3857h5M1924 3832h5M1839 3908h5M2075 3937h5M1993 3905h5M1824 3890h5M2050 3919h5M1905 3927h5M2023 3843h5M1927 3837h5M2010 3953h5M1834 3878h5M1979 3836h5M1927 3882h5M1971 3881h5M2029 3865h5M1889 3880h5M2056 3877h5M1886 3863h5M1842 3948h5M1990 3949h5M1874 3829h5M2017 3880h5M2039 3860h5M1922 3824h5M1829 3887h5M1859 3870h5M2010 3842h5M2060 3940h5M1935 3885h5M1920 3868h5M1996 3853h5M1907 3886h5M1867 3941h5M1842 3874h5M1964 3871h5M2015 3843h5M1868 3923h5M1930 3842h5M1987 3873h5M1965 3885h5M1926 3866h5M1815 3884h5M1931 3914h5M1867 3924h5M2046 3855h5M2007 3831h5M1972 3873h5M1976 3849h5M1892 3868h5M1965 3867h5M1923 3836h5M2029 3921h5M2028 3862h5M2029 3829h5M2027 3854h5M1916 3942h5M1902 3925h5M1889 3889h5M1928 3925h5M1845 3953h5M2051 3889h5M1882 3832h5M1934 3832h5M1871 3938h5M1825 3917h5M1855 3928h5M1925 3945h5M1980 3825h5M1989 3923h5" stroke="#2b46e0" stroke-width="5" stroke-opacity="0.5"/>
<path transform="scale(.1)" d="M2027 3852h5M1894 3814h5M1804 3777h5M1899 3812h5M1889 3778h5M1875 3761h5M2007 3786h5M1834 3881h5M2034 3764h5M1829 3761h5M1914 3862h5M1992 3867h5M1803 3883h5M1904 3747h5M1899 3781h5M1882 3822h5M1784 3800h5M1872 3775h5M1858 3836h5M1909 3824h5M2013 3753h5M1860 3878h5M1941 3794h5M1896 3876h5M1807 3867h5M1931 3761h5M1841 3798h5M1770 3806h5M1869 3865h5M1767 3854h5M1977 3785h5M1846 3849h5M1755 3856h5M2002 3779h5M1949 3799h5M1755 3877h5M1793 3825h5M1851 3867h5M1975 3780h5M1950 3779h5" stroke="#2b46e0" stroke-width="5" stroke-opacity="0.35"/>
<path transform="scale(.1)" d="M1870 3932h5M1950 3890h5M2035 3883h5M2002 3879h5M1918 3893h5M1953 3930h5M1945 3947h5M1906 3941h5M1947 3922h5M2034 3912h5M1904 3900h5M1854 3919h5M1883 3918h5M1884 3873h5M1898 3905h5M1895 3899h5M1953 3903h5M2023 3942h5M1964 3904h5M1967 3919h5M1876 3908h5M1978 3942h5M1940 3916h5M2000 3878h5M1928 3943h5M1966 3933h5M1969 3952h5M1891 3929h5M1878 3909h5M1907 3932h5M1847 3919h5M1896 3896h5M1941 3932h5M1913 3944h5M2011 3931h5M1889 3879h5M1857 3918h5M1894 3940h5M1916 3898h5M1896 3920h5M1990 3948h5M1915 3952h5M2008 3896h5M1857 3893h5M2011 3880h5M1997 3883h5M1970 3947h5M1904 3892h5M1969 3922h5M1846 3933h5M1930 3940h5M2027 3940h5M2001 3941h5M1976 3880h5M1891 3883h5M1929 3904h5M1995 3881h5M1931 3907h5M2003 3951h5M1975 3927h5M1990 3920h5M1987 3902h5M2028 3910h5M1934 3929h5M1986 3882h5M1855 3892h5M1883 3934h5M2028 3911h5M1879 3928h5M1953 3948h5" stroke="#2b46e0" stroke-width="5" stroke-opacity="0.5"/>
<path transform="scale(.1)" d="M2007 3854h5M2065 3830h5M1839 3840h5M1861 3838h5M2023 3824h5M1948 3863h5M2013 3821h5M1845 3905h5M1948 3760h5M1873 3924h5M1880 3847h5M2056 3791h5M2041 3825h5M2069 3939h5M2020 3905h5M1828 3802h5M1924 3817h5M2001 3820h5M1898 3890h5M1888 3864h5M1914 3848h5M1959 3790h5M2040 3861h5M2069 3862h5M2034 3925h5M2026 3786h5M1853 3940h5M1863 3765h5M1934 3823h5M1885 3756h5M1870 3762h5M1958 3863h5M1879 3836h5M2007 3805h5M2053 3873h5M2003 3771h5M1998 3919h5M2021 3806h5M1876 3933h5M1969 3813h5M1833 3934h5M1915 3800h5M2014 3868h5M1929 3779h5M1961 3819h5M1993 3751h5M1873 3824h5M1914 3839h5M1975 3784h5M2020 3776h5M1900 3790h5M1995 3856h5M1963 3863h5M1889 3856h5M2039 3908h5M2046 3824h5M1903 3838h5M2069 3819h5M2054 3758h5M1875 3872h5M1960 3885h5M1966 3927h5M1889 3760h5M2036 3913h5M2017 3808h5M1896 3940h5M1892 3889h5M1923 3904h5M1963 3866h5M1841 3924h5M1852 3933h5M1979 3828h5M1899 3775h5M1853 3918h5M1817 3807h5M1867 3912h5M2019 3766h5M1948 3830h5M2012 3922h5M1987 3934h5M1878 3889h5M1897 3926h5M1849 3935h5M1916 3937h5M2054 3829h5M1998 3863h5M1833 3873h5M2014 3795h5M1954 3837h5M1886 3775h5M1996 3820h5M2001 3928h5M1909 3902h5M1890 3934h5M1969 3846h5M1958 3865h5M1950 3861h5M1939 3937h5M2015 3796h5M1922 3939h5M1956 3828h5M2016 3896h5M2022 3899h5M1835 3931h5M1935 3845h5M1961 3915h5M1903 3929h5M1856 3818h5M1856 3840h5M1850 3774h5M1838 3887h5M1917 3823h5M1981 3772h5M1915 3798h5M1893 3864h5M1867 3924h5M1934 3919h5M1867 3879h5M1818 3878h5M2003 3772h5" stroke="#2b46e0" stroke-width="5" stroke-opacity="0.45"/>
<path transform="scale(.1)" d="M1739 4017h5M1696 4026h5M1696 4031h5M1730 4025h5M1671 4032h5M1724 4004h5M1717 4014h5M1704 3996h5M1668 4029h5M1692 4051h5M1694 4036h5M1714 4027h5M1770 3963h5M1638 4037h5M1692 4047h5M1660 4049h5M1657 4010h5M1611 4043h5M1673 4044h5M1684 4070h5M1666 4027h5M1640 4056h5M1706 4032h5M1688 4023h5M1692 4048h5M1629 4029h5M1627 4047h5M1731 4003h5M1722 4017h5M1696 4056h5M1642 4055h5M1658 4019h5M1671 4042h5M1718 4037h5M1632 4048h5M1707 4008h5M1693 3975h5M1700 4010h5M1692 4039h5M1653 4009h5M1646 4020h5M1733 3940h5M1680 3992h5M1691 3999h5M1611 4061h5M1730 4034h5M1777 4018h5M1696 4031h5M1693 4019h5M1654 4040h5M1675 4004h5M1645 4027h5M1693 4019h5M1696 4023h5M1689 3986h5M1663 4040h5M1733 3948h5M1655 3998h5M1722 3987h5M1685 4028h5M1693 4037h5M1733 4019h5M1612 4041h5M1686 4027h5M1693 3991h5M1667 4020h5M1690 4007h5M1754 3980h5M1673 4038h5M1728 3982h5M1641 4064h5M1687 4013h5M1716 4029h5M1717 4067h5M1661 4035h5M1642 4097h5M1729 4016h5M1674 4087h5M1772 3962h5M1619 4083h5M1639 4049h5M1727 3985h5M1716 4015h5M1720 4019h5M1682 4021h5M1655 3999h5M1706 3989h5M1643 4017h5M1663 4016h5M1687 4003h5M1697 4010h5M1674 3998h5M1669 3998h5M1659 3994h5M1678 4027h5M1710 4009h5M1712 4021h5M1641 4042h5M1591 4109h5M1719 3962h5M1674 4029h5M1637 4038h5M1710 3994h5M1684 4006h5M1665 4070h5M1639 4056h5M1689 4018h5M1770 3944h5M1672 4003h5M1656 3981h5M1622 4033h5M1694 4002h5M1686 3944h5M1668 4007h5M1674 4050h5M1691 4028h5M1639 4037h5M1681 3999h5M1677 4039h5M1680 4004h5M1669 4019h5M1656 4059h5M1688 4039h5M1749 3978h5M1737 3990h5M1676 4051h5M1677 4019h5M1708 3995h5M1697 4035h5M1651 4042h5M1642 4013h5M1653 4013h5M1615 4071h5M1655 4041h5M1684 4046h5M1738 4005h5M1693 4032h5M1622 4081h5M1696 4021h5M1663 4054h5M1708 3973h5M1673 4002h5M1604 4076h5M1688 4023h5M1677 4037h5M1691 3987h5M1625 4063h5M1729 4023h5M1642 4035h5M1746 4005h5M1685 4020h5M1673 4012h5M1779 3945h5M1641 4050h5M1713 3997h5M1628 4087h5M1680 4049h5M1658 4050h5M1739 4003h5M1721 3992h5M1701 4016h5M1671 4062h5M1673 3993h5M1647 4077h5M1686 4006h5M1703 3999h5M1676 4043h5M1733 4042h5M1742 3992h5M1662 4051h5M1708 4056h5M1709 3992h5M1658 4069h5M1733 3993h5M1631 4049h5M1674 4014h5M1616 4041h5M1705 3975h5M1685 3990h5M1596 4055h5M1720 4037h5M1626 4010h5M1763 3988h5M1715 3969h5M1696 3988h5M1727 3985h5M1638 4027h5M1704 3986h5M1635 4050h5M1657 4018h5M1752 4005h5M1693 3964h5M1591 4046h5M1674 4029h5M1717 3996h5M1760 3966h5M1728 3974h5M1632 4065h5M1698 4018h5M1710 4025h5M1683 4009h5M1736 3965h5M1670 4025h5M1590 4093h5M1623 4052h5M1667 4048h5M1780 4003h5M1723 4056h5M1623 4107h5M1745 3932h5M1701 3969h5M1660 4045h5M1679 4019h5M1586 4068h5M1719 3998h5M1650 3952h5M1673 4108h5M1764 3968h5M1598 4073h5M1745 3981h5M1693 3952h5M1710 4034h5M1635 4025h5M1748 3971h5M1657 4027h5M1653 3985h5M1691 4096h5M1682 4070h5M1697 4013h5M1740 4024h5M1712 3979h5M1700 4050h5M1703 4113h5M1569 4055h5M1634 4085h5M1676 4074h5M1647 4021h5M1652 4057h5M1754 3960h5M1684 3994h5M1675 4058h5M1705 3971h5M1679 4098h5M1615 4096h5M1650 4080h5M1759 3937h5M1685 3971h5M1717 4024h5M1702 4046h5M1704 4032h5M1618 3942h5M1606 4091h5M1706 4011h5M1750 3966h5M1641 4033h5M1763 4005h5M1822 3972h5M1747 3947h5M1750 3964h5M1704 4019h5M1698 4015h5M1655 4009h5M1714 4068h5M1712 3973h5M1776 3954h5M1571 4053h5M1586 4130h5M1677 4011h5M1694 4022h5M1758 3933h5M1679 4020h5M1742 3935h5M1709 4037h5M1642 4051h5M1684 4093h5M1673 4094h5M1638 3995h5M1664 3985h5M1641 4091h5M1759 4062h5M1673 4021h5M1668 4086h5M1648 4043h5M1651 3960h5M1676 4039h5M1691 3982h5M1648 3928h5M1663 4053h5M1767 4045h5M1717 3997h5M1758 4054h5M1720 4045h5M1721 3946h5M1663 4044h5M1615 4061h5M1762 3982h5M1669 4019h5M1702 4008h5M1635 4080h5M1584 4050h5" stroke="#2a40e8" stroke-width="5" stroke-opacity="0.7"/>
<ellipse cx="167.9" cy="402.7" rx="8.5" ry="4" fill="#2a44ea" fill-opacity="0.6" filter="url(#b12)" transform="rotate(-35 167.9 402.7)"/>
<ellipse cx="167.9" cy="402.7" rx="6.63" ry="3.12" fill="#2a62f2" fill-opacity="0.75" filter="url(#b8)" transform="rotate(-35 167.9 402.7)"/>
<ellipse cx="167.9" cy="402.7" rx="4.93" ry="2.32" fill="#26c0f0" fill-opacity="0.9" filter="url(#b8)" transform="rotate(-35 167.9 402.7)"/>
<ellipse cx="167.9" cy="402.7" rx="3.74" ry="1.76" fill="#40dc90" fill-opacity="0.92" filter="url(#b8)" transform="rotate(-35 167.9 402.7)"/>
<path transform="scale(.1)" d="M1972 3980h5M1946 4005h5M1865 4118h5M1915 4190h5M1876 4133h5M1879 4027h5M1952 3992h5M1814 4041h5M1960 4101h5M1939 3936h5M1979 3985h5M1974 4044h5M1852 4095h5M1989 3938h5M1873 4031h5M1942 4067h5M2021 3962h5M1915 4039h5M1962 3993h5M1857 4017h5M1885 4081h5M1911 4054h5M1909 3935h5M1936 4021h5M1858 4145h5M1870 4008h5M1938 4049h5M1926 4073h5M1899 4082h5M1938 4056h5M1944 4157h5M1903 4154h5M1932 4037h5M1950 3967h5M1897 4143h5M2083 3992h5M1883 3952h5M1973 4034h5M1963 4038h5M1988 4003h5M1883 4020h5M1919 4092h5M2019 4007h5M1921 3994h5M1924 3984h5M1926 3986h5M1980 4015h5M1917 4083h5M1943 4003h5M1935 4030h5M1844 4123h5M2046 3920h5M1865 4147h5M1960 4014h5M1991 4026h5M2056 3962h5M1891 3991h5M1880 4149h5M1942 4024h5M1957 3939h5M1857 4089h5M1906 4008h5M1921 4032h5M1915 4044h5M1881 4139h5M1917 3952h5M1917 4081h5M1892 3996h5M1906 4025h5M2002 3988h5M1968 3945h5M1934 3992h5M1952 4003h5M1865 4082h5M1942 4069h5M1938 4170h5M1949 4024h5M1930 4015h5M1962 4075h5M1878 4126h5M2005 4017h5M1870 4136h5M1837 4127h5M1934 4036h5M1933 4071h5M1971 3999h5M1884 4075h5M1962 4036h5M1899 4006h5M1912 4074h5M1862 4110h5M1931 4085h5M1945 3961h5M2032 3999h5M1902 4063h5M1881 4057h5M1788 4064h5M1978 4070h5M1893 4119h5M1902 4081h5M1930 4065h5M1966 4027h5M1998 4027h5M1866 4087h5M1948 3961h5M1974 3990h5M1984 3984h5M1926 4047h5M1872 4141h5M1961 4058h5M1923 3992h5M1943 4052h5M1958 4059h5M1937 4041h5M1888 4136h5M1962 3963h5M1881 4086h5M2059 3980h5M1908 4011h5M1866 4051h5M1905 4103h5M1927 4016h5M1960 4029h5M1982 3929h5M2034 3975h5M1920 4089h5M1945 4092h5M1938 4007h5M1990 3982h5M1896 4083h5M1984 3989h5M1905 4064h5M2005 4032h5M1928 4080h5M1997 4020h5M1969 3936h5M1941 4045h5M1988 4026h5M1946 3976h5M1886 4100h5M1916 3977h5M1926 4062h5M1963 4057h5M1900 4101h5M1980 4093h5M1893 4155h5M1878 4135h5M1903 4004h5M1902 4089h5M1976 4000h5M1865 4096h5M1991 3949h5M1816 4139h5M1831 4089h5M1958 3967h5M1906 4074h5M1895 4049h5M1835 4112h5M1961 4024h5M1868 4045h5M1899 4102h5M1899 4067h5M1925 3967h5M1865 4071h5M1974 3958h5M1867 4027h5M1961 4006h5M1924 4033h5M1859 4149h5M1958 3973h5M1946 4053h5M1897 4084h5M1948 3941h5M2032 3964h5M1825 4093h5M1949 4022h5M1933 4112h5M1996 4006h5M1845 4124h5M1976 3894h5M1954 4039h5M1948 3989h5M1843 4122h5M1996 4003h5M1921 4082h5M1943 3979h5M1890 4080h5M1987 4073h5M1937 4016h5M1968 3957h5M1885 4096h5M1813 4050h5M1910 4000h5M1888 4097h5M1979 3979h5M1871 4029h5M1905 4071h5M1994 4012h5M1953 3988h5M1861 4069h5M1904 3997h5M1934 4071h5M1940 4025h5M1890 4110h5M1961 4035h5M1902 4049h5M1836 4074h5M1928 4036h5M1890 4037h5M1949 3934h5M1935 4004h5M1930 4039h5M1914 4102h5M1930 4042h5M1900 4026h5M2021 3897h5M1967 4124h5M1897 4116h5M2033 3928h5M1953 4029h5M1882 4144h5M1977 3982h5M1905 4102h5M1990 3974h5M1900 4089h5M1845 4047h5M1927 3995h5M1859 4146h5M1926 4050h5M1946 3993h5M1946 4041h5M1933 3981h5M1921 4105h5M2009 3949h5M1886 3994h5M1986 3982h5M1913 4092h5M1899 4064h5M1942 4054h5M2009 3942h5M1899 4095h5M1869 4056h5M1865 4087h5M1835 4162h5M1921 4104h5M1860 4106h5M1865 4109h5M1927 4083h5M1945 4038h5M1884 4082h5M1866 4072h5M1865 4083h5M1862 4021h5M1921 4023h5M1956 4086h5M1999 3830h5M1884 4074h5M1888 4102h5M1923 4056h5M1961 4037h5M1944 4028h5M1910 4076h5M1949 3993h5M1929 4045h5M1892 3998h5M1928 4048h5M1861 4122h5M1880 3997h5M2013 3948h5M1966 3973h5M1904 4013h5M1905 4056h5M1987 4048h5M1842 4132h5M1965 3976h5M1905 4147h5M2016 3974h5M1937 4030h5M1932 4075h5M1931 3964h5M1966 3967h5M1932 4025h5M1943 4026h5M1975 3950h5M1969 4045h5M1933 3939h5M2021 3985h5M1943 3986h5M1848 4145h5M1892 3987h5M1905 4051h5M1956 4076h5M1843 4131h5M1914 4100h5M2032 3997h5M1979 4106h5M2004 4080h5M1849 4085h5M1904 4042h5M1842 4153h5M1751 4190h5M1878 3964h5M1895 4032h5M1918 4118h5M1911 4167h5M1861 4173h5M1898 4082h5M1836 4107h5M1896 4069h5M2001 4125h5M1865 3979h5M2031 3991h5M1906 4239h5M1936 4053h5M1885 4063h5M1938 4061h5M2047 3969h5M1952 4001h5M1831 4101h5M2001 3988h5M1881 4096h5M2054 3944h5M2024 4063h5M1872 3983h5M1902 4043h5M1955 3981h5M1907 4062h5M1835 4060h5M1860 4186h5M1916 4030h5M1971 4022h5M1771 4204h5M1886 4265h5M1921 4182h5M1853 4080h5M1763 4047h5M1920 3873h5M1870 4055h5M1977 4100h5M1815 4188h5M1892 4107h5M1873 4029h5M2005 3949h5M1898 4061h5M1921 4096h5M1913 4019h5M1785 4011h5M1864 4132h5M1892 4005h5M2068 3965h5M1923 4130h5M1870 4154h5M1823 3984h5M1903 3880h5M1935 4012h5M2028 4004h5M1779 3904h5M1982 4235h5M1919 3951h5M2062 4005h5M1940 4072h5M2077 4049h5M1890 4118h5M1874 4190h5M1782 3981h5M2024 4017h5M2057 3905h5M1744 4119h5M2008 3943h5M1837 4127h5M1954 4135h5M1920 3933h5M2001 4058h5M1883 4081h5M1889 4153h5M1812 4149h5M1899 4036h5M1959 4009h5M2017 4038h5M2124 4060h5M1954 4135h5M1845 4078h5M1911 4119h5M1861 4074h5M1903 4058h5M2046 3885h5M1904 4073h5M1829 4072h5M1957 4062h5M1867 4057h5M1895 3903h5M1842 4146h5M2025 3870h5M2011 3916h5M1871 4277h5M1941 3954h5M1961 4134h5M1980 4083h5M1958 3969h5M1950 4100h5M2067 3884h5M1853 4163h5M1842 4147h5M1924 3997h5M1859 4066h5M1979 4033h5M1900 4035h5M1715 4089h5M1942 4098h5M1820 4195h5M1975 4056h5M1980 3973h5M2031 3925h5M1828 4137h5M1977 4081h5M1946 4040h5M1833 4122h5M1863 3932h5M1996 4014h5M1911 4107h5M2015 4009h5M1950 3934h5M1843 4037h5M1840 4221h5M1872 3966h5M1988 4011h5M1716 3932h5M1886 4044h5M1970 3971h5M1916 4122h5M2038 4031h5M1899 3915h5M1933 4083h5M1783 4127h5M1882 4139h5M1909 4175h5M2017 4051h5M1951 4076h5M1821 4099h5M1947 4022h5M1990 4010h5M1826 3930h5M1980 3885h5M1932 3924h5M2020 4019h5M1873 4062h5M1819 4123h5M1871 4029h5M1733 4046h5M1888 4090h5" stroke="#2a40e8" stroke-width="5" stroke-opacity="0.7"/>
<ellipse cx="192" cy="404.5" rx="12.5" ry="6.5" fill="#2a44ea" fill-opacity="0.6" filter="url(#b12)" transform="rotate(-52 192 404.5)"/>
<ellipse cx="192" cy="404.5" rx="9.75" ry="5.07" fill="#2a62f2" fill-opacity="0.75" filter="url(#b8)" transform="rotate(-52 192 404.5)"/>
<ellipse cx="192" cy="404.5" rx="7.25" ry="3.77" fill="#26c0f0" fill-opacity="0.9" filter="url(#b8)" transform="rotate(-52 192 404.5)"/>
<ellipse cx="192" cy="404.5" rx="5.5" ry="2.86" fill="#40dc90" fill-opacity="0.92" filter="url(#b8)" transform="rotate(-52 192 404.5)"/>
<ellipse cx="192" cy="404.5" rx="4" ry="2.08" fill="#c4ec34" fill-opacity="0.92" filter="url(#b8)" transform="rotate(-52 192 404.5)"/>
<ellipse cx="192" cy="404.5" rx="2.62" ry="1.36" fill="#f6d422" fill-opacity="0.92" filter="url(#b8)" transform="rotate(-52 192 404.5)"/>
</g>
<rect x="158" y="364.2" width="51.5" height="50.8" fill="none" stroke="#888" stroke-width="0.6"/>
<line x1="181.1" y1="364.2" x2="181.1" y2="415" stroke="#444" stroke-width="0.6"/>
<line x1="158" y1="394.3" x2="209.5" y2="394.3" stroke="#444" stroke-width="0.6"/>
<text x="207.9" y="371.6" font-size="5.8" text-anchor="end" font-weight="bold" textLength="11.2" lengthAdjust="spacingAndGlyphs">3.78</text>
<text x="150.7" y="376.6" font-size="4.3" fill="#222">10<tspan font-size="2.67" dy="-1.94">4</tspan></text>
<text x="150.7" y="392.7" font-size="4.3" fill="#222">10<tspan font-size="2.67" dy="-1.94">3</tspan></text>
<text x="150.7" y="409.2" font-size="4.3" fill="#222">10<tspan font-size="2.67" dy="-1.94">2</tspan></text>
<text x="162.5" y="425" font-size="4.3" fill="#222">10<tspan font-size="2.67" dy="-1.94">2</tspan></text>
<text x="179.9" y="425" font-size="4.3" fill="#222">10<tspan font-size="2.67" dy="-1.94">3</tspan></text>
<text x="198.6" y="425" font-size="4.3" fill="#222">10<tspan font-size="2.67" dy="-1.94">4</tspan></text>
<text x="225.7" y="360.4" font-size="6.4" fill="#222" textLength="45.3" lengthAdjust="spacingAndGlyphs">lymphocyte-CM</text>
<g clip-path="url(#c19)">
<path transform="scale(.1)" d="M2424 4000h5M2283 4033h5M2677 3991h5M2509 4058h5M2320 4117h5M2365 4131h5M2673 4131h5M2393 4068h5M2387 4102h5M2317 3990h5M2655 4056h5M2376 3994h5M2371 4011h5M2582 3994h5M2503 4071h5M2657 4042h5M2551 4006h5M2470 4053h5M2743 4032h5M2408 3957h5M2328 3963h5M2290 4059h5M2751 4045h5M2417 4091h5M2508 4023h5M2499 3976h5M2731 4123h5M2459 4001h5M2643 3964h5M2681 4028h5M2268 3971h5M2451 4133h5M2429 4036h5M2491 4133h5M2750 4068h5M2642 4102h5M2383 4097h5M2278 4097h5M2591 4082h5M2646 3977h5M2486 4074h5M2629 3995h5M2301 3962h5M2344 3981h5M2358 4097h5M2434 4013h5M2721 4105h5M2619 3990h5M2530 4086h5M2737 4006h5M2526 3955h5M2379 3978h5M2541 3972h5M2537 3958h5M2477 4014h5M2274 4095h5M2289 3973h5M2624 4011h5M2425 4132h5M2661 4119h5" stroke="#2b46e0" stroke-width="5" stroke-opacity="0.6"/>
<path transform="scale(.1)" d="M2579 3942h5M2527 3828h5M2670 3843h5M2524 3902h5M2707 3907h5M2483 3880h5M2728 3918h5M2550 3928h5M2671 3915h5M2677 3835h5M2486 3856h5M2485 3892h5M2532 3951h5M2486 3888h5M2619 3949h5M2640 3949h5M2487 3852h5M2639 3925h5M2498 3860h5M2505 3937h5M2549 3939h5M2595 3887h5M2628 3939h5M2584 3852h5M2576 3901h5M2566 3888h5M2590 3863h5M2637 3876h5M2550 3874h5M2512 3899h5M2666 3841h5M2678 3946h5M2487 3858h5M2575 3885h5M2475 3954h5M2491 3914h5M2718 3918h5M2671 3830h5M2710 3929h5M2671 3874h5M2577 3934h5M2475 3875h5M2625 3842h5M2633 3860h5M2538 3921h5M2582 3864h5M2693 3847h5M2730 3933h5M2612 3896h5M2630 3872h5M2642 3857h5M2727 3870h5M2500 3893h5M2605 3876h5M2631 3830h5M2566 3940h5M2539 3890h5M2578 3891h5M2664 3851h5M2487 3916h5M2476 3839h5M2633 3877h5M2626 3904h5M2544 3850h5M2665 3877h5M2542 3849h5M2628 3912h5M2537 3939h5M2656 3834h5M2537 3869h5" stroke="#2b46e0" stroke-width="5" stroke-opacity="0.5"/>
<path transform="scale(.1)" d="M2626 3870h5M2478 3761h5M2446 3809h5M2515 3845h5M2498 3781h5M2648 3835h5M2701 3834h5M2419 3874h5M2675 3779h5M2531 3788h5M2430 3809h5M2547 3775h5M2433 3824h5M2522 3847h5M2695 3789h5M2541 3792h5M2511 3778h5M2479 3781h5M2620 3804h5M2472 3814h5M2574 3753h5M2468 3808h5M2662 3782h5M2554 3831h5M2475 3833h5M2424 3780h5M2575 3806h5M2536 3789h5M2545 3783h5M2594 3789h5M2610 3804h5M2665 3806h5M2515 3748h5M2621 3822h5M2546 3796h5M2496 3883h5M2457 3835h5M2698 3809h5M2647 3754h5M2601 3753h5" stroke="#2b46e0" stroke-width="5" stroke-opacity="0.35"/>
<path transform="scale(.1)" d="M2651 3878h5M2604 3948h5M2642 3908h5M2565 3947h5M2523 3905h5M2599 3932h5M2626 3949h5M2545 3894h5M2515 3879h5M2591 3942h5M2612 3910h5M2632 3900h5M2664 3914h5M2676 3938h5M2548 3910h5M2668 3954h5M2549 3953h5M2593 3910h5M2506 3921h5M2508 3911h5M2592 3876h5M2534 3917h5M2592 3934h5M2530 3904h5M2513 3878h5M2565 3885h5M2568 3949h5M2563 3926h5M2531 3893h5M2641 3951h5M2613 3953h5M2666 3952h5M2635 3952h5M2674 3897h5M2538 3948h5M2658 3955h5M2522 3915h5M2570 3945h5M2506 3948h5M2575 3886h5M2687 3887h5M2531 3887h5M2517 3928h5M2545 3918h5M2555 3924h5M2669 3904h5M2505 3954h5M2575 3897h5M2505 3888h5M2585 3922h5M2561 3944h5M2534 3881h5M2634 3921h5M2602 3909h5M2515 3892h5M2574 3952h5M2662 3933h5M2642 3951h5M2614 3936h5M2572 3938h5M2605 3920h5M2608 3911h5M2518 3951h5M2576 3879h5M2624 3940h5M2658 3921h5M2663 3917h5M2641 3952h5M2532 3952h5M2566 3945h5" stroke="#2b46e0" stroke-width="5" stroke-opacity="0.5"/>
<path transform="scale(.1)" d="M2307 4051h5M2332 4065h5M2318 4037h5M2388 4020h5M2351 4023h5M2289 4027h5M2370 4044h5M2425 4042h5M2350 4035h5M2357 4035h5M2279 4056h5M2340 4019h5M2363 3983h5M2395 3956h5M2312 3998h5M2365 4035h5M2337 4008h5M2381 3997h5M2301 4072h5M2382 4036h5M2330 4021h5M2316 4020h5M2355 4009h5M2333 4043h5M2389 4039h5M2350 3994h5M2427 4037h5M2348 4025h5M2287 4063h5M2310 4089h5M2259 4074h5M2351 3993h5M2329 4089h5M2246 4082h5M2445 3986h5M2264 4065h5M2281 4091h5M2305 4043h5M2301 4088h5M2191 4088h5M2340 3993h5M2387 3996h5M2380 4007h5M2346 4024h5M2335 3988h5M2285 4092h5M2390 4001h5M2289 4057h5M2388 4015h5M2312 4096h5M2258 4070h5M2253 4104h5M2430 3967h5M2317 4038h5M2340 4048h5M2374 4015h5M2377 3958h5M2331 4046h5M2356 4072h5M2324 4009h5M2350 4055h5M2414 3988h5M2382 4013h5M2311 3999h5M2361 3989h5M2382 4022h5M2369 4060h5M2369 4052h5M2311 4052h5M2462 3974h5M2295 4089h5M2346 4055h5M2297 4084h5M2360 4024h5M2299 4061h5M2426 4016h5M2313 4052h5M2420 4007h5M2332 4069h5M2339 4034h5M2319 4068h5M2377 4036h5M2363 4015h5M2296 4044h5M2358 4009h5M2339 3990h5M2341 4033h5M2318 4038h5M2287 4023h5M2418 3972h5M2397 4050h5M2345 4055h5M2445 3989h5M2320 4025h5M2348 4063h5M2474 3919h5M2360 4059h5M2342 4074h5M2399 3983h5M2375 4037h5M2284 4066h5M2301 4034h5M2393 3988h5M2349 4047h5M2385 4003h5M2366 4051h5M2345 4050h5M2346 4049h5M2372 4048h5M2354 4029h5M2262 4040h5M2448 3990h5M2297 4115h5M2294 4074h5M2421 4036h5M2426 3986h5M2337 4027h5M2294 4044h5M2291 4084h5M2331 4012h5M2380 3941h5M2354 4021h5M2290 4004h5M2373 4026h5M2319 4082h5M2336 4057h5M2318 4039h5M2337 4050h5M2352 4071h5M2351 4014h5M2279 4029h5M2428 4024h5M2369 4022h5M2311 4074h5M2339 4058h5M2357 4104h5M2357 4014h5M2374 3998h5M2303 4061h5M2345 4069h5M2419 4020h5M2400 4054h5M2418 4007h5M2411 4006h5M2383 3969h5M2357 4097h5M2329 4026h5M2337 4038h5M2381 4019h5M2301 4093h5M2435 4015h5M2407 4025h5M2351 4023h5M2334 4008h5M2318 4042h5M2359 4023h5M2404 4013h5M2299 4050h5M2283 4105h5M2395 4024h5M2324 4019h5M2337 4060h5M2391 4034h5M2339 4058h5M2407 3931h5M2330 4043h5M2368 4000h5M2371 3972h5M2366 4020h5M2304 4069h5M2393 3989h5M2306 4065h5M2317 4040h5M2416 3999h5M2359 3958h5M2286 4047h5M2311 4032h5M2360 4049h5M2403 3987h5M2370 4067h5M2297 4087h5M2376 4032h5M2366 4020h5M2391 3992h5M2336 3988h5M2398 3999h5M2284 4111h5M2327 4061h5M2357 4020h5M2378 3977h5M2385 4068h5M2378 4022h5M2283 4072h5M2342 4031h5M2334 4037h5M2313 4019h5M2313 4052h5M2326 4055h5M2392 3996h5M2291 4032h5M2423 3958h5M2272 4071h5M2358 4039h5M2256 4105h5M2332 4020h5M2346 4006h5M2480 3978h5M2393 3990h5M2424 3981h5M2231 4039h5M2321 4046h5M2366 4054h5M2335 4025h5M2331 3976h5M2383 4018h5M2368 4045h5M2159 4060h5M2258 4163h5M2282 4071h5M2403 3891h5M2265 4081h5M2403 4052h5M2291 4098h5M2261 4076h5M2302 4034h5M2415 4009h5M2254 4118h5M2396 3967h5M2351 4080h5M2333 4113h5M2285 4061h5M2308 4062h5M2312 3979h5M2346 4035h5M2286 4026h5M2358 4025h5M2245 4124h5M2455 3959h5M2326 3965h5M2396 4011h5M2341 4007h5M2416 4018h5M2369 3969h5M2438 4000h5M2439 3906h5M2342 4025h5M2396 4023h5M2316 4050h5M2259 4152h5M2337 4024h5M2324 4033h5M2353 4003h5M2297 3990h5M2388 4045h5M2322 4010h5M2375 4077h5M2308 4030h5M2371 4063h5M2372 4008h5M2306 4107h5M2325 3948h5M2478 3999h5M2410 4022h5M2332 4096h5M2452 4036h5M2312 4028h5M2482 3948h5M2218 4080h5M2383 4059h5M2270 4072h5M2299 4058h5M2309 4102h5M2290 4059h5M2366 3993h5M2342 4014h5M2427 3936h5M2358 4003h5M2282 4005h5M2340 4022h5M2360 4021h5M2280 4048h5M2266 4111h5M2388 3987h5M2360 4132h5M2350 4080h5M2291 4057h5M2280 4075h5M2323 4055h5M2338 3983h5M2448 3921h5M2390 4052h5M2367 3988h5M2298 4046h5M2201 4175h5M2467 4007h5M2454 3921h5M2351 4034h5M2378 3992h5M2230 4137h5M2419 3910h5" stroke="#2a40e8" stroke-width="5" stroke-opacity="0.7"/>
<ellipse cx="234.5" cy="403.2" rx="9.5" ry="4.3" fill="#2a44ea" fill-opacity="0.6" filter="url(#b12)" transform="rotate(-35 234.5 403.2)"/>
<ellipse cx="234.5" cy="403.2" rx="7.41" ry="3.35" fill="#2a62f2" fill-opacity="0.75" filter="url(#b8)" transform="rotate(-35 234.5 403.2)"/>
<ellipse cx="234.5" cy="403.2" rx="5.51" ry="2.49" fill="#26c0f0" fill-opacity="0.9" filter="url(#b8)" transform="rotate(-35 234.5 403.2)"/>
<path transform="scale(.1)" d="M2508 4151h5M2529 4113h5M2566 4014h5M2530 4108h5M2555 4093h5M2614 4061h5M2613 4038h5M2468 4131h5M2680 3950h5M2534 4076h5M2666 3975h5M2574 4031h5M2624 4105h5M2529 4121h5M2531 4180h5M2613 4042h5M2499 4079h5M2594 4025h5M2573 4028h5M2538 4053h5M2503 4097h5M2511 4164h5M2597 4065h5M2507 3996h5M2638 4042h5M2486 4072h5M2608 3965h5M2536 4021h5M2567 4028h5M2640 3990h5M2431 4139h5M2589 4042h5M2509 4119h5M2627 4014h5M2536 4120h5M2598 3984h5M2549 4145h5M2598 4000h5M2573 4103h5M2613 4059h5M2539 4026h5M2583 4089h5M2555 4036h5M2590 4107h5M2613 4025h5M2495 4026h5M2525 3972h5M2663 4032h5M2591 3995h5M2571 4011h5M2530 4085h5M2675 4103h5M2600 4049h5M2537 4112h5M2637 4030h5M2568 4013h5M2661 3974h5M2668 3977h5M2581 3947h5M2552 4100h5M2585 3989h5M2548 4170h5M2570 4120h5M2648 3938h5M2527 4098h5M2578 3958h5M2552 4004h5M2479 4088h5M2520 4032h5M2541 4016h5M2479 4065h5M2569 4006h5M2595 4067h5M2571 4039h5M2514 4046h5M2594 4020h5M2470 4126h5M2634 4002h5M2614 4059h5M2486 4127h5M2551 4069h5M2595 4002h5M2501 4105h5M2616 4134h5M2654 4027h5M2650 3974h5M2639 4017h5M2561 4001h5M2659 3959h5M2597 4074h5M2632 4058h5M2486 4022h5M2513 4120h5M2649 4072h5M2554 4080h5M2554 4108h5M2658 4018h5M2517 4055h5M2542 4103h5M2550 4169h5M2644 4026h5M2569 4083h5M2654 3969h5M2629 4013h5M2642 3953h5M2485 4188h5M2515 4033h5M2528 4055h5M2605 4046h5M2504 4074h5M2587 3968h5M2599 4002h5M2542 4105h5M2479 3993h5M2531 4016h5M2444 4029h5M2632 3987h5M2555 4104h5M2566 4038h5M2532 4086h5M2612 4055h5M2559 4068h5M2624 4043h5M2580 4015h5M2583 4037h5M2598 3968h5M2605 4027h5M2576 4064h5M2514 4043h5M2681 3996h5M2616 4094h5M2591 3982h5M2599 4021h5M2545 4067h5M2605 4051h5M2581 4030h5M2505 4095h5M2594 4017h5M2550 4051h5M2543 4020h5M2511 4035h5M2655 3973h5M2550 4083h5M2666 4064h5M2578 3975h5M2626 4056h5M2537 3999h5M2587 4171h5M2561 4006h5M2471 4064h5M2527 4059h5M2587 4132h5M2637 3949h5M2436 4122h5M2631 4063h5M2510 4097h5M2596 4081h5M2579 4030h5M2551 4123h5M2552 4007h5M2565 4186h5M2505 4152h5M2517 4069h5M2614 4096h5M2575 4017h5M2597 3946h5M2642 4032h5M2576 4057h5M2655 4062h5M2602 3983h5M2537 4050h5M2502 4096h5M2502 4072h5M2603 4032h5M2601 4048h5M2602 4022h5M2552 3984h5M2566 4043h5M2611 4002h5M2564 4136h5M2576 4087h5M2620 4033h5M2584 3987h5M2514 4108h5M2527 4169h5M2575 4029h5M2485 4056h5M2648 3993h5M2509 4073h5M2634 3993h5M2572 4073h5M2540 4017h5M2666 3998h5M2524 3996h5M2587 4005h5M2607 4036h5M2528 4128h5M2534 4043h5M2593 4013h5M2637 4002h5M2529 4111h5M2547 4105h5M2607 4080h5M2527 4032h5M2529 4053h5M2453 4137h5M2578 3953h5M2569 4011h5M2598 4026h5M2510 4026h5M2501 4091h5M2695 3999h5M2512 4124h5M2497 4115h5M2661 4000h5M2532 3989h5M2503 4065h5M2657 3941h5M2632 3999h5M2547 4042h5M2628 3976h5M2592 4031h5M2560 4105h5M2540 4097h5M2474 4050h5M2641 4020h5M2527 4003h5M2532 4116h5M2599 4194h5M2514 4088h5M2650 4012h5M2620 4040h5M2617 4006h5M2552 4066h5M2597 4046h5M2636 4011h5M2603 3993h5M2528 4065h5M2524 4024h5M2558 4093h5M2518 4046h5M2491 4089h5M2580 4135h5M2684 4024h5M2529 4042h5M2505 4052h5M2552 4027h5M2580 3985h5M2495 3972h5M2555 4064h5M2557 4035h5M2573 4051h5M2616 4081h5M2584 4087h5M2660 4008h5M2611 4036h5M2666 4021h5M2550 4073h5M2650 3986h5M2532 4110h5M2623 4024h5M2574 4041h5M2530 4035h5M2607 4033h5M2524 4065h5M2537 4075h5M2651 3966h5M2599 4024h5M2578 4039h5M2539 4158h5M2619 4032h5M2629 4049h5M2581 4087h5M2727 3961h5M2546 3994h5M2461 4158h5M2590 4010h5M2611 4043h5M2657 4035h5M2585 4019h5M2546 4040h5M2726 3932h5M2573 3976h5M2538 4113h5M2627 4032h5M2660 3989h5M2570 4054h5M2650 4039h5M2658 3997h5M2656 3930h5M2575 4010h5M2625 4103h5M2529 4103h5M2579 4060h5M2583 3996h5M2538 4057h5M2532 4096h5M2538 4064h5M2495 4064h5M2493 4077h5M2445 4053h5M2603 4205h5M2535 4162h5M2816 3903h5M2601 3992h5M2705 3894h5M2499 3964h5M2623 4053h5M2491 4182h5M2626 4031h5M2484 4119h5M2693 3987h5M2516 4153h5M2501 4204h5M2777 4061h5M2548 4081h5M2523 4018h5M2551 4136h5M2536 4086h5M2514 4060h5M2491 4102h5M2707 4041h5M2608 3836h5M2547 4175h5M2575 3976h5M2619 4005h5M2513 4177h5M2593 4034h5M2505 3953h5M2631 3990h5M2670 3967h5M2556 3994h5M2523 4151h5M2542 4133h5M2454 3963h5M2646 4062h5M2473 4063h5M2561 4010h5M2502 3998h5M2519 4072h5M2618 4139h5M2439 4031h5M2454 4092h5M2671 4080h5M2632 4096h5M2572 4146h5M2564 4052h5M2532 4078h5M2611 3960h5M2585 4009h5M2547 4080h5M2464 4205h5M2523 3970h5M2566 4070h5M2508 4130h5M2655 4029h5M2665 4118h5M2596 3956h5M2664 4114h5M2600 4002h5M2634 3996h5M2505 4066h5M2449 3988h5M2502 4036h5M2529 4058h5M2587 4020h5M2559 4073h5M2556 4005h5M2534 4085h5M2609 4047h5M2436 4134h5M2458 4007h5M2609 4093h5M2478 4088h5M2602 3952h5M2552 4077h5M2587 4083h5M2521 3972h5M2617 4012h5M2682 3978h5M2597 4139h5M2526 4050h5M2564 4050h5M2546 4084h5M2489 4067h5M2599 3863h5M2646 3983h5M2455 4107h5M2418 4148h5M2493 3852h5M2600 4011h5M2463 4110h5M2606 3937h5M2520 4003h5M2556 4090h5M2535 3945h5M2662 4046h5M2569 4116h5M2553 4134h5M2574 4031h5M2667 4031h5M2574 4030h5M2619 3987h5M2577 3775h5M2702 4040h5M2476 3968h5M2609 4006h5M2680 4066h5M2556 4042h5M2585 3980h5M2550 4095h5M2632 4077h5M2656 3971h5M2640 4192h5M2759 3937h5M2401 4081h5M2507 3971h5M2635 4014h5M2622 4004h5M2497 4016h5M2552 4248h5M2524 3908h5M2567 4013h5M2635 4028h5M2614 3866h5M2613 4152h5M2599 4124h5M2627 3958h5M2607 4100h5M2399 4042h5M2526 3972h5M2607 4117h5M2731 4060h5M2618 4027h5M2482 4075h5M2480 4324h5M2500 4058h5M2461 4122h5M2494 4030h5M2565 4017h5M2440 3985h5M2559 4163h5M2430 4008h5M2559 4204h5M2608 3993h5M2575 3967h5M2610 4026h5M2499 4067h5M2499 3976h5M2647 3996h5" stroke="#2a40e8" stroke-width="5" stroke-opacity="0.7"/>
<ellipse cx="257.2" cy="405" rx="11.5" ry="7" fill="#2a44ea" fill-opacity="0.6" filter="url(#b12)" transform="rotate(-50 257.2 405)"/>
<ellipse cx="257.2" cy="405" rx="8.97" ry="5.46" fill="#2a62f2" fill-opacity="0.75" filter="url(#b8)" transform="rotate(-50 257.2 405)"/>
<ellipse cx="257.2" cy="405" rx="6.67" ry="4.06" fill="#26c0f0" fill-opacity="0.9" filter="url(#b8)" transform="rotate(-50 257.2 405)"/>
<ellipse cx="257.2" cy="405" rx="5.06" ry="3.08" fill="#40dc90" fill-opacity="0.92" filter="url(#b8)" transform="rotate(-50 257.2 405)"/>
<ellipse cx="257.2" cy="405" rx="3.68" ry="2.24" fill="#c4ec34" fill-opacity="0.92" filter="url(#b8)" transform="rotate(-50 257.2 405)"/>
<ellipse cx="257.2" cy="405" rx="2.42" ry="1.47" fill="#f6d422" fill-opacity="0.92" filter="url(#b8)" transform="rotate(-50 257.2 405)"/>
<ellipse cx="257.2" cy="405" rx="1.38" ry="0.84" fill="#ff7a1c" fill-opacity="0.92" filter="url(#b8)" transform="rotate(-50 257.2 405)"/>
</g>
<rect x="224.4" y="364.2" width="51.2" height="50.3" fill="none" stroke="#888" stroke-width="0.6"/>
<line x1="247.4" y1="364.2" x2="247.4" y2="414.5" stroke="#444" stroke-width="0.6"/>
<line x1="224.4" y1="394.5" x2="275.6" y2="394.5" stroke="#444" stroke-width="0.6"/>
<text x="274" y="371.6" font-size="5.8" text-anchor="end" font-weight="bold" textLength="11.2" lengthAdjust="spacingAndGlyphs">2.11</text>
<text x="215.4" y="376.1" font-size="4.3" fill="#222">10<tspan font-size="2.67" dy="-1.94">4</tspan></text>
<text x="215.4" y="392.1" font-size="4.3" fill="#222">10<tspan font-size="2.67" dy="-1.94">3</tspan></text>
<text x="215.4" y="408.2" font-size="4.3" fill="#222">10<tspan font-size="2.67" dy="-1.94">2</tspan></text>
<text x="231.5" y="425.1" font-size="4.3" fill="#222">10<tspan font-size="2.67" dy="-1.94">2</tspan></text>
<text x="247.8" y="425.1" font-size="4.3" fill="#222">10<tspan font-size="2.67" dy="-1.94">3</tspan></text>
<text x="264.7" y="425.1" font-size="4.3" fill="#222">10<tspan font-size="2.67" dy="-1.94">4</tspan></text>
<text x="294" y="359.8" font-size="6.4" fill="#222" textLength="39.8" lengthAdjust="spacingAndGlyphs">monocyte-CM</text>
<g clip-path="url(#c20)">
<path transform="scale(.1)" d="M3409 4072h5M3410 4122h5M3161 4016h5M3271 3961h5M3298 4129h5M3225 4073h5M3329 4042h5M2997 4107h5M2964 4063h5M2937 3959h5M3191 4088h5M3100 3981h5M3391 4008h5M3212 4069h5M3345 4100h5M3399 4091h5M3351 3965h5M3142 3969h5M3214 4069h5M2931 4145h5M3023 3981h5M3396 3971h5M3071 4093h5M3080 4001h5M3387 4143h5M2948 4032h5M2990 3968h5M3412 3987h5M2915 4094h5M3085 4007h5M3316 3990h5M3333 4101h5M3274 3975h5M3148 4049h5M3048 4137h5M3120 4040h5M3360 4025h5M3259 4016h5M3177 4084h5M3323 4007h5M3097 4132h5M3196 4088h5M3067 4123h5M2962 4073h5M3149 4109h5M3010 4112h5M3298 4042h5M3087 3998h5M2998 4141h5M3074 4066h5M3048 4128h5M3278 4037h5M3197 4120h5M3010 4068h5M3181 4141h5M3301 4075h5M2989 3991h5M3164 3987h5M3162 3992h5M2979 3965h5" stroke="#2b46e0" stroke-width="5" stroke-opacity="0.6"/>
<path transform="scale(.1)" d="M3392 3950h5M3294 3885h5M3162 3935h5M3173 3894h5M3396 3924h5M3342 3836h5M3202 3910h5M3205 3859h5M3268 3926h5M3403 3841h5M3319 3924h5M3319 3845h5M3395 3827h5M3210 3907h5M3206 3868h5M3352 3889h5M3150 3837h5M3291 3881h5M3310 3918h5M3145 3877h5M3184 3934h5M3361 3853h5M3209 3938h5M3173 3933h5M3291 3870h5M3246 3912h5M3378 3881h5M3324 3880h5M3365 3876h5M3349 3866h5M3235 3947h5M3306 3912h5M3221 3901h5M3220 3932h5M3216 3872h5M3237 3881h5M3163 3888h5M3170 3904h5M3274 3917h5M3160 3920h5M3308 3946h5M3304 3945h5M3267 3865h5M3202 3901h5M3283 3939h5M3254 3882h5M3167 3876h5M3160 3841h5M3329 3886h5M3287 3896h5M3391 3854h5M3362 3840h5M3228 3910h5M3209 3872h5M3371 3894h5M3365 3878h5M3334 3886h5M3255 3836h5M3298 3939h5M3318 3918h5M3184 3834h5M3235 3945h5M3156 3894h5M3230 3922h5M3382 3927h5M3318 3847h5M3270 3847h5M3185 3875h5M3188 3848h5M3337 3865h5" stroke="#2b46e0" stroke-width="5" stroke-opacity="0.5"/>
<path transform="scale(.1)" d="M3101 3763h5M3227 3851h5M3259 3774h5M3253 3772h5M3248 3844h5M3306 3840h5M3332 3873h5M3345 3859h5M3346 3834h5M3324 3862h5M3306 3770h5M3157 3830h5M3223 3844h5M3177 3860h5M3192 3773h5M3263 3854h5M3231 3856h5M3210 3839h5M3148 3799h5M3148 3768h5M3126 3858h5M3127 3801h5M3101 3838h5M3116 3835h5M3086 3783h5M3225 3745h5M3245 3782h5M3116 3789h5M3360 3829h5M3131 3856h5M3352 3755h5M3378 3825h5M3341 3874h5M3193 3760h5M3320 3789h5M3242 3882h5M3354 3880h5M3377 3777h5M3225 3857h5M3207 3783h5" stroke="#2b46e0" stroke-width="5" stroke-opacity="0.35"/>
<path transform="scale(.1)" d="M3252 3947h5M3221 3924h5M3183 3936h5M3292 3878h5M3288 3933h5M3263 3947h5M3292 3914h5M3277 3907h5M3191 3884h5M3254 3915h5M3256 3919h5M3342 3898h5M3365 3948h5M3198 3900h5M3225 3900h5M3287 3886h5M3288 3933h5M3206 3929h5M3224 3900h5M3229 3919h5M3333 3902h5M3230 3899h5M3322 3892h5M3311 3900h5M3297 3875h5M3206 3906h5M3205 3928h5M3313 3951h5M3232 3920h5M3285 3888h5M3236 3936h5M3364 3880h5M3237 3899h5M3182 3899h5M3308 3938h5M3210 3938h5M3259 3880h5M3182 3923h5M3244 3923h5M3317 3931h5M3276 3926h5M3318 3905h5M3183 3940h5M3208 3919h5M3237 3912h5M3208 3908h5M3304 3929h5M3264 3915h5M3339 3904h5M3265 3915h5M3225 3879h5M3346 3947h5M3199 3938h5M3221 3896h5M3314 3904h5M3215 3931h5M3207 3904h5M3239 3942h5M3311 3946h5M3222 3930h5M3188 3882h5M3178 3920h5M3325 3913h5M3285 3925h5M3347 3911h5M3222 3904h5M3304 3908h5M3261 3919h5M3183 3927h5M3328 3934h5" stroke="#2b46e0" stroke-width="5" stroke-opacity="0.5"/>
<path transform="scale(.1)" d="M2973 4051h5M2969 4020h5M3046 3997h5M3047 3997h5M3007 4021h5M2986 4022h5M3040 3977h5M3004 4041h5M3072 4016h5M2979 4048h5M2987 4004h5M2988 3995h5M2950 4040h5M3029 3962h5M3001 3942h5M2997 4014h5M3002 4018h5M2963 4037h5M2969 4024h5M2977 4074h5M3007 4057h5M2978 4030h5M2971 4027h5M2974 4041h5M2990 4022h5M2954 4107h5M2990 4029h5M3023 4014h5M2891 4078h5M2984 4014h5M3045 4007h5M2952 4061h5M3037 3992h5M2943 4073h5M2957 4006h5M2966 4038h5M2998 4040h5M2991 3994h5M3000 4039h5M2965 4031h5M2977 4022h5M2954 4061h5M3008 4028h5M2977 4018h5M3010 4019h5M2998 4051h5M3005 3977h5M2980 4024h5M3027 3974h5M2980 4035h5M3042 3952h5M2934 4035h5M2915 4041h5M2955 4028h5M2978 4018h5M2943 4072h5M2998 3992h5M3027 3976h5M2987 3998h5M2973 4049h5M3008 4041h5M2998 4008h5M3034 3976h5M2967 4054h5M2977 4020h5M2977 4002h5M3013 4000h5M2984 4043h5M2940 4077h5M3002 4029h5M3025 3994h5M3017 4046h5M3002 4006h5M2948 4050h5M3027 4006h5M3025 4023h5M2958 3997h5M2964 4077h5M2970 4061h5M3007 4000h5M2960 4080h5M3003 4049h5M2970 4012h5M2987 4030h5M3005 4046h5M2996 4008h5M2950 4028h5M3032 3996h5M3037 4007h5M3032 4019h5M2951 4025h5M2955 4028h5M2974 4018h5M3001 4065h5M2985 4046h5M2937 4034h5M3088 3989h5M2997 4009h5M2951 4040h5M3053 3962h5M2953 4041h5M2986 4027h5M2970 4020h5M3008 4079h5M2998 3980h5M3060 4012h5M3021 4015h5M3043 3951h5M2979 4013h5M3028 3976h5M3003 3982h5M3036 3986h5M2946 4032h5M2967 4035h5M2981 4003h5M3050 3996h5M2977 4057h5M3038 4004h5M2943 4059h5M2962 4008h5M2983 4007h5M2973 4050h5M2933 4082h5M2971 4073h5M2958 4014h5M3109 4010h5M2923 4088h5M2909 4092h5M2975 4037h5M2980 4020h5M2951 4059h5M3009 4003h5M3028 3979h5M3033 4027h5M2955 4064h5M2962 4032h5M3089 3974h5M2978 4004h5M2999 4010h5M2985 4025h5M3082 3981h5M3008 4028h5M2966 4062h5M2983 4007h5M2993 3963h5M2978 4020h5M2944 4044h5M2995 4042h5M3033 4012h5M3012 3955h5M2942 4066h5M2953 4051h5M3032 4038h5M3023 4018h5M2996 4002h5M2961 4014h5M2994 4030h5M2965 4061h5M2984 4072h5M2984 4011h5M3036 4032h5M3000 4019h5M2946 4032h5M2940 4055h5M3051 3977h5M2943 4067h5M3005 4043h5M2991 3982h5M3000 4023h5M2977 4068h5M2982 4006h5M2999 4054h5M3063 3999h5M3006 4041h5M2940 4055h5M2958 4028h5M3111 3977h5M2950 3965h5M3042 3995h5M2950 4028h5M2963 3953h5M2947 4082h5M2948 4024h5M2978 4103h5M2960 4054h5M3018 3984h5M3001 4121h5M3041 4031h5M3025 4131h5M3005 3970h5M2939 4117h5M2966 4104h5M2893 4069h5M3058 3960h5M3025 3999h5M3050 3989h5M3016 4059h5M2990 4048h5M3119 3933h5M3042 3966h5M2949 4048h5M3070 4027h5M3015 3992h5M3021 4004h5M3101 3983h5M3006 4017h5M2975 4042h5M3059 3917h5M3033 4026h5M2951 4094h5M2996 3953h5M3040 3980h5M2950 4015h5M3023 4060h5M2993 4091h5M3126 3988h5M2965 4068h5M2939 3996h5M2961 3952h5M2970 3987h5M2906 4068h5M2987 4087h5M3100 4051h5M2996 4007h5M3019 4059h5M3020 4067h5M2967 4019h5M3076 4003h5M3023 4002h5M2986 4041h5M2939 4050h5M2953 4069h5M2907 4009h5M2948 4012h5M2933 4003h5M3121 3931h5M3088 3980h5M2963 3991h5M3049 4007h5M3003 4020h5M2920 4025h5M3011 4037h5M3035 3904h5M3015 4007h5M2947 4045h5M3017 3989h5M2978 4021h5M3046 4114h5M3135 3981h5M2950 4145h5M2986 4046h5M2980 4058h5M2965 4097h5M3011 3989h5M2968 4001h5" stroke="#2a40e8" stroke-width="5" stroke-opacity="0.7"/>
<ellipse cx="299.3" cy="402.5" rx="7.5" ry="3.8" fill="#2a44ea" fill-opacity="0.6" filter="url(#b12)" transform="rotate(-35 299.3 402.5)"/>
<ellipse cx="299.3" cy="402.5" rx="5.85" ry="2.96" fill="#2a62f2" fill-opacity="0.75" filter="url(#b8)" transform="rotate(-35 299.3 402.5)"/>
<ellipse cx="299.3" cy="402.5" rx="4.35" ry="2.2" fill="#26c0f0" fill-opacity="0.9" filter="url(#b8)" transform="rotate(-35 299.3 402.5)"/>
<path transform="scale(.1)" d="M3231 4040h5M3188 4048h5M3223 4039h5M3211 4031h5M3281 3960h5M3290 3986h5M3207 3954h5M3260 3908h5M3196 4049h5M3302 4016h5M3214 4111h5M3255 3987h5M3218 4054h5M3252 4061h5M3247 3995h5M3246 4049h5M3190 4006h5M3165 4084h5M3237 4083h5M3267 4149h5M3186 4104h5M3200 4018h5M3282 4008h5M3202 4063h5M3216 4128h5M3215 4022h5M3212 3956h5M3267 4039h5M3246 4057h5M3305 4023h5M3233 4102h5M3201 4054h5M3237 4011h5M3283 4025h5M3237 3989h5M3272 4055h5M3334 4042h5M3243 3958h5M3236 4054h5M3167 4095h5M3172 4094h5M3298 3972h5M3147 4057h5M3277 4129h5M3205 4061h5M3365 3919h5M3213 4066h5M3218 4124h5M3195 4014h5M3159 4090h5M3197 4105h5M3188 4180h5M3212 3942h5M3189 4105h5M3290 4038h5M3238 4049h5M3205 4110h5M3191 4078h5M3212 4084h5M3316 3983h5M3227 4125h5M3241 3962h5M3240 4099h5M3202 4065h5M3310 4010h5M3265 3959h5M3242 3898h5M3260 4034h5M3161 4046h5M3252 4066h5M3212 4096h5M3238 4019h5M3246 4113h5M3226 4116h5M3196 4080h5M3277 4076h5M3242 4088h5M3254 4109h5M3233 4115h5M3249 3960h5M3261 3966h5M3175 4053h5M3194 4080h5M3328 4059h5M3206 4004h5M3223 3967h5M3235 4001h5M3166 4045h5M3279 4005h5M3177 4004h5M3184 4059h5M3325 4027h5M3319 4038h5M3273 3976h5M3192 3996h5M3281 4030h5M3208 4130h5M3167 4008h5M3253 4071h5M3213 4074h5M3239 4012h5M3163 4033h5M3250 4033h5M3320 3974h5M3188 4019h5M3136 4132h5M3230 4081h5M3235 4045h5M3292 3997h5M3258 4030h5M3249 4021h5M3304 3970h5M3300 4047h5M3206 4043h5M3300 4048h5M3308 3959h5M3300 3957h5M3251 4065h5M3204 4027h5M3302 4136h5M3278 4034h5M3182 4087h5M3233 4056h5M3222 3978h5M3279 4059h5M3199 3917h5M3267 3980h5M3247 4117h5M3288 3956h5M3213 4029h5M3202 4059h5M3152 4129h5M3270 3954h5M3207 4064h5M3218 4054h5M3265 4040h5M3258 4045h5M3302 4041h5M3185 4031h5M3251 3963h5M3212 4099h5M3179 4079h5M3267 4019h5M3298 3996h5M3219 4140h5M3215 3965h5M3202 4071h5M3306 3958h5M3267 4064h5M3235 4025h5M3255 4037h5M3251 4005h5M3262 4055h5M3151 4065h5M3220 3899h5M3232 3979h5M3273 4035h5M3187 4087h5M3214 4057h5M3261 4040h5M3248 4027h5M3296 4054h5M3265 4128h5M3271 4004h5M3259 4024h5M3114 4142h5M3209 4123h5M3324 4054h5M3317 4004h5M3277 3990h5M3277 4060h5M3309 3967h5M3244 4077h5M3261 3983h5M3157 4106h5M3272 4037h5M3299 4076h5M3137 4113h5M3295 4055h5M3230 4186h5M3209 4038h5M3227 4107h5M3340 3908h5M3295 3951h5M3295 4029h5M3203 4016h5M3176 4014h5M3271 4109h5M3236 4012h5M3180 4073h5M3150 4145h5M3209 4073h5M3219 4008h5M3289 3966h5M3183 4166h5M3180 4019h5M3257 4012h5M3203 3990h5M3198 4069h5M3199 4091h5M3269 4037h5M3271 4000h5M3193 4056h5M3193 4074h5M3263 3973h5M3288 3953h5M3194 4072h5M3146 4059h5M3215 4127h5M3215 3940h5M3266 4000h5M3257 4067h5M3299 4026h5M3205 4005h5M3221 3953h5M3231 3999h5M3178 4134h5M3193 4028h5M3227 4013h5M3214 3998h5M3263 4040h5M3225 4136h5M3187 4130h5M3183 4068h5M3182 4096h5M3199 4038h5M3265 4040h5M3237 4068h5M3186 4117h5M3317 4106h5M3208 4100h5M3243 4097h5M3273 4043h5M3202 3983h5M3204 4069h5M3191 4061h5M3314 3904h5M3273 4003h5M3275 4088h5M3199 4014h5M3220 4020h5M3318 3979h5M3244 4060h5M3249 3976h5M3222 4037h5M3242 4027h5M3263 3958h5M3264 3987h5M3196 4092h5M3236 4016h5M3168 4086h5M3298 4000h5M3088 4168h5M3226 4040h5M3269 4013h5M3199 4074h5M3240 4118h5M3224 4020h5M3185 4084h5M3260 4040h5M3282 4087h5M3260 4097h5M3326 3962h5M3212 4114h5M3186 4096h5M3207 4072h5M3275 3976h5M3320 3944h5M3201 4101h5M3196 4095h5M3372 3988h5M3159 4078h5M3184 4097h5M3231 4069h5M3172 4111h5M3161 4061h5M3252 3986h5M3272 3926h5M3259 4035h5M3372 4029h5M3366 3956h5M3307 4022h5M3246 3974h5M3131 4113h5M3206 4116h5M3260 3999h5M3230 4097h5M3290 4003h5M3246 3977h5M3244 4116h5M3253 4111h5M3344 3928h5M3291 4001h5M3242 4027h5M3288 4002h5M3193 3986h5M3217 4052h5M3184 4038h5M3269 4098h5M3192 4006h5M3158 4157h5M3290 4016h5M3258 3988h5M3305 4009h5M3209 4228h5M3207 3940h5M3255 4045h5M3160 4088h5M3273 3950h5M3227 4030h5M3192 4075h5M3278 4014h5M3239 4142h5M3150 4005h5M3331 4068h5M3300 4094h5M3288 3976h5M3262 3963h5M3199 3966h5M3252 4053h5M3297 3962h5M3365 4164h5M3253 4067h5M3159 3959h5M3269 4100h5M3317 3948h5M3232 3925h5M3252 4087h5M3201 4060h5M3266 4162h5M3257 4044h5M3247 3952h5M3215 3916h5M3259 4116h5M3033 4115h5M3271 4101h5M3315 4026h5M3175 4087h5M3271 4082h5M3224 4013h5M3212 4121h5M3201 4000h5M3232 4012h5M3282 3882h5M3200 4086h5M3102 4090h5M3114 4104h5M3325 4169h5M3242 3885h5M3244 4161h5M3228 4097h5M3322 4106h5M3392 3977h5M3258 4047h5M3257 4029h5M3106 4134h5M3151 4153h5M3302 4032h5M3225 4156h5M3176 4152h5M3221 4046h5M3338 4033h5M3189 4092h5M3266 4072h5M3061 4105h5M3413 3916h5M3237 4037h5M3177 4000h5M3211 4063h5M3168 4055h5M3356 4218h5M3223 3935h5M3222 4086h5M3232 4112h5M3233 3800h5M3302 3970h5M3118 4106h5M3020 4162h5M3273 3879h5M3129 4209h5M3396 4018h5M3108 4114h5M3250 4084h5M3213 4142h5M3292 3958h5M3345 4078h5M3280 4114h5M3212 4079h5M3219 4034h5M3277 4028h5M3248 4052h5M3213 3953h5M3175 4111h5M3225 3959h5M3245 3984h5M3250 4088h5M3212 4024h5M3274 4014h5M3058 3986h5M3280 3924h5M3253 4056h5M3180 4188h5M3259 3954h5M3350 4140h5M3107 4075h5M3213 4045h5M3177 4117h5M3262 4138h5M3393 4039h5M3339 3899h5M3294 4142h5M3348 4013h5M3233 4173h5M3242 3961h5M3252 3985h5M3272 4043h5M3211 4087h5M3234 4108h5M3364 4147h5M3197 4067h5M3077 4089h5M3233 4095h5M3073 4122h5M3398 4028h5M3270 4092h5M3271 4207h5M3308 4089h5M3227 4028h5M3117 4146h5M3450 3868h5M3298 3989h5M3318 4078h5M3168 4062h5M3300 4029h5M3256 4080h5M3272 3998h5M3269 4046h5M3234 4050h5M3183 3948h5M3235 4070h5M3294 4047h5M3254 4123h5M3294 3979h5M3162 4096h5M3282 4108h5M3243 4091h5M3273 4159h5M3189 4068h5M3296 4000h5M3109 4187h5" stroke="#2a40e8" stroke-width="5" stroke-opacity="0.7"/>
<ellipse cx="323.5" cy="404.5" rx="11.5" ry="7" fill="#2a44ea" fill-opacity="0.6" filter="url(#b12)" transform="rotate(-50 323.5 404.5)"/>
<ellipse cx="323.5" cy="404.5" rx="8.97" ry="5.46" fill="#2a62f2" fill-opacity="0.75" filter="url(#b8)" transform="rotate(-50 323.5 404.5)"/>
<ellipse cx="323.5" cy="404.5" rx="6.67" ry="4.06" fill="#26c0f0" fill-opacity="0.9" filter="url(#b8)" transform="rotate(-50 323.5 404.5)"/>
<ellipse cx="323.5" cy="404.5" rx="5.06" ry="3.08" fill="#40dc90" fill-opacity="0.92" filter="url(#b8)" transform="rotate(-50 323.5 404.5)"/>
<ellipse cx="323.5" cy="404.5" rx="3.68" ry="2.24" fill="#c4ec34" fill-opacity="0.92" filter="url(#b8)" transform="rotate(-50 323.5 404.5)"/>
<ellipse cx="323.5" cy="404.5" rx="2.42" ry="1.47" fill="#f6d422" fill-opacity="0.92" filter="url(#b8)" transform="rotate(-50 323.5 404.5)"/>
<ellipse cx="323.5" cy="404.5" rx="1.38" ry="0.84" fill="#ff7a1c" fill-opacity="0.92" filter="url(#b8)" transform="rotate(-50 323.5 404.5)"/>
</g>
<rect x="290.2" y="363.8" width="52.3" height="50.7" fill="none" stroke="#888" stroke-width="0.6"/>
<line x1="314.5" y1="363.8" x2="314.5" y2="414.5" stroke="#444" stroke-width="0.6"/>
<line x1="290.2" y1="394.3" x2="342.5" y2="394.3" stroke="#444" stroke-width="0.6"/>
<text x="340.9" y="371.2" font-size="5.8" text-anchor="end" font-weight="bold" textLength="11.2" lengthAdjust="spacingAndGlyphs">2.48</text>
<text x="281.3" y="376.4" font-size="4.3" fill="#222">10<tspan font-size="2.67" dy="-1.94">4</tspan></text>
<text x="281.3" y="392.4" font-size="4.3" fill="#222">10<tspan font-size="2.67" dy="-1.94">3</tspan></text>
<text x="281.3" y="408.4" font-size="4.3" fill="#222">10<tspan font-size="2.67" dy="-1.94">2</tspan></text>
<text x="296.3" y="425.3" font-size="4.3" fill="#222">10<tspan font-size="2.67" dy="-1.94">2</tspan></text>
<text x="313.8" y="425.3" font-size="4.3" fill="#222">10<tspan font-size="2.67" dy="-1.94">3</tspan></text>
<text x="331.3" y="425.3" font-size="4.3" fill="#222">10<tspan font-size="2.67" dy="-1.94">4</tspan></text>
<text x="362.1" y="359.8" font-size="6.4" fill="#222" textLength="39.1" lengthAdjust="spacingAndGlyphs">osteocyte-CM</text>
<g clip-path="url(#c21)">
<path transform="scale(.1)" d="M3616 4129h5M3819 4005h5M3582 3970h5M3623 4029h5M3937 4036h5M3757 3965h5M3997 4112h5M3796 3983h5M3784 4102h5M3819 3965h5M3654 3978h5M3895 4048h5M3672 4088h5M3818 3984h5M3762 3962h5M3681 4097h5M3917 4059h5M3929 3963h5M3773 3977h5M4047 3994h5M3684 4096h5M3616 3971h5M4070 4020h5M3798 4075h5M4024 4041h5M3913 4112h5M3614 4040h5M4004 4032h5M4047 3982h5M3917 4062h5M3647 4050h5M3986 4045h5M3629 4125h5M3907 4041h5M3713 3953h5M4001 3995h5M3658 4067h5M4018 3988h5M3912 3983h5M3601 4059h5M3978 4002h5M3825 4115h5M4003 3981h5M4079 3965h5M3648 4106h5M3691 4117h5M3988 4093h5M3869 3975h5M3627 4006h5M3762 4042h5M3868 3965h5M4076 4070h5M3827 4104h5M4079 4026h5M3888 4122h5M4053 4078h5M4012 3965h5M3911 4044h5M3918 4080h5M3944 4031h5" stroke="#2b46e0" stroke-width="5" stroke-opacity="0.6"/>
<path transform="scale(.1)" d="M3879 3872h5M4070 3888h5M4057 3801h5M4023 3761h5M3947 3821h5M3987 3843h5M3833 3778h5M3928 3883h5M3885 3872h5M3903 3819h5M3837 3759h5M3984 3914h5M3950 3808h5M4078 3865h5M4010 3846h5M3975 3782h5M3829 3909h5M4041 3798h5M3858 3896h5M3858 3895h5M3874 3889h5M3917 3878h5M4050 3882h5M4005 3892h5M3856 3875h5M3843 3788h5M4002 3936h5M4005 3924h5M4009 3893h5M4047 3900h5M4040 3910h5M3945 3799h5M4011 3901h5M3947 3861h5M3874 3810h5M4061 3900h5M4056 3764h5M4067 3778h5M3965 3884h5M4011 3853h5M3877 3867h5M3881 3920h5M4007 3930h5M3978 3890h5M3972 3768h5M3969 3881h5M4073 3816h5M3858 3835h5M3940 3928h5M3846 3867h5M4031 3764h5M3943 3901h5M3892 3892h5M3872 3889h5M4046 3788h5M3991 3907h5M3833 3908h5M3882 3891h5M4023 3924h5M3937 3903h5M3934 3926h5M4074 3914h5M4024 3820h5M3888 3780h5M4017 3884h5M3852 3847h5M3939 3866h5M4038 3861h5M3878 3930h5M3869 3857h5M3961 3940h5M4030 3796h5M4003 3934h5M3905 3873h5M3990 3904h5M4066 3792h5M3881 3925h5M3834 3843h5M4001 3823h5M3992 3871h5M4068 3775h5M4080 3815h5M3981 3762h5M3854 3839h5M3945 3760h5M4064 3768h5M3854 3936h5M3835 3851h5M3849 3843h5M3983 3835h5" stroke="#2b46e0" stroke-width="5" stroke-opacity="0.5"/>
<path transform="scale(.1)" d="M3723 4036h5M3719 4060h5M3800 3964h5M3689 4036h5M3658 4094h5M3681 4000h5M3759 4039h5M3991 3899h5M3776 4088h5M3815 3988h5M3831 3985h5M3702 4027h5M3940 3946h5M3711 4019h5M3652 4001h5M3901 3924h5M3767 4034h5M3819 3992h5M3701 4087h5M3894 3931h5M3798 4020h5M3701 4070h5M3778 3995h5M3742 4031h5M3723 4060h5M3831 4031h5M3542 4117h5M3713 4057h5M3818 3945h5M3733 3989h5M3875 3968h5M3688 4040h5M3687 4063h5M3728 4019h5M3722 4075h5M3840 3970h5M3644 4068h5M3911 3983h5M3655 4079h5M3833 3985h5M3717 4007h5M3772 4045h5M3705 4026h5M3799 4025h5M3667 4035h5M3751 4001h5M3826 4003h5M3718 4051h5M3625 4086h5M3597 4140h5M3629 4073h5M3615 4101h5M3867 3977h5M3731 4046h5M3896 3933h5M3704 4048h5M3792 3997h5M3733 4045h5M3835 4015h5M3667 4058h5M3695 4069h5M3736 4050h5M3798 3970h5M3785 4001h5M3777 4014h5M3715 4062h5M3835 3973h5M3791 4038h5M3699 4077h5M3789 3976h5M3630 4080h5M3703 4089h5M3653 4114h5M3636 4055h5M3681 4043h5M3720 4051h5M3621 4088h5M3825 3972h5M3920 3935h5M3669 4117h5M3653 4099h5M3857 4005h5M3706 4017h5M3817 3994h5M3608 4112h5M3658 4085h5M3728 4062h5M3764 4000h5M3838 4005h5M3962 3932h5M3762 4037h5M3733 4055h5M3742 4068h5M3713 4022h5M3710 4101h5M3840 3955h5M3742 4031h5M3960 3926h5M3758 4035h5M3591 4112h5M3707 4045h5M3614 4118h5M3799 3998h5M3803 4024h5M3810 3995h5M3540 4093h5M3729 4017h5M3774 3987h5M3757 4055h5M3720 4002h5M3665 4095h5M3706 4001h5M3769 3996h5M3856 3994h5M3860 3974h5M3714 4018h5M3634 4103h5M3712 4049h5M3759 3974h5M3719 4070h5M3865 3991h5M3985 3897h5M3719 4038h5M3724 4036h5M3649 4062h5M3732 4021h5M3736 4044h5M3733 4040h5M3806 3962h5M3706 4041h5M3909 3960h5M3808 4003h5M3723 4055h5M3580 4149h5M3584 4102h5M3822 3968h5M3785 4022h5M3654 4107h5M3571 4127h5M3663 4069h5M3758 4014h5M3966 3947h5M3928 3959h5M3739 4031h5M3806 3964h5M3629 4061h5M3800 3981h5M3774 4016h5M3685 4060h5M3775 4036h5M3782 3971h5M3733 4077h5M3937 3948h5M3855 3997h5M3615 4078h5M3725 4032h5M3770 4006h5M3551 4110h5M3650 4145h5M3834 3982h5M3690 4089h5M3688 4011h5M3630 4089h5M3700 4042h5M3605 4093h5M3807 4004h5M3804 3973h5M3708 4037h5M3773 4049h5M3694 4061h5M3593 4126h5M3737 4049h5M3767 4040h5M3785 3983h5M3749 4037h5M3843 3955h5M3744 4036h5M3713 4025h5M3641 4112h5M3684 4033h5M3673 4030h5M3667 4062h5M3683 4039h5M3730 4026h5M3709 4040h5M3684 4073h5M3776 4016h5M3636 4107h5M3577 4156h5M3782 4041h5M3834 3923h5M3685 4085h5M3833 3947h5M3682 4090h5M3695 4062h5M3747 4054h5M3803 4017h5M3765 4016h5M3881 3943h5M3585 4084h5M3841 3948h5M3800 3965h5M3759 4026h5M3681 4068h5M3918 3964h5M3908 3969h5M3865 3992h5M3708 4066h5M3882 3964h5M3774 4029h5M3863 3940h5M3888 3937h5M3727 4061h5M3679 4094h5M3781 4032h5M3685 4044h5M3747 4014h5M3776 4073h5M3811 3998h5M3772 4048h5M3617 4037h5M3701 4057h5M3759 4022h5M3629 4095h5M3934 3924h5M3781 3986h5M3698 4053h5M3812 4002h5M3726 4053h5M3702 4098h5M3758 4027h5M3692 4074h5M3752 4012h5M3678 3993h5M3719 4043h5M3567 4111h5M3851 3960h5M3834 3937h5M3753 4003h5M3645 4096h5M3770 3976h5M3605 4121h5M3710 4072h5M3768 4049h5M3833 3959h5M3802 4004h5M3752 4039h5M3776 3957h5M3778 4006h5M3871 4016h5M3735 4033h5M3769 4006h5M3861 3985h5M3707 4023h5M3849 3985h5M3839 3938h5M3803 3995h5M3697 4070h5M3895 3943h5M3721 4012h5M3773 3983h5M3797 4049h5M3860 4004h5M4070 3832h5M3629 4135h5M3737 3968h5M3858 4058h5M3526 4157h5M3631 4155h5M3863 3983h5M3852 3929h5M3758 4007h5M3620 4182h5M3648 4057h5M3644 4118h5M3691 4090h5M3697 4021h5M3528 4090h5M3337 4218h5M3835 4018h5M3843 3938h5M3528 4155h5M3701 4080h5M3734 4052h5M3626 4115h5M3628 4178h5M3700 4044h5M3590 4072h5M3802 4067h5M3753 4019h5M3629 4081h5M3967 3877h5M3751 4023h5M3794 3979h5M3505 4131h5M3627 4072h5M3506 4170h5M3557 4202h5M3888 3989h5M3785 4002h5M3947 3936h5M3771 4006h5M3630 4093h5M3476 4083h5M3672 4014h5M3679 4025h5M3928 3883h5M3784 4051h5M3455 4234h5M3733 4069h5M3855 3930h5M3668 4130h5M3739 4002h5M3904 3923h5M3943 3992h5M3830 4056h5M3762 4002h5M3690 4060h5M3768 4020h5M3991 3877h5M3710 4089h5M3694 4103h5M3877 3922h5M3634 4087h5M3767 3995h5M3592 4033h5M3720 4079h5M3784 3995h5M3950 3895h5M3839 4000h5M3731 4104h5M3792 4016h5M3767 4068h5M3872 3997h5M3812 4076h5M3826 3957h5M3708 4097h5M3739 4073h5M3807 3945h5M3912 3987h5M3755 4061h5M3746 4089h5M3594 4120h5M3669 4057h5M3994 3956h5M3730 4019h5M3842 3940h5M3625 4057h5M3779 4018h5M3567 4100h5M3760 4031h5M3851 3975h5M3761 4006h5M3748 4095h5M3819 4025h5M3638 4012h5M3624 4086h5M3891 3966h5M3700 4063h5M3806 4018h5M3882 3976h5M3614 4042h5M3636 4133h5M3935 3908h5M3981 3922h5M3751 4040h5M3803 3980h5M3752 4025h5M3406 4201h5M3957 3954h5M3675 4078h5M3819 3974h5M3825 3981h5M3576 4118h5M3478 4159h5M3597 4160h5M3510 4164h5M3853 4003h5M3548 4068h5M3864 3953h5M3685 4074h5M3699 4049h5M3671 4058h5M3408 4184h5M3766 3987h5M3700 4094h5M3647 4117h5M3867 4003h5M3809 3958h5M3614 4145h5" stroke="#2a40e8" stroke-width="5" stroke-opacity="0.7"/>
<ellipse cx="374" cy="403.5" rx="19" ry="4" fill="#2a44ea" fill-opacity="0.35" filter="url(#b12)" transform="rotate(-28 374 403.5)"/>
<path transform="scale(.1)" d="M4013 4024h5M3993 3935h5M3935 3971h5M3927 3969h5M3951 4000h5M3956 3969h5M3835 4025h5M3833 3988h5M3868 4028h5M3862 4048h5M3850 3984h5M3881 3962h5M3883 3952h5M3933 4033h5M3919 4050h5M4021 3919h5M3932 4081h5M3997 3905h5M4044 3934h5M3900 4082h5M3938 3953h5M3945 4014h5M4012 3843h5M3941 3908h5M3985 3968h5M3849 4021h5M3991 3944h5M4024 3979h5M3977 4017h5M3920 3959h5M3951 4014h5M3902 4009h5M3985 3884h5M3994 3968h5M3927 3989h5M3876 3993h5M3999 3965h5M3971 4042h5M3892 3943h5M3934 4042h5M3890 4102h5M3997 3982h5M3927 4084h5M3939 3903h5M3958 3957h5M3909 4066h5M3879 3955h5M3942 3963h5M3970 3961h5M3879 3984h5M4020 3953h5M3934 4043h5M3945 3967h5M3955 3943h5M3996 3836h5M3880 3926h5M3914 3944h5M3835 4120h5M3926 3939h5M3921 3970h5M3855 3929h5M3904 3935h5M3929 3984h5M3949 4015h5M3884 4025h5M4058 3896h5M3965 3963h5M3951 3917h5M3886 4042h5M3921 4038h5M3889 4049h5M3970 4012h5M3941 3958h5M3973 4070h5M3947 3989h5M3938 3989h5M3963 4041h5M3979 3903h5M3968 3926h5M3920 4029h5M4014 3911h5M3937 4070h5M3970 3951h5M3940 3918h5M3968 3982h5M3889 3989h5M4035 4001h5M3864 4071h5M3868 4067h5M3884 4053h5M3875 4030h5M3945 4074h5M3933 3993h5M3920 4005h5M3913 4018h5M3927 4079h5M3910 3986h5M3961 3964h5M3934 3908h5M3869 3993h5M3840 4088h5M3890 4065h5M3868 4113h5M3901 3919h5M3942 3941h5M3924 3959h5M3789 4113h5M3991 3917h5M3907 4010h5M3945 3996h5M3924 3964h5M3989 3947h5M3900 4018h5M3899 4037h5M3890 4077h5M4036 3856h5M3882 3974h5M3794 4042h5M3863 4018h5M3905 3925h5M3878 4006h5M3943 3945h5M3960 3985h5M3978 3917h5M3921 4010h5M3954 3933h5M4015 3921h5M3924 4016h5M3923 4019h5M3947 3943h5M3862 3877h5M3924 3991h5M3851 4083h5M3869 4031h5M3978 4041h5M3854 4003h5M3996 3961h5M3896 3901h5M3937 3980h5M3946 3912h5M3827 3888h5M3888 4032h5M3921 4047h5M3890 4023h5M3941 3956h5M3833 4114h5M3925 3989h5M4011 3841h5M3964 3941h5M4001 4041h5M3944 4034h5M3914 4025h5M3952 4019h5M3981 4018h5M3917 3970h5M3980 4015h5M3912 3915h5M3875 3865h5M3970 3973h5M3944 3987h5M3909 3975h5M3857 4040h5M3904 4003h5M3918 4118h5M4044 3968h5M3984 4003h5M3930 4020h5M3895 3953h5M3920 3997h5M3913 4049h5M3909 3955h5M3929 4075h5M3946 3937h5M3964 3962h5M3901 4044h5M3940 4009h5M3858 3995h5M3854 4009h5M3882 3936h5M3952 3948h5M4013 3940h5M3941 4040h5M3999 3936h5M3938 3949h5M4007 4023h5M3932 4051h5M3877 3961h5M4028 3989h5M4062 3970h5M4034 3953h5M3932 3976h5M3941 3981h5M3925 3988h5M3933 3973h5M3843 4016h5M4003 4042h5M3976 3917h5M3972 4003h5M3933 4126h5M3876 4106h5M3964 4089h5M3998 3984h5M3859 4078h5M3919 3883h5M3997 3908h5M4012 4038h5M3916 4031h5M3890 3976h5M3924 3831h5M3967 3999h5M3878 4073h5M3910 3988h5M3990 4088h5M3954 3985h5M3790 4118h5M3865 4034h5M3976 4039h5M3925 4010h5M4089 4040h5M3903 4005h5M4033 3883h5M3925 4024h5M3946 4033h5M3863 4042h5M3912 4117h5M4044 3943h5M3879 3997h5M3929 3970h5M4028 3942h5M3857 4119h5M3885 3974h5M3923 4009h5M3907 3960h5M3813 4113h5M3934 4088h5M3978 3883h5M3914 4026h5M3975 3904h5M3920 4068h5M3798 4054h5M3914 3984h5M3947 4019h5M4039 3902h5M3996 3975h5M4019 3998h5M3970 4004h5M3993 3919h5M3955 3936h5M3880 3930h5M3927 3986h5M3859 3961h5M3853 4042h5M3891 3955h5M3934 4047h5M3969 3935h5M3833 4047h5M3878 3991h5M3969 3992h5M3972 4001h5M3924 3966h5M3943 4046h5M3956 3995h5M3909 3951h5M4078 3833h5M3931 3938h5M3894 4094h5M3993 3916h5M3957 3957h5M3928 4081h5M3963 4002h5M4051 3926h5M3953 4013h5M3870 4003h5M3884 4064h5M4006 3933h5M3929 4069h5M3954 3970h5M4033 3875h5M3988 3972h5M3927 3943h5M3859 4075h5M3853 3943h5M3916 4044h5M3880 3995h5M3901 3979h5M3951 4009h5M3958 3968h5M3990 3964h5M3938 4024h5M3983 3955h5M4014 3907h5M3960 4015h5M3954 3926h5M3868 4061h5M3927 3933h5M3935 4013h5M3946 4080h5M3964 4017h5M3952 3926h5M3983 4029h5M3935 3924h5M3923 4000h5M3967 4058h5M4022 3972h5M3979 3949h5M4084 3994h5M3945 3950h5M3876 3998h5M3917 4007h5M3837 4014h5M3887 4005h5M3972 3980h5M3911 3903h5M3948 4004h5M3897 4050h5M3884 4037h5M4036 3847h5M3859 4055h5M3959 3982h5M3922 4031h5M3972 3932h5M3745 4050h5M3940 4038h5M4008 4070h5M3983 3796h5M3849 3971h5M3915 3962h5M3982 3950h5M3976 4063h5M3876 3952h5M3782 4107h5M3959 3895h5M3904 3855h5M3790 3966h5M3788 3912h5M3954 4078h5M4120 3941h5M3919 4083h5M3904 3995h5M3917 3888h5M3898 4229h5M3903 3817h5M3974 4005h5M4007 3895h5M3951 4019h5M3982 3939h5M4041 3974h5M4114 4010h5M3842 3830h5M3978 3995h5M3928 3963h5M3867 3989h5M3926 3960h5M3880 3972h5M3928 3999h5M3925 3932h5M3877 4105h5M3930 4011h5M3766 4020h5M3779 4087h5M3755 3926h5M3856 4067h5M3817 4005h5M4051 3887h5M3915 4026h5M3905 3906h5M3916 4195h5M3890 3981h5M4063 3858h5M3934 4040h5M3829 3942h5M3989 3717h5M3902 4026h5M4143 3900h5M3966 3985h5M4200 3854h5M3915 4027h5M3873 4000h5M4055 4034h5M3728 3942h5M3711 4042h5M3905 4028h5M3654 4039h5M3952 3970h5M3862 4050h5M3958 4041h5M3801 3798h5M3930 4108h5M3903 3919h5M3887 3991h5M3827 4015h5M3765 4021h5M3866 3988h5M3905 3904h5M3834 4171h5M3878 4071h5M3831 3948h5M3901 4128h5M3875 4110h5M3905 3897h5M3861 4035h5M3899 4011h5M3824 4070h5M3922 4044h5M3836 3910h5M3843 3922h5M3868 4087h5M3744 4187h5M3929 3992h5M3983 3935h5M3927 4011h5M3877 3988h5M3960 4007h5M4050 3878h5M3930 3934h5M3818 3992h5M3964 4049h5M3968 3914h5M3888 4088h5M3931 3961h5M4056 3966h5M4034 3904h5M4031 3819h5M3925 3991h5M3893 4088h5M3931 3917h5M3747 3927h5M3966 3820h5M4009 4016h5M3970 4037h5M3937 3916h5M4061 3969h5M3994 4004h5M4024 3994h5M3910 3959h5M3863 4051h5M4055 3932h5M3912 4033h5M3835 4043h5M3757 3985h5M3790 4039h5M3929 4085h5M3858 3971h5M3957 3937h5M3901 4146h5M3911 4003h5M3876 3980h5M3931 3964h5M3901 4139h5M3839 3888h5M3852 3938h5M3861 3869h5M3907 3851h5M4019 3982h5M4041 3846h5M3971 3994h5M4008 3899h5M4136 4046h5M3995 3897h5M4031 3902h5M3973 3971h5M3874 4105h5M4023 4029h5M3897 3814h5M3873 4000h5M3923 3952h5M3832 3834h5M3984 3962h5M4028 4006h5M3792 4036h5M3957 4035h5M3913 3896h5M3917 3981h5M3946 4157h5M4035 3954h5M3858 4077h5M3949 4046h5M3887 4142h5M4007 4033h5M3921 4039h5" stroke="#2a40e8" stroke-width="5" stroke-opacity="0.7"/>
<ellipse cx="393" cy="398.5" rx="11.5" ry="8" fill="#2a44ea" fill-opacity="0.6" filter="url(#b12)" transform="rotate(-58 393 398.5)"/>
<ellipse cx="393" cy="398.5" rx="8.97" ry="6.24" fill="#2a62f2" fill-opacity="0.75" filter="url(#b8)" transform="rotate(-58 393 398.5)"/>
<ellipse cx="393" cy="398.5" rx="6.67" ry="4.64" fill="#26c0f0" fill-opacity="0.9" filter="url(#b8)" transform="rotate(-58 393 398.5)"/>
<ellipse cx="393" cy="398.5" rx="5.06" ry="3.52" fill="#40dc90" fill-opacity="0.92" filter="url(#b8)" transform="rotate(-58 393 398.5)"/>
<ellipse cx="393" cy="398.5" rx="3.68" ry="2.56" fill="#c4ec34" fill-opacity="0.92" filter="url(#b8)" transform="rotate(-58 393 398.5)"/>
<path transform="scale(.1)" d="M3983 3852h5M4015 3904h5M4061 3840h5M4009 3882h5M4031 3870h5M4014 3895h5M4130 3813h5M4048 3805h5M4033 3850h5M4108 3843h5M4077 3840h5M4021 3826h5M4011 3850h5M4055 3849h5M3902 3884h5M3987 3918h5M4022 3830h5M4013 3923h5M4041 3880h5M4064 3882h5M4105 3903h5M3992 3893h5M4026 3860h5M4036 3854h5M4120 3825h5M4033 3891h5M3980 3925h5M4057 3852h5M3944 3938h5M4015 3881h5M4064 3846h5M4150 3811h5M4069 3865h5M4110 3810h5M3994 3913h5M4027 3838h5M4130 3876h5M4063 3879h5M3973 3875h5M4028 3903h5M3978 3896h5M4069 3839h5M4029 3844h5M4086 3858h5M4001 3862h5M4038 3864h5M4044 3890h5M4044 3857h5M4018 3914h5M4084 3811h5M4097 3880h5M3984 3875h5M4031 3909h5M3985 3920h5M4024 3912h5M4011 3944h5M4052 3870h5M4068 3912h5M3987 3938h5M4075 3812h5M4012 3876h5M4018 3889h5M4126 3796h5M4021 3941h5M4015 3853h5M4090 3855h5M4027 3873h5M4046 3875h5M4054 3915h5M3985 3895h5M4007 3897h5M4030 3933h5M4094 3867h5M4017 3899h5M4037 3910h5M3997 3867h5M3984 3910h5M4045 3851h5M4026 3943h5M4037 3901h5M3984 3875h5M4070 3842h5M3996 3873h5M4017 3871h5M4087 3843h5M4053 3853h5M3945 3948h5M4058 3836h5M4039 3839h5M4100 3838h5M4158 3818h5M3992 3878h5M4011 3926h5M3983 3910h5M4007 3867h5M4031 3869h5M4094 3845h5M4119 3843h5M4009 3886h5M3969 3910h5M3945 3911h5M4039 3876h5M4045 3856h5M4024 3893h5M4074 3852h5M4096 3813h5M4087 3849h5M4092 3887h5M4034 3864h5M4027 3864h5M3934 3899h5M4021 3850h5M4057 3855h5M4063 3914h5M4032 3907h5M4071 3870h5M3978 3890h5M3996 3866h5M3985 3908h5M4064 3870h5M4126 3776h5M3995 3835h5M4071 3863h5M4079 3899h5M3937 3845h5M4142 3740h5M3963 3850h5M3950 3839h5M4026 3863h5M3947 3886h5M4075 3838h5M4146 3873h5M4113 3896h5M3952 3875h5M4034 3880h5M3893 3921h5M3996 3876h5M4186 3842h5M3974 3884h5M4022 3879h5M3886 3930h5M3933 3829h5M4124 3826h5M4091 3938h5M4140 3745h5M4085 3829h5M3979 3827h5M3990 4004h5M3985 3883h5M4079 3864h5M4063 3858h5M4096 3831h5M4068 3814h5M4123 3832h5M3983 3881h5M4078 3926h5M3973 3943h5M3986 3911h5M4032 3756h5M3956 3957h5M3973 3906h5M4120 3976h5M3993 3876h5M4015 3941h5M3986 3885h5M4016 3871h5M4063 3900h5M4068 3791h5M4028 3872h5M3951 3838h5M4010 4008h5M4058 3845h5M3955 3809h5M4027 3872h5M3985 3850h5M4024 3792h5M3966 3942h5M4030 3949h5M4044 3853h5M4164 3832h5" stroke="#2a40e8" stroke-width="5" stroke-opacity="0.7"/>
<ellipse cx="403" cy="387.5" rx="9" ry="4.5" fill="#2a44ea" fill-opacity="0.6" filter="url(#b12)" transform="rotate(-35 403 387.5)"/>
<ellipse cx="403" cy="387.5" rx="7.02" ry="3.51" fill="#2a62f2" fill-opacity="0.75" filter="url(#b8)" transform="rotate(-35 403 387.5)"/>
</g>
<rect x="356.9" y="364.4" width="51.5" height="49" fill="none" stroke="#888" stroke-width="0.6"/>
<line x1="380.6" y1="364.4" x2="380.6" y2="413.4" stroke="#444" stroke-width="0.6"/>
<line x1="356.9" y1="394.4" x2="408.4" y2="394.4" stroke="#444" stroke-width="0.6"/>
<text x="406.8" y="371.8" font-size="5.8" text-anchor="end" font-weight="bold" textLength="11.2" lengthAdjust="spacingAndGlyphs">18.2</text>
<text x="348.7" y="378.2" font-size="4.3" fill="#222">10<tspan font-size="2.67" dy="-1.94">4</tspan></text>
<text x="348.7" y="392.2" font-size="4.3" fill="#222">10<tspan font-size="2.67" dy="-1.94">3</tspan></text>
<text x="348.7" y="407.8" font-size="4.3" fill="#222">10<tspan font-size="2.67" dy="-1.94">2</tspan></text>
<text x="363.7" y="425.3" font-size="4.3" fill="#222">10<tspan font-size="2.67" dy="-1.94">2</tspan></text>
<text x="379.8" y="425.3" font-size="4.3" fill="#222">10<tspan font-size="2.67" dy="-1.94">3</tspan></text>
<text x="397.3" y="425.3" font-size="4.3" fill="#222">10<tspan font-size="2.67" dy="-1.94">4</tspan></text>
<line x1="10.6" y1="367.7" x2="10.6" y2="400.5" stroke="#333" stroke-width="1.2"/>
<path d="M10.6 363L8.3 368.2L12.9 368.2Z" fill="#111"/>
<text x="12.5" y="409.6" font-size="6.5" text-anchor="middle" fill="#222" textLength="8.5" lengthAdjust="spacingAndGlyphs" transform="rotate(-90 12.5 409.6)">Gr-1</text>
<text x="27.8" y="435.4" font-size="6.5" fill="#222" textLength="15.2" lengthAdjust="spacingAndGlyphs">CD11b</text>
<line x1="45.8" y1="432.6" x2="194.5" y2="432.6" stroke="#333" stroke-width="1.2"/>
<path d="M199 432.6L194 430.3L194 434.9Z" fill="#111"/>
<line x1="445.9" y1="402.6" x2="447.5" y2="402.6" stroke="#111" stroke-width="0.7"/>
<text x="442.3" y="404" font-size="4" text-anchor="end" fill="#222">0</text>
<line x1="445.9" y1="391.87" x2="447.5" y2="391.87" stroke="#111" stroke-width="0.7"/>
<text x="442.3" y="393.27" font-size="4" text-anchor="end" fill="#222">5</text>
<line x1="445.9" y1="381.14" x2="447.5" y2="381.14" stroke="#111" stroke-width="0.7"/>
<text x="442.3" y="382.54" font-size="4" text-anchor="end" fill="#222">10</text>
<line x1="445.9" y1="370.41" x2="447.5" y2="370.41" stroke="#111" stroke-width="0.7"/>
<text x="442.3" y="371.81" font-size="4" text-anchor="end" fill="#222">15</text>
<line x1="445.9" y1="359.68" x2="447.5" y2="359.68" stroke="#111" stroke-width="0.7"/>
<text x="442.3" y="361.08" font-size="4" text-anchor="end" fill="#222">20</text>
<line x1="445.9" y1="348.95" x2="447.5" y2="348.95" stroke="#111" stroke-width="0.7"/>
<text x="442.3" y="350.35" font-size="4" text-anchor="end" fill="#222">25</text>
<line x1="447.5" y1="347.5" x2="447.5" y2="403.1" stroke="#111" stroke-width="0.9"/>
<line x1="447.1" y1="402.6" x2="478.8" y2="402.6" stroke="#111" stroke-width="0.9"/>
<line x1="450.3" y1="402.6" x2="450.3" y2="404.4" stroke="#111" stroke-width="0.7"/>
<circle cx="450.3" cy="396.9" r=".6" fill="#e0306a"/>
<circle cx="449.5" cy="397.2" r=".6" fill="#e0306a"/>
<circle cx="449.7" cy="397.0" r=".6" fill="#e0306a"/>
<circle cx="450.5" cy="397.6" r=".6" fill="#e0306a"/>
<line x1="448.5" y1="397.66" x2="452.1" y2="397.66" stroke="#111" stroke-width="0.8"/>
<line x1="455.4" y1="402.6" x2="455.4" y2="404.4" stroke="#111" stroke-width="0.7"/>
<circle cx="456.0" cy="396.8" r=".6" fill="#e08a20"/>
<circle cx="456.2" cy="396.5" r=".6" fill="#e08a20"/>
<circle cx="454.2" cy="396.4" r=".6" fill="#e08a20"/>
<circle cx="454.7" cy="398.0" r=".6" fill="#e08a20"/>
<line x1="453.6" y1="397.24" x2="457.2" y2="397.24" stroke="#111" stroke-width="0.8"/>
<line x1="461" y1="402.6" x2="461" y2="404.4" stroke="#111" stroke-width="0.7"/>
<circle cx="460.9" cy="394.9" r=".6" fill="#a09a20"/>
<circle cx="459.9" cy="393.9" r=".6" fill="#a09a20"/>
<circle cx="460.7" cy="394.2" r=".6" fill="#a09a20"/>
<circle cx="460.3" cy="395.0" r=".6" fill="#a09a20"/>
<line x1="459.2" y1="394.66" x2="462.8" y2="394.66" stroke="#111" stroke-width="0.8"/>
<line x1="465.7" y1="402.6" x2="465.7" y2="404.4" stroke="#111" stroke-width="0.7"/>
<circle cx="465.2" cy="398.3" r=".6" fill="#3050d0"/>
<circle cx="465.6" cy="398.2" r=".6" fill="#3050d0"/>
<circle cx="464.6" cy="398.3" r=".6" fill="#3050d0"/>
<circle cx="464.6" cy="397.4" r=".6" fill="#3050d0"/>
<line x1="463.9" y1="398.09" x2="467.5" y2="398.09" stroke="#111" stroke-width="0.8"/>
<line x1="471.1" y1="402.6" x2="471.1" y2="404.4" stroke="#111" stroke-width="0.7"/>
<circle cx="471.5" cy="397.7" r=".6" fill="#40a040"/>
<circle cx="471.5" cy="397.9" r=".6" fill="#40a040"/>
<circle cx="470.6" cy="397.5" r=".6" fill="#40a040"/>
<circle cx="471.5" cy="397.9" r=".6" fill="#40a040"/>
<line x1="469.3" y1="397.24" x2="472.9" y2="397.24" stroke="#111" stroke-width="0.8"/>
<line x1="476" y1="402.6" x2="476" y2="404.4" stroke="#111" stroke-width="0.7"/>
<circle cx="475.1" cy="363.2" r=".6" fill="#5040c0"/>
<circle cx="474.7" cy="362.7" r=".6" fill="#5040c0"/>
<circle cx="475.8" cy="363.5" r=".6" fill="#5040c0"/>
<circle cx="476.2" cy="362.7" r=".6" fill="#5040c0"/>
<line x1="474.2" y1="363.33" x2="477.8" y2="363.33" stroke="#111" stroke-width="0.8"/>
<line x1="476" y1="355.8" x2="476" y2="358" stroke="#111" stroke-width="0.6"/>
<text x="433.8" y="374.5" font-size="4.8" text-anchor="middle" fill="#222" textLength="60" lengthAdjust="spacingAndGlyphs" transform="rotate(-90 433.8 374.5)">CD11b+Gr-1+Edu+ cells (%)</text>
<text x="451.5" y="405.2" font-size="3.7" text-anchor="end" fill="#222" textLength="26" lengthAdjust="spacingAndGlyphs" transform="rotate(-45 451.5 405.2)">osteoclast-CM</text>
<text x="456.6" y="405.2" font-size="3.7" text-anchor="end" fill="#222" textLength="28.5" lengthAdjust="spacingAndGlyphs" transform="rotate(-45 456.6 405.2)">endothelium-CM</text>
<text x="462.2" y="405.2" font-size="3.7" text-anchor="end" fill="#222" textLength="18" lengthAdjust="spacingAndGlyphs" transform="rotate(-45 462.2 405.2)">BMSC-CM</text>
<text x="466.9" y="405.2" font-size="3.7" text-anchor="end" fill="#222" textLength="28" lengthAdjust="spacingAndGlyphs" transform="rotate(-45 466.9 405.2)">lymphocyte-CM</text>
<text x="472.3" y="405.2" font-size="3.7" text-anchor="end" fill="#222" textLength="25" lengthAdjust="spacingAndGlyphs" transform="rotate(-45 472.3 405.2)">monocyte-CM</text>
<text x="477.2" y="405.2" font-size="3.7" text-anchor="end" fill="#222" textLength="25" lengthAdjust="spacingAndGlyphs" transform="rotate(-45 477.2 405.2)">osteocyte-CM</text><path d="M0 0H520V443H0ZM1 1V441.8H518.8V1Z" fill="#000" fill-rule="evenodd"/></svg></body></html>
